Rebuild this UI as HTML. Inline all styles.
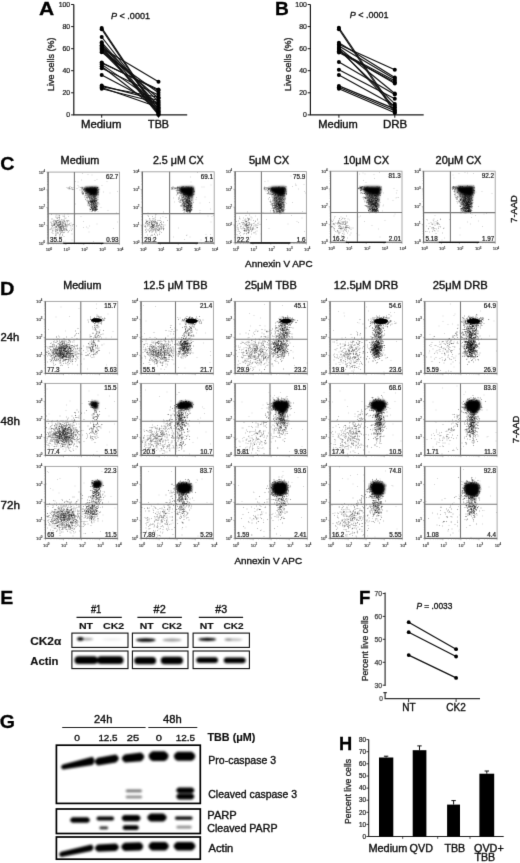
<!DOCTYPE html>
<html><head><meta charset="utf-8"><style>
html,body{margin:0;padding:0;background:#fff;}
body{width:520px;height:863px;overflow:hidden;}
svg{display:block;font-family:"Liberation Sans", sans-serif;will-change:transform;}
</style></head><body>
<svg width="520" height="863" viewBox="0 0 520 863">
<defs><filter id="gb" x="0" y="0" width="100%" height="100%" color-interpolation-filters="sRGB"><feConvolveMatrix order="3" kernelMatrix="0 1 0 1 8 1 0 1 0" edgeMode="duplicate"/></filter></defs>
<g filter="url(#gb)">
<rect width="520" height="863" fill="#fff"/>
<defs><filter id="b1" x="-30%" y="-60%" width="160%" height="220%"><feGaussianBlur stdDeviation="0.9"/></filter><filter id="b2" x="-30%" y="-60%" width="160%" height="220%"><feGaussianBlur stdDeviation="1.3"/></filter><filter id="b3" x="-30%" y="-30%" width="160%" height="160%"><feGaussianBlur stdDeviation="0.35"/></filter><filter id="bp" x="-5%" y="-5%" width="110%" height="110%"><feGaussianBlur stdDeviation="1.2"/></filter></defs>
<path d="M73.8 4.5V114.9H187.2" stroke="#1a1a1a" stroke-width="1.2" fill="none"/>
<path d="M71.1 114.9H73.8" stroke="#1a1a1a" stroke-width="1"/>
<text x="70.2" y="117.4" font-size="6.9" text-anchor="end" fill="#222" stroke="#222" stroke-width="0.24">0</text>
<path d="M71.1 92.8H73.8" stroke="#1a1a1a" stroke-width="1"/>
<text x="70.2" y="95.3" font-size="6.9" text-anchor="end" fill="#222" stroke="#222" stroke-width="0.24">20</text>
<path d="M71.1 70.7H73.8" stroke="#1a1a1a" stroke-width="1"/>
<text x="70.2" y="73.2" font-size="6.9" text-anchor="end" fill="#222" stroke="#222" stroke-width="0.24">40</text>
<path d="M71.1 48.7H73.8" stroke="#1a1a1a" stroke-width="1"/>
<text x="70.2" y="51.1" font-size="6.9" text-anchor="end" fill="#222" stroke="#222" stroke-width="0.24">60</text>
<path d="M71.1 26.6H73.8" stroke="#1a1a1a" stroke-width="1"/>
<text x="70.2" y="29" font-size="6.9" text-anchor="end" fill="#222" stroke="#222" stroke-width="0.24">80</text>
<path d="M71.1 4.5H73.8" stroke="#1a1a1a" stroke-width="1"/>
<text x="70.2" y="7" font-size="6.9" text-anchor="end" fill="#222" stroke="#222" stroke-width="0.24">100</text>
<path d="M101.7 114.9V117.7" stroke="#1a1a1a" stroke-width="1"/>
<path d="M158.5 114.9V117.7" stroke="#1a1a1a" stroke-width="1"/>
<text x="81" y="127.5" font-size="10.2" fill="#111" stroke="#111" stroke-width="0.36" textLength="40.4" lengthAdjust="spacingAndGlyphs">Medium</text>
<text x="148.1" y="127.5" font-size="10.2" fill="#111" stroke="#111" stroke-width="0.36" textLength="20.9" lengthAdjust="spacingAndGlyphs">TBB</text>
<text x="54.4" y="64.2" font-size="9" text-anchor="middle" fill="#222" stroke="#222" stroke-width="0.32" transform="rotate(-90 54.4 64.2)" textLength="53.5" lengthAdjust="spacingAndGlyphs">Live cells (%)</text>
<text x="38.9" y="14.6" font-size="18.4" font-weight="bold" stroke="#000" stroke-width="0.28" textLength="15.2" lengthAdjust="spacingAndGlyphs">A</text>
<text x="111" y="18.8" font-size="8.8" fill="#111" stroke="#111" stroke-width="0.31" textLength="39" lengthAdjust="spacingAndGlyphs"><tspan font-style="italic">P</tspan> &lt; .0001</text>
<line x1="101.7" y1="27.9" x2="158.5" y2="112.7" stroke="#111" stroke-width="1.15"/>
<line x1="101.7" y1="29.2" x2="158.5" y2="114.3" stroke="#111" stroke-width="1.15"/>
<line x1="101.7" y1="37" x2="158.5" y2="109.4" stroke="#111" stroke-width="1.15"/>
<line x1="101.7" y1="42.3" x2="158.5" y2="106.1" stroke="#111" stroke-width="1.15"/>
<line x1="101.7" y1="43.8" x2="158.5" y2="111.6" stroke="#111" stroke-width="1.15"/>
<line x1="101.7" y1="45.2" x2="158.5" y2="101.7" stroke="#111" stroke-width="1.15"/>
<line x1="101.7" y1="47.1" x2="158.5" y2="113.8" stroke="#111" stroke-width="1.15"/>
<line x1="101.7" y1="48.1" x2="158.5" y2="81.8" stroke="#111" stroke-width="1.15"/>
<line x1="101.7" y1="49.7" x2="158.5" y2="98.3" stroke="#111" stroke-width="1.15"/>
<line x1="101.7" y1="51" x2="158.5" y2="108.3" stroke="#111" stroke-width="1.15"/>
<line x1="101.7" y1="52.3" x2="158.5" y2="92.8" stroke="#111" stroke-width="1.15"/>
<line x1="101.7" y1="62.5" x2="158.5" y2="90.6" stroke="#111" stroke-width="1.15"/>
<line x1="101.7" y1="64.4" x2="158.5" y2="103.9" stroke="#111" stroke-width="1.15"/>
<line x1="101.7" y1="66.3" x2="158.5" y2="110.5" stroke="#111" stroke-width="1.15"/>
<line x1="101.7" y1="68.3" x2="158.5" y2="95" stroke="#111" stroke-width="1.15"/>
<line x1="101.7" y1="75" x2="158.5" y2="105" stroke="#111" stroke-width="1.15"/>
<line x1="101.7" y1="85.6" x2="158.5" y2="100.5" stroke="#111" stroke-width="1.15"/>
<line x1="101.7" y1="87.5" x2="158.5" y2="107.2" stroke="#111" stroke-width="1.15"/>
<line x1="101.7" y1="88.8" x2="158.5" y2="102.8" stroke="#111" stroke-width="1.15"/>
<line x1="101.7" y1="86.7" x2="158.5" y2="97.2" stroke="#111" stroke-width="1.15"/>
<line x1="101.7" y1="45.9" x2="158.5" y2="114.9" stroke="#111" stroke-width="1.15"/>
<line x1="101.7" y1="48.7" x2="158.5" y2="112.1" stroke="#111" stroke-width="1.15"/>
<line x1="101.7" y1="63" x2="158.5" y2="89.5" stroke="#111" stroke-width="1.15"/>
<circle cx="101.7" cy="27.9" r="2"/>
<circle cx="158.5" cy="112.7" r="2"/>
<circle cx="101.7" cy="29.2" r="2"/>
<circle cx="158.5" cy="114.3" r="2"/>
<circle cx="101.7" cy="37" r="2"/>
<circle cx="158.5" cy="109.4" r="2"/>
<circle cx="101.7" cy="42.3" r="2"/>
<circle cx="158.5" cy="106.1" r="2"/>
<circle cx="101.7" cy="43.8" r="2"/>
<circle cx="158.5" cy="111.6" r="2"/>
<circle cx="101.7" cy="45.2" r="2"/>
<circle cx="158.5" cy="101.7" r="2"/>
<circle cx="101.7" cy="47.1" r="2"/>
<circle cx="158.5" cy="113.8" r="2"/>
<circle cx="101.7" cy="48.1" r="2"/>
<circle cx="158.5" cy="81.8" r="2"/>
<circle cx="101.7" cy="49.7" r="2"/>
<circle cx="158.5" cy="98.3" r="2"/>
<circle cx="101.7" cy="51" r="2"/>
<circle cx="158.5" cy="108.3" r="2"/>
<circle cx="101.7" cy="52.3" r="2"/>
<circle cx="158.5" cy="92.8" r="2"/>
<circle cx="101.7" cy="62.5" r="2"/>
<circle cx="158.5" cy="90.6" r="2"/>
<circle cx="101.7" cy="64.4" r="2"/>
<circle cx="158.5" cy="103.9" r="2"/>
<circle cx="101.7" cy="66.3" r="2"/>
<circle cx="158.5" cy="110.5" r="2"/>
<circle cx="101.7" cy="68.3" r="2"/>
<circle cx="158.5" cy="95" r="2"/>
<circle cx="101.7" cy="75" r="2"/>
<circle cx="158.5" cy="105" r="2"/>
<circle cx="101.7" cy="85.6" r="2"/>
<circle cx="158.5" cy="100.5" r="2"/>
<circle cx="101.7" cy="87.5" r="2"/>
<circle cx="158.5" cy="107.2" r="2"/>
<circle cx="101.7" cy="88.8" r="2"/>
<circle cx="158.5" cy="102.8" r="2"/>
<circle cx="101.7" cy="86.7" r="2"/>
<circle cx="158.5" cy="97.2" r="2"/>
<circle cx="101.7" cy="45.9" r="2"/>
<circle cx="158.5" cy="114.9" r="2"/>
<circle cx="101.7" cy="48.7" r="2"/>
<circle cx="158.5" cy="112.1" r="2"/>
<circle cx="101.7" cy="63" r="2"/>
<circle cx="158.5" cy="89.5" r="2"/>
<path d="M310.4 4.5V114.9H423.7" stroke="#1a1a1a" stroke-width="1.2" fill="none"/>
<path d="M307.7 114.9H310.4" stroke="#1a1a1a" stroke-width="1"/>
<text x="306.8" y="117.4" font-size="6.9" text-anchor="end" fill="#222" stroke="#222" stroke-width="0.24">0</text>
<path d="M307.7 92.8H310.4" stroke="#1a1a1a" stroke-width="1"/>
<text x="306.8" y="95.3" font-size="6.9" text-anchor="end" fill="#222" stroke="#222" stroke-width="0.24">20</text>
<path d="M307.7 70.7H310.4" stroke="#1a1a1a" stroke-width="1"/>
<text x="306.8" y="73.2" font-size="6.9" text-anchor="end" fill="#222" stroke="#222" stroke-width="0.24">40</text>
<path d="M307.7 48.7H310.4" stroke="#1a1a1a" stroke-width="1"/>
<text x="306.8" y="51.1" font-size="6.9" text-anchor="end" fill="#222" stroke="#222" stroke-width="0.24">60</text>
<path d="M307.7 26.6H310.4" stroke="#1a1a1a" stroke-width="1"/>
<text x="306.8" y="29" font-size="6.9" text-anchor="end" fill="#222" stroke="#222" stroke-width="0.24">80</text>
<path d="M307.7 4.5H310.4" stroke="#1a1a1a" stroke-width="1"/>
<text x="306.8" y="7" font-size="6.9" text-anchor="end" fill="#222" stroke="#222" stroke-width="0.24">100</text>
<path d="M338.9 114.9V117.7" stroke="#1a1a1a" stroke-width="1"/>
<path d="M394.8 114.9V117.7" stroke="#1a1a1a" stroke-width="1"/>
<text x="318.3" y="127.5" font-size="10.2" fill="#111" stroke="#111" stroke-width="0.36" textLength="39.5" lengthAdjust="spacingAndGlyphs">Medium</text>
<text x="382.9" y="127.5" font-size="10.2" fill="#111" stroke="#111" stroke-width="0.36" textLength="24.3" lengthAdjust="spacingAndGlyphs">DRB</text>
<text x="291" y="64.2" font-size="9" text-anchor="middle" fill="#222" stroke="#222" stroke-width="0.32" transform="rotate(-90 291 64.2)" textLength="53.5" lengthAdjust="spacingAndGlyphs">Live cells (%)</text>
<text x="274.9" y="14.6" font-size="18.4" font-weight="bold" stroke="#000" stroke-width="0.28" textLength="13.8" lengthAdjust="spacingAndGlyphs">B</text>
<text x="349.7" y="17.9" font-size="8.8" fill="#111" stroke="#111" stroke-width="0.31" textLength="38.8" lengthAdjust="spacingAndGlyphs"><tspan font-style="italic">P</tspan> &lt; .0001</text>
<line x1="338.9" y1="27.7" x2="394.8" y2="110.8" stroke="#111" stroke-width="1.15"/>
<line x1="338.9" y1="29.3" x2="394.8" y2="112.7" stroke="#111" stroke-width="1.15"/>
<line x1="338.9" y1="42.7" x2="394.8" y2="77.4" stroke="#111" stroke-width="1.15"/>
<line x1="338.9" y1="44.4" x2="394.8" y2="69.7" stroke="#111" stroke-width="1.15"/>
<line x1="338.9" y1="46.1" x2="394.8" y2="78.9" stroke="#111" stroke-width="1.15"/>
<line x1="338.9" y1="47.8" x2="394.8" y2="93.5" stroke="#111" stroke-width="1.15"/>
<line x1="338.9" y1="49.7" x2="394.8" y2="103.9" stroke="#111" stroke-width="1.15"/>
<line x1="338.9" y1="51.2" x2="394.8" y2="80.8" stroke="#111" stroke-width="1.15"/>
<line x1="338.9" y1="52.6" x2="394.8" y2="82.3" stroke="#111" stroke-width="1.15"/>
<line x1="338.9" y1="48.7" x2="394.8" y2="107.3" stroke="#111" stroke-width="1.15"/>
<line x1="338.9" y1="50.9" x2="394.8" y2="83.5" stroke="#111" stroke-width="1.15"/>
<line x1="338.9" y1="61.9" x2="394.8" y2="94.6" stroke="#111" stroke-width="1.15"/>
<line x1="338.9" y1="69.7" x2="394.8" y2="98.8" stroke="#111" stroke-width="1.15"/>
<line x1="338.9" y1="75" x2="394.8" y2="105.7" stroke="#111" stroke-width="1.15"/>
<line x1="338.9" y1="85.9" x2="394.8" y2="108.9" stroke="#111" stroke-width="1.15"/>
<line x1="338.9" y1="87.2" x2="394.8" y2="110.8" stroke="#111" stroke-width="1.15"/>
<line x1="338.9" y1="88.8" x2="394.8" y2="112.7" stroke="#111" stroke-width="1.15"/>
<circle cx="338.9" cy="27.7" r="2"/>
<circle cx="394.8" cy="110.8" r="2"/>
<circle cx="338.9" cy="29.3" r="2"/>
<circle cx="394.8" cy="112.7" r="2"/>
<circle cx="338.9" cy="42.7" r="2"/>
<circle cx="394.8" cy="77.4" r="2"/>
<circle cx="338.9" cy="44.4" r="2"/>
<circle cx="394.8" cy="69.7" r="2"/>
<circle cx="338.9" cy="46.1" r="2"/>
<circle cx="394.8" cy="78.9" r="2"/>
<circle cx="338.9" cy="47.8" r="2"/>
<circle cx="394.8" cy="93.5" r="2"/>
<circle cx="338.9" cy="49.7" r="2"/>
<circle cx="394.8" cy="103.9" r="2"/>
<circle cx="338.9" cy="51.2" r="2"/>
<circle cx="394.8" cy="80.8" r="2"/>
<circle cx="338.9" cy="52.6" r="2"/>
<circle cx="394.8" cy="82.3" r="2"/>
<circle cx="338.9" cy="48.7" r="2"/>
<circle cx="394.8" cy="107.3" r="2"/>
<circle cx="338.9" cy="50.9" r="2"/>
<circle cx="394.8" cy="83.5" r="2"/>
<circle cx="338.9" cy="61.9" r="2"/>
<circle cx="394.8" cy="94.6" r="2"/>
<circle cx="338.9" cy="69.7" r="2"/>
<circle cx="394.8" cy="98.8" r="2"/>
<circle cx="338.9" cy="75" r="2"/>
<circle cx="394.8" cy="105.7" r="2"/>
<circle cx="338.9" cy="85.9" r="2"/>
<circle cx="394.8" cy="108.9" r="2"/>
<circle cx="338.9" cy="87.2" r="2"/>
<circle cx="394.8" cy="110.8" r="2"/>
<circle cx="338.9" cy="88.8" r="2"/>
<circle cx="394.8" cy="112.7" r="2"/>
<text x=".3" y="170.2" font-size="19" font-weight="bold" stroke="#000" stroke-width="0.28" textLength="14.2" lengthAdjust="spacingAndGlyphs">C</text>
<text x="60.6" y="164" font-size="10.0" fill="#111" stroke="#111" stroke-width="0.35" textLength="38.7" lengthAdjust="spacingAndGlyphs">Medium</text>
<rect x="48.1" y="172.1" width="71.3" height="71.1" fill="none" stroke="#a0a0a0" stroke-width="0.9"/>
<path d="M48.1 172.1V243.2H119.4" stroke="#666" stroke-width="1.1" fill="none"/>
<path d="M48.1 237.8h-1M53.5 243.2v1M48.1 234.7h-1M56.6 243.2v1M48.1 232.5h-1M58.8 243.2v1M48.1 230.8h-1M60.6 243.2v1M48.1 229.4h-1M62 243.2v1M48.1 228.2h-1M63.2 243.2v1M48.1 227.1h-1M64.2 243.2v1M48.1 226.2h-1M65.1 243.2v1M48.1 220.1h-1M71.3 243.2v1M48.1 216.9h-1M74.4 243.2v1M48.1 214.7h-1M76.7 243.2v1M48.1 213h-1M78.4 243.2v1M48.1 211.6h-1M79.8 243.2v1M48.1 210.4h-1M81 243.2v1M48.1 209.4h-1M82 243.2v1M48.1 208.5h-1M82.9 243.2v1M48.1 202.3h-1M89.1 243.2v1M48.1 199.2h-1M92.3 243.2v1M48.1 196.9h-1M94.5 243.2v1M48.1 195.2h-1M96.2 243.2v1M48.1 193.8h-1M97.6 243.2v1M48.1 192.6h-1M98.8 243.2v1M48.1 191.6h-1M99.8 243.2v1M48.1 190.7h-1M100.8 243.2v1M48.1 184.5h-1M106.9 243.2v1M48.1 181.4h-1M110.1 243.2v1M48.1 179.2h-1M112.3 243.2v1M48.1 177.5h-1M114 243.2v1M48.1 176h-1M115.4 243.2v1M48.1 174.9h-1M116.6 243.2v1M48.1 173.8h-1M117.7 243.2v1M48.1 172.9h-1M118.6 243.2v1M48.1 243.2h-1.8M48.1 243.2v1.8M48.1 225.4h-1.8M65.9 243.2v1.8M48.1 207.6h-1.8M83.8 243.2v1.8M48.1 189.9h-1.8M101.6 243.2v1.8M48.1 172.1h-1.8M119.4 243.2v1.8" stroke="#777" stroke-width="0.5" fill="none"/>
<path transform="scale(.5)" d="M108 455h0M130 447h0M107 451h0M125 462h0M108 440h0M127 456h0M135 461h0M119 449h0M146 449h0M112 442h0M121 453h0M117 451h0M123 458h0M131 454h0M102 458h0M106 450h0M105 452h0M112 454h0M153 452h0M128 440h0M117 458h0M119 455h0M121 443h0M126 445h0M139 447h0M127 452h0M130 446h0M130 451h0M133 458h0M121 445h0M128 456h0M136 449h0M126 457h0M123 454h0M122 446h0M110 448h0M126 466h0M130 462h0M128 458h0M122 459h0M138 449h0M113 470h0M122 461h0M129 442h0M144 468h0M122 459h0M121 444h0M119 455h0M131 459h0M121 464h0M112 459h0M131 449h0M102 444h0M122 457h0M135 443h0M120 458h0M118 430h0M128 473h0M130 444h0M116 454h0M145 458h0M121 466h0M119 469h0M113 448h0M127 465h0M127 455h0M102 445h0M114 447h0M126 449h0M128 453h0M117 453h0M124 460h0M115 450h0M106 467h0M135 450h0M115 441h0M122 454h0M142 454h0M112 430h0M134 454h0M104 454h0M104 484h0M131 457h0M118 432h0M119 438h0M126 432h0M111 463h0M136 441h0M105 460h0M129 443h0M113 446h0M108 446h0M133 458h0M141 451h0M119 443h0M119 440h0M102 458h0M134 460h0M133 454h0M113 453h0M116 442h0M103 438h0M120 453h0M115 465h0M122 457h0M132 444h0M100 459h0M113 464h0M123 461h0M128 433h0M127 446h0M112 448h0M128 460h0M130 437h0M114 430h0M119 458h0M112 454h0M122 461h0M112 444h0M112 468h0M131 451h0M122 453h0M122 450h0M117 440h0M114 467h0M125 453h0M118 453h0M124 446h0M122 454h0M113 445h0M110 442h0M129 430h0M117 446h0M114 453h0M131 453h0M119 446h0M119 460h0M116 441h0M107 442h0M106 462h0M124 450h0M135 446h0M128 459h0M105 438h0M111 460h0M133 441h0M130 448h0M116 447h0M117 435h0M110 441h0M125 471h0M147 449h0M103 448h0M111 470h0M126 445h0M129 457h0M104 447h0M118 452h0M121 449h0M122 447h0M111 466h0M124 456h0M104 450h0M128 440h0M131 448h0M124 451h0M122 463h0M116 466h0M112 443h0M127 442h0M116 460h0M132 436h0M125 469h0M132 450h0M114 449h0M108 450h0M118 451h0M132 450h0M105 462h0M109 448h0M119 449h0M110 450h0M142 446h0M119 462h0M127 459h0M129 434h0M111 453h0M125 464h0M125 450h0M120 450h0M122 458h0M117 445h0M111 462h0M133 461h0M129 460h0M120 458h0M109 450h0M113 459h0M114 451h0M124 464h0M112 443h0M128 442h0M125 447h0M119 435h0M127 447h0M111 471h0M127 484h0M124 449h0M121 467h0M120 456h0M125 444h0M121 447h0M108 460h0M127 453h0M111 434h0M125 451h0M103 451h0M105 452h0M121 455h0M122 454h0M109 448h0M115 450h0M123 458h0M136 428h0M124 450h0M143 461h0M103 456h0M115 461h0M109 451h0M119 451h0M114 435h0M125 461h0M119 443h0M122 457h0M118 452h0M134 442h0M114 434h0M113 445h0M110 446h0M138 450h0M119 472h0M119 436h0M124 443h0M136 441h0M114 437h0M121 443h0M119 449h0M114 461h0M129 453h0M111 442h0M123 474h0M115 445h0M113 442h0M110 450h0M134 452h0M115 437h0M122 452h0M108 442h0M120 461h0M126 454h0M117 455h0M120 472h0M109 449h0M133 450h0M134 452h0M121 449h0M106 443h0M142 458h0M126 461h0M126 461h0M117 450h0M130 449h0M107 450h0M115 458h0M113 442h0M117 466h0M120 453h0M120 455h0M129 465h0M104 465h0M120 449h0M144 450h0M139 461h0M110 456h0M127 451h0M118 442h0M138 450h0M116 449h0M112 445h0M121 455h0M115 451h0M106 457h0M113 454h0M111 447h0M122 441h0M145 452h0M119 445h0M136 465h0M123 439h0M115 458h0M115 441h0M108 445h0M120 446h0M120 478h0M138 442h0M123 453h0M119 462h0M117 449h0M116 451h0M133 459h0M107 448h0M112 460h0M122 460h0M119 434h0M125 454h0M125 440h0M121 446h0M113 455h0M124 444h0M103 429h0M114 462h0M119 431h0M111 456h0M137 463h0M124 454h0M109 448h0M117 445h0M121 448h0M123 465h0M127 456h0" stroke="#000" stroke-opacity="0.3" stroke-width="2.0" stroke-linecap="round" fill="none" filter="url(#bp)"/>
<path transform="scale(.5)" d="M199 408h0M196 423h0M156 364h0M156 371h0M216 421h0M194 359h0M178 392h0M175 411h0M235 383h0M202 415h0M190 361h0M233 426h0M151 408h0M184 350h0M163 360h0M214 363h0M151 363h0M220 386h0M207 384h0M165 347h0M176 349h0M172 396h0M182 384h0M204 371h0M180 418h0M179 452h0M173 454h0M144 480h0M130 482h0M217 478h0M120 457h0M235 444h0M121 469h0M130 461h0M119 482h0M137 433h0M194 448h0M176 456h0M227 457h0M151 428h0M167 443h0M178 464h0M162 433h0M167 455h0M187 483h0" stroke="#000" stroke-opacity="0.2" stroke-width="2.0" stroke-linecap="round" fill="none" filter="url(#bp)"/>
<path transform="scale(.5)" d="M190 414h0M189 403h0M177 402h0M194 418h0M188 420h0M184 400h0M193 420h0M183 404h0M184 404h0M189 418h0M189 418h0M186 420h0M184 387h0M191 421h0M181 414h0M172 391h0M193 416h0M189 395h0M184 412h0M190 410h0M183 405h0M187 407h0M190 415h0M190 416h0M192 419h0M191 419h0M190 408h0M179 403h0M195 414h0M183 397h0M194 401h0M187 394h0M184 417h0M193 410h0M172 390h0M189 399h0M183 411h0M189 397h0M186 401h0M192 398h0M187 417h0M182 406h0M193 391h0M187 407h0M196 399h0M182 387h0M190 403h0M176 394h0M181 402h0M196 410h0M186 400h0M189 389h0M192 418h0M181 414h0M186 408h0M186 418h0M187 416h0M185 417h0M187 410h0M182 403h0M179 390h0M189 403h0M182 390h0M190 418h0M180 388h0M186 408h0M196 388h0M184 410h0M187 403h0M188 405h0M179 399h0M190 419h0M186 414h0M173 394h0M190 413h0M190 418h0M177 393h0M176 405h0M188 418h0M192 415h0M183 403h0M189 404h0M192 421h0M179 387h0M188 403h0M191 408h0M190 418h0M189 421h0M186 404h0M190 423h0M192 415h0M182 414h0M178 390h0M193 401h0M185 405h0M192 397h0M188 408h0M195 419h0M190 418h0M192 402h0M186 399h0M178 408h0M175 392h0M185 412h0M190 411h0M179 418h0M184 398h0M181 410h0M183 407h0M178 411h0M182 414h0M185 406h0M190 411h0M196 405h0M192 416h0M193 410h0M187 406h0M174 402h0M193 414h0M185 413h0M179 411h0M185 408h0M187 390h0M184 401h0M174 401h0M192 411h0M191 405h0M193 411h0M189 394h0M180 422h0M181 398h0M192 419h0M184 404h0M192 389h0M185 404h0M181 405h0M193 401h0M187 417h0M180 409h0M187 394h0M192 397h0M185 414h0M193 419h0M194 413h0M177 406h0M183 415h0M179 395h0M188 401h0M190 419h0M191 421h0M188 403h0M187 407h0M177 407h0M190 398h0M179 392h0M186 399h0M192 397h0M190 406h0M193 403h0M189 409h0M188 403h0M191 406h0M188 414h0M183 415h0M183 409h0M191 417h0M185 398h0M176 409h0M190 408h0M176 395h0M183 387h0M190 400h0M192 390h0M185 415h0M180 396h0M188 411h0M187 401h0M179 397h0M188 396h0M182 389h0M180 403h0M190 407h0M185 420h0M177 390h0M184 418h0M177 405h0M197 390h0M180 396h0M183 406h0M183 403h0M190 423h0M179 412h0M189 403h0M188 418h0M191 402h0M182 399h0M185 397h0M184 398h0M185 403h0M185 418h0M176 403h0M171 399h0M179 394h0M185 416h0M178 404h0M191 415h0M181 419h0M191 393h0M190 401h0M181 404h0M174 390h0M184 401h0M180 408h0M190 413h0M177 394h0M184 406h0M185 418h0M172 398h0M186 387h0M187 420h0M193 413h0M194 414h0M185 418h0M184 404h0M181 390h0M178 401h0M186 405h0M175 400h0M184 403h0M188 415h0M178 412h0M182 392h0M183 389h0M181 401h0M180 390h0M188 398h0M184 394h0M187 401h0M192 419h0M185 403h0M191 400h0M181 419h0M184 394h0M185 422h0M179 396h0M184 387h0M181 402h0M189 409h0M191 410h0M192 402h0M189 400h0M192 419h0M187 394h0M182 403h0M189 415h0M179 402h0M179 408h0M188 393h0M183 393h0M191 394h0M182 418h0M187 418h0M184 414h0M190 401h0M192 416h0M189 413h0M192 418h0M184 413h0M169 394h0M185 420h0M187 412h0M195 419h0M188 391h0M189 400h0M185 422h0M187 409h0M182 404h0M183 398h0M191 412h0M188 413h0M183 417h0M186 421h0M179 407h0M181 409h0M184 411h0M181 404h0M170 391h0M176 391h0M196 407h0M185 409h0M187 418h0M189 413h0M193 402h0M191 402h0M183 415h0M172 394h0M190 402h0M175 389h0M181 419h0M191 416h0M190 405h0M184 420h0M188 420h0M181 419h0M183 409h0M191 413h0M188 402h0M187 420h0M180 392h0M189 414h0M183 413h0M185 403h0M183 387h0M194 409h0M192 396h0M196 395h0M194 405h0M183 415h0M188 401h0M182 396h0M185 421h0M183 411h0M192 412h0M188 406h0M190 393h0M187 411h0M181 402h0M176 407h0M187 410h0M185 419h0M196 406h0M195 413h0M192 407h0M182 410h0M190 420h0M189 415h0M183 423h0M190 397h0M187 406h0M188 399h0M185 392h0M190 397h0M191 415h0M183 415h0M177 404h0M192 418h0M176 392h0M193 412h0M196 392h0M191 420h0M188 396h0M182 402h0M184 410h0M175 395h0M187 414h0M190 421h0M180 404h0M186 414h0M184 402h0M191 406h0M185 401h0M189 402h0M186 398h0M191 402h0M187 414h0M189 414h0M177 405h0M194 406h0M188 400h0M178 404h0M186 418h0M192 417h0M188 412h0M181 394h0M189 403h0M194 418h0M186 388h0M183 406h0M189 416h0M188 421h0M190 416h0M183 387h0M188 405h0M182 401h0M182 395h0M187 395h0M190 411h0M191 416h0M183 396h0M193 421h0M180 388h0M189 393h0M186 402h0M173 395h0M183 408h0M176 403h0M184 396h0M183 417h0M184 419h0M188 404h0M194 418h0M190 395h0M190 415h0M172 390h0M194 399h0M182 388h0M178 394h0M185 403h0M193 413h0M193 407h0M182 404h0M185 402h0M184 405h0M190 391h0M184 390h0M175 397h0M183 402h0M188 415h0M181 388h0M194 410h0M176 383h0M176 378h0M184 383h0M174 381h0M181 385h0M165 375h0M172 378h0M191 380h0M193 380h0M173 384h0M166 389h0M192 379h0M174 386h0M191 384h0M165 386h0M165 383h0M182 388h0M185 374h0M196 385h0M183 374h0M189 380h0M187 389h0M195 375h0M190 381h0M189 380h0M179 381h0M167 379h0M189 375h0M167 387h0M186 382h0M167 376h0M174 388h0M183 388h0M170 380h0M182 387h0M167 387h0M180 374h0M178 380h0M187 388h0M180 384h0M177 386h0M167 385h0M169 383h0M170 379h0M169 379h0M184 382h0M177 383h0M192 379h0M183 381h0M197 379h0M187 377h0M172 385h0M183 378h0M165 387h0M176 385h0M178 383h0M183 389h0M195 381h0M180 377h0M189 375h0M174 387h0M164 385h0M183 382h0M175 376h0M196 386h0M191 375h0M190 377h0M170 382h0M184 376h0M190 383h0M194 388h0M187 379h0M196 385h0M173 387h0M188 378h0M172 374h0M182 378h0M173 378h0M168 381h0M173 378h0M173 382h0M194 376h0M193 387h0M184 382h0M189 382h0M186 388h0M190 378h0M165 388h0M176 386h0M171 381h0M176 385h0M196 382h0M183 379h0M171 388h0M167 388h0M186 375h0M195 375h0M183 376h0M198 379h0M194 375h0M186 375h0M164 383h0M197 384h0M193 386h0M181 375h0M181 377h0M181 379h0M180 377h0M188 380h0M180 375h0M180 382h0M197 382h0M168 378h0M175 385h0M196 389h0M196 388h0M193 388h0M164 381h0M184 384h0M184 383h0M196 375h0M181 389h0M164 376h0M193 389h0M164 374h0M192 384h0M181 383h0M190 386h0M163 375h0M191 389h0M192 380h0M175 379h0M164 386h0M172 383h0M181 379h0M187 381h0M171 387h0M169 376h0M172 381h0M190 379h0M171 384h0M172 382h0M172 387h0M169 377h0M174 379h0M188 384h0M191 382h0M166 386h0M172 377h0M178 389h0M146 375h0M167 380h0M147 379h0M160 380h0M145 378h0M143 375h0M154 377h0M161 375h0M134 375h0M136 377h0M164 378h0M163 378h0M166 379h0M165 377h0M139 376h0M140 373h0M138 376h0M158 374h0M165 376h0M138 378h0M143 378h0M140 377h0M145 379h0M140 378h0M138 375h0" stroke="#000" stroke-opacity="0.33" stroke-width="2.0" stroke-linecap="round" fill="none" filter="url(#bp)"/>
<path d="M83.5 188.4 86.5 187 97 186.8 98.3 188.1 98 193.6 95 196.6 89.5 194.6 85.5 192.1Z" fill="#000" fill-opacity="1.0" filter="url(#b1)"/>
<path d="M87.5 193.6 97.5 193.6 97 206 92 206Z" fill="#000" fill-opacity="0.3" filter="url(#b2)"/>
<path d="M74.4 172.1V243.2M48.1 213.8H119.4" stroke="#7a7a7a" stroke-width="1.1" fill="none"/>
<text x="118.2" y="179.1" font-size="6.3" text-anchor="end" fill="#222" stroke="#222" stroke-width="0.22">62.7</text>
<text x="49.9" y="242.2" font-size="6.3" fill="#222" stroke="#222" stroke-width="0.22">35.5</text>
<text x="118.4" y="242.2" font-size="6.3" text-anchor="end" fill="#222" stroke="#222" stroke-width="0.22">0.93</text>
<path d="M63.3 243.4H103.4" stroke="#111" stroke-width="1.3"/>
<text x="41.9" y="244.6" font-size="4.3" text-anchor="middle" fill="#333" stroke="#333" stroke-width="0.15">10<tspan font-size="2.9" dy="-1.7">0</tspan></text>
<text x="41.9" y="226.8" font-size="4.3" text-anchor="middle" fill="#333" stroke="#333" stroke-width="0.15">10<tspan font-size="2.9" dy="-1.7">1</tspan></text>
<text x="41.9" y="209" font-size="4.3" text-anchor="middle" fill="#333" stroke="#333" stroke-width="0.15">10<tspan font-size="2.9" dy="-1.7">2</tspan></text>
<text x="41.9" y="191.3" font-size="4.3" text-anchor="middle" fill="#333" stroke="#333" stroke-width="0.15">10<tspan font-size="2.9" dy="-1.7">3</tspan></text>
<text x="41.9" y="173.5" font-size="4.3" text-anchor="middle" fill="#333" stroke="#333" stroke-width="0.15">10<tspan font-size="2.9" dy="-1.7">4</tspan></text>
<text x="48.9" y="251.4" font-size="4.3" text-anchor="middle" fill="#333" stroke="#333" stroke-width="0.15">10<tspan font-size="2.9" dy="-1.7">0</tspan></text>
<text x="66.7" y="251.4" font-size="4.3" text-anchor="middle" fill="#333" stroke="#333" stroke-width="0.15">10<tspan font-size="2.9" dy="-1.7">1</tspan></text>
<text x="84.5" y="251.4" font-size="4.3" text-anchor="middle" fill="#333" stroke="#333" stroke-width="0.15">10<tspan font-size="2.9" dy="-1.7">2</tspan></text>
<text x="102.4" y="251.4" font-size="4.3" text-anchor="middle" fill="#333" stroke="#333" stroke-width="0.15">10<tspan font-size="2.9" dy="-1.7">3</tspan></text>
<text x="120.2" y="251.4" font-size="4.3" text-anchor="middle" fill="#333" stroke="#333" stroke-width="0.15">10<tspan font-size="2.9" dy="-1.7">4</tspan></text>
<text x="152.9" y="164" font-size="10.0" fill="#111" stroke="#111" stroke-width="0.35" textLength="50.8" lengthAdjust="spacingAndGlyphs">2.5 μM CX</text>
<rect x="142.4" y="171.8" width="71.8" height="71.2" fill="none" stroke="#a0a0a0" stroke-width="0.9"/>
<path d="M142.4 171.8V243H214.2" stroke="#666" stroke-width="1.1" fill="none"/>
<path d="M142.4 237.6h-1M147.8 243v1M142.4 234.5h-1M151 243v1M142.4 232.3h-1M153.2 243v1M142.4 230.6h-1M154.9 243v1M142.4 229.1h-1M156.4 243v1M142.4 228h-1M157.6 243v1M142.4 226.9h-1M158.6 243v1M142.4 226h-1M159.5 243v1M142.4 219.8h-1M165.8 243v1M142.4 216.7h-1M168.9 243v1M142.4 214.5h-1M171.2 243v1M142.4 212.8h-1M172.9 243v1M142.4 211.3h-1M174.3 243v1M142.4 210.2h-1M175.5 243v1M142.4 209.1h-1M176.6 243v1M142.4 208.2h-1M177.5 243v1M142.4 202h-1M183.7 243v1M142.4 198.9h-1M186.9 243v1M142.4 196.7h-1M189.1 243v1M142.4 195h-1M190.8 243v1M142.4 193.5h-1M192.3 243v1M142.4 192.4h-1M193.5 243v1M142.4 191.3h-1M194.5 243v1M142.4 190.4h-1M195.4 243v1M142.4 184.2h-1M201.7 243v1M142.4 181.1h-1M204.8 243v1M142.4 178.9h-1M207.1 243v1M142.4 177.2h-1M208.8 243v1M142.4 175.7h-1M210.2 243v1M142.4 174.6h-1M211.4 243v1M142.4 173.5h-1M212.5 243v1M142.4 172.6h-1M213.4 243v1M142.4 243h-1.8M142.4 243v1.8M142.4 225.2h-1.8M160.3 243v1.8M142.4 207.4h-1.8M178.3 243v1.8M142.4 189.6h-1.8M196.2 243v1.8M142.4 171.8h-1.8M214.2 243v1.8" stroke="#777" stroke-width="0.5" fill="none"/>
<path transform="scale(.5)" d="M306 450h0M319 466h0M317 454h0M327 454h0M301 461h0M301 442h0M314 462h0M304 444h0M309 458h0M298 449h0M314 456h0M327 460h0M300 456h0M293 458h0M291 460h0M324 450h0M315 454h0M307 444h0M307 455h0M295 470h0M296 450h0M305 450h0M304 471h0M306 450h0M314 447h0M292 465h0M307 462h0M319 469h0M315 454h0M291 460h0M299 464h0M303 443h0M308 451h0M310 461h0M323 454h0M322 454h0M293 444h0M307 451h0M314 444h0M296 460h0M305 470h0M298 446h0M332 435h0M291 453h0M299 450h0M320 450h0M308 459h0M299 437h0M311 452h0M315 446h0M304 450h0M311 460h0M311 430h0M304 446h0M300 446h0M312 429h0M312 459h0M315 446h0M292 440h0M303 470h0M300 452h0M320 463h0M308 458h0M324 457h0M310 445h0M305 449h0M292 445h0M323 443h0M295 443h0M311 460h0M315 470h0M302 455h0M309 450h0M323 448h0M310 441h0M314 452h0M298 444h0M296 450h0M306 451h0M303 462h0M312 456h0M308 444h0M315 470h0M323 458h0M299 445h0M303 457h0M307 450h0M315 459h0M299 444h0M313 457h0M303 456h0M293 444h0M311 443h0M312 447h0M321 445h0M313 453h0M297 433h0M311 443h0M311 472h0M292 454h0M298 445h0M294 448h0M323 465h0M303 447h0M299 448h0M302 453h0M296 460h0M307 452h0M306 438h0M317 451h0M322 454h0M318 458h0M308 455h0M306 437h0M299 457h0M299 440h0M300 453h0M291 446h0M304 449h0M296 426h0M300 462h0M321 445h0M322 459h0M306 442h0M303 446h0M308 438h0M293 448h0M301 455h0M298 460h0M319 441h0M311 464h0M307 460h0M305 452h0M304 448h0M323 446h0M291 447h0M313 445h0M318 461h0M309 449h0M303 445h0M327 458h0M305 454h0M313 466h0M317 452h0M300 438h0M309 469h0M311 456h0M303 448h0M293 442h0M326 454h0M319 448h0M318 457h0M296 431h0M289 453h0M315 448h0M304 460h0M306 443h0M312 462h0M288 450h0M303 443h0M320 456h0M328 457h0M303 448h0M313 451h0M305 451h0M305 458h0M297 448h0M306 460h0M311 464h0M307 454h0M305 454h0M309 450h0M302 450h0M323 449h0M300 445h0M310 444h0M304 448h0M314 450h0M316 460h0M309 446h0M304 465h0M321 441h0M310 445h0M327 452h0M294 444h0M295 443h0M308 444h0M316 441h0M310 436h0M304 457h0M304 460h0M309 468h0M312 447h0M302 459h0M327 459h0M295 447h0M293 443h0M311 434h0M301 472h0M307 454h0M305 452h0M335 441h0M305 445h0M327 424h0M305 478h0M322 457h0M308 442h0M317 461h0M316 461h0M304 453h0M295 447h0M305 433h0M313 449h0M302 441h0M312 446h0M319 451h0M307 455h0M322 453h0M312 453h0M299 463h0M305 463h0M316 451h0M326 449h0M291 454h0M309 453h0M303 453h0M310 457h0M318 460h0M306 451h0M327 457h0M321 436h0M293 463h0M311 439h0M321 452h0M324 456h0M319 459h0M307 448h0M330 450h0M305 455h0M315 448h0M327 444h0M296 441h0M319 449h0M308 443h0M308 449h0M307 478h0M313 446h0M314 459h0M319 457h0M305 441h0M308 453h0M295 452h0M314 451h0M304 454h0M306 456h0M318 459h0M296 452h0M291 451h0M305 454h0M303 453h0" stroke="#000" stroke-opacity="0.3" stroke-width="2.0" stroke-linecap="round" fill="none" filter="url(#bp)"/>
<path transform="scale(.5)" d="M382 364h0M421 418h0M383 411h0M370 407h0M408 374h0M404 374h0M354 379h0M349 404h0M361 386h0M410 394h0M419 405h0M400 406h0M400 421h0M392 399h0M388 389h0M422 370h0M356 386h0M367 404h0M395 345h0M358 396h0M374 401h0M381 354h0M400 425h0M347 396h0M393 395h0M357 456h0M426 477h0M347 474h0M380 474h0M427 431h0M316 441h0M402 480h0M318 455h0M412 469h0M369 479h0M416 432h0M422 444h0M373 471h0M327 445h0M414 473h0M424 433h0M374 470h0M421 469h0M326 433h0M310 442h0" stroke="#000" stroke-opacity="0.2" stroke-width="2.0" stroke-linecap="round" fill="none" filter="url(#bp)"/>
<path transform="scale(.5)" d="M382 391h0M365 407h0M382 413h0M362 391h0M367 395h0M370 414h0M367 406h0M376 410h0M376 392h0M371 400h0M374 412h0M383 411h0M374 416h0M381 416h0M379 402h0M378 418h0M381 405h0M369 419h0M375 420h0M383 413h0M384 420h0M378 420h0M376 405h0M379 397h0M371 402h0M370 410h0M374 424h0M378 405h0M376 400h0M358 403h0M370 403h0M378 425h0M374 400h0M380 417h0M373 402h0M379 401h0M379 397h0M373 422h0M372 390h0M378 396h0M369 422h0M359 392h0M376 415h0M375 421h0M367 391h0M364 392h0M376 396h0M374 420h0M381 417h0M377 412h0M374 422h0M378 417h0M371 408h0M376 411h0M376 395h0M384 415h0M375 406h0M375 419h0M375 405h0M387 405h0M377 393h0M365 395h0M375 418h0M372 402h0M382 389h0M368 410h0M368 418h0M371 413h0M384 392h0M367 403h0M377 390h0M382 408h0M376 391h0M372 408h0M367 413h0M382 421h0M381 415h0M367 417h0M383 410h0M373 419h0M379 397h0M374 415h0M375 417h0M363 396h0M377 410h0M373 406h0M368 415h0M377 413h0M381 411h0M376 422h0M373 405h0M373 412h0M378 420h0M375 419h0M365 402h0M382 417h0M365 396h0M381 414h0M372 417h0M374 419h0M373 402h0M379 403h0M374 418h0M365 400h0M364 413h0M377 407h0M372 406h0M375 425h0M368 410h0M369 418h0M372 393h0M386 394h0M379 421h0M375 414h0M375 395h0M375 405h0M380 409h0M369 419h0M384 397h0M374 401h0M379 401h0M381 403h0M367 410h0M369 420h0M378 414h0M375 406h0M378 402h0M364 395h0M362 413h0M380 423h0M383 419h0M379 398h0M365 396h0M368 399h0M367 406h0M370 403h0M375 416h0M375 406h0M379 415h0M376 403h0M372 405h0M361 388h0M367 420h0M372 402h0M380 412h0M368 405h0M372 417h0M380 416h0M379 403h0M373 415h0M380 408h0M380 402h0M382 422h0M386 398h0M370 397h0M380 406h0M380 420h0M365 409h0M383 407h0M380 412h0M374 416h0M362 400h0M374 410h0M372 412h0M375 403h0M370 406h0M365 402h0M373 393h0M374 404h0M363 411h0M375 412h0M379 401h0M381 419h0M378 414h0M376 411h0M380 420h0M377 413h0M369 420h0M372 422h0M369 411h0M373 415h0M366 421h0M379 422h0M364 400h0M384 390h0M364 408h0M382 394h0M371 421h0M368 414h0M373 402h0M382 412h0M381 422h0M374 399h0M377 411h0M360 405h0M367 393h0M367 389h0M380 400h0M385 394h0M379 421h0M376 417h0M375 400h0M369 412h0M373 423h0M381 425h0M380 420h0M378 391h0M380 419h0M376 416h0M383 419h0M378 414h0M377 407h0M380 417h0M369 406h0M367 411h0M371 389h0M373 400h0M382 415h0M378 420h0M377 415h0M377 394h0M377 393h0M380 411h0M380 424h0M376 390h0M381 412h0M381 388h0M384 411h0M384 416h0M382 407h0M372 403h0M375 423h0M370 396h0M367 404h0M374 417h0M373 422h0M369 389h0M374 419h0M375 401h0M370 392h0M378 419h0M381 412h0M379 395h0M384 419h0M377 410h0M369 413h0M385 400h0M364 404h0M370 398h0M373 411h0M381 421h0M373 422h0M366 411h0M384 395h0M361 411h0M368 419h0M374 407h0M378 392h0M378 422h0M378 394h0M377 416h0M376 406h0M374 421h0M374 417h0M379 423h0M378 424h0M376 392h0M383 412h0M366 400h0M374 389h0M374 423h0M377 419h0M381 412h0M378 392h0M379 421h0M366 402h0M377 421h0M371 392h0M362 401h0M374 421h0M373 399h0M378 414h0M373 393h0M373 418h0M380 404h0M375 387h0M379 422h0M368 398h0M367 410h0M375 415h0M380 422h0M375 421h0M382 416h0M357 399h0M377 418h0M367 407h0M376 395h0M380 413h0M366 401h0M363 410h0M376 417h0M380 422h0M371 397h0M379 388h0M373 402h0M383 420h0M373 419h0M366 411h0M368 406h0M366 410h0M380 406h0M380 415h0M380 392h0M374 412h0M363 393h0M372 394h0M381 414h0M369 410h0M378 414h0M366 413h0M382 420h0M371 413h0M383 406h0M368 399h0M381 418h0M358 395h0M382 412h0M373 415h0M372 416h0M378 421h0M377 422h0M377 400h0M376 392h0M364 400h0M373 416h0M383 405h0M378 421h0M378 421h0M376 404h0M377 401h0M360 398h0M374 405h0M377 408h0M378 409h0M365 399h0M381 408h0M376 411h0M369 407h0M370 399h0M367 400h0M377 398h0M377 410h0M374 402h0M371 414h0M378 421h0M379 410h0M379 408h0M371 419h0M385 408h0M374 413h0M379 412h0M379 410h0M377 413h0M378 410h0M378 414h0M384 406h0M373 409h0M382 398h0M375 399h0M370 424h0M381 423h0M377 406h0M374 404h0M370 419h0M380 410h0M373 413h0M376 400h0M368 419h0M367 400h0M373 398h0M377 402h0M380 408h0M377 422h0M370 403h0M372 413h0M373 420h0M376 404h0M376 407h0M368 415h0M368 425h0M361 402h0M374 397h0M358 397h0M369 389h0M381 413h0M382 411h0M375 404h0M383 394h0M380 408h0M376 402h0M375 398h0M371 414h0M384 415h0M386 402h0M363 398h0M368 414h0M370 410h0M379 400h0M384 414h0M375 411h0M379 419h0M379 400h0M369 409h0M372 412h0M382 418h0M379 406h0M377 395h0M378 421h0M373 405h0M365 416h0M378 396h0M373 400h0M378 408h0M379 406h0M371 408h0M383 400h0M377 397h0M367 395h0M382 421h0M360 404h0M379 390h0M367 393h0M375 397h0M377 417h0M366 392h0M377 408h0M378 411h0M380 403h0M380 423h0M378 416h0M377 394h0M377 398h0M370 406h0M378 403h0M374 402h0M377 406h0M379 416h0M376 421h0M380 403h0M376 405h0M368 389h0M383 410h0M379 425h0M360 401h0M383 401h0M380 414h0M366 408h0M375 405h0M369 413h0M362 399h0M375 414h0M379 420h0M370 396h0M377 412h0M384 391h0M369 408h0M377 418h0M374 399h0M369 411h0M365 402h0M375 416h0M378 420h0M374 420h0M373 421h0M378 397h0M372 396h0M367 405h0M365 406h0M375 414h0M381 422h0M382 419h0M377 407h0M377 403h0M379 390h0M380 409h0M369 412h0M374 412h0M376 422h0M375 423h0M375 398h0M370 391h0M376 415h0M360 392h0M370 398h0M358 396h0M379 410h0M368 416h0M374 395h0M376 411h0M362 405h0M383 375h0M369 382h0M359 374h0M387 389h0M389 383h0M380 384h0M370 376h0M376 381h0M378 374h0M364 375h0M381 381h0M363 387h0M372 378h0M367 373h0M355 374h0M388 388h0M373 389h0M373 385h0M357 381h0M375 380h0M377 379h0M377 377h0M371 381h0M372 374h0M362 386h0M359 381h0M389 384h0M380 386h0M388 380h0M367 386h0M354 381h0M363 383h0M380 388h0M371 385h0M356 385h0M387 384h0M371 382h0M368 376h0M360 387h0M372 374h0M375 387h0M377 376h0M387 376h0M371 381h0M359 378h0M360 376h0M354 384h0M377 378h0M387 380h0M370 389h0M376 381h0M380 386h0M364 374h0M380 386h0M375 375h0M380 376h0M382 384h0M376 374h0M366 386h0M357 374h0M368 388h0M376 377h0M356 388h0M384 385h0M360 386h0M353 376h0M365 390h0M354 376h0M380 386h0M363 375h0M384 390h0M386 383h0M356 386h0M377 388h0M380 382h0M388 381h0M369 384h0M382 383h0M387 378h0M385 388h0M366 374h0M375 384h0M388 383h0M379 386h0M359 385h0M369 377h0M363 379h0M380 383h0M365 374h0M382 386h0M383 387h0M355 378h0M370 378h0M383 377h0M354 381h0M355 374h0M375 384h0M373 374h0M373 382h0M364 377h0M359 382h0M366 383h0M377 378h0M375 378h0M380 377h0M375 386h0M382 382h0M386 390h0M382 379h0M363 384h0M358 376h0M356 384h0M367 389h0M382 382h0M365 379h0M355 375h0M385 378h0M353 390h0M367 387h0M369 390h0M356 381h0M376 374h0M386 379h0M378 375h0M356 375h0M382 389h0M386 382h0M356 387h0M371 387h0M376 383h0M359 376h0M356 381h0M363 390h0M355 386h0M357 375h0M386 377h0M375 383h0M367 379h0M358 385h0M366 384h0M383 375h0M368 379h0M387 384h0M360 381h0M354 382h0M356 376h0M371 382h0M361 383h0M364 385h0M355 388h0M349 375h0M345 376h0M344 379h0M356 377h0M344 378h0M349 378h0M345 376h0M351 376h0M346 376h0M351 377h0M353 377h0M355 378h0M346 373h0M347 375h0M352 375h0M351 377h0M344 378h0M344 376h0M355 376h0M356 379h0M352 380h0M343 375h0M347 378h0M344 377h0M349 377h0" stroke="#000" stroke-opacity="0.33" stroke-width="2.0" stroke-linecap="round" fill="none" filter="url(#bp)"/>
<path d="M178.5 188.1 181.5 186.7 192.6 186.5 193.9 187.8 193.6 194.2 190.6 197.2 184.5 195.2 180.5 192.7Z" fill="#000" fill-opacity="1.0" filter="url(#b1)"/>
<path d="M182.5 194.2 193.1 194.2 191 206.8 185 206.8Z" fill="#000" fill-opacity="0.35" filter="url(#b2)"/>
<path d="M169.6 171.8V243M142.4 213.6H214.2" stroke="#7a7a7a" stroke-width="1.1" fill="none"/>
<text x="213" y="178.8" font-size="6.3" text-anchor="end" fill="#222" stroke="#222" stroke-width="0.22">69.1</text>
<text x="144.2" y="242" font-size="6.3" fill="#222" stroke="#222" stroke-width="0.22">29.2</text>
<text x="213.2" y="242" font-size="6.3" text-anchor="end" fill="#222" stroke="#222" stroke-width="0.22">1.5</text>
<path d="M157.7 243.2H198" stroke="#111" stroke-width="1.3"/>
<text x="136.2" y="244.4" font-size="4.3" text-anchor="middle" fill="#333" stroke="#333" stroke-width="0.15">10<tspan font-size="2.9" dy="-1.7">0</tspan></text>
<text x="136.2" y="226.6" font-size="4.3" text-anchor="middle" fill="#333" stroke="#333" stroke-width="0.15">10<tspan font-size="2.9" dy="-1.7">1</tspan></text>
<text x="136.2" y="208.8" font-size="4.3" text-anchor="middle" fill="#333" stroke="#333" stroke-width="0.15">10<tspan font-size="2.9" dy="-1.7">2</tspan></text>
<text x="136.2" y="191" font-size="4.3" text-anchor="middle" fill="#333" stroke="#333" stroke-width="0.15">10<tspan font-size="2.9" dy="-1.7">3</tspan></text>
<text x="136.2" y="173.2" font-size="4.3" text-anchor="middle" fill="#333" stroke="#333" stroke-width="0.15">10<tspan font-size="2.9" dy="-1.7">4</tspan></text>
<text x="143.2" y="251.2" font-size="4.3" text-anchor="middle" fill="#333" stroke="#333" stroke-width="0.15">10<tspan font-size="2.9" dy="-1.7">0</tspan></text>
<text x="161.2" y="251.2" font-size="4.3" text-anchor="middle" fill="#333" stroke="#333" stroke-width="0.15">10<tspan font-size="2.9" dy="-1.7">1</tspan></text>
<text x="179.1" y="251.2" font-size="4.3" text-anchor="middle" fill="#333" stroke="#333" stroke-width="0.15">10<tspan font-size="2.9" dy="-1.7">2</tspan></text>
<text x="197.1" y="251.2" font-size="4.3" text-anchor="middle" fill="#333" stroke="#333" stroke-width="0.15">10<tspan font-size="2.9" dy="-1.7">3</tspan></text>
<text x="215" y="251.2" font-size="4.3" text-anchor="middle" fill="#333" stroke="#333" stroke-width="0.15">10<tspan font-size="2.9" dy="-1.7">4</tspan></text>
<text x="248.9" y="164" font-size="10.0" fill="#111" stroke="#111" stroke-width="0.35" textLength="40.2" lengthAdjust="spacingAndGlyphs">5μM CX</text>
<rect x="235.2" y="171.6" width="71.2" height="71.2" fill="none" stroke="#a0a0a0" stroke-width="0.9"/>
<path d="M235.2 171.6V242.8H306.4" stroke="#666" stroke-width="1.1" fill="none"/>
<path d="M235.2 237.4h-1M240.6 242.8v1M235.2 234.3h-1M243.7 242.8v1M235.2 232.1h-1M245.9 242.8v1M235.2 230.4h-1M247.6 242.8v1M235.2 228.9h-1M249.1 242.8v1M235.2 227.8h-1M250.2 242.8v1M235.2 226.7h-1M251.3 242.8v1M235.2 225.8h-1M252.2 242.8v1M235.2 219.6h-1M258.4 242.8v1M235.2 216.5h-1M261.5 242.8v1M235.2 214.3h-1M263.7 242.8v1M235.2 212.6h-1M265.4 242.8v1M235.2 211.1h-1M266.9 242.8v1M235.2 210h-1M268 242.8v1M235.2 208.9h-1M269.1 242.8v1M235.2 208h-1M270 242.8v1M235.2 201.8h-1M276.2 242.8v1M235.2 198.7h-1M279.3 242.8v1M235.2 196.5h-1M281.5 242.8v1M235.2 194.8h-1M283.2 242.8v1M235.2 193.3h-1M284.7 242.8v1M235.2 192.2h-1M285.8 242.8v1M235.2 191.1h-1M286.9 242.8v1M235.2 190.2h-1M287.8 242.8v1M235.2 184h-1M294 242.8v1M235.2 180.9h-1M297.1 242.8v1M235.2 178.7h-1M299.3 242.8v1M235.2 177h-1M301 242.8v1M235.2 175.5h-1M302.5 242.8v1M235.2 174.4h-1M303.6 242.8v1M235.2 173.3h-1M304.7 242.8v1M235.2 172.4h-1M305.6 242.8v1M235.2 242.8h-1.8M235.2 242.8v1.8M235.2 225h-1.8M253 242.8v1.8M235.2 207.2h-1.8M270.8 242.8v1.8M235.2 189.4h-1.8M288.6 242.8v1.8M235.2 171.6h-1.8M306.4 242.8v1.8" stroke="#777" stroke-width="0.5" fill="none"/>
<path transform="scale(.5)" d="M486 449h0M497 455h0M487 436h0M503 460h0M503 451h0M476 448h0M514 455h0M496 437h0M488 461h0M497 451h0M506 458h0M499 450h0M498 461h0M497 441h0M492 449h0M498 464h0M493 448h0M501 456h0M486 456h0M496 455h0M479 434h0M479 437h0M504 461h0M481 465h0M483 445h0M515 440h0M501 459h0M505 458h0M497 466h0M493 453h0M498 449h0M493 463h0M510 458h0M493 448h0M490 449h0M490 451h0M492 462h0M480 448h0M502 448h0M490 457h0M493 443h0M496 458h0M477 460h0M477 458h0M481 454h0M494 461h0M493 448h0M487 454h0M492 460h0M498 463h0M501 454h0M493 458h0M502 440h0M498 449h0M497 459h0M475 451h0M504 436h0M496 452h0M489 460h0M503 452h0M508 465h0M496 460h0M503 468h0M502 458h0M495 459h0M510 452h0M493 443h0M520 449h0M489 447h0M506 455h0M474 454h0M512 452h0M495 479h0M492 450h0M501 474h0M499 438h0M493 450h0M502 449h0M496 441h0M482 453h0M511 443h0M479 463h0M498 460h0M493 455h0M493 452h0M512 449h0M490 452h0M493 468h0M493 456h0M482 457h0M501 458h0M479 447h0M493 467h0M514 462h0M488 450h0M502 434h0M508 466h0M503 450h0M498 438h0M485 448h0M487 468h0M499 430h0M506 457h0M492 446h0M515 455h0M497 438h0M489 461h0M496 448h0M491 438h0M480 438h0M498 461h0M491 462h0M495 424h0M511 442h0M510 450h0M494 448h0M484 458h0M511 464h0M489 457h0M505 458h0M481 471h0M487 445h0M496 454h0M489 440h0M482 452h0M476 463h0M501 454h0M496 444h0M489 461h0M489 467h0M505 459h0M492 444h0M493 443h0M491 449h0M489 463h0M485 445h0M506 455h0M499 447h0M498 464h0M495 456h0M507 458h0M507 441h0M477 442h0M499 446h0M474 469h0M507 447h0M488 446h0M502 456h0M496 465h0M486 441h0M494 452h0M495 456h0M479 467h0M476 455h0M498 460h0M497 445h0M492 440h0M493 450h0M476 472h0M488 457h0M507 452h0M490 442h0M487 446h0M493 460h0M496 466h0M498 454h0M497 439h0M494 446h0M492 452h0M491 452h0M498 455h0M488 461h0M495 456h0M512 468h0M516 450h0M498 457h0M495 451h0M503 463h0M516 447h0M499 445h0M492 431h0M515 438h0M495 436h0M491 443h0M473 443h0M492 451h0M475 458h0M491 442h0M509 446h0M497 466h0M495 451h0M504 448h0M495 451h0M490 459h0M497 465h0M498 439h0M498 450h0M492 461h0M498 437h0M514 451h0" stroke="#000" stroke-opacity="0.3" stroke-width="2.0" stroke-linecap="round" fill="none" filter="url(#bp)"/>
<path transform="scale(.5)" d="M526 425h0M609 383h0M561 390h0M597 378h0M605 423h0M547 392h0M608 369h0M611 386h0M582 352h0M558 398h0M541 424h0M558 391h0M592 370h0M585 405h0M592 371h0M553 392h0M562 383h0M573 407h0M536 362h0M534 387h0M541 421h0M541 381h0M591 368h0M530 363h0M585 373h0M604 436h0M514 455h0M518 444h0M486 456h0M576 448h0M609 463h0M522 448h0M511 432h0M538 457h0M583 431h0M476 479h0M522 468h0M594 443h0M496 472h0M514 456h0M472 460h0M533 439h0M499 480h0M597 445h0M516 446h0" stroke="#000" stroke-opacity="0.2" stroke-width="2.0" stroke-linecap="round" fill="none" filter="url(#bp)"/>
<path transform="scale(.5)" d="M562 411h0M565 414h0M552 422h0M553 420h0M563 421h0M561 415h0M566 396h0M552 426h0M560 417h0M552 405h0M556 421h0M547 422h0M567 416h0M546 407h0M559 420h0M550 396h0M547 421h0M564 405h0M554 421h0M561 417h0M556 391h0M562 412h0M558 406h0M547 396h0M568 399h0M562 426h0M562 401h0M561 409h0M561 416h0M561 408h0M553 418h0M559 425h0M568 408h0M549 407h0M546 403h0M569 409h0M551 411h0M557 411h0M557 408h0M557 389h0M559 398h0M563 425h0M559 415h0M555 399h0M554 413h0M548 423h0M555 406h0M567 411h0M556 407h0M567 399h0M545 396h0M564 420h0M559 413h0M564 408h0M569 411h0M557 411h0M564 423h0M556 417h0M558 417h0M566 412h0M559 420h0M549 416h0M554 409h0M552 401h0M559 402h0M563 413h0M557 405h0M566 417h0M549 422h0M560 394h0M550 402h0M559 409h0M563 413h0M559 418h0M550 415h0M553 416h0M556 423h0M553 424h0M560 399h0M567 396h0M560 407h0M561 396h0M558 390h0M564 409h0M550 391h0M551 390h0M559 403h0M558 409h0M558 396h0M558 416h0M567 399h0M556 407h0M565 398h0M550 414h0M549 405h0M566 420h0M556 393h0M559 422h0M549 420h0M559 421h0M563 419h0M549 411h0M564 423h0M547 418h0M554 408h0M557 411h0M561 418h0M554 400h0M558 407h0M553 397h0M542 409h0M560 412h0M570 405h0M550 394h0M563 415h0M550 398h0M559 412h0M561 421h0M560 416h0M547 425h0M554 403h0M550 416h0M565 416h0M565 413h0M559 409h0M561 423h0M558 419h0M554 408h0M569 401h0M557 409h0M554 414h0M555 419h0M560 421h0M560 423h0M556 409h0M553 407h0M554 394h0M566 393h0M553 401h0M555 416h0M549 425h0M554 416h0M556 413h0M561 410h0M555 419h0M559 421h0M566 420h0M561 425h0M563 409h0M554 414h0M541 404h0M568 415h0M550 416h0M565 396h0M552 419h0M546 416h0M551 411h0M554 387h0M566 390h0M568 386h0M561 400h0M551 392h0M551 415h0M550 408h0M556 414h0M564 419h0M558 396h0M557 423h0M547 416h0M551 414h0M558 414h0M564 396h0M563 413h0M554 410h0M558 414h0M546 404h0M549 391h0M565 405h0M570 392h0M552 405h0M556 413h0M562 415h0M555 425h0M554 408h0M566 406h0M559 424h0M560 418h0M557 416h0M551 426h0M558 415h0M547 416h0M562 404h0M559 416h0M558 393h0M552 415h0M565 389h0M555 403h0M549 400h0M566 408h0M562 416h0M553 424h0M557 391h0M566 405h0M556 391h0M558 410h0M564 404h0M550 403h0M558 424h0M555 405h0M565 422h0M550 416h0M556 417h0M560 390h0M561 399h0M545 407h0M563 419h0M553 424h0M551 404h0M544 417h0M553 402h0M567 408h0M555 424h0M560 397h0M562 407h0M568 403h0M566 408h0M567 405h0M558 403h0M559 412h0M562 395h0M557 412h0M563 427h0M548 411h0M554 394h0M556 405h0M560 424h0M557 398h0M562 398h0M561 425h0M559 410h0M556 417h0M562 420h0M564 391h0M553 397h0M560 398h0M546 407h0M543 390h0M549 402h0M557 419h0M558 397h0M557 392h0M560 401h0M558 408h0M568 420h0M564 423h0M550 395h0M558 422h0M552 395h0M554 423h0M557 418h0M562 411h0M552 414h0M563 400h0M559 395h0M554 398h0M545 409h0M547 400h0M547 396h0M561 417h0M559 402h0M550 412h0M561 402h0M546 399h0M544 411h0M560 404h0M557 390h0M552 413h0M562 395h0M561 390h0M542 388h0M564 420h0M551 422h0M546 421h0M558 399h0M569 391h0M566 405h0M558 411h0M550 406h0M561 415h0M562 409h0M554 395h0M568 424h0M562 414h0M559 423h0M561 411h0M558 397h0M565 414h0M550 407h0M557 400h0M557 396h0M551 409h0M567 423h0M549 412h0M545 401h0M561 415h0M560 426h0M554 417h0M549 409h0M543 407h0M549 396h0M568 404h0M546 411h0M547 411h0M559 426h0M554 401h0M561 403h0M552 406h0M552 402h0M567 420h0M563 420h0M551 389h0M570 396h0M549 397h0M545 413h0M549 387h0M561 391h0M546 416h0M563 404h0M561 412h0M564 396h0M561 416h0M562 417h0M541 404h0M559 390h0M559 425h0M554 396h0M553 407h0M554 421h0M552 414h0M563 403h0M563 399h0M546 390h0M567 419h0M565 419h0M549 397h0M562 405h0M560 396h0M567 413h0M563 398h0M549 416h0M565 421h0M568 416h0M556 410h0M557 422h0M564 406h0M569 414h0M559 404h0M556 404h0M560 396h0M562 392h0M565 396h0M549 392h0M569 398h0M558 388h0M559 409h0M569 393h0M558 408h0M552 398h0M553 410h0M567 392h0M557 409h0M563 391h0M551 389h0M560 416h0M548 416h0M557 409h0M546 394h0M568 414h0M552 411h0M564 400h0M553 401h0M559 423h0M559 417h0M554 410h0M544 409h0M559 409h0M565 423h0M565 401h0M554 396h0M566 418h0M564 397h0M564 406h0M567 409h0M557 410h0M564 421h0M561 403h0M561 413h0M556 388h0M562 416h0M567 422h0M564 413h0M558 399h0M557 424h0M540 389h0M560 426h0M541 400h0M566 420h0M568 389h0M568 412h0M558 396h0M560 420h0M551 395h0M557 403h0M562 399h0M555 423h0M544 392h0M553 411h0M559 411h0M563 417h0M562 392h0M545 389h0M551 396h0M563 418h0M560 417h0M556 392h0M554 426h0M559 402h0M558 404h0M549 424h0M558 422h0M545 414h0M558 405h0M560 424h0M570 398h0M543 404h0M556 399h0M568 391h0M560 411h0M564 402h0M562 419h0M561 398h0M551 390h0M560 389h0M559 413h0M560 417h0M561 407h0M558 392h0M562 417h0M567 421h0M557 407h0M555 413h0M558 405h0M564 417h0M537 398h0M544 394h0M563 408h0M565 406h0M548 401h0M550 412h0M568 417h0M551 400h0M570 419h0M554 417h0M569 387h0M553 413h0M557 418h0M566 392h0M551 416h0M558 415h0M548 418h0M561 423h0M553 395h0M564 398h0M568 414h0M557 409h0M549 398h0M547 421h0M555 401h0M561 390h0M561 394h0M559 400h0M566 404h0M553 398h0M558 408h0M549 401h0M551 388h0M553 404h0M560 412h0M566 414h0M548 410h0M560 422h0M567 410h0M558 408h0M558 416h0M562 408h0M560 415h0M552 411h0M548 426h0M550 399h0M547 400h0M563 414h0M545 411h0M565 419h0M568 426h0M564 421h0M553 422h0M564 425h0M548 392h0M553 418h0M557 422h0M562 408h0M552 403h0M560 397h0M561 416h0M559 411h0M561 410h0M568 421h0M558 420h0M566 424h0M561 391h0M561 408h0M549 394h0M554 418h0M566 426h0M562 422h0M559 412h0M547 420h0M550 417h0M563 411h0M555 418h0M559 412h0M556 407h0M561 421h0M551 419h0M558 410h0M539 395h0M568 420h0M556 406h0M562 415h0M557 408h0M560 428h0M563 388h0M557 393h0M562 411h0M559 403h0M567 400h0M559 414h0M557 415h0M555 413h0M554 393h0M556 421h0M556 395h0M563 415h0M570 396h0M556 390h0M571 398h0M557 426h0M559 390h0M552 398h0M540 403h0M553 403h0M547 406h0M555 423h0M553 420h0M554 394h0M560 406h0M566 392h0M552 419h0M554 408h0M553 410h0M545 389h0M561 408h0M550 398h0M558 418h0M554 414h0M557 419h0M562 410h0M563 400h0M558 403h0M548 423h0M542 382h0M560 384h0M561 385h0M558 376h0M556 378h0M535 381h0M572 381h0M564 383h0M536 382h0M573 384h0M546 388h0M561 388h0M567 383h0M553 382h0M547 387h0M540 389h0M548 380h0M558 378h0M558 374h0M568 375h0M568 387h0M565 385h0M542 382h0M537 385h0M565 377h0M552 375h0M560 384h0M537 383h0M569 376h0M570 378h0M536 375h0M564 376h0M568 380h0M538 386h0M548 375h0M535 378h0M553 381h0M557 374h0M535 387h0M551 385h0M569 383h0M563 377h0M543 381h0M573 389h0M544 383h0M546 379h0M546 389h0M550 381h0M538 387h0M538 386h0M544 377h0M537 379h0M572 379h0M548 385h0M544 385h0M572 387h0M537 386h0M565 386h0M557 375h0M561 382h0M554 385h0M542 379h0M559 388h0M573 387h0M545 380h0M555 381h0M538 379h0M571 379h0M569 387h0M555 388h0M572 373h0M558 388h0M547 379h0M541 387h0M557 383h0M558 388h0M555 382h0M552 379h0M572 384h0M554 375h0M559 374h0M553 377h0M550 377h0M544 380h0M540 377h0M562 375h0M567 380h0M543 386h0M549 379h0M535 376h0M571 381h0M552 383h0M538 376h0M568 383h0M547 387h0M546 380h0M565 387h0M546 389h0M543 377h0M555 382h0M556 381h0M565 377h0M552 384h0M569 377h0M549 381h0M545 381h0M571 377h0M567 387h0M554 379h0M540 382h0M567 379h0M545 386h0M541 382h0M564 381h0M546 383h0M548 384h0M565 386h0M565 375h0M545 384h0M559 387h0M552 374h0M538 374h0M556 378h0M536 388h0M537 379h0M565 384h0M543 389h0M552 386h0M551 384h0M572 374h0M557 383h0M572 383h0M545 375h0M556 376h0M548 389h0M542 376h0M561 381h0M570 378h0M564 380h0M573 388h0M542 379h0M553 381h0M558 384h0M541 384h0M566 380h0M545 377h0M558 375h0M543 378h0M561 385h0M556 376h0M532 382h0M533 379h0M537 377h0M530 378h0M532 376h0M532 375h0M529 376h0M530 380h0M539 377h0M528 376h0M537 379h0M534 377h0M533 376h0M536 376h0M537 378h0M537 377h0M530 379h0M539 379h0M539 377h0M528 378h0M529 374h0M536 381h0M530 375h0M530 378h0M529 377h0" stroke="#000" stroke-opacity="0.33" stroke-width="2.0" stroke-linecap="round" fill="none" filter="url(#bp)"/>
<path d="M269.5 188.1 272.5 186.7 284.6 186.5 285.9 187.8 285.6 193.6 282.6 196.6 275.5 194.6 271.5 192.1Z" fill="#000" fill-opacity="1.0" filter="url(#b1)"/>
<path d="M273.5 193.6 285.1 193.6 283.8 207.6 274.5 207.6Z" fill="#000" fill-opacity="0.4" filter="url(#b2)"/>
<path d="M261.4 171.6V242.8M235.2 213.3H306.4" stroke="#7a7a7a" stroke-width="1.1" fill="none"/>
<text x="305.2" y="178.6" font-size="6.3" text-anchor="end" fill="#222" stroke="#222" stroke-width="0.22">75.9</text>
<text x="237" y="241.8" font-size="6.3" fill="#222" stroke="#222" stroke-width="0.22">22.2</text>
<text x="305.4" y="241.8" font-size="6.3" text-anchor="end" fill="#222" stroke="#222" stroke-width="0.22">1.6</text>
<path d="M250.3 243H290.4" stroke="#111" stroke-width="1.3"/>
<text x="229" y="244.2" font-size="4.3" text-anchor="middle" fill="#333" stroke="#333" stroke-width="0.15">10<tspan font-size="2.9" dy="-1.7">0</tspan></text>
<text x="229" y="226.4" font-size="4.3" text-anchor="middle" fill="#333" stroke="#333" stroke-width="0.15">10<tspan font-size="2.9" dy="-1.7">1</tspan></text>
<text x="229" y="208.6" font-size="4.3" text-anchor="middle" fill="#333" stroke="#333" stroke-width="0.15">10<tspan font-size="2.9" dy="-1.7">2</tspan></text>
<text x="229" y="190.8" font-size="4.3" text-anchor="middle" fill="#333" stroke="#333" stroke-width="0.15">10<tspan font-size="2.9" dy="-1.7">3</tspan></text>
<text x="229" y="173" font-size="4.3" text-anchor="middle" fill="#333" stroke="#333" stroke-width="0.15">10<tspan font-size="2.9" dy="-1.7">4</tspan></text>
<text x="236" y="251" font-size="4.3" text-anchor="middle" fill="#333" stroke="#333" stroke-width="0.15">10<tspan font-size="2.9" dy="-1.7">0</tspan></text>
<text x="253.8" y="251" font-size="4.3" text-anchor="middle" fill="#333" stroke="#333" stroke-width="0.15">10<tspan font-size="2.9" dy="-1.7">1</tspan></text>
<text x="271.6" y="251" font-size="4.3" text-anchor="middle" fill="#333" stroke="#333" stroke-width="0.15">10<tspan font-size="2.9" dy="-1.7">2</tspan></text>
<text x="289.4" y="251" font-size="4.3" text-anchor="middle" fill="#333" stroke="#333" stroke-width="0.15">10<tspan font-size="2.9" dy="-1.7">3</tspan></text>
<text x="307.2" y="251" font-size="4.3" text-anchor="middle" fill="#333" stroke="#333" stroke-width="0.15">10<tspan font-size="2.9" dy="-1.7">4</tspan></text>
<text x="343.2" y="164" font-size="10.0" fill="#111" stroke="#111" stroke-width="0.35" textLength="45.9" lengthAdjust="spacingAndGlyphs">10μM CX</text>
<rect x="330.6" y="171.2" width="71.4" height="71" fill="none" stroke="#a0a0a0" stroke-width="0.9"/>
<path d="M330.6 171.2V242.2H402" stroke="#666" stroke-width="1.1" fill="none"/>
<path d="M330.6 236.9h-1M336 242.2v1M330.6 233.7h-1M339.1 242.2v1M330.6 231.5h-1M341.3 242.2v1M330.6 229.8h-1M343.1 242.2v1M330.6 228.4h-1M344.5 242.2v1M330.6 227.2h-1M345.7 242.2v1M330.6 226.2h-1M346.7 242.2v1M330.6 225.3h-1M347.6 242.2v1M330.6 219.1h-1M353.8 242.2v1M330.6 216h-1M357 242.2v1M330.6 213.8h-1M359.2 242.2v1M330.6 212h-1M360.9 242.2v1M330.6 210.6h-1M362.3 242.2v1M330.6 209.4h-1M363.5 242.2v1M330.6 208.4h-1M364.6 242.2v1M330.6 207.5h-1M365.5 242.2v1M330.6 201.4h-1M371.7 242.2v1M330.6 198.2h-1M374.8 242.2v1M330.6 196h-1M377 242.2v1M330.6 194.3h-1M378.8 242.2v1M330.6 192.9h-1M380.2 242.2v1M330.6 191.7h-1M381.4 242.2v1M330.6 190.7h-1M382.4 242.2v1M330.6 189.8h-1M383.3 242.2v1M330.6 183.6h-1M389.5 242.2v1M330.6 180.5h-1M392.7 242.2v1M330.6 178.3h-1M394.9 242.2v1M330.6 176.5h-1M396.6 242.2v1M330.6 175.1h-1M398 242.2v1M330.6 173.9h-1M399.2 242.2v1M330.6 172.9h-1M400.3 242.2v1M330.6 172h-1M401.2 242.2v1M330.6 242.2h-1.8M330.6 242.2v1.8M330.6 224.4h-1.8M348.5 242.2v1.8M330.6 206.7h-1.8M366.3 242.2v1.8M330.6 188.9h-1.8M384.1 242.2v1.8M330.6 171.2h-1.8M402 242.2v1.8" stroke="#777" stroke-width="0.5" fill="none"/>
<path transform="scale(.5)" d="M692 447h0M692 454h0M684 444h0M694 446h0M678 450h0M674 464h0M702 456h0M699 457h0M681 453h0M667 440h0M702 459h0M693 463h0M682 459h0M677 446h0M675 448h0M668 449h0M667 455h0M698 456h0M668 457h0M695 476h0M686 448h0M678 446h0M679 437h0M678 468h0M674 447h0M683 471h0M688 469h0M681 457h0M697 455h0M692 457h0M685 449h0M669 457h0M691 452h0M677 457h0M694 455h0M691 456h0M690 460h0M690 449h0M689 456h0M693 459h0M688 466h0M689 459h0M692 461h0M695 466h0M681 457h0M687 462h0M702 466h0M692 454h0M665 443h0M689 444h0M696 438h0M686 436h0M691 446h0M679 446h0M687 454h0M682 444h0M690 449h0M681 450h0M679 451h0M693 482h0M700 470h0M692 444h0M663 442h0M677 441h0M688 449h0M689 438h0M675 472h0M681 447h0M680 447h0M682 462h0M671 446h0M690 460h0M677 464h0M691 448h0M686 456h0M679 456h0M695 452h0M693 432h0M691 444h0M678 462h0M664 454h0M683 457h0M668 448h0M668 449h0M678 467h0M677 453h0M696 455h0M691 448h0M680 465h0M685 437h0M669 460h0M685 467h0M699 454h0M679 438h0M687 444h0M676 446h0M682 457h0M686 447h0M684 458h0M678 465h0M685 444h0M670 433h0M691 442h0M663 454h0M676 446h0M687 446h0M677 443h0M686 457h0M696 451h0M675 461h0M694 444h0M675 462h0M663 453h0M671 463h0M679 446h0M683 448h0M693 451h0M692 454h0M688 443h0M680 457h0M669 470h0M675 462h0M693 455h0M682 453h0M686 462h0M706 456h0M680 456h0M684 457h0M677 444h0M680 441h0M691 455h0M683 439h0M692 455h0M670 452h0M686 454h0M697 462h0M676 445h0M678 452h0M686 445h0M683 455h0M682 434h0M695 444h0M680 454h0M693 452h0M669 436h0M667 447h0M690 437h0M668 447h0M665 453h0M682 448h0" stroke="#000" stroke-opacity="0.3" stroke-width="2.0" stroke-linecap="round" fill="none" filter="url(#bp)"/>
<path transform="scale(.5)" d="M732 365h0M786 401h0M740 385h0M776 398h0M788 377h0M797 395h0M765 422h0M767 386h0M719 348h0M793 386h0M749 357h0M729 375h0M757 397h0M727 361h0M748 349h0M766 412h0M794 395h0M735 418h0M767 410h0M730 348h0M726 346h0M762 385h0M792 396h0M759 345h0M794 381h0M668 460h0M790 428h0M757 458h0M662 440h0M679 452h0M729 443h0M760 474h0M665 448h0M695 455h0M714 467h0M718 434h0M770 441h0M718 470h0M715 433h0M721 432h0M739 426h0M687 472h0M744 451h0M788 432h0M699 440h0" stroke="#000" stroke-opacity="0.2" stroke-width="2.0" stroke-linecap="round" fill="none" filter="url(#bp)"/>
<path transform="scale(.5)" d="M752 413h0M742 417h0M751 419h0M748 409h0M757 394h0M748 416h0M731 397h0M753 413h0M742 406h0M743 416h0M751 420h0M734 394h0M740 413h0M753 401h0M750 419h0M751 402h0M749 411h0M756 421h0M745 392h0M750 404h0M751 396h0M752 410h0M735 394h0M741 403h0M736 408h0M740 421h0M735 401h0M736 411h0M749 398h0M737 417h0M755 416h0M736 399h0M738 415h0M752 414h0M747 420h0M749 418h0M736 392h0M744 410h0M760 405h0M740 403h0M734 389h0M744 408h0M756 389h0M750 415h0M744 393h0M747 413h0M744 422h0M752 405h0M753 405h0M737 407h0M728 387h0M753 421h0M756 401h0M743 388h0M758 415h0M750 424h0M746 396h0M755 399h0M750 412h0M740 416h0M744 405h0M744 402h0M736 408h0M735 414h0M755 417h0M747 414h0M741 391h0M739 406h0M748 394h0M737 404h0M744 410h0M749 416h0M745 416h0M753 418h0M746 404h0M739 391h0M750 419h0M747 415h0M745 386h0M748 421h0M736 398h0M742 406h0M752 423h0M740 404h0M743 412h0M752 411h0M748 411h0M753 419h0M749 417h0M742 394h0M750 418h0M743 391h0M742 416h0M736 416h0M749 399h0M752 420h0M738 404h0M748 417h0M740 396h0M750 391h0M747 423h0M739 402h0M745 409h0M753 405h0M756 409h0M755 410h0M753 397h0M740 393h0M746 414h0M757 398h0M747 392h0M757 390h0M745 390h0M738 409h0M755 417h0M747 419h0M746 406h0M736 399h0M757 422h0M738 399h0M745 418h0M739 402h0M737 421h0M747 420h0M756 398h0M748 409h0M740 417h0M739 399h0M743 420h0M744 403h0M752 409h0M753 403h0M755 421h0M747 398h0M745 419h0M746 420h0M729 402h0M749 411h0M747 407h0M751 396h0M745 422h0M750 391h0M748 406h0M754 415h0M738 407h0M745 417h0M743 399h0M738 398h0M746 395h0M734 413h0M731 396h0M754 392h0M750 411h0M746 404h0M739 392h0M745 406h0M744 422h0M737 421h0M744 399h0M741 419h0M751 407h0M752 424h0M751 410h0M753 423h0M754 413h0M741 418h0M746 424h0M744 417h0M750 421h0M740 411h0M754 392h0M746 409h0M754 416h0M746 403h0M747 387h0M753 402h0M742 408h0M750 410h0M749 391h0M740 405h0M726 395h0M756 412h0M751 412h0M742 390h0M751 424h0M752 413h0M745 406h0M729 387h0M751 407h0M747 414h0M743 394h0M750 410h0M743 398h0M750 419h0M758 402h0M754 413h0M742 417h0M752 420h0M734 411h0M735 401h0M745 390h0M736 395h0M749 409h0M744 396h0M740 403h0M736 397h0M746 422h0M745 414h0M744 423h0M745 417h0M752 393h0M730 395h0M751 412h0M755 390h0M739 384h0M754 396h0M751 398h0M745 393h0M746 396h0M751 396h0M742 388h0M754 388h0M749 408h0M747 401h0M736 398h0M733 405h0M749 420h0M752 426h0M738 401h0M751 412h0M753 414h0M753 386h0M744 418h0M753 419h0M747 395h0M743 400h0M736 394h0M749 420h0M732 396h0M753 421h0M757 423h0M753 422h0M753 414h0M749 419h0M754 420h0M742 419h0M738 387h0M756 418h0M746 392h0M745 420h0M745 404h0M741 414h0M738 391h0M752 418h0M742 408h0M753 411h0M753 419h0M745 414h0M751 423h0M735 390h0M748 389h0M751 421h0M732 394h0M744 422h0M752 401h0M746 398h0M744 395h0M759 387h0M752 396h0M748 408h0M753 407h0M730 395h0M731 388h0M745 407h0M739 391h0M741 408h0M756 406h0M741 404h0M745 419h0M756 390h0M752 405h0M752 404h0M750 419h0M749 391h0M748 423h0M736 413h0M739 420h0M751 395h0M740 422h0M740 420h0M751 391h0M752 400h0M755 417h0M739 417h0M742 406h0M754 408h0M745 387h0M751 405h0M745 419h0M748 385h0M747 417h0M754 416h0M753 413h0M750 416h0M751 412h0M733 406h0M741 396h0M737 404h0M751 422h0M743 392h0M751 414h0M727 398h0M737 414h0M750 396h0M743 403h0M743 405h0M750 407h0M740 419h0M754 416h0M744 392h0M743 388h0M748 402h0M746 409h0M739 403h0M744 414h0M744 420h0M753 416h0M748 419h0M737 408h0M747 419h0M740 408h0M740 423h0M746 397h0M748 388h0M749 400h0M750 402h0M752 413h0M731 397h0M752 411h0M752 401h0M745 397h0M754 418h0M751 407h0M750 386h0M740 419h0M756 408h0M752 401h0M739 413h0M752 406h0M749 423h0M740 423h0M741 405h0M735 388h0M746 409h0M755 412h0M745 388h0M751 400h0M759 399h0M739 413h0M741 394h0M743 409h0M758 409h0M744 389h0M755 422h0M739 402h0M752 407h0M748 397h0M752 416h0M739 389h0M750 392h0M731 390h0M750 417h0M746 410h0M745 418h0M745 403h0M758 390h0M743 395h0M738 401h0M737 413h0M753 425h0M736 415h0M756 421h0M745 423h0M752 417h0M753 401h0M749 392h0M755 407h0M753 423h0M746 409h0M757 415h0M748 409h0M745 419h0M747 412h0M741 412h0M751 409h0M743 406h0M754 396h0M732 402h0M747 420h0M742 388h0M742 412h0M733 413h0M757 403h0M730 394h0M748 409h0M749 406h0M747 402h0M733 392h0M745 415h0M759 402h0M733 389h0M745 415h0M748 413h0M733 392h0M756 410h0M737 395h0M745 386h0M750 404h0M735 405h0M754 393h0M750 414h0M747 407h0M755 408h0M740 401h0M740 406h0M748 392h0M751 408h0M755 399h0M751 394h0M756 399h0M752 408h0M743 399h0M738 399h0M739 397h0M751 405h0M750 421h0M748 420h0M747 419h0M743 416h0M745 403h0M732 386h0M752 421h0M730 404h0M742 398h0M742 414h0M732 412h0M759 387h0M745 419h0M730 395h0M740 402h0M730 396h0M753 393h0M742 420h0M730 398h0M747 409h0M754 420h0M742 413h0M748 420h0M745 422h0M760 391h0M741 403h0M756 399h0M742 411h0M755 421h0M740 415h0M748 419h0M743 409h0M746 388h0M753 405h0M736 389h0M752 391h0M750 407h0M746 424h0M742 396h0M752 415h0M750 421h0M735 389h0M734 397h0M747 417h0M750 408h0M747 401h0M739 409h0M744 416h0M751 421h0M742 394h0M746 401h0M737 424h0M744 401h0M746 400h0M754 412h0M754 420h0M753 394h0M745 420h0M752 413h0M750 419h0M756 403h0M746 421h0M754 418h0M746 399h0M752 403h0M739 418h0M749 416h0M755 396h0M745 412h0M739 389h0M727 394h0M733 397h0M735 401h0M750 404h0M749 397h0M733 400h0M745 425h0M731 389h0M738 396h0M752 401h0M755 402h0M743 403h0M759 412h0M749 419h0M761 391h0M737 409h0M743 408h0M749 423h0M750 411h0M758 412h0M754 419h0M740 394h0M754 389h0M752 419h0M737 421h0M758 411h0M736 402h0M749 416h0M751 398h0M752 391h0M751 421h0M732 385h0M747 407h0M758 399h0M745 407h0M752 415h0M740 398h0M755 399h0M738 392h0M740 394h0M747 386h0M746 415h0M754 408h0M737 401h0M744 421h0M752 402h0M736 387h0M754 408h0M750 423h0M746 394h0M756 411h0M751 391h0M742 400h0M732 411h0M750 420h0M743 411h0M756 401h0M745 401h0M750 422h0M737 404h0M757 410h0M742 424h0M751 420h0M754 412h0M752 400h0M744 414h0M745 397h0M760 389h0M754 420h0M741 387h0M738 406h0M734 403h0M754 402h0M754 387h0M736 413h0M750 423h0M747 421h0M743 392h0M738 401h0M749 413h0M740 398h0M736 402h0M740 419h0M757 413h0M754 397h0M748 407h0M752 412h0M748 421h0M746 407h0M743 400h0M745 421h0M753 412h0M739 393h0M752 404h0M742 418h0M737 405h0M753 397h0M740 419h0M750 401h0M739 406h0M740 398h0M744 409h0M754 413h0M735 405h0M743 422h0M746 392h0M733 404h0M753 414h0M748 403h0M744 424h0M732 411h0M744 405h0M742 410h0M756 419h0M741 404h0M752 420h0M756 392h0M751 412h0M742 395h0M742 414h0M750 393h0M756 424h0M754 423h0M753 417h0M733 395h0M741 389h0M742 402h0M737 420h0M756 407h0M740 410h0M754 398h0M723 385h0M743 404h0M758 408h0M744 391h0M741 422h0M758 401h0M747 410h0M739 416h0M739 387h0M749 405h0M758 390h0M752 396h0M746 413h0M738 419h0M738 406h0M745 395h0M743 402h0M750 397h0M737 394h0M730 411h0M736 404h0M743 402h0M730 395h0M734 391h0M735 395h0M748 410h0M740 410h0M749 420h0M740 390h0M747 420h0M754 405h0M748 424h0M753 392h0M748 397h0M759 396h0M747 420h0M753 401h0M745 420h0M755 396h0M743 417h0M739 416h0M754 422h0M749 408h0M737 422h0M743 384h0M729 374h0M720 373h0M729 387h0M738 377h0M728 379h0M731 376h0M740 379h0M762 379h0M722 374h0M751 381h0M746 387h0M733 376h0M738 387h0M759 381h0M752 377h0M740 376h0M746 384h0M744 386h0M730 385h0M751 386h0M744 377h0M737 383h0M733 387h0M750 388h0M738 380h0M753 387h0M724 386h0M760 378h0M736 375h0M749 379h0M736 376h0M756 374h0M760 375h0M739 377h0M723 374h0M725 373h0M731 378h0M744 386h0M742 386h0M738 385h0M730 379h0M730 379h0M741 387h0M753 379h0M732 384h0M747 387h0M760 374h0M759 374h0M734 377h0M730 379h0M729 380h0M732 381h0M762 374h0M724 375h0M729 387h0M755 380h0M763 374h0M722 376h0M755 385h0M735 386h0M737 382h0M754 384h0M744 378h0M727 379h0M761 387h0M758 384h0M721 380h0M763 380h0M748 382h0M744 383h0M741 379h0M761 379h0M747 387h0M733 375h0M720 375h0M730 380h0M721 386h0M745 382h0M762 377h0M738 387h0M759 385h0M732 386h0M721 375h0M744 374h0M725 387h0M735 375h0M757 376h0M757 379h0M731 385h0M730 387h0M723 374h0M726 387h0M732 377h0M736 373h0M746 379h0M756 385h0M742 382h0M761 378h0M761 381h0M723 376h0M753 387h0M721 375h0M754 385h0M726 379h0M746 381h0M738 381h0M761 386h0M733 387h0M732 378h0M739 385h0M722 386h0M754 380h0M739 384h0M754 382h0M722 380h0M733 380h0M759 376h0M761 379h0M751 383h0M753 384h0M730 383h0M736 387h0M725 374h0M726 373h0M725 379h0M746 380h0M723 375h0M721 382h0M732 381h0M735 386h0M740 376h0M754 380h0M746 386h0M723 378h0M735 377h0M722 378h0M752 387h0M757 386h0M728 374h0M746 387h0M722 380h0M736 384h0M754 384h0M754 373h0M751 385h0M734 374h0M756 386h0M721 381h0M733 383h0M720 376h0M723 377h0M721 375h0M718 378h0M720 378h0M723 379h0M720 375h0M718 376h0M721 377h0M723 381h0M717 377h0M724 376h0M723 378h0M720 372h0M724 377h0M717 376h0M721 376h0M720 377h0M722 374h0M723 375h0M717 377h0M720 376h0M719 376h0M724 373h0M722 380h0" stroke="#000" stroke-opacity="0.33" stroke-width="2.0" stroke-linecap="round" fill="none" filter="url(#bp)"/>
<path d="M362 188 365 186.6 379.6 186.4 380.9 187.7 380.6 192.8 377.6 195.8 368 193.8 364 191.3Z" fill="#000" fill-opacity="1.0" filter="url(#b1)"/>
<path d="M366 192.8 380.1 192.8 378 206.8 369.5 206.8Z" fill="#000" fill-opacity="0.45" filter="url(#b2)"/>
<path d="M357.4 171.2V242.2M330.6 212.5H402" stroke="#7a7a7a" stroke-width="1.1" fill="none"/>
<text x="400.8" y="178.2" font-size="6.3" text-anchor="end" fill="#222" stroke="#222" stroke-width="0.22">81.3</text>
<text x="332.4" y="241.2" font-size="6.3" fill="#222" stroke="#222" stroke-width="0.22">16.2</text>
<text x="401" y="241.2" font-size="6.3" text-anchor="end" fill="#222" stroke="#222" stroke-width="0.22">2.01</text>
<path d="M345.8 242.4H385.9" stroke="#111" stroke-width="1.3"/>
<text x="324.4" y="243.6" font-size="4.3" text-anchor="middle" fill="#333" stroke="#333" stroke-width="0.15">10<tspan font-size="2.9" dy="-1.7">0</tspan></text>
<text x="324.4" y="225.8" font-size="4.3" text-anchor="middle" fill="#333" stroke="#333" stroke-width="0.15">10<tspan font-size="2.9" dy="-1.7">1</tspan></text>
<text x="324.4" y="208.1" font-size="4.3" text-anchor="middle" fill="#333" stroke="#333" stroke-width="0.15">10<tspan font-size="2.9" dy="-1.7">2</tspan></text>
<text x="324.4" y="190.3" font-size="4.3" text-anchor="middle" fill="#333" stroke="#333" stroke-width="0.15">10<tspan font-size="2.9" dy="-1.7">3</tspan></text>
<text x="324.4" y="172.6" font-size="4.3" text-anchor="middle" fill="#333" stroke="#333" stroke-width="0.15">10<tspan font-size="2.9" dy="-1.7">4</tspan></text>
<text x="331.4" y="250.4" font-size="4.3" text-anchor="middle" fill="#333" stroke="#333" stroke-width="0.15">10<tspan font-size="2.9" dy="-1.7">0</tspan></text>
<text x="349.3" y="250.4" font-size="4.3" text-anchor="middle" fill="#333" stroke="#333" stroke-width="0.15">10<tspan font-size="2.9" dy="-1.7">1</tspan></text>
<text x="367.1" y="250.4" font-size="4.3" text-anchor="middle" fill="#333" stroke="#333" stroke-width="0.15">10<tspan font-size="2.9" dy="-1.7">2</tspan></text>
<text x="384.9" y="250.4" font-size="4.3" text-anchor="middle" fill="#333" stroke="#333" stroke-width="0.15">10<tspan font-size="2.9" dy="-1.7">3</tspan></text>
<text x="402.8" y="250.4" font-size="4.3" text-anchor="middle" fill="#333" stroke="#333" stroke-width="0.15">10<tspan font-size="2.9" dy="-1.7">4</tspan></text>
<text x="435.6" y="164" font-size="10.0" fill="#111" stroke="#111" stroke-width="0.35" textLength="45.8" lengthAdjust="spacingAndGlyphs">20μM CX</text>
<rect x="423.6" y="171.2" width="71.6" height="71" fill="none" stroke="#a0a0a0" stroke-width="0.9"/>
<path d="M423.6 171.2V242.2H495.2" stroke="#666" stroke-width="1.1" fill="none"/>
<path d="M423.6 236.9h-1M429 242.2v1M423.6 233.7h-1M432.1 242.2v1M423.6 231.5h-1M434.4 242.2v1M423.6 229.8h-1M436.1 242.2v1M423.6 228.4h-1M437.5 242.2v1M423.6 227.2h-1M438.7 242.2v1M423.6 226.2h-1M439.8 242.2v1M423.6 225.3h-1M440.7 242.2v1M423.6 219.1h-1M446.9 242.2v1M423.6 216h-1M450 242.2v1M423.6 213.8h-1M452.3 242.2v1M423.6 212h-1M454 242.2v1M423.6 210.6h-1M455.4 242.2v1M423.6 209.4h-1M456.6 242.2v1M423.6 208.4h-1M457.7 242.2v1M423.6 207.5h-1M458.6 242.2v1M423.6 201.4h-1M464.8 242.2v1M423.6 198.2h-1M467.9 242.2v1M423.6 196h-1M470.2 242.2v1M423.6 194.3h-1M471.9 242.2v1M423.6 192.9h-1M473.3 242.2v1M423.6 191.7h-1M474.5 242.2v1M423.6 190.7h-1M475.6 242.2v1M423.6 189.8h-1M476.5 242.2v1M423.6 183.6h-1M482.7 242.2v1M423.6 180.5h-1M485.8 242.2v1M423.6 178.3h-1M488.1 242.2v1M423.6 176.5h-1M489.8 242.2v1M423.6 175.1h-1M491.2 242.2v1M423.6 173.9h-1M492.4 242.2v1M423.6 172.9h-1M493.5 242.2v1M423.6 172h-1M494.4 242.2v1M423.6 242.2h-1.8M423.6 242.2v1.8M423.6 224.4h-1.8M441.5 242.2v1.8M423.6 206.7h-1.8M459.4 242.2v1.8M423.6 188.9h-1.8M477.3 242.2v1.8M423.6 171.2h-1.8M495.2 242.2v1.8" stroke="#777" stroke-width="0.5" fill="none"/>
<path transform="scale(.5)" d="M872 443h0M881 454h0M877 454h0M854 463h0M865 463h0M860 453h0M875 447h0M877 457h0M867 458h0M873 458h0M864 447h0M868 448h0M868 457h0M876 446h0M870 457h0M865 449h0M868 444h0M862 445h0M879 449h0M876 447h0M858 447h0M880 453h0M867 455h0M872 448h0M866 455h0M868 438h0M875 441h0M855 440h0M851 463h0M869 461h0M875 449h0M857 457h0M870 451h0M859 464h0M864 455h0M872 467h0M888 456h0M870 462h0M881 438h0M873 446h0M885 466h0M864 449h0M864 457h0M881 439h0M857 458h0M875 445h0M876 462h0M887 457h0M866 460h0M877 448h0" stroke="#000" stroke-opacity="0.3" stroke-width="2.0" stroke-linecap="round" fill="none" filter="url(#bp)"/>
<path transform="scale(.5)" d="M943 422h0M935 410h0M977 346h0M984 387h0M924 384h0M947 371h0M966 351h0M932 398h0M935 371h0M964 383h0M952 384h0M908 356h0M935 346h0M927 396h0M946 376h0M918 347h0M930 345h0M930 394h0M947 347h0M957 413h0M906 350h0M912 384h0M913 396h0M927 406h0M938 419h0M889 476h0M935 444h0M973 427h0M944 428h0M951 431h0M870 431h0M965 453h0M920 456h0M957 442h0M884 480h0M899 439h0M920 470h0M867 441h0M943 435h0M853 439h0M866 440h0M922 427h0M941 448h0M968 428h0M853 452h0" stroke="#000" stroke-opacity="0.2" stroke-width="2.0" stroke-linecap="round" fill="none" filter="url(#bp)"/>
<path transform="scale(.5)" d="M941 397h0M922 412h0M931 417h0M928 394h0M935 423h0M937 425h0M927 421h0M925 419h0M940 422h0M935 414h0M931 399h0M940 400h0M933 408h0M925 408h0M922 405h0M935 425h0M922 417h0M943 415h0M940 406h0M933 411h0M941 420h0M929 400h0M933 425h0M935 401h0M924 421h0M933 397h0M922 399h0M940 424h0M941 424h0M915 399h0M910 392h0M933 417h0M930 391h0M930 387h0M928 415h0M931 422h0M924 392h0M928 393h0M933 406h0M934 405h0M922 423h0M939 396h0M923 386h0M923 418h0M924 410h0M920 393h0M946 405h0M930 399h0M937 395h0M927 407h0M922 394h0M930 390h0M936 400h0M934 391h0M932 410h0M930 398h0M925 417h0M939 400h0M933 418h0M935 412h0M940 422h0M943 396h0M926 393h0M937 423h0M934 421h0M940 420h0M936 409h0M938 406h0M930 426h0M938 394h0M918 401h0M930 422h0M920 398h0M937 399h0M929 423h0M932 407h0M934 405h0M932 393h0M934 410h0M935 404h0M934 425h0M926 395h0M936 409h0M933 426h0M935 421h0M937 409h0M936 405h0M936 404h0M927 418h0M936 423h0M939 423h0M927 400h0M946 394h0M943 393h0M936 410h0M930 392h0M943 405h0M936 406h0M941 390h0M934 406h0M939 411h0M943 397h0M938 395h0M923 399h0M935 413h0M943 395h0M930 420h0M935 394h0M938 425h0M927 418h0M921 392h0M931 394h0M937 419h0M924 420h0M934 411h0M938 418h0M942 391h0M930 398h0M945 408h0M931 401h0M939 397h0M918 404h0M928 403h0M940 404h0M927 389h0M938 414h0M937 403h0M927 420h0M934 410h0M935 413h0M940 422h0M939 399h0M929 404h0M940 397h0M938 413h0M932 388h0M931 417h0M925 406h0M939 415h0M940 409h0M938 410h0M942 406h0M938 399h0M936 418h0M944 390h0M918 402h0M942 413h0M941 402h0M942 420h0M934 410h0M940 409h0M938 410h0M930 424h0M933 389h0M930 394h0M933 415h0M937 422h0M941 387h0M934 409h0M934 404h0M931 413h0M921 399h0M937 388h0M937 412h0M921 419h0M921 406h0M932 422h0M936 412h0M918 388h0M932 396h0M932 389h0M933 409h0M920 391h0M929 411h0M925 403h0M932 420h0M945 395h0M937 417h0M937 425h0M940 389h0M927 415h0M934 404h0M933 392h0M934 422h0M931 426h0M942 407h0M938 421h0M935 421h0M932 411h0M936 417h0M933 419h0M926 389h0M926 404h0M912 391h0M935 408h0M933 403h0M942 393h0M939 417h0M933 412h0M927 421h0M933 411h0M937 409h0M946 400h0M929 414h0M942 398h0M944 398h0M933 412h0M943 411h0M928 401h0M936 415h0M940 409h0M924 394h0M932 424h0M928 397h0M938 389h0M936 405h0M937 422h0M940 412h0M932 421h0M937 423h0M937 424h0M935 417h0M931 421h0M932 406h0M930 417h0M937 420h0M943 399h0M940 404h0M916 392h0M926 415h0M941 414h0M929 399h0M939 404h0M924 421h0M935 420h0M943 421h0M939 393h0M922 401h0M925 394h0M932 406h0M935 415h0M944 407h0M921 398h0M927 409h0M937 421h0M938 418h0M932 423h0M929 416h0M931 415h0M937 414h0M915 397h0M932 422h0M930 422h0M928 416h0M936 412h0M932 423h0M916 395h0M933 418h0M934 415h0M924 395h0M928 410h0M937 414h0M934 391h0M940 406h0M923 410h0M941 413h0M941 427h0M941 422h0M937 387h0M933 397h0M933 411h0M940 408h0M924 417h0M941 420h0M930 406h0M938 423h0M933 425h0M931 412h0M935 416h0M937 396h0M920 390h0M936 408h0M938 394h0M929 401h0M928 426h0M938 400h0M923 404h0M930 404h0M920 413h0M934 424h0M929 403h0M942 420h0M932 400h0M932 407h0M939 417h0M938 424h0M929 418h0M928 411h0M930 416h0M938 413h0M937 423h0M939 400h0M944 402h0M931 421h0M940 423h0M939 417h0M943 406h0M929 419h0M941 396h0M934 417h0M934 417h0M938 392h0M922 409h0M926 409h0M924 409h0M930 388h0M938 419h0M933 423h0M936 412h0M926 407h0M944 401h0M931 417h0M943 397h0M935 423h0M935 415h0M931 418h0M943 418h0M920 391h0M939 413h0M930 420h0M943 407h0M926 402h0M932 422h0M936 417h0M927 409h0M932 423h0M932 415h0M939 394h0M913 399h0M934 394h0M931 397h0M928 395h0M934 404h0M926 416h0M935 422h0M934 410h0M930 408h0M938 408h0M933 416h0M938 402h0M934 422h0M940 414h0M937 414h0M939 417h0M940 423h0M937 403h0M943 414h0M934 410h0M936 391h0M925 418h0M940 424h0M938 414h0M920 393h0M937 422h0M935 409h0M941 395h0M936 387h0M928 422h0M935 409h0M931 408h0M925 406h0M927 418h0M927 419h0M927 416h0M934 394h0M927 401h0M935 413h0M938 410h0M931 402h0M933 414h0M934 410h0M939 405h0M922 417h0M939 388h0M940 401h0M936 413h0M929 417h0M938 420h0M940 404h0M921 389h0M934 392h0M936 425h0M932 392h0M943 424h0M941 419h0M920 389h0M939 413h0M920 406h0M935 400h0M937 403h0M931 388h0M936 394h0M932 403h0M928 401h0M939 424h0M936 416h0M938 421h0M927 401h0M938 414h0M935 406h0M938 418h0M934 422h0M921 413h0M925 415h0M931 417h0M936 426h0M915 388h0M942 404h0M942 425h0M938 422h0M940 402h0M924 417h0M941 390h0M936 417h0M931 400h0M931 397h0M940 406h0M929 405h0M944 401h0M924 392h0M944 399h0M928 423h0M936 417h0M923 405h0M936 390h0M936 407h0M929 416h0M930 425h0M938 420h0M922 407h0M921 402h0M929 390h0M936 422h0M943 412h0M938 397h0M934 408h0M935 417h0M930 395h0M932 413h0M940 390h0M927 407h0M931 392h0M928 403h0M937 402h0M938 424h0M928 396h0M923 417h0M944 406h0M924 389h0M921 399h0M938 421h0M938 425h0M929 421h0M942 422h0M937 415h0M945 416h0M930 424h0M924 417h0M923 407h0M929 394h0M936 395h0M921 393h0M942 407h0M937 410h0M932 410h0M921 413h0M941 424h0M933 400h0M932 408h0M927 398h0M931 398h0M943 407h0M929 414h0M931 422h0M932 401h0M930 422h0M937 412h0M938 405h0M929 416h0M934 406h0M945 401h0M925 410h0M931 407h0M923 397h0M931 401h0M933 403h0M931 413h0M927 412h0M932 397h0M936 409h0M923 397h0M937 404h0M930 396h0M934 415h0M924 417h0M936 406h0M935 399h0M926 391h0M941 407h0M937 403h0M939 425h0M940 399h0M927 414h0M940 416h0M940 418h0M927 412h0M939 400h0M939 404h0M919 403h0M936 416h0M919 388h0M936 422h0M938 398h0M937 389h0M938 422h0M931 396h0M933 423h0M931 394h0M929 405h0M930 398h0M932 418h0M931 414h0M914 403h0M937 418h0M937 402h0M928 416h0M935 407h0M937 398h0M931 392h0M930 410h0M935 394h0M940 424h0M930 399h0M926 400h0M947 391h0M934 418h0M937 411h0M933 418h0M930 389h0M925 414h0M936 417h0M940 392h0M937 412h0M924 422h0M935 395h0M939 414h0M935 406h0M926 423h0M921 400h0M932 411h0M912 394h0M929 395h0M933 406h0M944 412h0M935 393h0M937 423h0M931 424h0M934 397h0M924 403h0M920 398h0M927 403h0M937 423h0M927 401h0M933 411h0M938 419h0M931 420h0M941 421h0M943 388h0M928 414h0M942 409h0M936 417h0M935 417h0M930 416h0M938 405h0M939 414h0M928 422h0M939 421h0M936 425h0M927 418h0M938 414h0M930 416h0M938 400h0M930 420h0M931 406h0M936 415h0M937 423h0M940 410h0M925 404h0M941 423h0M938 390h0M932 419h0M942 409h0M934 421h0M930 395h0M936 420h0M935 416h0M925 400h0M939 420h0M925 418h0M939 414h0M933 416h0M935 388h0M934 409h0M937 394h0M935 425h0M940 409h0M930 402h0M920 395h0M928 411h0M930 406h0M925 423h0M935 395h0M942 406h0M935 424h0M935 406h0M939 405h0M933 423h0M922 408h0M937 402h0M931 395h0M924 414h0M937 406h0M930 385h0M940 409h0M940 421h0M921 401h0M931 391h0M929 416h0M915 394h0M938 417h0M927 400h0M938 422h0M937 418h0M911 388h0M928 399h0M944 396h0M932 389h0M930 413h0M920 411h0M925 405h0M929 393h0M932 400h0M936 402h0M912 395h0M933 405h0M934 418h0M941 413h0M933 393h0M936 420h0M937 422h0M928 421h0M937 400h0M943 409h0M941 403h0M920 400h0M924 401h0M927 403h0M935 407h0M937 403h0M934 407h0M945 413h0M938 397h0M934 418h0M927 406h0M934 423h0M924 409h0M932 418h0M933 415h0M920 390h0M940 387h0M937 409h0M930 405h0M930 402h0M929 403h0M928 420h0M934 387h0M926 400h0M938 396h0M940 419h0M929 409h0M933 402h0M945 406h0M918 403h0M937 421h0M928 398h0M932 412h0M938 418h0M930 397h0M926 404h0M934 408h0M941 423h0M931 417h0M935 399h0M930 419h0M929 389h0M918 392h0M942 416h0M929 402h0M932 416h0M929 390h0M938 398h0M941 400h0M916 394h0M939 394h0M939 422h0M941 403h0M940 401h0M943 402h0M931 411h0M937 422h0M912 396h0M938 393h0M923 419h0M941 416h0M924 400h0M931 403h0M936 405h0M944 413h0M921 400h0M922 421h0M936 397h0M944 421h0M940 398h0M921 400h0M919 404h0M936 402h0M931 391h0M928 402h0M940 412h0M915 406h0M936 397h0M942 400h0M940 413h0M932 388h0M936 398h0M939 419h0M928 415h0M932 398h0M936 404h0M937 411h0M926 394h0M942 414h0M932 406h0M935 416h0M913 396h0M934 425h0M915 393h0M932 415h0M937 415h0M938 421h0M925 381h0M947 381h0M948 374h0M925 373h0M910 376h0M939 374h0M913 386h0M928 378h0M948 378h0M918 386h0M941 381h0M935 378h0M924 373h0M944 374h0M932 384h0M949 376h0M936 373h0M949 385h0M944 375h0M943 381h0M914 376h0M933 374h0M917 388h0M949 383h0M945 386h0M917 382h0M921 375h0M947 379h0M941 388h0M920 373h0M935 381h0M925 373h0M917 372h0M929 389h0M912 376h0M914 382h0M949 387h0M909 389h0M939 381h0M918 381h0M910 386h0M923 380h0M935 385h0M947 385h0M946 385h0M941 380h0M915 385h0M940 373h0M935 386h0M947 383h0M924 382h0M922 373h0M926 381h0M928 385h0M919 375h0M928 379h0M910 389h0M933 388h0M947 381h0M920 373h0M919 376h0M925 381h0M945 386h0M933 380h0M945 388h0M937 382h0M916 376h0M945 384h0M922 385h0M913 373h0M930 387h0M929 388h0M915 375h0M919 379h0M948 381h0M915 385h0M945 388h0M915 384h0M944 383h0M908 373h0M948 372h0M929 381h0M916 377h0M909 381h0M942 376h0M920 372h0M924 385h0M921 387h0M908 383h0M910 374h0M940 387h0M938 381h0M949 375h0M925 380h0M949 381h0M926 385h0M911 382h0M947 388h0M926 380h0M927 380h0M918 377h0M908 375h0M934 379h0M910 376h0M935 372h0M922 380h0M922 379h0M909 384h0M921 374h0M935 386h0M909 383h0M919 382h0M941 383h0M938 374h0M945 381h0M919 377h0M931 376h0M910 380h0M947 375h0M928 381h0M944 386h0M919 375h0M910 373h0M915 384h0M933 377h0M944 381h0M920 388h0M944 385h0M917 377h0M912 384h0M932 379h0M909 379h0M924 378h0M941 379h0M926 375h0M910 377h0M937 387h0M935 384h0M938 379h0M941 383h0M917 382h0M938 379h0M917 386h0M937 382h0M949 381h0M932 384h0M943 385h0M922 383h0M937 383h0M919 380h0M907 376h0M905 375h0M912 376h0M911 378h0M906 378h0M908 374h0M911 374h0M906 373h0M909 375h0M910 379h0M907 373h0M907 377h0M907 373h0M911 378h0M905 374h0M906 375h0M906 378h0M912 375h0M905 378h0M912 376h0M904 376h0M905 378h0M907 376h0M907 376h0M908 376h0" stroke="#000" stroke-opacity="0.33" stroke-width="2.0" stroke-linecap="round" fill="none" filter="url(#bp)"/>
<path d="M456 187.6 459 186.2 472.6 186 473.9 187.3 473.6 193.4 470.6 196.4 462 194.4 458 191.9Z" fill="#000" fill-opacity="1.0" filter="url(#b1)"/>
<path d="M460 193.4 473.1 193.4 471 207.6 463.3 207.6Z" fill="#000" fill-opacity="0.5" filter="url(#b2)"/>
<path d="M450.4 171.2V242.2M423.6 212.6H495.2" stroke="#7a7a7a" stroke-width="1.1" fill="none"/>
<text x="494" y="178.2" font-size="6.3" text-anchor="end" fill="#222" stroke="#222" stroke-width="0.22">92.2</text>
<text x="425.4" y="241.2" font-size="6.3" fill="#222" stroke="#222" stroke-width="0.22">5.18</text>
<text x="494.2" y="241.2" font-size="6.3" text-anchor="end" fill="#222" stroke="#222" stroke-width="0.22">1.97</text>
<path d="M438.8 242.4H479.1" stroke="#111" stroke-width="1.3"/>
<text x="417.4" y="243.6" font-size="4.3" text-anchor="middle" fill="#333" stroke="#333" stroke-width="0.15">10<tspan font-size="2.9" dy="-1.7">0</tspan></text>
<text x="417.4" y="225.8" font-size="4.3" text-anchor="middle" fill="#333" stroke="#333" stroke-width="0.15">10<tspan font-size="2.9" dy="-1.7">1</tspan></text>
<text x="417.4" y="208.1" font-size="4.3" text-anchor="middle" fill="#333" stroke="#333" stroke-width="0.15">10<tspan font-size="2.9" dy="-1.7">2</tspan></text>
<text x="417.4" y="190.3" font-size="4.3" text-anchor="middle" fill="#333" stroke="#333" stroke-width="0.15">10<tspan font-size="2.9" dy="-1.7">3</tspan></text>
<text x="417.4" y="172.6" font-size="4.3" text-anchor="middle" fill="#333" stroke="#333" stroke-width="0.15">10<tspan font-size="2.9" dy="-1.7">4</tspan></text>
<text x="424.4" y="250.4" font-size="4.3" text-anchor="middle" fill="#333" stroke="#333" stroke-width="0.15">10<tspan font-size="2.9" dy="-1.7">0</tspan></text>
<text x="442.3" y="250.4" font-size="4.3" text-anchor="middle" fill="#333" stroke="#333" stroke-width="0.15">10<tspan font-size="2.9" dy="-1.7">1</tspan></text>
<text x="460.2" y="250.4" font-size="4.3" text-anchor="middle" fill="#333" stroke="#333" stroke-width="0.15">10<tspan font-size="2.9" dy="-1.7">2</tspan></text>
<text x="478.1" y="250.4" font-size="4.3" text-anchor="middle" fill="#333" stroke="#333" stroke-width="0.15">10<tspan font-size="2.9" dy="-1.7">3</tspan></text>
<text x="496" y="250.4" font-size="4.3" text-anchor="middle" fill="#333" stroke="#333" stroke-width="0.15">10<tspan font-size="2.9" dy="-1.7">4</tspan></text>
<text x="245.1" y="267" font-size="9.6" fill="#111" stroke="#111" stroke-width="0.34" textLength="67.5" lengthAdjust="spacingAndGlyphs">Annexin V APC</text>
<text x="517.4" y="209" font-size="9.6" text-anchor="middle" fill="#111" stroke="#111" stroke-width="0.34" transform="rotate(-90 517.4 209)" textLength="27.3" lengthAdjust="spacingAndGlyphs">7-AAD</text>
<text x=".1" y="294.7" font-size="19" font-weight="bold" stroke="#000" stroke-width="0.28" textLength="14.4" lengthAdjust="spacingAndGlyphs">D</text>
<text x="63.2" y="289.4" font-size="10.2" fill="#111" stroke="#111" stroke-width="0.36" textLength="38.2" lengthAdjust="spacingAndGlyphs">Medium</text>
<text x="143.2" y="289.4" font-size="10.2" fill="#111" stroke="#111" stroke-width="0.36" textLength="64.3" lengthAdjust="spacingAndGlyphs">12.5 μM TBB</text>
<text x="244.8" y="289.4" font-size="10.2" fill="#111" stroke="#111" stroke-width="0.36" textLength="52" lengthAdjust="spacingAndGlyphs">25μM TBB</text>
<text x="333.8" y="289.4" font-size="10.2" fill="#111" stroke="#111" stroke-width="0.36" textLength="64.4" lengthAdjust="spacingAndGlyphs">12.5μM DRB</text>
<text x="432.8" y="289.4" font-size="10.2" fill="#111" stroke="#111" stroke-width="0.36" textLength="54.9" lengthAdjust="spacingAndGlyphs">25μM DRB</text>
<text x=".6" y="341.4" font-size="11" fill="#111" stroke="#111" stroke-width="0.39" textLength="18.8" lengthAdjust="spacingAndGlyphs">24h</text>
<text x=".6" y="425.2" font-size="11" fill="#111" stroke="#111" stroke-width="0.39" textLength="19.4" lengthAdjust="spacingAndGlyphs">48h</text>
<text x=".6" y="509.2" font-size="11" fill="#111" stroke="#111" stroke-width="0.39" textLength="19.4" lengthAdjust="spacingAndGlyphs">72h</text>
<rect x="45.4" y="301.4" width="72.3" height="72" fill="none" stroke="#a0a0a0" stroke-width="0.9"/>
<path d="M45.4 301.4V373.4H117.7" stroke="#666" stroke-width="1.1" fill="none"/>
<path d="M45.4 368h-1M50.8 373.4v1M45.4 364.8h-1M54 373.4v1M45.4 362.6h-1M56.3 373.4v1M45.4 360.8h-1M58 373.4v1M45.4 359.4h-1M59.5 373.4v1M45.4 358.2h-1M60.7 373.4v1M45.4 357.1h-1M61.7 373.4v1M45.4 356.2h-1M62.6 373.4v1M45.4 350h-1M68.9 373.4v1M45.4 346.8h-1M72.1 373.4v1M45.4 344.6h-1M74.4 373.4v1M45.4 342.8h-1M76.1 373.4v1M45.4 341.4h-1M77.5 373.4v1M45.4 340.2h-1M78.8 373.4v1M45.4 339.1h-1M79.8 373.4v1M45.4 338.2h-1M80.7 373.4v1M45.4 332h-1M87 373.4v1M45.4 328.8h-1M90.2 373.4v1M45.4 326.6h-1M92.4 373.4v1M45.4 324.8h-1M94.2 373.4v1M45.4 323.4h-1M95.6 373.4v1M45.4 322.2h-1M96.8 373.4v1M45.4 321.1h-1M97.9 373.4v1M45.4 320.2h-1M98.8 373.4v1M45.4 314h-1M105.1 373.4v1M45.4 310.8h-1M108.2 373.4v1M45.4 308.6h-1M110.5 373.4v1M45.4 306.8h-1M112.3 373.4v1M45.4 305.4h-1M113.7 373.4v1M45.4 304.2h-1M114.9 373.4v1M45.4 303.1h-1M115.9 373.4v1M45.4 302.2h-1M116.9 373.4v1M45.4 373.4h-1.8M45.4 373.4v1.8M45.4 355.4h-1.8M63.5 373.4v1.8M45.4 337.4h-1.8M81.5 373.4v1.8M45.4 319.4h-1.8M99.6 373.4v1.8M45.4 301.4h-1.8M117.7 373.4v1.8" stroke="#777" stroke-width="0.5" fill="none"/>
<path transform="scale(.5)" d="M144 721h0M116 712h0M126 707h0M126 702h0M105 706h0M132 709h0M107 688h0M103 704h0M132 710h0M122 711h0M151 698h0M132 690h0M120 715h0M157 708h0M131 703h0M123 696h0M129 700h0M122 705h0M159 702h0M110 702h0M118 688h0M133 715h0M137 709h0M137 679h0M95 724h0M121 724h0M134 704h0M150 711h0M147 713h0M152 702h0M126 695h0M110 709h0M107 705h0M116 711h0M120 708h0M156 707h0M128 711h0M113 691h0M122 696h0M125 687h0M114 705h0M136 714h0M138 706h0M135 725h0M124 695h0M155 691h0M130 706h0M139 707h0M127 723h0M138 694h0M118 736h0M120 705h0M142 703h0M139 697h0M120 704h0M145 710h0M115 699h0M145 691h0M130 691h0M119 708h0M121 702h0M133 707h0M123 696h0M110 698h0M129 694h0M121 698h0M121 717h0M140 716h0M119 682h0M107 700h0M155 704h0M124 706h0M108 708h0M155 694h0M116 677h0M122 707h0M138 695h0M128 710h0M127 719h0M121 694h0M119 680h0M115 709h0M148 704h0M137 693h0M138 702h0M123 700h0M145 718h0M132 719h0M125 716h0M136 699h0M149 694h0M127 713h0M127 711h0M130 713h0M119 712h0M126 706h0M140 715h0M136 707h0M129 712h0M119 699h0M106 693h0M132 702h0M117 708h0M146 711h0M119 708h0M138 689h0M114 699h0M131 702h0M133 712h0M138 697h0M107 698h0M105 715h0M127 695h0M144 701h0M126 699h0M123 702h0M118 695h0M114 719h0M103 716h0M119 712h0M110 698h0M147 714h0M155 730h0M136 707h0M141 715h0M138 682h0M133 713h0M160 698h0M136 707h0M128 717h0M128 714h0M100 719h0M126 701h0M152 692h0M139 714h0M138 703h0M125 688h0M120 721h0M131 703h0M116 708h0M146 712h0M125 704h0M123 698h0M117 719h0M113 702h0M140 704h0M116 697h0M139 694h0M128 693h0M122 712h0M112 698h0M137 711h0M113 719h0M127 698h0M147 714h0M128 708h0M129 700h0M126 715h0M129 690h0M125 688h0M109 715h0M121 711h0M130 697h0M133 719h0M126 695h0M137 702h0M130 698h0M119 706h0M135 701h0M111 704h0M123 693h0M127 695h0M118 722h0M156 713h0M122 704h0M141 698h0M140 695h0M133 707h0M127 701h0M128 713h0M106 702h0M153 714h0M145 710h0M126 715h0M149 690h0M112 707h0M96 694h0M142 694h0M123 689h0M134 694h0M103 712h0M114 713h0M131 699h0M141 710h0M135 705h0M118 688h0M109 698h0M137 721h0M133 703h0M103 721h0M146 719h0M143 691h0M130 682h0M133 694h0M143 692h0M126 721h0M123 705h0M122 707h0M129 707h0M124 702h0M128 705h0M123 702h0M148 702h0M122 686h0M105 710h0M113 717h0M124 718h0M121 692h0M117 714h0M117 699h0M112 701h0M140 707h0M127 703h0M118 700h0M111 685h0M141 709h0M127 705h0M139 706h0M155 715h0M156 707h0M131 695h0M130 712h0M119 710h0M135 689h0M125 686h0M137 703h0M116 708h0M156 717h0M118 704h0M119 696h0M134 695h0M119 702h0M138 706h0M121 711h0M107 704h0M107 709h0M146 696h0M135 706h0M133 702h0M100 711h0M125 709h0M126 681h0M99 693h0M142 713h0M141 710h0M136 705h0M119 701h0M127 711h0M98 697h0M126 700h0M140 692h0M109 706h0M129 699h0M118 694h0M145 701h0M120 697h0M115 708h0M136 706h0M128 698h0M128 694h0M126 714h0M139 727h0M139 694h0M141 717h0M141 704h0M121 692h0M112 695h0M123 715h0M114 682h0M135 719h0M125 694h0M109 719h0M113 693h0M121 696h0M117 696h0M133 710h0M113 694h0M125 709h0M111 713h0M104 719h0M137 713h0M136 706h0M131 720h0M107 704h0M143 700h0M138 708h0M118 704h0M116 694h0M123 715h0M121 690h0M122 726h0M129 684h0M124 702h0M113 705h0M97 707h0M95 705h0M131 710h0M98 707h0M123 711h0M116 707h0M118 693h0M137 699h0M138 718h0M113 707h0M125 688h0M163 728h0M123 708h0M141 714h0M127 691h0M144 712h0M122 700h0M132 697h0M108 685h0M117 672h0M135 701h0M123 701h0M131 700h0M129 713h0M144 707h0M113 713h0M118 701h0M144 707h0M121 708h0M127 702h0M136 716h0M121 686h0M127 712h0M126 688h0M128 677h0M127 700h0M107 712h0M135 708h0M129 680h0M136 730h0M119 726h0M139 712h0M126 693h0M133 704h0M136 715h0M148 684h0M131 719h0M123 695h0M124 708h0M128 712h0M127 708h0M129 704h0M104 711h0M115 736h0M103 702h0M126 715h0M125 695h0M121 706h0M108 710h0M134 702h0M114 707h0M123 709h0M119 689h0M133 694h0M152 718h0M104 708h0M142 713h0M131 697h0M109 693h0M120 702h0M125 723h0M131 697h0M129 693h0M136 696h0M105 718h0M131 696h0M135 715h0M114 703h0M111 701h0M113 697h0M125 705h0M128 702h0M142 724h0M142 697h0M121 706h0M118 692h0M106 711h0M107 679h0M108 708h0M128 701h0M138 690h0M119 708h0M124 683h0M134 698h0M128 699h0M131 713h0M127 711h0M137 715h0M113 673h0M92 693h0M120 703h0M113 705h0M143 695h0M125 708h0M114 702h0M122 695h0M131 707h0M139 697h0M117 719h0M119 706h0M136 707h0M117 711h0M121 714h0M137 690h0M112 712h0M141 701h0M119 695h0M153 708h0M126 711h0M121 690h0M110 703h0M101 699h0M101 699h0M114 715h0M112 704h0M129 720h0M93 704h0M104 724h0M103 686h0M106 692h0M124 717h0M107 714h0M124 714h0M93 705h0M118 707h0M152 698h0M126 709h0M123 714h0M130 696h0M155 697h0M144 707h0M125 713h0M147 713h0M120 718h0M119 700h0M121 705h0M112 707h0M133 706h0M143 710h0M133 707h0M103 711h0M110 699h0M121 709h0M102 693h0M118 707h0M129 689h0M152 691h0M153 712h0M123 683h0M133 695h0M112 704h0M134 691h0M121 702h0M117 697h0M129 697h0M109 703h0M135 705h0M127 721h0M121 685h0M136 724h0M154 709h0M146 692h0M120 708h0M144 722h0M125 686h0M105 704h0M132 706h0M139 688h0M110 699h0M106 695h0M114 709h0M144 707h0M135 698h0M125 690h0M130 704h0M158 701h0M127 709h0M133 688h0M113 709h0M137 718h0M107 702h0M107 722h0M125 708h0M142 712h0M125 715h0M108 701h0M121 720h0M127 708h0M111 711h0M156 697h0M122 707h0M108 699h0M114 701h0M140 696h0M110 699h0M133 696h0M141 709h0M133 711h0M118 700h0M130 698h0M126 717h0M132 689h0M129 698h0M133 719h0M107 721h0M147 699h0M99 696h0M125 716h0M111 705h0M139 709h0M139 716h0M126 683h0M126 696h0M133 694h0M129 701h0M146 711h0M127 712h0M131 697h0M128 719h0M128 709h0M126 697h0M132 691h0M122 707h0M120 699h0M129 697h0M121 694h0M113 700h0M164 709h0M97 703h0M116 694h0M138 705h0M109 717h0M121 726h0M129 686h0M99 706h0M112 698h0M128 684h0M134 695h0M134 711h0M125 709h0M130 696h0M110 715h0M114 706h0M126 713h0M147 693h0M147 712h0M133 708h0M136 708h0M137 680h0M103 712h0M101 713h0M128 686h0M122 708h0M125 696h0M115 699h0M114 711h0M132 711h0M125 731h0M116 698h0M128 713h0M120 705h0M134 690h0M146 708h0M122 701h0M116 705h0M117 709h0M122 705h0M133 691h0M155 698h0M109 682h0M145 684h0M140 712h0M142 691h0M142 707h0M131 703h0M123 702h0M150 709h0M105 706h0M167 701h0M151 704h0M122 700h0M144 715h0M122 695h0M162 709h0M126 715h0M110 692h0M125 700h0M137 704h0M129 712h0M131 713h0M139 710h0M139 702h0M135 686h0M132 703h0M140 701h0M141 706h0M136 697h0M136 705h0M113 707h0M119 696h0M118 713h0M141 699h0M141 703h0M115 683h0M110 707h0M124 697h0M109 715h0M107 728h0M140 682h0M120 710h0M122 708h0M130 710h0M117 704h0M134 709h0M146 707h0M146 703h0M118 703h0M140 690h0M132 688h0M120 692h0M128 691h0M129 721h0M135 692h0M160 698h0M123 730h0M125 704h0M127 727h0M127 692h0M133 706h0M125 707h0M131 704h0M118 712h0M123 703h0M163 697h0M130 697h0M114 700h0M119 697h0M128 707h0M135 708h0M118 712h0M133 691h0M140 702h0M109 690h0M123 697h0M130 714h0M129 702h0M123 686h0M163 697h0M132 701h0M126 711h0M142 698h0M116 698h0M132 715h0M134 704h0M118 701h0M101 709h0M124 708h0M127 687h0M122 696h0M130 701h0M123 711h0M150 697h0M140 711h0M114 679h0M131 692h0M124 692h0M136 728h0M161 710h0M130 713h0M110 721h0M126 709h0M115 706h0M111 713h0M128 683h0M137 735h0M105 689h0M129 708h0M120 714h0M133 696h0M120 713h0M139 681h0M121 731h0M115 709h0M129 701h0M129 694h0M132 727h0M110 713h0M122 707h0M142 702h0M124 712h0M131 697h0M134 693h0M111 704h0M134 690h0M120 707h0M117 697h0M146 712h0M132 694h0M115 711h0M115 700h0M131 722h0M108 731h0M140 694h0M123 699h0M132 692h0M120 700h0M114 721h0M138 689h0M128 705h0M114 721h0M118 711h0M114 699h0M133 713h0M101 687h0M113 675h0M131 726h0M144 704h0M121 701h0M107 706h0M119 711h0M139 695h0M119 715h0M122 697h0M136 694h0M150 705h0M122 711h0M137 698h0M131 692h0M127 711h0M114 707h0M128 720h0M102 694h0M109 701h0M145 728h0M133 684h0M105 690h0M95 712h0M117 712h0M148 707h0M132 682h0M124 708h0M101 723h0M111 712h0M137 700h0M145 695h0M133 703h0M125 684h0M123 708h0M132 699h0M107 683h0M141 706h0M119 697h0M115 701h0M119 684h0M106 705h0M120 703h0M131 698h0M101 701h0M125 716h0M148 693h0M121 708h0M138 680h0M105 701h0M130 704h0M121 697h0M160 708h0M123 697h0M117 687h0M135 709h0M138 719h0M134 703h0M132 719h0M130 692h0M138 700h0M129 692h0M122 703h0M138 720h0M141 707h0M112 695h0M126 694h0M144 707h0M122 713h0M127 701h0M107 697h0M151 718h0M118 707h0M97 708h0M122 710h0M129 706h0M131 693h0M124 709h0M132 703h0M167 692h0M111 729h0M107 707h0M155 690h0M112 711h0M145 691h0M111 706h0M132 679h0M135 693h0M163 706h0M145 701h0M117 705h0M140 721h0M118 712h0M153 720h0M141 702h0M121 696h0M171 711h0M125 705h0M114 682h0M128 708h0M138 711h0M125 697h0M150 717h0M109 709h0M128 710h0M113 692h0M131 712h0M123 682h0M119 692h0M93 709h0M134 712h0M127 696h0M122 717h0M124 717h0M112 707h0M145 723h0M123 690h0M161 722h0M116 695h0M131 712h0M114 703h0M127 708h0M133 702h0M116 702h0M130 688h0M102 720h0M100 707h0M120 702h0M136 712h0M127 693h0M122 712h0M109 714h0M125 693h0M103 721h0M128 694h0M136 698h0M141 719h0M125 713h0M129 697h0M120 692h0M127 700h0M126 698h0M148 681h0M128 709h0M122 715h0M125 682h0M134 709h0M117 707h0M121 709h0M109 719h0M138 711h0M121 709h0M120 689h0M115 688h0M133 716h0M112 710h0M121 705h0M112 722h0M139 714h0M127 714h0M138 713h0M116 709h0M113 699h0M120 713h0M140 707h0M151 710h0M138 695h0M119 717h0M140 697h0M160 707h0M120 709h0M129 698h0M141 697h0M113 685h0M133 708h0M123 694h0M131 720h0M102 693h0M123 689h0M116 713h0M119 705h0M159 696h0M112 720h0M128 708h0M128 685h0M141 723h0M108 696h0M115 700h0M134 693h0M122 684h0M139 707h0M111 721h0M96 702h0M133 690h0M141 697h0M104 699h0M124 702h0M137 719h0M146 706h0M147 712h0M125 714h0M111 700h0M142 697h0M137 723h0M128 714h0M119 722h0M115 701h0M136 703h0M143 703h0M107 716h0M143 710h0M125 713h0M138 705h0M146 715h0M153 704h0M131 716h0M124 691h0M107 726h0M119 690h0M137 715h0M137 703h0M105 717h0M129 687h0M119 701h0M128 678h0M141 697h0M132 690h0M98 710h0M136 698h0M151 708h0M139 697h0M141 700h0M151 723h0M101 694h0M130 695h0M131 710h0M127 697h0M128 710h0M144 675h0M119 696h0M135 702h0M123 699h0M119 695h0M108 689h0M145 723h0M139 693h0M172 705h0M119 674h0M132 714h0M126 706h0M132 702h0M136 701h0M122 704h0M110 717h0M118 697h0M134 719h0M111 697h0M124 704h0M127 701h0M105 693h0M144 719h0M130 703h0M121 714h0M121 720h0M110 707h0M116 717h0M134 713h0M124 693h0M130 714h0M149 694h0M120 702h0M119 686h0M129 703h0M140 717h0M125 713h0M106 706h0M116 718h0M147 698h0M143 707h0M168 718h0M130 719h0M127 701h0M153 692h0M133 707h0M120 703h0" stroke="#000" stroke-opacity="0.32" stroke-width="2.0" stroke-linecap="round" fill="none" filter="url(#bp)"/>
<path transform="scale(.5)" d="M196 639h0M189 635h0M196 641h0M192 645h0M187 644h0M202 634h0M191 640h0M208 640h0M189 639h0M192 640h0M193 640h0M198 635h0M193 639h0M191 641h0M194 644h0M187 638h0M190 647h0M181 639h0M200 638h0M191 643h0M199 641h0M196 646h0M186 643h0M205 637h0M181 634h0M188 642h0M196 639h0M191 641h0M207 640h0M187 640h0M193 634h0M200 641h0M191 639h0M191 645h0M208 641h0M191 637h0M187 644h0M193 639h0M196 638h0M195 637h0M189 647h0M202 639h0M188 640h0M196 640h0M185 643h0M188 637h0M193 643h0M198 643h0M190 641h0M189 637h0M198 641h0M191 639h0M197 642h0M177 644h0M201 640h0M198 643h0M202 643h0M194 650h0M199 639h0M204 638h0M203 645h0M204 641h0M200 639h0M181 638h0M185 641h0M199 641h0M197 641h0M201 642h0M183 641h0M199 644h0M202 634h0M185 639h0M184 639h0M196 645h0M193 638h0M201 640h0M198 640h0M197 637h0M187 644h0M189 637h0M196 633h0M194 639h0M187 637h0M199 636h0M209 636h0M204 640h0M189 642h0M203 639h0M186 640h0M202 642h0M199 641h0M191 637h0M197 644h0M198 639h0M183 643h0M191 641h0M189 640h0M192 644h0M176 640h0M195 642h0M202 647h0M185 642h0M189 640h0M186 645h0M198 633h0M208 638h0M197 639h0M196 632h0M200 646h0M186 642h0M199 640h0M195 642h0M210 637h0M194 643h0M204 642h0M192 637h0M202 641h0M191 639h0M190 646h0M199 641h0M198 667h0M199 664h0M206 668h0M200 672h0M203 648h0M189 674h0M186 666h0M193 666h0M194 663h0M186 667h0M196 656h0M187 680h0M191 670h0M190 660h0M196 650h0M192 673h0M203 676h0M199 665h0M196 682h0M194 655h0M196 670h0M194 666h0M196 664h0M197 671h0M196 671h0M198 664h0M192 668h0M191 657h0M198 675h0M190 654h0M194 651h0M191 675h0M197 646h0M190 671h0M189 651h0M198 654h0M193 676h0M194 675h0M194 651h0M207 661h0M190 650h0M197 640h0M186 658h0M196 653h0M194 630h0M189 655h0M192 654h0M185 654h0M192 659h0M200 660h0M190 658h0M195 673h0M193 668h0M202 669h0M191 660h0M193 662h0M198 680h0M200 673h0M195 644h0M204 690h0M184 700h0M185 699h0M191 690h0M197 680h0M182 673h0M191 691h0M187 681h0M186 694h0M191 708h0M178 694h0M188 702h0M195 692h0M185 694h0M187 684h0M180 695h0M178 688h0M181 712h0M190 700h0M183 686h0M176 711h0M188 689h0M187 676h0M180 670h0M187 700h0M195 706h0M197 701h0M183 693h0M181 696h0M185 693h0M184 683h0M183 702h0M191 690h0M196 698h0M192 708h0M178 696h0M194 703h0M198 696h0M187 683h0M186 685h0M187 710h0M186 689h0M181 699h0M181 697h0M187 709h0M187 699h0M185 695h0M176 702h0M188 714h0M183 680h0M187 704h0M182 678h0M184 679h0M198 683h0M183 688h0M182 700h0M185 697h0M182 673h0M185 690h0M178 694h0M191 696h0M191 692h0M184 700h0M199 701h0M183 688h0M174 698h0M179 707h0M188 684h0M187 693h0M180 674h0M191 691h0M174 695h0M191 674h0M190 687h0M186 700h0M182 698h0M188 688h0M190 692h0M195 692h0M182 704h0M173 711h0M188 685h0M184 715h0M176 710h0M192 705h0M186 696h0M187 691h0M183 701h0M190 680h0M189 708h0M188 708h0M177 687h0M184 709h0M180 684h0M186 703h0M194 695h0M183 703h0M186 686h0M195 703h0M194 697h0M180 690h0M182 702h0M174 693h0M182 694h0M176 709h0M180 696h0M184 688h0M189 685h0M185 696h0M193 705h0M181 701h0M127 691h0M151 662h0M161 664h0M137 685h0M157 667h0M140 684h0M123 693h0M125 690h0M121 698h0M151 670h0M133 714h0M154 677h0M141 684h0M149 672h0M156 657h0M143 700h0M135 693h0M128 697h0M153 667h0M133 674h0" stroke="#000" stroke-opacity="0.42" stroke-width="2.0" stroke-linecap="round" fill="none" filter="url(#bp)"/>
<path transform="scale(.5)" d="M208 688h0M92 704h0M226 663h0M158 617h0M121 722h0M177 687h0M213 730h0M219 706h0M136 724h0M193 704h0M193 608h0M104 694h0M106 703h0M122 614h0M227 608h0M131 662h0M193 617h0M112 634h0M175 738h0M224 604h0M108 691h0M97 659h0M139 633h0M223 674h0M204 642h0M233 730h0M95 696h0M194 690h0M216 628h0M212 676h0" stroke="#000" stroke-opacity="0.2" stroke-width="2.0" stroke-linecap="round" fill="none" filter="url(#bp)"/>
<ellipse cx="96.5" cy="320.2" rx="5.5" ry="2" fill="#000" fill-opacity="1.0" filter="url(#b3)"/>
<path d="M80.8 301.4V373.4M45.4 339.2H117.7" stroke="#7a7a7a" stroke-width="1.1" fill="none"/>
<text x="116.5" y="308.4" font-size="6.3" text-anchor="end" fill="#222" stroke="#222" stroke-width="0.22">15.7</text>
<text x="47.2" y="372.4" font-size="6.3" fill="#222" stroke="#222" stroke-width="0.22">77.3</text>
<text x="116.7" y="372.4" font-size="6.3" text-anchor="end" fill="#222" stroke="#222" stroke-width="0.22">5.63</text>
<text x="39.2" y="374.8" font-size="4.3" text-anchor="middle" fill="#333" stroke="#333" stroke-width="0.15">10<tspan font-size="2.9" dy="-1.7">0</tspan></text>
<text x="39.2" y="356.8" font-size="4.3" text-anchor="middle" fill="#333" stroke="#333" stroke-width="0.15">10<tspan font-size="2.9" dy="-1.7">1</tspan></text>
<text x="39.2" y="338.8" font-size="4.3" text-anchor="middle" fill="#333" stroke="#333" stroke-width="0.15">10<tspan font-size="2.9" dy="-1.7">2</tspan></text>
<text x="39.2" y="320.8" font-size="4.3" text-anchor="middle" fill="#333" stroke="#333" stroke-width="0.15">10<tspan font-size="2.9" dy="-1.7">3</tspan></text>
<text x="39.2" y="302.8" font-size="4.3" text-anchor="middle" fill="#333" stroke="#333" stroke-width="0.15">10<tspan font-size="2.9" dy="-1.7">4</tspan></text>
<rect x="141.1" y="301.4" width="72.3" height="72" fill="none" stroke="#a0a0a0" stroke-width="0.9"/>
<path d="M141.1 301.4V373.4H213.4" stroke="#666" stroke-width="1.1" fill="none"/>
<path d="M141.1 368h-1M146.5 373.4v1M141.1 364.8h-1M149.7 373.4v1M141.1 362.6h-1M152 373.4v1M141.1 360.8h-1M153.7 373.4v1M141.1 359.4h-1M155.2 373.4v1M141.1 358.2h-1M156.4 373.4v1M141.1 357.1h-1M157.4 373.4v1M141.1 356.2h-1M158.3 373.4v1M141.1 350h-1M164.6 373.4v1M141.1 346.8h-1M167.8 373.4v1M141.1 344.6h-1M170.1 373.4v1M141.1 342.8h-1M171.8 373.4v1M141.1 341.4h-1M173.2 373.4v1M141.1 340.2h-1M174.5 373.4v1M141.1 339.1h-1M175.5 373.4v1M141.1 338.2h-1M176.4 373.4v1M141.1 332h-1M182.7 373.4v1M141.1 328.8h-1M185.9 373.4v1M141.1 326.6h-1M188.1 373.4v1M141.1 324.8h-1M189.9 373.4v1M141.1 323.4h-1M191.3 373.4v1M141.1 322.2h-1M192.5 373.4v1M141.1 321.1h-1M193.6 373.4v1M141.1 320.2h-1M194.5 373.4v1M141.1 314h-1M200.8 373.4v1M141.1 310.8h-1M203.9 373.4v1M141.1 308.6h-1M206.2 373.4v1M141.1 306.8h-1M208 373.4v1M141.1 305.4h-1M209.4 373.4v1M141.1 304.2h-1M210.6 373.4v1M141.1 303.1h-1M211.6 373.4v1M141.1 302.2h-1M212.6 373.4v1M141.1 373.4h-1.8M141.1 373.4v1.8M141.1 355.4h-1.8M159.2 373.4v1.8M141.1 337.4h-1.8M177.2 373.4v1.8M141.1 319.4h-1.8M195.3 373.4v1.8M141.1 301.4h-1.8M213.4 373.4v1.8" stroke="#777" stroke-width="0.5" fill="none"/>
<path transform="scale(.5)" d="M332 715h0M316 706h0M339 710h0M313 685h0M316 712h0M311 695h0M338 704h0M323 714h0M328 714h0M293 700h0M324 705h0M313 725h0M318 704h0M328 719h0M342 701h0M339 705h0M309 700h0M330 683h0M331 716h0M343 712h0M335 700h0M329 711h0M341 711h0M316 708h0M337 719h0M330 706h0M315 685h0M340 703h0M323 692h0M330 702h0M302 720h0M326 693h0M308 699h0M322 699h0M323 718h0M301 701h0M342 697h0M339 692h0M338 697h0M310 715h0M311 717h0M319 720h0M326 724h0M340 701h0M337 708h0M337 707h0M325 710h0M343 702h0M310 693h0M314 706h0M328 700h0M317 700h0M349 676h0M315 700h0M341 708h0M303 689h0M321 711h0M303 706h0M336 691h0M317 693h0M344 701h0M316 722h0M334 728h0M317 682h0M356 708h0M347 711h0M325 716h0M311 706h0M329 707h0M307 709h0M334 690h0M303 703h0M307 715h0M334 687h0M327 711h0M345 683h0M333 690h0M348 728h0M310 682h0M313 721h0M327 697h0M324 689h0M329 715h0M289 712h0M306 696h0M323 702h0M308 703h0M314 712h0M331 697h0M306 707h0M316 706h0M316 693h0M328 694h0M329 709h0M301 699h0M331 710h0M311 712h0M332 720h0M327 694h0M325 694h0M307 707h0M321 724h0M288 699h0M326 694h0M320 682h0M314 708h0M317 710h0M315 707h0M318 687h0M344 694h0M306 701h0M289 689h0M342 703h0M307 710h0M309 692h0M331 684h0M304 719h0M304 694h0M297 697h0M301 702h0M336 672h0M328 699h0M330 720h0M288 689h0M301 716h0M333 722h0M329 710h0M303 700h0M304 705h0M334 708h0M293 705h0M332 707h0M335 706h0M320 687h0M338 662h0M346 712h0M324 731h0M313 713h0M326 692h0M307 684h0M303 707h0M300 699h0M323 687h0M301 704h0M326 704h0M313 710h0M306 705h0M332 719h0M304 708h0M305 701h0M330 701h0M338 711h0M352 710h0M344 698h0M327 697h0M312 720h0M313 709h0M295 706h0M302 710h0M336 698h0M332 698h0M294 706h0M285 683h0M323 713h0M308 704h0M312 691h0M317 683h0M351 721h0M294 705h0M332 709h0M332 679h0M292 687h0M331 701h0M311 705h0M343 713h0M336 705h0M321 716h0M318 702h0M295 702h0M284 716h0M315 732h0M340 684h0M290 702h0M297 706h0M338 702h0M358 705h0M313 720h0M332 734h0M333 717h0M328 715h0M312 719h0M309 720h0M343 699h0M299 701h0M316 710h0M329 708h0M351 717h0M299 705h0M332 721h0M325 730h0M304 682h0M331 704h0M319 692h0M351 687h0M318 701h0M308 711h0M332 683h0M329 693h0M311 709h0M323 704h0M339 710h0M324 695h0M322 682h0M308 703h0M322 701h0M326 698h0M317 702h0M318 708h0M299 699h0M300 721h0M317 708h0M330 697h0M322 692h0M295 704h0M327 691h0M327 680h0M318 705h0M323 715h0M339 708h0M306 701h0M338 715h0M333 720h0M304 720h0M320 705h0M327 697h0M318 695h0M310 675h0M304 710h0M325 705h0M332 711h0M312 697h0M304 696h0M341 689h0M298 725h0M286 705h0M348 698h0M328 714h0M330 704h0M346 702h0M329 712h0M341 691h0M306 696h0M344 681h0M319 684h0M309 696h0M312 712h0M326 715h0M300 705h0M308 695h0M307 703h0M329 704h0M330 691h0M324 691h0M327 689h0M321 702h0M306 709h0M310 712h0M312 711h0M322 688h0M319 697h0M354 687h0M307 694h0M304 693h0M307 721h0M340 712h0M297 710h0M330 720h0M319 692h0M319 715h0M317 705h0M299 694h0M311 701h0M304 718h0M322 726h0M312 720h0M346 708h0M323 694h0M304 685h0M307 699h0M326 709h0M334 711h0M329 707h0M336 723h0M316 717h0M344 719h0M301 690h0M323 696h0M304 705h0M315 724h0M311 700h0M301 716h0M311 689h0M316 683h0M296 709h0M317 688h0M346 720h0M316 710h0M357 707h0M322 694h0M308 702h0M321 703h0M307 693h0M327 704h0M323 697h0M313 701h0M320 707h0M313 698h0M311 703h0M323 711h0M314 696h0M334 699h0M309 699h0M317 700h0M347 706h0M337 696h0M325 726h0M347 698h0M343 682h0M313 719h0M308 712h0M328 696h0M324 718h0M300 675h0M303 698h0M313 704h0M313 708h0M305 696h0M344 705h0M302 708h0M353 689h0M335 730h0M312 712h0M316 706h0M304 702h0M300 697h0M335 697h0M314 705h0M320 695h0M334 688h0M316 713h0M313 703h0M337 711h0M354 708h0M332 701h0M328 705h0M337 684h0M334 702h0M328 694h0M328 696h0M321 693h0M307 704h0M310 701h0M316 714h0M321 704h0M311 685h0M335 702h0M323 699h0M291 699h0M318 696h0M287 694h0M306 722h0M305 691h0M336 697h0M295 709h0M334 695h0M328 692h0M306 711h0M327 706h0M311 719h0M332 715h0M330 705h0M316 701h0M312 706h0M346 676h0M298 707h0M328 713h0M345 715h0M335 702h0M313 727h0M310 719h0M315 714h0M327 698h0M338 684h0M304 694h0M304 702h0M322 707h0M343 712h0M325 726h0M336 723h0M310 697h0M291 713h0M317 704h0M322 719h0M330 717h0M323 700h0M307 704h0M309 709h0M329 701h0M342 699h0M341 710h0M325 703h0M347 702h0M326 718h0M329 715h0M338 712h0M329 710h0M299 720h0M325 709h0M305 697h0M311 688h0M322 709h0M330 710h0M307 702h0M333 709h0M309 728h0M328 702h0M308 665h0M305 709h0M330 704h0M290 703h0M310 710h0M324 683h0M329 689h0M306 686h0M311 706h0M291 696h0M306 699h0M316 709h0M344 702h0M313 677h0M317 686h0M315 685h0M339 698h0M312 697h0M305 713h0M316 698h0M334 719h0M327 703h0M315 721h0M317 705h0M322 707h0M341 695h0M324 712h0M291 700h0M291 716h0M305 701h0M310 709h0M336 707h0M308 708h0M336 701h0M325 688h0M314 728h0M332 715h0M312 707h0M323 698h0M319 711h0M331 688h0M317 706h0M303 709h0M338 715h0M307 693h0M336 706h0M315 686h0M312 722h0M350 702h0M338 698h0M313 704h0M323 679h0M306 710h0M308 704h0M307 692h0M313 712h0M315 725h0M300 708h0M298 701h0M315 712h0M316 683h0M308 724h0M304 703h0M316 687h0M328 705h0M330 681h0M325 731h0M346 694h0M299 698h0M300 693h0M323 707h0M307 711h0M313 695h0M295 688h0M302 693h0M319 710h0M314 723h0M312 711h0M339 710h0M320 704h0M310 718h0M326 717h0M318 704h0M311 704h0M320 709h0M321 724h0M343 705h0M322 718h0M320 708h0M300 702h0M308 699h0M305 722h0M358 676h0M322 726h0M301 708h0M325 711h0M333 704h0M338 710h0M302 702h0M321 707h0M300 704h0M322 699h0M321 707h0M318 722h0M326 716h0M314 710h0M329 702h0M307 706h0M353 704h0M336 708h0M328 715h0M333 705h0M316 709h0M300 729h0M308 705h0M327 691h0M331 723h0M308 686h0M299 720h0M337 694h0M329 714h0M315 713h0M319 715h0M332 691h0M324 698h0M345 707h0M316 702h0M317 712h0M336 694h0M331 676h0M320 714h0M308 714h0M323 710h0M322 710h0M295 693h0M342 702h0M321 709h0M299 712h0M312 727h0M326 689h0M328 707h0M328 693h0M317 712h0M292 682h0M320 684h0M334 700h0M363 716h0M315 706h0M312 723h0M310 704h0M303 693h0M357 708h0M345 686h0M299 697h0M321 695h0M320 725h0M314 701h0M334 706h0M323 688h0M320 711h0M327 694h0M339 719h0M339 711h0M304 695h0M323 706h0M331 716h0M300 710h0M294 698h0M307 716h0M336 704h0M311 687h0M309 725h0M320 699h0M322 738h0M346 694h0M287 727h0M308 716h0M330 721h0M305 702h0M309 723h0M326 719h0M321 689h0M313 686h0M293 678h0M317 705h0M299 698h0M321 705h0M314 727h0M323 712h0M325 717h0M300 690h0M329 680h0M320 702h0M316 693h0M301 712h0M330 705h0M332 702h0M330 698h0M295 705h0M329 708h0M328 723h0M288 690h0M305 709h0M298 710h0M316 714h0M329 708h0M300 694h0M317 687h0M331 676h0M310 694h0M326 726h0M316 716h0M312 707h0M303 713h0M329 717h0M331 715h0M302 690h0M327 695h0M310 704h0M313 700h0M336 718h0M314 685h0" stroke="#000" stroke-opacity="0.32" stroke-width="2.0" stroke-linecap="round" fill="none" filter="url(#bp)"/>
<path transform="scale(.5)" d="M381 643h0M392 641h0M386 645h0M374 638h0M386 639h0M373 641h0M373 638h0M381 634h0M389 649h0M378 636h0M375 640h0M368 642h0M378 646h0M383 638h0M375 638h0M375 639h0M383 644h0M379 646h0M397 640h0M372 637h0M400 643h0M369 640h0M380 643h0M395 641h0M378 637h0M381 640h0M379 635h0M387 639h0M385 636h0M399 633h0M377 637h0M374 646h0M391 648h0M377 646h0M391 644h0M386 641h0M371 636h0M389 643h0M376 642h0M370 646h0M383 640h0M365 640h0M366 639h0M388 648h0M373 637h0M385 643h0M372 642h0M369 638h0M403 644h0M379 638h0M369 639h0M401 641h0M392 640h0M380 644h0M382 638h0M385 640h0M385 635h0M389 645h0M376 641h0M374 633h0M383 643h0M391 643h0M398 642h0M382 647h0M374 641h0M385 652h0M388 641h0M383 644h0M386 644h0M386 641h0M380 645h0M377 644h0M381 640h0M372 638h0M377 641h0M383 641h0M377 638h0M389 642h0M395 642h0M406 640h0M399 646h0M386 648h0M388 641h0M367 641h0M383 635h0M377 648h0M380 640h0M385 640h0M388 642h0M386 638h0M387 644h0M398 644h0M357 639h0M372 647h0M389 644h0M365 640h0M380 649h0M384 643h0M382 642h0M400 639h0M392 640h0M392 642h0M382 643h0M393 641h0M372 645h0M387 644h0M395 642h0M389 644h0M381 644h0M381 646h0M386 652h0M387 643h0M393 634h0M389 645h0M379 645h0M368 642h0M374 643h0M379 638h0M384 637h0M393 644h0M380 644h0M380 644h0M389 650h0M376 643h0M381 643h0M387 645h0M381 644h0M392 646h0M387 647h0M375 641h0M394 637h0M374 641h0M402 647h0M383 642h0M387 639h0M387 647h0M388 642h0M364 642h0M377 643h0M379 635h0M390 644h0M387 642h0M391 637h0M380 643h0M380 640h0M403 646h0M386 639h0M387 638h0M386 642h0M384 649h0M377 671h0M371 649h0M378 665h0M372 667h0M373 654h0M381 661h0M381 655h0M382 658h0M375 690h0M370 671h0M374 656h0M384 647h0M384 646h0M371 658h0M378 644h0M378 669h0M368 668h0M385 647h0M374 668h0M379 653h0M378 676h0M373 664h0M372 652h0M371 659h0M383 654h0M388 653h0M372 661h0M383 661h0M374 672h0M383 685h0M371 664h0M382 672h0M379 634h0M384 673h0M387 672h0M368 671h0M377 660h0M360 648h0M394 660h0M372 654h0M382 650h0M383 657h0M379 659h0M380 654h0M384 678h0M378 668h0M377 660h0M377 668h0M382 663h0M378 657h0M383 656h0M370 653h0M382 657h0M380 658h0M383 685h0M369 665h0M372 664h0M377 668h0M381 655h0M388 672h0M378 667h0M374 666h0M372 649h0M380 671h0M384 670h0M371 660h0M383 665h0M379 658h0M368 669h0M381 666h0M369 654h0M371 657h0M381 643h0M385 664h0M384 660h0M386 649h0M365 655h0M373 674h0M381 676h0M370 665h0M377 671h0M387 670h0M371 663h0M388 655h0M391 658h0M372 663h0M375 662h0M378 665h0M380 672h0M375 660h0M370 697h0M373 676h0M368 667h0M378 700h0M369 700h0M377 687h0M367 696h0M361 701h0M370 704h0M378 680h0M363 695h0M372 703h0M372 686h0M361 683h0M368 709h0M375 681h0M362 691h0M378 704h0M368 693h0M361 695h0M369 679h0M375 692h0M365 693h0M366 696h0M360 688h0M372 692h0M381 707h0M374 680h0M362 680h0M373 701h0M374 693h0M370 705h0M368 690h0M370 688h0M368 677h0M378 692h0M360 688h0M359 705h0M369 690h0M362 714h0M373 687h0M373 697h0M374 692h0M376 688h0M372 689h0M357 712h0M376 687h0M371 679h0M365 695h0M374 688h0M366 687h0M380 708h0M374 699h0M369 686h0M363 683h0M367 709h0M368 688h0M382 681h0M363 689h0M380 691h0M371 676h0M372 694h0M365 680h0M368 698h0M370 696h0M387 692h0M362 699h0M374 699h0M360 702h0M369 683h0M367 684h0M365 687h0M351 690h0M367 702h0M370 704h0M368 689h0M354 680h0M367 689h0M368 684h0M374 694h0M368 686h0M376 681h0M371 687h0M372 683h0M364 702h0M372 683h0M357 703h0M363 693h0M361 683h0M361 696h0M356 712h0M373 700h0M376 698h0M375 701h0M386 706h0M376 703h0M367 686h0M369 695h0M359 696h0M366 698h0M366 675h0M367 677h0M359 708h0M366 697h0M374 698h0M377 705h0M369 694h0M377 692h0M376 693h0M364 712h0M372 707h0M365 701h0M378 693h0M368 695h0M364 687h0M372 687h0M382 705h0M366 689h0M369 697h0M371 682h0M363 690h0M372 687h0M362 685h0M374 685h0M369 688h0M378 695h0M375 711h0M367 689h0M360 694h0M376 678h0M363 689h0M367 700h0M365 702h0M374 682h0M355 690h0M375 687h0M361 689h0M383 671h0M360 699h0M372 706h0M382 701h0M368 707h0M367 706h0M363 698h0M369 682h0M368 713h0M363 681h0M373 682h0M380 691h0M375 699h0M368 699h0M375 688h0M357 690h0M374 680h0M383 697h0M363 699h0M367 677h0M368 673h0M378 698h0M371 701h0M376 695h0M370 707h0M375 711h0M364 686h0M366 701h0M360 691h0M375 701h0M375 693h0M364 690h0M375 662h0M373 692h0M366 700h0M374 691h0M372 694h0M375 684h0M363 683h0M364 691h0M366 693h0M369 696h0M369 683h0M386 683h0M379 691h0M372 711h0M368 683h0M365 698h0M363 698h0M368 691h0M367 701h0M366 696h0M367 682h0M369 682h0M365 687h0M358 690h0M364 696h0M376 707h0M372 705h0M369 697h0M378 687h0M370 687h0M365 679h0M380 684h0M372 697h0M363 679h0M368 702h0M370 687h0M367 697h0M363 675h0M373 687h0M362 698h0M368 685h0M363 678h0M370 702h0M369 696h0M371 683h0M361 685h0M366 716h0M358 696h0M381 699h0M373 712h0M364 690h0M368 699h0M375 706h0M371 686h0M361 697h0M366 701h0M376 697h0M372 689h0M375 702h0M367 685h0M358 700h0M378 706h0M381 698h0M367 697h0M381 693h0M370 694h0M372 678h0M374 700h0M377 700h0M366 696h0M373 697h0M364 681h0M365 671h0M373 695h0M381 691h0M375 688h0M377 698h0M372 682h0M372 695h0M382 690h0M377 693h0M372 691h0M365 687h0M366 693h0M379 677h0M374 687h0M358 684h0M371 686h0M364 692h0M370 694h0M376 685h0M378 689h0M368 693h0M370 688h0M380 687h0M360 687h0M370 707h0M362 687h0M376 700h0M373 696h0M370 702h0M374 685h0M365 696h0M368 707h0M361 679h0M381 694h0M371 700h0M377 678h0M377 670h0M366 686h0M371 685h0M371 678h0M375 706h0M359 703h0M362 698h0M371 693h0M382 687h0M377 699h0M367 693h0M361 690h0M375 699h0M365 691h0M369 687h0M376 700h0M378 697h0M373 709h0M369 673h0M379 694h0M368 694h0M369 694h0M368 704h0M369 692h0M357 703h0M369 684h0M370 694h0M367 696h0M372 690h0M358 686h0M372 689h0M369 692h0M372 701h0M367 697h0M368 684h0M374 697h0M369 710h0M368 699h0M367 677h0M363 691h0M360 686h0M371 688h0M362 706h0M378 701h0M372 686h0M349 689h0M366 699h0M365 690h0M355 688h0M365 694h0M370 685h0M369 702h0M359 703h0M373 698h0M370 683h0M368 692h0M375 689h0M375 662h0M370 704h0M359 708h0M373 705h0M356 697h0M366 711h0M370 704h0M374 694h0M380 687h0M371 693h0M373 687h0M371 714h0M371 677h0M370 689h0M372 698h0M364 691h0M365 688h0M371 683h0M380 700h0M369 690h0M365 688h0M372 688h0M364 686h0M367 692h0M364 689h0M374 689h0M364 695h0M367 707h0M366 700h0M364 708h0M361 706h0M361 683h0M376 692h0M361 703h0M375 703h0M369 695h0M375 687h0M377 684h0M372 693h0M359 697h0M371 704h0M365 707h0M378 697h0M361 684h0M370 684h0M364 709h0M329 688h0M347 668h0M331 678h0M321 699h0M354 660h0M342 663h0M317 706h0M337 682h0M344 659h0M332 661h0M331 678h0M342 651h0M337 689h0M321 717h0M324 701h0M348 663h0M322 701h0M341 655h0M343 678h0M350 656h0M333 693h0M341 696h0M311 703h0M337 688h0M343 679h0" stroke="#000" stroke-opacity="0.42" stroke-width="2.0" stroke-linecap="round" fill="none" filter="url(#bp)"/>
<path transform="scale(.5)" d="M284 673h0M421 711h0M361 636h0M421 703h0M351 687h0M331 692h0M311 613h0M394 715h0M357 683h0M341 668h0M407 616h0M287 611h0M351 709h0M411 666h0M358 636h0M292 642h0M355 635h0M382 703h0M362 715h0M301 717h0M329 739h0M379 689h0M370 736h0M289 667h0M393 666h0M407 686h0M357 735h0M317 688h0M331 728h0M420 725h0" stroke="#000" stroke-opacity="0.2" stroke-width="2.0" stroke-linecap="round" fill="none" filter="url(#bp)"/>
<ellipse cx="191.5" cy="321" rx="6" ry="2.4" fill="#000" fill-opacity="1.0" filter="url(#b3)"/>
<path d="M175.5 301.4V373.4M141.1 339.2H213.4" stroke="#7a7a7a" stroke-width="1.1" fill="none"/>
<text x="212.2" y="308.4" font-size="6.3" text-anchor="end" fill="#222" stroke="#222" stroke-width="0.22">21.4</text>
<text x="142.9" y="372.4" font-size="6.3" fill="#222" stroke="#222" stroke-width="0.22">55.5</text>
<text x="212.4" y="372.4" font-size="6.3" text-anchor="end" fill="#222" stroke="#222" stroke-width="0.22">21.7</text>
<text x="134.9" y="374.8" font-size="4.3" text-anchor="middle" fill="#333" stroke="#333" stroke-width="0.15">10<tspan font-size="2.9" dy="-1.7">0</tspan></text>
<text x="134.9" y="356.8" font-size="4.3" text-anchor="middle" fill="#333" stroke="#333" stroke-width="0.15">10<tspan font-size="2.9" dy="-1.7">1</tspan></text>
<text x="134.9" y="338.8" font-size="4.3" text-anchor="middle" fill="#333" stroke="#333" stroke-width="0.15">10<tspan font-size="2.9" dy="-1.7">2</tspan></text>
<text x="134.9" y="320.8" font-size="4.3" text-anchor="middle" fill="#333" stroke="#333" stroke-width="0.15">10<tspan font-size="2.9" dy="-1.7">3</tspan></text>
<text x="134.9" y="302.8" font-size="4.3" text-anchor="middle" fill="#333" stroke="#333" stroke-width="0.15">10<tspan font-size="2.9" dy="-1.7">4</tspan></text>
<rect x="235.1" y="301.4" width="72.3" height="72" fill="none" stroke="#a0a0a0" stroke-width="0.9"/>
<path d="M235.1 301.4V373.4H307.4" stroke="#666" stroke-width="1.1" fill="none"/>
<path d="M235.1 368h-1M240.5 373.4v1M235.1 364.8h-1M243.7 373.4v1M235.1 362.6h-1M246 373.4v1M235.1 360.8h-1M247.7 373.4v1M235.1 359.4h-1M249.2 373.4v1M235.1 358.2h-1M250.4 373.4v1M235.1 357.1h-1M251.4 373.4v1M235.1 356.2h-1M252.3 373.4v1M235.1 350h-1M258.6 373.4v1M235.1 346.8h-1M261.8 373.4v1M235.1 344.6h-1M264.1 373.4v1M235.1 342.8h-1M265.8 373.4v1M235.1 341.4h-1M267.2 373.4v1M235.1 340.2h-1M268.5 373.4v1M235.1 339.1h-1M269.5 373.4v1M235.1 338.2h-1M270.4 373.4v1M235.1 332h-1M276.7 373.4v1M235.1 328.8h-1M279.9 373.4v1M235.1 326.6h-1M282.1 373.4v1M235.1 324.8h-1M283.9 373.4v1M235.1 323.4h-1M285.3 373.4v1M235.1 322.2h-1M286.5 373.4v1M235.1 321.1h-1M287.6 373.4v1M235.1 320.2h-1M288.5 373.4v1M235.1 314h-1M294.8 373.4v1M235.1 310.8h-1M297.9 373.4v1M235.1 308.6h-1M300.2 373.4v1M235.1 306.8h-1M302 373.4v1M235.1 305.4h-1M303.4 373.4v1M235.1 304.2h-1M304.6 373.4v1M235.1 303.1h-1M305.6 373.4v1M235.1 302.2h-1M306.6 373.4v1M235.1 373.4h-1.8M235.1 373.4v1.8M235.1 355.4h-1.8M253.2 373.4v1.8M235.1 337.4h-1.8M271.2 373.4v1.8M235.1 319.4h-1.8M289.3 373.4v1.8M235.1 301.4h-1.8M307.4 373.4v1.8" stroke="#777" stroke-width="0.5" fill="none"/>
<path transform="scale(.5)" d="M531 715h0M493 707h0M499 661h0M515 714h0M522 730h0M528 677h0M521 708h0M512 710h0M497 697h0M490 718h0M490 711h0M524 700h0M525 703h0M528 712h0M531 706h0M515 693h0M523 726h0M518 721h0M502 688h0M493 689h0M511 689h0M504 709h0M508 690h0M517 710h0M490 741h0M535 715h0M492 695h0M529 739h0M503 681h0M535 699h0M529 693h0M508 699h0M491 721h0M487 704h0M522 698h0M506 706h0M529 694h0M516 726h0M511 685h0M516 662h0M510 711h0M525 712h0M495 720h0M528 709h0M513 701h0M494 707h0M501 721h0M532 704h0M546 713h0M554 723h0M541 679h0M510 734h0M504 681h0M493 702h0M499 695h0M479 699h0M497 714h0M543 708h0M528 705h0M514 690h0M510 719h0M500 717h0M485 716h0M512 714h0M501 704h0M519 740h0M501 716h0M555 711h0M516 730h0M489 687h0M498 741h0M494 705h0M498 713h0M515 695h0M508 719h0M510 697h0M493 744h0M512 699h0M523 673h0M508 687h0M513 701h0M518 678h0M512 704h0M506 697h0M502 733h0M528 706h0M519 721h0M504 686h0M522 700h0M524 711h0M485 724h0M505 725h0M513 726h0M508 689h0M500 713h0M555 705h0M483 714h0M521 709h0M520 696h0M511 697h0M493 702h0M498 685h0M528 673h0M492 724h0M523 705h0M532 726h0M483 700h0M511 693h0M487 706h0M478 695h0M504 704h0M525 703h0M526 721h0M527 687h0M493 701h0M538 725h0M524 689h0M511 700h0M523 724h0M482 687h0M510 663h0M503 703h0M508 715h0M496 731h0M523 697h0M517 710h0M514 693h0M535 710h0M502 708h0M526 704h0M485 685h0M520 708h0M521 698h0M495 731h0M517 702h0M537 690h0M536 672h0M525 700h0M504 727h0M515 721h0M522 722h0M551 704h0M531 715h0M505 701h0M513 705h0M551 699h0M526 714h0M500 690h0M514 700h0M524 704h0M531 683h0M525 703h0M526 702h0M526 708h0M510 714h0M500 710h0M511 699h0M492 666h0M505 741h0M500 709h0M527 720h0M501 699h0M492 685h0M498 714h0M494 717h0M515 725h0M503 697h0M534 689h0M513 717h0M520 699h0M497 704h0M497 718h0M491 727h0M547 678h0M541 669h0M549 721h0M498 717h0M486 699h0M496 732h0M500 696h0M485 705h0M520 720h0M508 712h0M549 702h0M506 701h0M516 713h0M509 702h0M538 697h0M506 694h0M523 704h0M510 684h0M515 699h0M488 696h0M500 692h0M539 697h0M536 675h0M488 723h0M527 714h0M536 716h0M533 701h0M522 701h0M496 686h0M499 729h0M536 690h0M506 712h0M513 689h0M527 699h0M496 683h0M523 706h0M475 713h0M499 692h0M497 668h0M521 724h0M503 707h0M510 713h0M546 732h0M499 739h0M501 712h0M513 727h0M526 696h0M498 701h0M501 714h0M476 729h0M536 730h0M500 715h0M499 726h0M504 713h0M563 703h0M523 718h0M509 697h0M520 699h0M505 690h0M516 716h0M518 684h0M485 708h0M508 713h0M529 716h0M499 692h0M518 712h0M527 714h0M524 666h0M515 663h0M494 684h0M486 710h0M485 736h0M505 706h0M512 715h0M501 737h0M496 728h0M497 690h0M523 744h0M486 715h0M480 668h0M519 710h0M503 711h0M511 702h0M514 697h0M511 719h0M472 708h0M544 727h0M534 731h0M526 691h0M509 712h0M526 690h0M512 660h0M531 713h0M511 704h0M529 694h0M515 696h0M523 724h0M487 685h0M506 696h0M517 708h0M501 725h0M524 696h0M509 715h0M537 715h0M497 700h0M532 713h0M530 696h0M499 707h0M517 715h0M502 728h0M511 686h0M509 700h0M547 694h0M492 711h0M519 702h0M504 700h0M526 711h0M509 669h0M498 675h0M508 690h0M498 697h0M522 725h0M504 689h0M522 710h0M484 684h0M533 710h0M489 721h0M511 725h0M526 683h0M473 701h0M487 712h0M532 713h0M527 708h0M542 745h0M493 700h0M542 694h0M488 711h0M540 712h0M537 681h0M517 688h0M540 705h0M538 702h0M531 715h0M499 712h0M502 709h0M519 710h0M533 720h0M512 691h0M537 682h0M521 705h0M491 688h0M500 723h0M518 726h0M505 699h0M512 719h0M533 701h0M534 722h0M546 710h0M503 709h0M528 716h0M508 683h0M484 715h0M505 726h0M495 706h0M540 714h0M508 724h0M555 715h0M507 712h0M487 725h0M523 713h0M511 682h0M499 704h0M526 704h0M480 727h0M532 717h0M483 705h0M511 698h0M493 707h0M517 713h0M528 716h0M498 685h0M491 702h0M511 702h0M534 707h0M500 711h0M477 692h0M501 705h0M494 723h0M518 703h0M529 739h0M514 704h0M511 678h0M498 708h0M519 719h0M517 712h0M502 702h0M511 724h0M498 694h0M514 696h0M507 703h0M523 692h0M495 710h0M497 712h0M489 735h0M520 651h0M492 701h0M529 727h0M507 666h0M497 712h0M514 699h0M520 680h0M538 714h0M506 735h0M477 722h0M528 729h0M511 717h0M504 712h0M510 712h0M518 717h0M533 695h0M488 705h0M492 720h0M509 697h0M534 718h0M539 707h0M509 700h0M536 718h0M515 717h0M531 734h0M505 716h0M512 701h0M497 723h0M494 704h0M521 706h0M503 717h0M507 739h0M528 710h0M520 728h0M472 692h0M518 709h0M528 718h0M514 722h0M498 712h0M520 718h0M509 707h0M544 729h0M515 696h0M522 703h0M542 718h0M498 730h0M520 722h0M527 719h0M510 691h0M476 732h0M502 715h0M531 716h0M527 717h0M530 710h0M496 676h0M492 722h0M497 700h0M498 682h0M528 717h0M501 695h0M530 708h0M512 705h0M525 699h0M494 696h0M514 697h0M495 691h0M508 716h0M523 714h0" stroke="#000" stroke-opacity="0.32" stroke-width="2.0" stroke-linecap="round" fill="none" filter="url(#bp)"/>
<path transform="scale(.5)" d="M584 638h0M570 636h0M573 642h0M554 644h0M562 642h0M569 644h0M588 641h0M588 639h0M564 647h0M565 647h0M560 644h0M578 635h0M575 641h0M571 642h0M579 646h0M575 642h0M576 634h0M578 639h0M574 643h0M578 638h0M580 649h0M580 636h0M574 635h0M578 643h0M563 641h0M575 638h0M572 641h0M561 642h0M573 643h0M581 646h0M572 636h0M567 644h0M590 640h0M580 641h0M561 648h0M577 640h0M566 642h0M595 641h0M575 637h0M564 643h0M578 644h0M577 642h0M572 640h0M578 645h0M570 646h0M576 642h0M562 639h0M566 645h0M566 644h0M573 642h0M571 646h0M575 647h0M565 634h0M567 641h0M561 639h0M569 640h0M577 639h0M563 640h0M560 641h0M575 639h0M581 640h0M571 639h0M578 644h0M571 639h0M586 643h0M581 636h0M567 646h0M567 634h0M573 644h0M579 639h0M567 640h0M570 644h0M571 642h0M569 643h0M568 639h0M569 639h0M570 647h0M567 642h0M572 639h0M565 646h0M568 641h0M573 641h0M565 649h0M568 643h0M568 640h0M570 641h0M564 642h0M570 646h0M587 639h0M568 645h0M573 640h0M581 641h0M568 642h0M571 645h0M567 641h0M560 639h0M583 647h0M561 643h0M565 642h0M563 642h0M569 640h0M568 636h0M569 643h0M579 642h0M564 640h0M567 640h0M561 639h0M572 638h0M583 643h0M565 640h0M578 640h0M551 646h0M582 644h0M586 640h0M564 644h0M568 640h0M571 639h0M577 639h0M562 643h0M574 641h0M577 641h0M584 641h0M560 642h0M562 640h0M571 643h0M564 643h0M575 644h0M577 651h0M564 645h0M570 643h0M576 643h0M583 639h0M572 644h0M563 647h0M560 639h0M570 646h0M569 640h0M577 637h0M573 640h0M565 648h0M579 641h0M572 640h0M559 639h0M572 636h0M585 638h0M571 645h0M570 644h0M584 639h0M570 647h0M569 646h0M577 644h0M575 635h0M574 643h0M574 642h0M568 636h0M578 643h0M582 645h0M575 643h0M579 640h0M576 643h0M561 646h0M579 643h0M576 645h0M562 649h0M586 642h0M575 640h0M571 639h0M574 644h0M567 635h0M573 641h0M559 639h0M576 639h0M561 642h0M584 643h0M573 641h0M574 645h0M578 640h0M568 645h0M573 647h0M582 641h0M568 640h0M574 641h0M585 645h0M558 642h0M562 643h0M559 645h0M570 645h0M562 637h0M570 644h0M572 643h0M566 642h0M569 643h0M571 636h0M570 649h0M561 645h0M565 642h0M566 638h0M562 640h0M581 649h0M564 634h0M572 643h0M557 646h0M555 643h0M566 645h0M570 644h0M579 642h0M582 641h0M577 641h0M584 637h0M560 639h0M579 645h0M584 643h0M558 637h0M571 643h0M576 642h0M569 643h0M567 640h0M578 641h0M571 635h0M582 640h0M577 642h0M579 640h0M573 643h0M572 638h0M571 640h0M560 639h0M575 655h0M570 638h0M563 648h0M572 649h0M573 644h0M591 645h0M578 638h0M586 639h0M558 645h0M576 649h0M571 641h0M583 646h0M574 647h0M576 638h0M567 645h0M566 641h0M585 642h0M593 645h0M573 639h0M567 637h0M576 646h0M579 646h0M577 647h0M581 639h0M571 650h0M557 654h0M563 667h0M554 662h0M562 651h0M560 681h0M569 651h0M539 660h0M578 682h0M558 672h0M568 675h0M573 647h0M568 667h0M578 659h0M569 650h0M572 653h0M556 667h0M569 654h0M567 665h0M553 656h0M585 676h0M570 656h0M553 655h0M567 647h0M568 660h0M563 660h0M572 656h0M575 687h0M568 649h0M558 656h0M561 656h0M577 678h0M566 672h0M580 667h0M564 657h0M566 655h0M572 675h0M572 654h0M562 661h0M560 645h0M573 648h0M575 658h0M564 657h0M575 653h0M564 651h0M568 642h0M568 673h0M575 632h0M576 660h0M575 672h0M565 657h0M574 679h0M557 660h0M571 667h0M575 648h0M579 642h0M578 666h0M578 655h0M566 648h0M572 665h0M560 659h0M570 653h0M558 682h0M573 659h0M580 651h0M568 646h0M578 672h0M576 665h0M567 661h0M568 650h0M561 664h0M559 653h0M575 649h0M569 675h0M570 660h0M561 666h0M572 672h0M569 669h0M577 668h0M560 650h0M569 661h0M579 674h0M559 658h0M563 653h0M556 662h0M573 665h0M558 668h0M572 661h0M569 672h0M566 658h0M564 652h0M579 655h0M559 644h0M563 682h0M569 672h0M557 676h0M573 668h0M566 659h0M565 667h0M570 686h0M565 669h0M568 655h0M570 663h0M571 651h0M574 657h0M567 648h0M563 646h0M576 668h0M566 657h0M568 662h0M561 657h0M565 663h0M574 671h0M558 677h0M572 672h0M579 666h0M572 658h0M565 661h0M574 648h0M566 662h0M573 670h0M552 656h0M551 656h0M573 666h0M572 662h0M557 681h0M574 681h0M566 661h0M567 665h0M570 671h0M573 668h0M569 674h0M574 648h0M577 660h0M580 663h0M572 656h0M564 661h0M558 681h0M576 671h0M566 658h0M563 651h0M582 655h0M571 667h0M550 662h0M574 675h0M579 649h0M584 668h0M557 651h0M575 669h0M569 673h0M566 674h0M572 659h0M578 673h0M556 683h0M578 662h0M566 657h0M565 658h0M567 670h0M555 656h0M571 667h0M559 669h0M561 670h0M570 655h0M573 672h0M571 664h0M565 669h0M562 651h0M572 666h0M566 670h0M567 668h0M571 671h0M576 664h0M567 670h0M562 660h0M570 655h0M562 659h0M572 661h0M567 663h0M566 674h0M554 678h0M569 657h0M575 659h0M568 669h0M566 667h0M568 659h0M568 678h0M564 672h0M577 643h0M571 664h0M554 661h0M574 659h0M575 667h0M573 664h0M574 668h0M545 658h0M568 670h0M561 659h0M575 659h0M569 656h0M569 651h0M570 666h0M568 671h0M558 644h0M570 649h0M571 677h0M564 652h0M575 664h0M553 672h0M571 665h0M565 677h0M567 682h0M567 652h0M568 672h0M566 661h0M572 647h0M559 675h0M563 655h0M559 670h0M559 652h0M565 657h0M569 660h0M582 676h0M562 673h0M575 666h0M569 677h0M563 678h0M575 674h0M564 654h0M566 652h0M564 671h0M563 673h0M561 651h0M563 676h0M568 666h0M568 661h0M564 661h0M557 674h0M575 646h0M565 659h0M565 666h0M565 652h0M557 663h0M551 652h0M586 656h0M573 660h0M562 665h0M573 674h0M559 671h0M565 657h0M572 667h0M574 668h0M569 669h0M567 641h0M569 665h0M556 661h0M571 654h0M584 673h0M560 664h0M566 659h0M572 681h0M555 698h0M560 705h0M556 700h0M572 688h0M568 675h0M554 698h0M563 693h0M551 680h0M548 689h0M551 664h0M570 701h0M564 694h0M563 688h0M564 721h0M573 691h0M561 704h0M553 687h0M548 687h0M570 689h0M587 716h0M555 705h0M558 697h0M555 705h0M550 686h0M567 716h0M560 676h0M544 683h0M560 698h0M560 714h0M553 692h0M555 693h0M555 698h0M554 673h0M556 698h0M561 691h0M562 689h0M551 666h0M561 673h0M548 700h0M571 699h0M570 679h0M556 687h0M560 702h0M549 694h0M557 703h0M577 690h0M556 715h0M546 688h0M551 692h0M562 667h0M580 686h0M554 680h0M562 711h0M579 679h0M574 683h0M562 679h0M559 713h0M564 709h0M556 698h0M560 695h0M558 671h0M563 685h0M561 678h0M557 690h0M576 699h0M561 682h0M555 697h0M554 688h0M552 692h0M570 704h0M549 708h0M573 682h0M547 689h0M569 713h0M559 684h0M553 679h0M564 697h0M554 705h0M558 682h0M556 698h0M550 692h0M562 670h0M551 701h0M557 680h0M543 699h0M557 691h0M543 703h0M560 691h0M560 699h0M548 681h0M551 686h0M563 708h0M560 702h0M562 699h0M552 702h0M567 672h0M563 699h0M562 683h0M559 700h0M569 710h0M546 714h0M566 711h0M572 693h0M566 678h0M555 700h0M559 700h0M551 682h0M566 697h0M555 708h0M568 694h0M575 698h0M552 718h0M549 692h0M562 687h0M569 696h0M568 694h0M554 691h0M566 704h0M563 716h0M562 691h0M575 703h0M571 690h0M564 711h0M560 694h0M569 688h0M560 691h0M557 681h0M570 676h0M564 688h0M555 672h0M553 695h0M544 697h0M546 700h0M564 712h0M568 683h0M566 689h0M548 707h0M558 697h0M563 685h0M567 702h0M552 685h0M552 697h0M551 722h0M566 693h0M564 695h0M563 676h0M559 692h0M557 689h0M564 677h0M574 682h0M572 692h0M546 679h0M566 708h0M545 685h0M566 689h0M552 709h0M560 675h0M548 700h0M552 714h0M552 698h0M564 701h0M558 683h0M560 652h0M571 705h0M568 706h0M553 690h0M572 702h0M556 711h0M541 697h0M569 698h0M557 713h0M551 697h0M566 679h0M550 704h0M556 695h0M550 668h0M573 706h0M559 677h0M564 713h0M565 691h0M556 690h0M557 697h0M562 686h0M567 682h0M542 689h0M548 694h0M559 699h0M569 706h0M565 706h0M561 683h0M541 710h0M565 693h0M552 676h0M558 697h0M558 700h0M556 680h0M566 686h0M550 693h0M566 695h0M576 678h0M573 701h0M568 699h0M562 702h0M565 706h0M558 696h0M562 686h0M558 691h0M544 688h0M557 684h0M565 697h0M552 697h0M572 678h0M551 700h0M553 692h0M556 692h0M560 695h0M567 696h0M553 705h0M557 697h0M555 690h0M566 710h0M552 684h0M563 676h0M549 699h0M557 687h0M562 669h0M571 687h0M561 698h0M562 704h0M557 726h0M552 688h0M547 689h0M555 703h0M560 701h0M564 709h0M554 693h0M566 692h0M562 689h0M552 689h0M562 697h0M565 705h0M554 688h0M552 674h0M559 695h0M557 701h0M553 674h0M565 699h0M546 698h0M570 707h0M564 687h0M551 687h0M556 688h0M557 710h0M568 688h0M563 696h0M546 701h0M551 689h0M561 679h0M553 691h0M567 700h0M557 694h0M562 713h0M563 695h0M567 701h0M557 686h0M567 681h0M551 697h0M555 696h0M560 691h0M567 706h0M574 680h0M565 689h0M555 684h0M556 682h0M548 687h0M562 697h0M573 694h0M556 670h0M571 696h0M571 692h0M546 709h0M568 713h0M567 677h0M553 691h0M572 685h0M567 738h0M568 701h0M569 691h0M563 693h0M556 678h0M569 688h0M570 710h0M563 683h0M554 691h0M544 687h0M554 714h0M552 707h0M549 693h0M554 705h0M557 698h0M559 696h0M560 699h0M565 701h0M565 697h0M561 683h0M564 687h0M557 698h0M555 679h0M559 695h0M550 699h0M548 673h0M559 709h0M552 695h0M561 719h0M552 671h0M569 703h0M558 690h0M550 699h0M560 694h0M549 690h0M561 699h0M562 687h0M549 694h0M567 694h0M550 689h0M568 689h0M548 707h0M575 682h0M572 690h0M551 698h0M575 691h0M554 689h0M556 706h0M548 686h0M546 705h0M555 679h0M565 684h0M567 691h0M539 711h0M545 698h0M555 704h0M556 695h0M553 682h0M561 691h0M552 697h0M557 701h0M568 680h0M561 693h0M567 713h0M556 673h0M575 703h0M557 688h0M564 707h0M557 715h0M560 708h0M556 704h0M543 706h0M568 704h0M549 684h0M577 691h0M567 700h0M560 693h0M561 700h0M563 723h0M538 687h0M556 694h0M548 685h0M545 672h0M568 683h0M557 683h0M576 704h0M573 694h0M558 698h0M555 703h0M568 700h0M551 708h0M547 687h0M572 696h0M549 684h0M551 705h0M564 695h0M556 693h0M568 701h0M573 689h0M564 697h0M547 712h0M566 700h0M560 675h0M555 697h0M577 707h0M547 694h0M566 688h0M548 685h0M543 698h0M555 710h0M559 694h0M555 691h0M574 703h0M550 703h0M556 689h0M561 709h0M554 695h0M553 684h0M537 712h0M558 667h0M561 689h0M563 691h0M569 710h0M560 673h0M537 695h0M563 691h0M564 694h0M560 692h0M564 676h0M563 684h0M550 701h0M566 688h0M545 707h0M566 716h0M552 686h0M577 710h0M551 694h0M542 695h0M566 685h0M564 702h0M565 704h0M539 690h0M550 702h0M572 702h0M582 701h0M542 692h0M559 699h0M565 680h0M558 701h0M555 688h0M551 658h0M557 683h0M565 676h0M568 688h0M566 708h0M561 688h0M573 696h0M547 705h0M549 685h0M556 697h0M559 679h0M549 701h0M568 687h0M575 693h0M555 685h0M571 698h0M553 682h0M548 695h0M554 702h0M571 678h0M569 705h0M550 687h0M555 703h0M548 711h0M570 703h0M509 704h0M530 673h0M516 697h0M534 664h0M521 703h0M530 660h0M508 692h0M529 682h0M532 674h0M516 707h0M519 701h0M534 663h0M514 702h0M512 696h0M524 685h0M530 684h0M523 687h0M509 701h0M542 661h0M543 666h0M528 668h0M533 663h0M509 705h0M508 693h0M513 694h0M527 690h0M508 696h0M517 686h0M513 692h0M526 686h0M534 662h0M504 704h0M520 686h0M530 699h0M540 679h0M522 692h0M519 679h0M535 685h0M520 694h0M539 681h0M522 674h0M510 707h0M538 663h0M526 682h0M524 659h0M531 674h0M513 694h0M516 691h0M534 678h0M526 691h0" stroke="#000" stroke-opacity="0.42" stroke-width="2.0" stroke-linecap="round" fill="none" filter="url(#bp)"/>
<path transform="scale(.5)" d="M482 687h0M586 704h0M578 663h0M508 631h0M581 651h0M489 724h0M501 652h0M547 695h0M488 735h0M589 731h0M587 693h0M505 672h0M499 627h0M578 706h0M552 651h0M526 680h0M585 635h0M493 736h0M481 694h0M478 705h0M530 652h0M529 609h0M545 728h0M614 726h0M560 634h0M506 737h0M501 696h0M521 636h0M519 726h0M565 611h0" stroke="#000" stroke-opacity="0.2" stroke-width="2.0" stroke-linecap="round" fill="none" filter="url(#bp)"/>
<ellipse cx="286" cy="321" rx="5.5" ry="2.2" fill="#000" fill-opacity="1.0" filter="url(#b3)"/>
<path d="M270 301.4V373.4M235.1 339.2H307.4" stroke="#7a7a7a" stroke-width="1.1" fill="none"/>
<text x="306.2" y="308.4" font-size="6.3" text-anchor="end" fill="#222" stroke="#222" stroke-width="0.22">45.1</text>
<text x="236.9" y="372.4" font-size="6.3" fill="#222" stroke="#222" stroke-width="0.22">29.9</text>
<text x="306.4" y="372.4" font-size="6.3" text-anchor="end" fill="#222" stroke="#222" stroke-width="0.22">23.2</text>
<text x="228.9" y="374.8" font-size="4.3" text-anchor="middle" fill="#333" stroke="#333" stroke-width="0.15">10<tspan font-size="2.9" dy="-1.7">0</tspan></text>
<text x="228.9" y="356.8" font-size="4.3" text-anchor="middle" fill="#333" stroke="#333" stroke-width="0.15">10<tspan font-size="2.9" dy="-1.7">1</tspan></text>
<text x="228.9" y="338.8" font-size="4.3" text-anchor="middle" fill="#333" stroke="#333" stroke-width="0.15">10<tspan font-size="2.9" dy="-1.7">2</tspan></text>
<text x="228.9" y="320.8" font-size="4.3" text-anchor="middle" fill="#333" stroke="#333" stroke-width="0.15">10<tspan font-size="2.9" dy="-1.7">3</tspan></text>
<text x="228.9" y="302.8" font-size="4.3" text-anchor="middle" fill="#333" stroke="#333" stroke-width="0.15">10<tspan font-size="2.9" dy="-1.7">4</tspan></text>
<rect x="330.1" y="301.4" width="72.3" height="72" fill="none" stroke="#a0a0a0" stroke-width="0.9"/>
<path d="M330.1 301.4V373.4H402.4" stroke="#666" stroke-width="1.1" fill="none"/>
<path d="M330.1 368h-1M335.5 373.4v1M330.1 364.8h-1M338.7 373.4v1M330.1 362.6h-1M341 373.4v1M330.1 360.8h-1M342.7 373.4v1M330.1 359.4h-1M344.2 373.4v1M330.1 358.2h-1M345.4 373.4v1M330.1 357.1h-1M346.4 373.4v1M330.1 356.2h-1M347.3 373.4v1M330.1 350h-1M353.6 373.4v1M330.1 346.8h-1M356.8 373.4v1M330.1 344.6h-1M359.1 373.4v1M330.1 342.8h-1M360.8 373.4v1M330.1 341.4h-1M362.2 373.4v1M330.1 340.2h-1M363.5 373.4v1M330.1 339.1h-1M364.5 373.4v1M330.1 338.2h-1M365.4 373.4v1M330.1 332h-1M371.7 373.4v1M330.1 328.8h-1M374.9 373.4v1M330.1 326.6h-1M377.1 373.4v1M330.1 324.8h-1M378.9 373.4v1M330.1 323.4h-1M380.3 373.4v1M330.1 322.2h-1M381.5 373.4v1M330.1 321.1h-1M382.6 373.4v1M330.1 320.2h-1M383.5 373.4v1M330.1 314h-1M389.8 373.4v1M330.1 310.8h-1M392.9 373.4v1M330.1 308.6h-1M395.2 373.4v1M330.1 306.8h-1M397 373.4v1M330.1 305.4h-1M398.4 373.4v1M330.1 304.2h-1M399.6 373.4v1M330.1 303.1h-1M400.6 373.4v1M330.1 302.2h-1M401.6 373.4v1M330.1 373.4h-1.8M330.1 373.4v1.8M330.1 355.4h-1.8M348.2 373.4v1.8M330.1 337.4h-1.8M366.2 373.4v1.8M330.1 319.4h-1.8M384.3 373.4v1.8M330.1 301.4h-1.8M402.4 373.4v1.8" stroke="#777" stroke-width="0.5" fill="none"/>
<path transform="scale(.5)" d="M716 713h0M735 694h0M711 696h0M705 694h0M721 739h0M693 679h0M676 691h0M711 708h0M692 704h0M708 726h0M709 714h0M706 696h0M685 704h0M697 713h0M689 711h0M702 721h0M710 717h0M704 685h0M690 711h0M702 693h0M725 729h0M694 732h0M672 728h0M703 703h0M685 716h0M687 710h0M692 729h0M668 720h0M700 724h0M715 665h0M700 695h0M697 709h0M711 725h0M685 743h0M704 717h0M692 704h0M727 693h0M714 727h0M714 715h0M701 684h0M684 713h0M708 725h0M714 719h0M700 736h0M706 719h0M730 706h0M688 722h0M700 727h0M685 701h0M711 715h0M691 724h0M698 711h0M710 734h0M716 693h0M682 710h0M674 709h0M700 719h0M695 698h0M695 707h0M691 723h0M705 715h0M704 695h0M702 707h0M699 700h0M714 708h0M681 721h0M704 701h0M692 709h0M723 726h0M681 697h0M674 716h0M697 701h0M707 707h0M737 724h0M704 742h0M698 689h0M702 728h0M703 703h0M698 710h0M666 684h0M689 713h0M711 722h0M727 704h0M670 715h0M701 734h0M705 716h0M692 703h0M726 704h0M667 710h0M700 693h0M678 704h0M669 708h0M697 699h0M687 698h0M700 714h0M690 691h0M725 696h0M697 686h0M715 711h0M703 733h0M705 735h0M707 744h0M710 690h0M722 714h0M687 712h0M707 709h0M714 703h0M686 688h0M695 708h0M696 717h0M707 701h0M696 717h0M691 698h0M715 701h0M681 719h0M708 731h0M688 709h0M690 707h0M717 718h0M713 735h0M707 707h0M702 669h0M709 717h0M674 686h0M689 742h0M723 727h0M686 679h0M693 732h0M720 696h0M700 703h0M690 713h0M696 709h0M712 709h0M669 713h0M710 690h0M710 731h0M704 702h0M714 722h0M682 724h0M689 697h0M730 730h0M689 706h0M707 709h0M716 711h0M697 691h0M682 694h0M673 681h0M705 732h0M678 735h0M704 685h0M693 702h0M684 679h0M703 724h0M718 733h0M693 734h0M691 739h0M710 715h0M734 681h0M707 713h0M709 735h0M720 705h0M711 699h0M675 712h0M677 717h0M689 690h0M695 727h0M727 703h0M696 691h0M691 706h0M735 690h0M728 715h0M713 712h0M699 701h0M691 689h0M730 690h0M709 735h0M719 698h0M701 697h0M694 710h0M717 722h0M695 716h0M728 718h0M711 715h0M705 686h0M709 699h0M683 719h0M721 715h0M700 706h0M692 708h0M711 713h0M732 681h0M691 675h0M719 719h0M689 692h0M708 731h0M713 707h0M704 703h0M718 711h0M713 707h0M733 719h0M695 715h0M675 680h0M710 716h0M718 700h0M713 696h0M703 691h0M714 735h0M692 715h0M708 684h0M691 691h0M699 706h0M691 719h0M686 726h0M714 694h0M672 700h0M715 710h0M692 709h0M669 684h0M682 715h0M698 708h0M687 721h0M687 705h0M700 707h0M674 697h0M708 714h0M695 713h0M679 714h0M700 696h0M721 723h0M707 715h0M712 705h0M698 725h0M711 696h0M699 702h0M680 688h0M681 688h0M692 728h0M681 695h0M698 718h0M706 683h0M726 707h0M717 699h0M692 728h0M700 717h0M715 689h0M739 717h0M697 704h0M707 722h0M709 714h0M683 703h0M714 719h0M678 725h0M709 690h0M704 675h0M670 699h0M695 706h0M702 708h0M712 709h0M701 716h0M709 724h0M733 717h0M698 703h0M716 712h0M684 676h0M694 712h0M697 714h0M698 696h0M686 693h0M705 732h0M690 688h0M699 731h0M701 707h0M694 710h0M682 708h0M708 699h0M695 731h0M719 691h0M674 715h0M713 723h0M700 716h0M715 719h0M720 683h0M717 717h0M691 684h0M711 708h0M705 699h0M710 725h0M695 720h0M699 718h0M708 740h0M687 741h0M682 702h0M690 716h0M719 728h0M686 711h0M714 722h0M701 727h0M697 701h0M680 729h0M698 702h0M683 722h0M716 719h0M719 705h0M698 700h0M707 691h0M717 716h0M704 733h0M694 734h0M700 709h0M713 699h0" stroke="#000" stroke-opacity="0.32" stroke-width="2.0" stroke-linecap="round" fill="none" filter="url(#bp)"/>
<path transform="scale(.5)" d="M762 650h0M776 638h0M762 648h0M760 637h0M771 638h0M765 647h0M720 639h0M775 646h0M772 644h0M760 647h0M760 643h0M763 640h0M749 643h0M773 640h0M781 642h0M745 638h0M741 651h0M767 645h0M754 646h0M762 642h0M751 642h0M756 648h0M750 641h0M771 644h0M761 650h0M769 639h0M742 638h0M763 644h0M747 645h0M762 638h0M754 644h0M772 652h0M754 641h0M756 646h0M751 641h0M765 643h0M757 647h0M770 646h0M755 640h0M773 643h0M746 635h0M752 646h0M752 641h0M751 642h0M761 636h0M741 646h0M761 640h0M739 653h0M763 642h0M772 639h0M766 642h0M757 645h0M758 651h0M750 635h0M752 642h0M767 642h0M757 642h0M759 632h0M767 641h0M775 641h0M773 632h0M777 645h0M753 643h0M766 637h0M757 645h0M770 644h0M760 638h0M773 643h0M761 647h0M783 642h0M768 643h0M770 643h0M760 637h0M777 647h0M748 637h0M762 643h0M760 641h0M750 639h0M749 642h0M754 638h0M766 646h0M764 641h0M753 641h0M766 640h0M752 642h0M765 637h0M759 638h0M743 642h0M750 640h0M751 646h0M764 644h0M749 647h0M753 646h0M756 634h0M780 644h0M777 646h0M755 634h0M749 648h0M771 648h0M754 641h0M759 641h0M766 642h0M760 643h0M770 644h0M767 648h0M755 640h0M766 654h0M762 650h0M775 649h0M767 646h0M745 646h0M773 648h0M750 645h0M770 643h0M753 645h0M761 638h0M769 634h0M763 640h0M761 639h0M772 641h0M751 645h0M753 648h0M777 636h0M759 635h0M792 646h0M767 634h0M751 640h0M775 654h0M754 638h0M762 638h0M759 637h0M760 647h0M768 643h0M767 635h0M774 635h0M777 643h0M761 647h0M757 641h0M759 645h0M775 641h0M763 643h0M768 643h0M761 646h0M765 646h0M778 629h0M771 647h0M763 642h0M762 642h0M769 642h0M770 640h0M771 643h0M766 639h0M755 639h0M765 648h0M779 636h0M790 647h0M752 641h0M763 637h0M755 642h0M758 650h0M753 647h0M753 632h0M768 639h0M763 651h0M766 644h0M743 645h0M764 643h0M748 646h0M781 650h0M772 639h0M766 638h0M747 641h0M767 640h0M756 646h0M768 643h0M767 651h0M761 648h0M758 640h0M766 643h0M779 642h0M757 643h0M774 643h0M751 641h0M766 643h0M779 645h0M741 643h0M759 643h0M774 641h0M764 643h0M765 644h0M752 643h0M775 653h0M749 647h0M747 639h0M757 642h0M769 647h0M773 644h0M774 643h0M776 648h0M764 642h0M767 636h0M750 643h0M749 645h0M737 640h0M774 637h0M773 635h0M754 638h0M766 634h0M756 635h0M770 648h0M757 639h0M762 650h0M755 649h0M769 647h0M762 645h0M758 650h0M752 646h0M759 642h0M762 639h0M756 646h0M756 648h0M763 639h0M781 642h0M744 648h0M762 635h0M769 640h0M766 648h0M747 643h0M765 638h0M753 636h0M726 648h0M769 642h0M760 638h0M741 647h0M769 645h0M749 646h0M756 636h0M764 638h0M757 645h0M764 648h0M774 640h0M763 646h0M771 635h0M765 644h0M759 641h0M773 645h0M754 644h0M770 644h0M764 640h0M766 647h0M767 644h0M782 632h0M762 640h0M775 648h0M762 645h0M763 635h0M745 643h0M756 650h0M745 645h0M770 644h0M750 640h0M748 645h0M764 647h0M763 647h0M765 645h0M755 646h0M757 646h0M759 646h0M767 640h0M770 640h0M771 640h0M761 646h0M769 646h0M769 641h0M781 642h0M756 643h0M784 648h0M762 643h0M757 645h0M756 640h0M759 657h0M748 657h0M753 653h0M761 678h0M756 666h0M763 679h0M756 652h0M759 669h0M757 652h0M749 650h0M760 680h0M761 661h0M758 667h0M761 667h0M762 667h0M755 667h0M760 675h0M760 670h0M764 675h0M745 665h0M758 656h0M759 677h0M758 668h0M761 673h0M766 655h0M757 652h0M750 670h0M756 667h0M749 663h0M750 653h0M757 659h0M760 662h0M750 662h0M756 657h0M757 647h0M755 658h0M759 649h0M752 660h0M759 651h0M762 668h0M762 658h0M759 678h0M760 654h0M755 651h0M755 658h0M745 655h0M749 669h0M757 681h0M759 674h0M757 654h0M752 661h0M754 671h0M757 668h0M750 658h0M760 677h0M751 655h0M764 671h0M760 666h0M759 668h0M764 669h0M753 664h0M758 659h0M760 649h0M762 678h0M756 669h0M755 660h0M759 646h0M759 647h0M748 660h0M758 660h0M761 660h0M754 675h0M757 666h0M754 664h0M751 650h0M758 647h0M756 663h0M755 665h0M760 657h0M756 655h0M760 658h0M754 672h0M758 651h0M763 659h0M766 672h0M761 646h0M759 655h0M768 671h0M759 686h0M765 647h0M758 654h0M746 688h0M760 642h0M758 658h0M758 657h0M752 675h0M764 661h0M758 685h0M760 673h0M753 659h0M750 690h0M761 652h0M751 666h0M765 682h0M753 670h0M755 642h0M752 652h0M755 665h0M758 664h0M768 636h0M761 676h0M768 642h0M762 673h0M756 654h0M754 663h0M759 665h0M764 665h0M749 672h0M757 670h0M754 652h0M757 658h0M754 677h0M754 656h0M757 665h0M758 665h0M763 647h0M758 675h0M755 655h0M761 674h0M760 661h0M762 663h0M751 668h0M763 671h0M747 669h0M758 662h0M760 659h0M760 658h0M757 651h0M753 669h0M765 663h0M759 657h0M756 665h0M755 653h0M761 667h0M754 660h0M756 663h0M763 664h0M761 685h0M757 673h0M751 674h0M749 659h0M750 671h0M758 655h0M753 658h0M759 661h0M748 667h0M749 670h0M751 654h0M762 670h0M754 669h0M763 654h0M757 654h0M747 661h0M756 662h0M746 661h0M758 652h0M756 675h0M757 654h0M753 654h0M753 666h0M745 668h0M752 640h0M753 672h0M766 657h0M762 673h0M760 667h0M752 651h0M752 655h0M754 669h0M756 656h0M762 657h0M767 657h0M745 657h0M759 644h0M754 652h0M757 671h0M760 657h0M760 667h0M752 666h0M756 672h0M752 661h0M758 667h0M762 660h0M753 688h0M762 665h0M751 663h0M759 656h0M765 687h0M753 651h0M757 666h0M761 663h0M752 654h0M751 664h0M769 661h0M758 684h0M756 684h0M757 667h0M751 665h0M755 679h0M756 673h0M751 654h0M763 676h0M759 662h0M751 656h0M758 656h0M759 670h0M757 682h0M763 665h0M759 666h0M757 658h0M754 712h0M747 704h0M759 694h0M746 707h0M766 706h0M749 697h0M750 687h0M743 701h0M758 705h0M752 698h0M745 686h0M744 698h0M749 686h0M760 698h0M761 695h0M751 707h0M750 696h0M756 673h0M749 694h0M758 698h0M756 695h0M749 710h0M753 695h0M748 700h0M748 698h0M748 697h0M754 707h0M757 676h0M755 706h0M755 708h0M759 703h0M762 690h0M763 684h0M744 697h0M760 679h0M752 680h0M754 692h0M760 692h0M758 692h0M746 704h0M750 696h0M761 674h0M758 706h0M746 705h0M759 673h0M757 705h0M746 675h0M762 694h0M746 701h0M744 699h0M756 685h0M746 692h0M756 688h0M742 673h0M751 683h0M755 698h0M752 702h0M760 702h0M749 705h0M756 695h0M750 694h0M751 697h0M754 678h0M753 673h0M756 686h0M751 721h0M755 704h0M750 691h0M746 683h0M758 685h0M758 693h0M757 704h0M759 694h0M756 715h0M755 695h0M759 693h0M756 690h0M748 708h0M756 689h0M757 700h0M763 702h0M742 695h0M754 701h0M747 691h0M751 684h0M754 709h0M750 688h0M753 681h0M757 708h0M751 695h0M758 702h0M753 690h0M750 703h0M757 702h0M751 688h0M761 700h0M757 689h0M756 684h0M763 676h0M756 686h0M765 691h0M749 687h0M746 710h0M745 696h0M754 701h0M754 684h0M755 695h0M752 703h0M754 684h0M754 699h0M755 699h0M760 697h0M748 675h0M760 701h0M750 686h0M764 711h0M755 703h0M759 717h0M761 709h0M757 708h0M751 708h0M754 690h0M758 708h0M754 685h0M752 700h0M755 703h0M762 687h0M756 714h0M746 698h0M749 710h0M757 701h0M760 688h0M753 683h0M754 681h0M756 694h0M749 702h0M751 700h0M751 683h0M758 686h0M751 698h0M752 703h0M753 708h0M758 697h0M748 685h0M738 697h0M757 696h0M754 707h0M752 694h0M746 704h0M769 695h0M753 701h0M754 691h0M752 705h0M755 695h0M748 697h0M741 703h0M750 708h0M743 709h0M746 692h0M757 694h0M760 690h0M759 706h0M764 710h0M761 691h0M746 708h0M761 705h0M768 691h0M752 690h0M764 693h0M751 698h0M761 680h0M746 700h0M769 668h0M752 710h0M754 690h0M756 701h0M750 674h0M752 686h0M752 689h0M757 694h0M752 671h0M735 713h0M764 695h0M747 697h0M754 697h0M751 695h0M754 700h0M749 714h0M762 700h0M758 702h0M754 701h0M747 698h0M755 713h0M750 698h0M756 700h0M767 684h0M761 683h0M753 692h0M756 708h0M753 709h0M756 689h0M744 702h0M756 683h0M762 684h0M756 711h0M762 693h0M749 701h0M751 704h0M761 701h0M754 699h0M752 697h0M758 706h0M755 700h0M761 697h0M755 688h0M752 695h0M745 701h0M756 688h0M761 698h0M762 687h0M752 707h0M758 713h0M749 718h0M754 700h0M742 704h0M757 692h0M751 703h0M749 706h0M754 706h0M753 694h0M760 695h0M746 700h0M752 711h0M753 693h0M748 698h0M766 687h0M757 696h0M750 705h0M760 707h0M757 675h0M752 702h0M753 708h0M750 705h0M759 692h0M760 696h0M753 714h0M749 696h0M759 696h0M749 688h0M758 687h0M754 691h0M764 681h0M760 712h0M753 701h0M751 709h0M751 696h0M768 700h0M744 701h0M754 682h0M763 690h0M753 712h0M753 706h0M754 693h0M756 701h0M744 679h0M753 695h0M754 698h0M751 709h0M765 710h0M748 708h0M761 675h0M750 660h0M757 702h0M746 704h0M756 693h0M755 695h0M751 691h0M740 700h0M749 696h0M751 695h0M756 692h0M764 692h0M744 700h0M755 705h0M753 715h0M747 690h0M762 701h0M760 693h0M751 689h0M742 704h0M752 683h0M768 691h0M751 713h0M750 692h0M755 697h0M763 699h0M763 695h0M753 707h0M754 693h0M751 695h0M758 686h0M756 695h0M762 693h0M755 707h0M748 695h0M762 681h0M735 705h0M751 701h0M749 710h0M757 686h0M752 702h0M762 682h0M756 681h0M754 693h0M775 715h0M757 684h0M745 722h0M753 691h0M753 688h0M747 716h0M763 687h0M759 712h0M746 686h0M759 688h0M755 694h0M753 702h0M757 688h0M743 676h0M753 726h0M744 695h0M748 671h0M744 680h0M753 690h0M758 705h0M751 696h0M749 711h0M759 679h0M756 702h0M762 697h0M760 698h0M753 703h0M756 710h0M741 690h0M757 699h0M754 702h0M755 703h0M751 673h0M761 692h0M752 695h0M747 699h0M751 715h0M752 708h0M756 689h0M754 706h0M746 710h0M755 687h0M754 691h0M753 706h0M747 706h0M739 685h0M743 684h0M751 690h0M752 702h0M750 673h0M749 708h0M749 693h0M753 690h0M749 693h0M753 702h0M755 699h0M744 686h0M752 705h0M753 690h0M749 692h0M759 717h0M756 684h0M753 681h0M751 698h0M759 699h0M748 702h0M755 712h0M751 691h0M751 716h0M750 708h0M747 695h0M752 703h0M752 698h0M747 689h0M765 696h0M761 692h0M747 684h0M754 709h0M752 713h0M755 708h0M753 705h0M749 692h0M756 704h0M750 705h0M756 684h0M758 712h0M749 690h0M748 702h0M743 689h0M759 680h0M750 683h0M750 692h0M749 708h0M758 684h0M753 715h0M762 713h0M748 693h0M745 713h0M748 693h0M753 700h0M753 694h0M758 699h0M756 694h0M752 700h0M750 702h0M754 708h0M753 695h0M747 682h0M753 690h0M757 684h0M754 694h0M764 686h0M754 678h0M756 692h0M751 702h0M743 690h0M752 697h0M764 683h0M756 700h0M755 693h0M753 697h0M756 706h0M757 715h0M750 698h0M746 701h0M758 674h0M752 714h0M759 686h0M752 696h0M751 693h0M754 693h0M759 675h0M757 704h0M751 701h0M750 695h0M747 702h0M759 712h0M755 684h0M750 691h0M755 690h0M753 699h0M745 677h0M752 708h0M743 699h0M749 703h0M762 694h0M746 699h0M757 705h0M744 695h0M745 675h0M752 712h0M756 685h0M745 691h0M753 693h0M750 699h0M757 689h0M757 685h0M759 687h0M760 701h0M747 705h0M748 693h0M750 692h0M760 696h0M747 707h0M743 699h0M755 710h0M754 693h0M759 698h0M756 695h0M745 707h0M759 696h0M748 711h0M761 694h0M748 684h0M753 693h0M742 686h0M749 694h0M759 706h0M746 698h0M746 699h0M747 700h0M745 700h0M765 694h0M760 695h0M753 681h0M745 684h0M762 701h0M752 693h0M750 695h0M758 690h0M754 677h0M749 690h0M758 712h0M750 697h0M770 710h0M756 706h0M751 704h0M745 698h0M746 690h0M740 698h0M763 708h0M757 711h0M750 698h0M754 670h0M757 709h0M752 687h0M759 696h0M747 710h0M755 684h0M755 705h0M764 721h0M747 700h0M757 713h0M754 706h0M757 697h0M756 684h0M748 695h0M750 692h0M750 677h0M749 711h0M758 696h0M764 693h0M756 691h0M747 689h0M751 665h0M752 684h0M757 710h0M748 697h0M762 707h0M763 698h0M744 693h0M748 689h0M755 700h0M753 692h0M758 692h0M750 697h0M756 702h0M772 716h0M763 700h0M748 714h0M749 705h0M769 691h0M762 701h0M763 691h0M764 702h0M753 703h0M748 716h0M757 693h0M755 694h0M745 686h0M753 686h0M762 688h0M743 694h0M764 696h0M757 704h0M751 688h0M741 705h0M752 698h0M754 701h0M749 702h0M764 673h0M754 690h0M751 697h0M754 691h0M750 699h0M759 688h0M751 700h0M749 699h0M759 706h0M752 708h0M741 695h0M758 700h0M759 690h0M760 709h0M757 675h0M748 696h0M755 700h0M756 719h0M757 701h0M752 702h0M755 725h0M766 683h0M750 678h0M753 702h0M754 707h0M747 722h0M720 670h0M719 709h0M698 708h0M724 678h0M715 668h0M718 684h0M718 687h0M703 694h0M716 696h0M719 683h0M716 689h0M713 697h0M706 682h0M709 701h0M714 687h0M712 703h0M704 689h0M682 709h0M724 685h0M707 702h0M705 700h0M728 676h0M703 694h0M708 702h0M704 696h0M723 676h0M719 686h0M706 706h0M721 667h0M709 677h0M709 675h0M706 683h0M701 714h0M732 656h0M701 690h0M716 681h0M713 685h0M717 689h0M715 670h0M705 700h0" stroke="#000" stroke-opacity="0.42" stroke-width="2.0" stroke-linecap="round" fill="none" filter="url(#bp)"/>
<path transform="scale(.5)" d="M717 737h0M690 708h0M689 632h0M688 626h0M789 625h0M707 704h0M793 683h0M718 646h0M677 623h0M720 697h0M729 641h0M713 663h0M770 653h0M781 625h0M765 646h0M733 614h0M744 691h0M712 679h0M749 639h0M751 656h0M789 734h0M789 643h0M753 646h0M795 609h0M667 661h0M768 744h0M715 645h0M693 707h0M782 721h0M737 622h0" stroke="#000" stroke-opacity="0.2" stroke-width="2.0" stroke-linecap="round" fill="none" filter="url(#bp)"/>
<ellipse cx="381" cy="321.3" rx="7" ry="2.8" fill="#000" fill-opacity="1.0" filter="url(#b3)"/>
<path d="M364.6 301.4V373.4M330.1 339.2H402.4" stroke="#7a7a7a" stroke-width="1.1" fill="none"/>
<text x="401.2" y="308.4" font-size="6.3" text-anchor="end" fill="#222" stroke="#222" stroke-width="0.22">54.6</text>
<text x="331.9" y="372.4" font-size="6.3" fill="#222" stroke="#222" stroke-width="0.22">19.8</text>
<text x="401.4" y="372.4" font-size="6.3" text-anchor="end" fill="#222" stroke="#222" stroke-width="0.22">23.6</text>
<text x="323.9" y="374.8" font-size="4.3" text-anchor="middle" fill="#333" stroke="#333" stroke-width="0.15">10<tspan font-size="2.9" dy="-1.7">0</tspan></text>
<text x="323.9" y="356.8" font-size="4.3" text-anchor="middle" fill="#333" stroke="#333" stroke-width="0.15">10<tspan font-size="2.9" dy="-1.7">1</tspan></text>
<text x="323.9" y="338.8" font-size="4.3" text-anchor="middle" fill="#333" stroke="#333" stroke-width="0.15">10<tspan font-size="2.9" dy="-1.7">2</tspan></text>
<text x="323.9" y="320.8" font-size="4.3" text-anchor="middle" fill="#333" stroke="#333" stroke-width="0.15">10<tspan font-size="2.9" dy="-1.7">3</tspan></text>
<text x="323.9" y="302.8" font-size="4.3" text-anchor="middle" fill="#333" stroke="#333" stroke-width="0.15">10<tspan font-size="2.9" dy="-1.7">4</tspan></text>
<rect x="424.8" y="301.4" width="72.3" height="72" fill="none" stroke="#a0a0a0" stroke-width="0.9"/>
<path d="M424.8 301.4V373.4H497.1" stroke="#666" stroke-width="1.1" fill="none"/>
<path d="M424.8 368h-1M430.2 373.4v1M424.8 364.8h-1M433.4 373.4v1M424.8 362.6h-1M435.7 373.4v1M424.8 360.8h-1M437.4 373.4v1M424.8 359.4h-1M438.9 373.4v1M424.8 358.2h-1M440.1 373.4v1M424.8 357.1h-1M441.1 373.4v1M424.8 356.2h-1M442 373.4v1M424.8 350h-1M448.3 373.4v1M424.8 346.8h-1M451.5 373.4v1M424.8 344.6h-1M453.8 373.4v1M424.8 342.8h-1M455.5 373.4v1M424.8 341.4h-1M456.9 373.4v1M424.8 340.2h-1M458.2 373.4v1M424.8 339.1h-1M459.2 373.4v1M424.8 338.2h-1M460.1 373.4v1M424.8 332h-1M466.4 373.4v1M424.8 328.8h-1M469.6 373.4v1M424.8 326.6h-1M471.8 373.4v1M424.8 324.8h-1M473.6 373.4v1M424.8 323.4h-1M475 373.4v1M424.8 322.2h-1M476.2 373.4v1M424.8 321.1h-1M477.3 373.4v1M424.8 320.2h-1M478.2 373.4v1M424.8 314h-1M484.5 373.4v1M424.8 310.8h-1M487.6 373.4v1M424.8 308.6h-1M489.9 373.4v1M424.8 306.8h-1M491.7 373.4v1M424.8 305.4h-1M493.1 373.4v1M424.8 304.2h-1M494.3 373.4v1M424.8 303.1h-1M495.3 373.4v1M424.8 302.2h-1M496.3 373.4v1M424.8 373.4h-1.8M424.8 373.4v1.8M424.8 355.4h-1.8M442.9 373.4v1.8M424.8 337.4h-1.8M460.9 373.4v1.8M424.8 319.4h-1.8M479 373.4v1.8M424.8 301.4h-1.8M497.1 373.4v1.8" stroke="#777" stroke-width="0.5" fill="none"/>
<path transform="scale(.5)" d="M900 695h0M856 739h0M906 671h0M878 700h0M899 699h0M903 719h0M892 744h0M910 716h0M904 687h0M895 687h0M897 704h0M893 684h0M872 691h0M884 684h0M864 685h0M920 707h0M864 723h0M943 711h0M900 719h0M892 682h0M891 719h0M886 697h0M899 689h0M897 742h0M884 707h0M906 724h0M891 698h0M890 721h0M902 743h0M904 713h0M868 673h0M890 688h0M902 728h0M888 687h0M872 704h0M889 706h0M890 708h0M896 715h0M888 726h0M926 705h0M879 725h0M901 701h0M875 706h0M908 684h0M891 718h0M899 684h0M899 717h0M869 673h0M925 713h0M896 712h0M882 688h0M853 714h0M870 691h0M933 719h0M894 701h0M898 686h0M866 698h0M911 721h0M894 705h0M869 718h0M899 689h0M922 742h0M859 691h0M905 701h0M887 683h0M910 694h0M906 693h0M903 705h0M907 716h0M879 684h0M869 707h0M905 709h0M880 699h0M914 686h0M885 720h0M862 714h0M903 704h0M862 693h0M909 677h0M880 689h0M866 677h0M876 693h0M897 710h0M891 689h0M897 700h0M919 698h0M874 701h0M906 674h0M916 687h0M888 696h0M895 683h0M889 721h0M880 703h0M912 672h0M884 715h0M886 702h0M880 717h0M888 698h0M872 715h0M909 694h0M862 689h0M920 726h0M930 701h0M859 702h0M897 697h0M880 695h0M881 741h0M901 703h0" stroke="#000" stroke-opacity="0.32" stroke-width="2.0" stroke-linecap="round" fill="none" filter="url(#bp)"/>
<path transform="scale(.5)" d="M942 649h0M954 645h0M943 644h0M946 637h0M946 641h0M953 646h0M938 641h0M956 651h0M935 647h0M940 643h0M960 641h0M940 637h0M952 639h0M955 639h0M940 642h0M940 638h0M939 645h0M962 647h0M955 641h0M942 644h0M950 638h0M949 640h0M947 640h0M934 639h0M931 641h0M942 638h0M950 637h0M940 634h0M949 646h0M946 643h0M949 643h0M952 649h0M957 647h0M951 645h0M960 640h0M954 636h0M958 640h0M946 643h0M953 651h0M963 643h0M940 635h0M936 642h0M952 634h0M951 636h0M956 651h0M954 640h0M945 644h0M957 644h0M936 654h0M950 643h0M964 644h0M956 647h0M954 643h0M952 652h0M956 642h0M940 643h0M947 641h0M930 640h0M964 645h0M948 638h0M945 636h0M942 647h0M935 638h0M937 633h0M926 638h0M931 643h0M938 643h0M946 643h0M943 643h0M951 646h0M945 638h0M954 643h0M965 638h0M924 645h0M956 639h0M951 650h0M936 644h0M955 647h0M949 640h0M977 639h0M961 644h0M956 642h0M953 644h0M953 640h0M944 643h0M945 638h0M952 640h0M941 639h0M952 643h0M956 643h0M931 643h0M957 641h0M942 640h0M958 639h0M942 638h0M945 650h0M941 638h0M934 647h0M965 639h0M958 645h0M935 642h0M937 644h0M960 641h0M954 630h0M940 645h0M960 637h0M952 638h0M947 645h0M954 642h0M939 643h0M951 641h0M944 635h0M946 652h0M954 643h0M939 652h0M943 639h0M946 643h0M946 638h0M936 641h0M946 644h0M930 645h0M957 642h0M923 643h0M948 645h0M952 642h0M958 638h0M941 642h0M953 629h0M961 643h0M941 646h0M946 645h0M958 654h0M958 647h0M935 638h0M959 642h0M944 645h0M949 643h0M953 638h0M945 647h0M953 648h0M942 644h0M934 652h0M943 635h0M939 645h0M956 651h0M955 640h0M964 637h0M961 635h0M958 638h0M941 648h0M949 643h0M955 640h0M942 636h0M957 644h0M939 637h0M942 648h0M934 643h0M935 642h0M944 641h0M933 648h0M941 638h0M943 641h0M948 635h0M944 642h0M946 648h0M931 645h0M950 646h0M936 647h0M963 642h0M962 637h0M945 644h0M939 635h0M938 646h0M936 642h0M931 647h0M942 645h0M949 642h0M938 645h0M953 643h0M940 637h0M959 647h0M925 635h0M947 642h0M952 644h0M935 646h0M968 647h0M932 646h0M943 644h0M943 642h0M949 639h0M950 644h0M954 641h0M949 639h0M942 643h0M955 639h0M926 644h0M966 635h0M950 637h0M941 642h0M935 645h0M957 650h0M956 648h0M936 640h0M959 644h0M946 643h0M944 645h0M939 644h0M948 648h0M938 646h0M959 638h0M942 641h0M953 643h0M949 645h0M930 643h0M936 643h0M955 645h0M932 644h0M959 646h0M951 641h0M958 644h0M939 645h0M939 649h0M937 647h0M932 649h0M954 642h0M949 643h0M946 645h0M942 641h0M964 639h0M967 640h0M945 641h0M944 643h0M929 632h0M964 635h0M946 635h0M950 641h0M947 648h0M948 643h0M960 642h0M962 647h0M956 647h0M963 641h0M944 651h0M933 647h0M935 640h0M957 645h0M945 648h0M957 641h0M947 642h0M947 637h0M952 641h0M950 647h0M952 643h0M942 649h0M949 641h0M936 653h0M942 642h0M955 636h0M954 648h0M916 650h0M947 637h0M956 647h0M948 642h0M936 635h0M946 641h0M938 639h0M946 642h0M955 649h0M933 641h0M935 643h0M961 648h0M949 646h0M942 648h0M967 637h0M951 640h0M951 651h0M964 639h0M930 646h0M947 642h0M942 643h0M952 643h0M946 633h0M955 644h0M962 642h0M943 639h0M940 636h0M945 651h0M928 637h0M942 644h0M953 644h0M927 648h0M964 651h0M952 654h0M950 644h0M946 644h0M941 648h0M960 646h0M947 651h0M940 639h0M945 642h0M942 648h0M949 644h0M949 648h0M952 643h0M956 646h0M955 640h0M952 632h0M963 642h0M941 647h0M953 648h0M950 640h0M930 640h0M952 642h0M938 632h0M928 646h0M928 642h0M938 640h0M926 642h0M940 640h0M945 639h0M946 639h0M948 645h0M927 636h0M946 637h0M936 650h0M952 641h0M948 647h0M961 641h0M941 637h0M929 650h0M951 675h0M953 666h0M944 657h0M945 653h0M941 674h0M950 669h0M946 685h0M946 664h0M944 670h0M935 693h0M936 657h0M940 670h0M941 675h0M947 653h0M948 658h0M945 663h0M949 669h0M929 670h0M930 653h0M950 661h0M947 670h0M939 673h0M948 657h0M944 654h0M937 665h0M946 653h0M940 662h0M947 650h0M939 671h0M952 648h0M933 689h0M946 651h0M940 673h0M935 683h0M931 667h0M957 676h0M938 672h0M951 673h0M942 653h0M951 654h0M928 677h0M943 658h0M952 674h0M939 666h0M939 663h0M936 644h0M927 669h0M935 654h0M953 659h0M938 663h0M956 662h0M942 634h0M929 650h0M940 666h0M945 667h0M942 643h0M944 670h0M937 661h0M953 651h0M938 680h0M945 660h0M951 669h0M948 662h0M943 655h0M941 664h0M956 664h0M939 669h0M945 657h0M942 656h0M940 655h0M941 672h0M949 662h0M942 649h0M946 661h0M948 662h0M948 668h0M935 658h0M949 650h0M948 663h0M936 640h0M942 670h0M920 666h0M943 668h0M928 659h0M930 659h0M937 657h0M929 678h0M939 667h0M952 659h0M949 662h0M939 668h0M954 653h0M939 663h0M939 669h0M943 667h0M941 663h0M943 657h0M931 663h0M949 655h0M943 675h0M932 659h0M925 675h0M936 649h0M940 660h0M933 678h0M936 667h0M946 660h0M927 666h0M951 660h0M963 678h0M933 658h0M952 661h0M953 656h0M938 664h0M960 672h0M952 665h0M945 666h0M947 684h0M947 665h0M956 668h0M937 671h0M940 676h0M946 642h0M942 656h0M945 661h0M952 679h0M931 665h0M948 654h0M936 654h0M939 652h0M946 666h0M951 675h0M941 664h0M941 657h0M947 661h0M941 653h0M936 661h0M934 669h0M952 671h0M938 668h0M941 654h0M951 669h0M940 675h0M947 676h0M953 657h0M945 654h0M923 679h0M942 671h0M938 659h0M952 685h0M945 670h0M934 666h0M938 658h0M934 660h0M944 661h0M954 646h0M945 654h0M951 665h0M941 675h0M935 663h0M939 679h0M943 670h0M936 666h0M948 675h0M954 667h0M943 668h0M940 680h0M937 660h0M953 663h0M943 678h0M948 684h0M940 648h0M944 669h0M940 675h0M934 663h0M925 664h0M927 670h0M940 670h0M937 657h0M944 647h0M936 657h0M941 669h0M944 673h0M951 676h0M933 637h0M940 674h0M944 658h0M942 656h0M938 663h0M931 663h0M933 655h0M943 673h0M954 674h0M941 669h0M940 660h0M938 669h0M946 652h0M928 670h0M950 667h0M949 677h0M937 674h0M945 653h0M927 651h0M948 676h0M939 657h0M951 660h0M925 666h0M935 665h0M953 653h0M941 664h0M952 679h0M942 670h0M948 653h0M940 653h0M937 657h0M920 662h0M951 667h0M945 652h0M943 666h0M950 662h0M950 663h0M946 664h0M950 677h0M956 667h0M942 649h0M924 665h0M941 649h0M929 663h0M952 671h0M935 661h0M951 661h0M955 647h0M946 680h0M941 678h0M945 644h0M932 671h0M939 669h0M932 674h0M961 656h0M945 678h0M942 665h0M938 655h0M934 659h0M950 669h0M949 650h0M944 678h0M933 663h0M933 657h0M941 658h0M930 682h0M941 664h0M952 645h0M941 665h0M925 670h0M948 657h0M939 677h0M939 662h0M943 652h0M942 671h0M953 658h0M961 652h0M943 664h0M939 671h0M947 653h0M936 672h0M942 666h0M949 669h0M946 664h0M940 665h0M954 661h0M954 655h0M948 657h0M941 668h0M939 652h0M945 648h0M943 674h0M952 669h0M950 667h0M948 671h0M947 683h0M940 658h0M946 659h0M949 657h0M942 676h0M929 655h0M950 658h0M952 661h0M945 653h0M947 667h0M947 683h0M950 682h0M932 668h0M941 666h0M953 658h0M944 657h0M963 650h0M937 665h0M955 679h0M926 659h0M929 659h0M943 703h0M955 706h0M932 696h0M949 701h0M940 694h0M948 675h0M942 698h0M938 679h0M942 702h0M949 697h0M953 703h0M942 674h0M951 684h0M942 680h0M946 713h0M940 672h0M943 683h0M938 690h0M936 706h0M946 675h0M937 685h0M936 712h0M941 713h0M936 712h0M939 681h0M946 691h0M946 667h0M932 692h0M939 698h0M936 687h0M943 694h0M938 711h0M941 701h0M939 694h0M944 703h0M938 705h0M935 688h0M949 689h0M936 696h0M937 681h0M935 684h0M941 699h0M936 673h0M938 685h0M942 699h0M948 714h0M943 686h0M923 673h0M930 691h0M941 688h0M951 689h0M938 694h0M952 708h0M946 714h0M934 679h0M943 684h0M931 683h0M938 700h0M949 695h0M946 693h0M936 685h0M942 680h0M948 678h0M939 706h0M949 676h0M942 698h0M953 704h0M943 704h0M943 695h0M938 689h0M937 703h0M943 695h0M946 702h0M948 683h0M942 700h0M950 697h0M940 708h0M942 682h0M939 699h0M941 696h0M944 700h0M948 701h0M935 692h0M950 674h0M941 683h0M933 683h0M929 689h0M945 706h0M933 697h0M940 675h0M941 690h0M945 692h0M942 692h0M942 708h0M951 689h0M931 704h0M938 690h0M947 695h0M939 692h0M936 691h0M944 700h0M930 684h0M952 712h0M944 682h0M943 695h0M943 721h0M950 715h0M944 677h0M933 682h0M933 697h0M950 705h0M952 714h0M958 696h0M947 695h0M943 707h0M930 704h0M943 699h0M931 701h0M954 709h0M949 679h0M933 704h0M946 701h0M944 677h0M931 686h0M938 694h0M948 698h0M942 666h0M940 705h0M943 690h0M951 692h0M950 709h0M944 694h0M938 702h0M944 689h0M945 696h0M937 682h0M929 698h0M947 680h0M942 692h0M940 702h0M951 713h0M951 711h0M942 695h0M952 692h0M935 687h0M949 682h0M941 712h0M933 692h0M946 688h0M928 682h0M941 676h0M935 696h0M949 713h0M938 675h0M936 695h0M950 693h0M937 677h0M942 702h0M946 678h0M936 683h0M945 677h0M938 680h0M941 696h0M940 691h0M937 697h0M930 698h0M938 678h0M937 685h0M944 711h0M944 703h0M951 720h0M947 684h0M932 677h0M951 695h0M951 710h0M937 684h0M934 674h0M945 678h0M947 682h0M943 677h0M945 700h0M952 702h0M949 686h0M941 705h0M933 697h0M940 704h0M946 703h0M933 689h0M941 711h0M938 693h0M946 689h0M929 693h0M930 696h0M937 698h0M946 697h0M944 697h0M948 706h0M950 703h0M935 708h0M941 686h0M943 712h0M939 703h0M951 693h0M937 696h0M942 689h0M946 693h0M950 692h0M929 713h0M935 702h0M950 682h0M939 687h0M954 691h0M933 683h0M943 698h0M937 691h0M932 706h0M955 702h0M944 699h0M940 690h0M940 689h0M947 695h0M924 692h0M940 681h0M937 690h0M947 683h0M937 693h0M942 706h0M940 706h0M960 706h0M943 690h0M931 703h0M940 694h0M942 692h0M949 696h0M936 688h0M941 701h0M941 694h0M935 674h0M940 696h0M929 692h0M938 701h0M943 713h0M934 693h0M944 721h0M943 671h0M938 699h0M925 685h0M950 683h0M943 701h0M941 710h0M936 683h0M953 694h0M935 689h0M946 714h0M940 699h0M939 687h0M949 667h0M940 699h0M939 704h0M942 709h0M947 705h0M948 708h0M933 685h0M943 690h0M943 709h0M937 688h0M936 685h0M941 683h0M948 692h0M938 696h0M944 685h0M945 688h0M944 690h0M940 683h0M949 687h0M950 691h0M935 691h0M940 684h0M933 707h0M948 697h0M928 703h0M941 688h0M938 689h0M942 700h0M940 688h0M953 695h0M947 697h0M950 703h0M935 711h0M943 698h0M953 702h0M941 689h0M948 675h0M937 700h0M943 681h0M941 690h0M941 697h0M944 712h0M942 691h0M945 689h0M942 711h0M937 695h0M939 705h0M955 713h0M939 695h0M944 699h0M944 689h0M946 669h0M948 691h0M939 703h0M940 704h0M943 706h0M943 685h0M949 682h0M948 680h0M948 674h0M942 685h0M944 694h0M945 682h0M935 707h0M948 717h0M945 712h0M939 708h0M940 688h0M936 695h0M942 698h0M943 677h0M949 695h0M934 686h0M943 678h0M945 703h0M943 674h0M945 694h0M934 665h0M940 705h0M947 724h0M932 685h0M945 690h0M944 685h0M947 713h0M950 701h0M939 709h0M956 678h0M938 723h0M929 684h0M949 693h0M946 702h0M952 678h0M952 689h0M955 692h0M939 705h0M938 725h0M934 672h0M948 696h0M941 687h0M944 692h0M934 688h0M941 692h0M950 707h0M935 706h0M933 677h0M944 686h0M936 690h0M937 714h0M943 707h0M929 710h0M941 701h0M940 686h0M952 690h0M947 707h0M948 703h0M947 680h0M947 699h0M943 697h0M944 678h0M937 692h0M941 699h0M935 713h0M939 678h0M943 683h0M945 707h0M937 695h0M959 688h0M942 703h0M939 691h0M940 690h0M943 700h0M942 682h0M950 685h0M928 706h0M940 699h0M950 694h0M931 683h0M942 705h0M942 692h0M953 672h0M935 688h0M937 689h0M947 687h0M943 707h0M947 697h0M939 686h0M926 676h0M933 710h0M945 687h0M947 682h0M935 688h0M940 694h0M933 695h0M946 700h0M945 685h0M945 687h0M951 701h0M943 689h0M932 710h0M933 704h0M942 684h0M944 690h0M939 683h0M933 694h0M949 684h0M942 686h0M934 697h0M931 699h0M945 696h0M932 712h0M932 702h0M941 688h0M950 688h0M936 713h0M941 693h0M929 706h0M937 687h0M952 700h0M945 719h0M936 679h0M947 702h0M954 678h0M950 703h0M945 711h0M938 699h0M935 695h0M939 693h0M937 698h0M934 703h0M953 688h0M951 682h0M959 686h0M942 685h0M948 695h0M939 662h0M930 676h0M930 684h0M945 708h0M926 712h0M955 713h0M936 684h0M940 705h0M936 713h0M935 689h0M957 688h0M933 697h0M936 696h0M944 698h0M947 680h0M935 685h0M943 691h0M922 678h0M937 684h0M929 697h0M934 691h0M934 710h0M955 673h0M954 701h0M948 701h0M940 694h0M946 705h0M936 692h0M944 648h0M937 713h0M947 688h0M955 690h0M957 680h0M931 684h0M955 713h0M958 710h0M957 720h0M944 688h0M947 676h0M932 704h0M934 678h0M938 684h0M937 680h0M943 690h0M937 702h0M944 710h0M938 685h0M928 690h0M928 694h0M943 690h0M947 696h0M936 685h0M932 709h0M946 687h0M939 697h0M933 696h0M943 672h0M936 714h0M933 677h0M949 697h0M956 674h0M952 691h0M945 687h0M947 699h0M942 694h0M943 691h0M944 671h0M946 700h0M942 714h0M946 695h0M941 716h0M941 678h0M934 694h0M944 690h0M926 707h0M948 688h0M946 683h0M949 705h0M941 682h0M940 699h0M943 690h0M945 697h0M956 719h0M943 672h0M953 690h0M939 713h0M942 692h0M941 704h0M943 691h0M938 713h0M939 690h0M944 691h0M947 701h0M935 729h0M942 693h0M947 698h0M954 705h0M938 684h0M942 704h0M940 712h0M950 700h0M947 680h0M945 688h0M945 689h0M948 694h0M938 713h0M926 694h0M942 701h0M947 703h0M941 693h0M948 690h0M939 679h0M946 698h0M943 699h0M950 691h0M940 709h0M929 703h0M944 713h0M939 709h0M946 671h0M946 679h0M945 689h0M945 704h0M939 702h0M951 702h0M945 699h0M941 691h0M945 670h0M938 705h0M950 702h0M937 701h0M958 688h0M945 703h0M943 714h0M933 696h0M940 690h0M937 701h0M943 669h0M946 701h0M949 685h0M946 714h0M930 705h0M942 700h0M943 694h0M934 693h0M942 696h0M939 685h0M939 697h0M947 689h0M950 698h0M939 687h0M940 675h0M932 683h0M940 698h0M941 688h0M943 688h0M940 691h0M952 692h0M948 696h0M935 695h0M953 690h0M935 700h0M955 693h0M940 713h0M942 687h0M931 689h0M947 685h0M949 696h0M933 670h0M936 700h0M928 697h0M938 710h0M935 703h0M948 699h0M946 693h0M947 676h0M941 705h0M918 708h0M942 694h0M944 681h0M949 708h0M944 679h0M939 674h0M939 706h0M938 696h0M931 707h0M941 690h0M931 684h0M941 706h0M947 688h0M945 704h0M940 667h0M956 693h0M945 708h0M954 695h0M940 695h0M945 667h0M934 718h0M944 690h0M933 693h0M915 684h0M894 694h0M902 681h0M911 667h0M883 695h0M923 667h0M906 675h0M913 668h0M914 664h0M883 693h0M889 707h0M913 670h0M906 673h0M885 683h0M897 678h0M915 675h0M903 687h0M898 694h0M915 670h0M907 687h0M909 671h0M902 682h0M914 664h0M891 699h0M896 681h0M894 686h0M903 701h0M894 703h0M899 678h0M890 710h0M912 666h0M904 687h0M922 687h0M902 687h0M901 684h0M923 675h0M915 657h0M897 692h0M895 691h0M899 677h0" stroke="#000" stroke-opacity="0.42" stroke-width="2.0" stroke-linecap="round" fill="none" filter="url(#bp)"/>
<path transform="scale(.5)" d="M941 679h0M990 737h0M927 694h0M941 670h0M912 712h0M886 643h0M908 734h0M908 699h0M981 742h0M905 648h0M858 706h0M961 622h0M984 733h0M949 708h0M898 688h0M933 642h0M889 667h0M896 649h0M988 642h0M993 702h0M886 632h0M878 652h0M860 669h0M928 698h0M978 639h0M979 672h0M901 608h0M916 656h0M908 631h0M910 628h0" stroke="#000" stroke-opacity="0.2" stroke-width="2.0" stroke-linecap="round" fill="none" filter="url(#bp)"/>
<ellipse cx="473.5" cy="321.3" rx="6.5" ry="2.7" fill="#000" fill-opacity="1.0" filter="url(#b3)"/>
<path d="M460.5 301.4V373.4M424.8 339.2H497.1" stroke="#7a7a7a" stroke-width="1.1" fill="none"/>
<text x="495.9" y="308.4" font-size="6.3" text-anchor="end" fill="#222" stroke="#222" stroke-width="0.22">64.9</text>
<text x="426.6" y="372.4" font-size="6.3" fill="#222" stroke="#222" stroke-width="0.22">5.59</text>
<text x="496.1" y="372.4" font-size="6.3" text-anchor="end" fill="#222" stroke="#222" stroke-width="0.22">26.9</text>
<text x="418.6" y="374.8" font-size="4.3" text-anchor="middle" fill="#333" stroke="#333" stroke-width="0.15">10<tspan font-size="2.9" dy="-1.7">0</tspan></text>
<text x="418.6" y="356.8" font-size="4.3" text-anchor="middle" fill="#333" stroke="#333" stroke-width="0.15">10<tspan font-size="2.9" dy="-1.7">1</tspan></text>
<text x="418.6" y="338.8" font-size="4.3" text-anchor="middle" fill="#333" stroke="#333" stroke-width="0.15">10<tspan font-size="2.9" dy="-1.7">2</tspan></text>
<text x="418.6" y="320.8" font-size="4.3" text-anchor="middle" fill="#333" stroke="#333" stroke-width="0.15">10<tspan font-size="2.9" dy="-1.7">3</tspan></text>
<text x="418.6" y="302.8" font-size="4.3" text-anchor="middle" fill="#333" stroke="#333" stroke-width="0.15">10<tspan font-size="2.9" dy="-1.7">4</tspan></text>
<rect x="45.4" y="383.4" width="72.3" height="72" fill="none" stroke="#a0a0a0" stroke-width="0.9"/>
<path d="M45.4 383.4V455.4H117.7" stroke="#666" stroke-width="1.1" fill="none"/>
<path d="M45.4 450h-1M50.8 455.4v1M45.4 446.8h-1M54 455.4v1M45.4 444.6h-1M56.3 455.4v1M45.4 442.8h-1M58 455.4v1M45.4 441.4h-1M59.5 455.4v1M45.4 440.2h-1M60.7 455.4v1M45.4 439.1h-1M61.7 455.4v1M45.4 438.2h-1M62.6 455.4v1M45.4 432h-1M68.9 455.4v1M45.4 428.8h-1M72.1 455.4v1M45.4 426.6h-1M74.4 455.4v1M45.4 424.8h-1M76.1 455.4v1M45.4 423.4h-1M77.5 455.4v1M45.4 422.2h-1M78.8 455.4v1M45.4 421.1h-1M79.8 455.4v1M45.4 420.2h-1M80.7 455.4v1M45.4 414h-1M87 455.4v1M45.4 410.8h-1M90.2 455.4v1M45.4 408.6h-1M92.4 455.4v1M45.4 406.8h-1M94.2 455.4v1M45.4 405.4h-1M95.6 455.4v1M45.4 404.2h-1M96.8 455.4v1M45.4 403.1h-1M97.9 455.4v1M45.4 402.2h-1M98.8 455.4v1M45.4 396h-1M105.1 455.4v1M45.4 392.8h-1M108.2 455.4v1M45.4 390.6h-1M110.5 455.4v1M45.4 388.8h-1M112.3 455.4v1M45.4 387.4h-1M113.7 455.4v1M45.4 386.2h-1M114.9 455.4v1M45.4 385.1h-1M115.9 455.4v1M45.4 384.2h-1M116.9 455.4v1M45.4 455.4h-1.8M45.4 455.4v1.8M45.4 437.4h-1.8M63.5 455.4v1.8M45.4 419.4h-1.8M81.5 455.4v1.8M45.4 401.4h-1.8M99.6 455.4v1.8M45.4 383.4h-1.8M117.7 455.4v1.8" stroke="#777" stroke-width="0.5" fill="none"/>
<path transform="scale(.5)" d="M126 861h0M102 868h0M114 867h0M105 842h0M125 877h0M98 867h0M129 869h0M154 860h0M133 846h0M135 866h0M124 870h0M146 898h0M128 884h0M119 872h0M121 881h0M136 873h0M149 870h0M132 871h0M125 876h0M130 862h0M127 868h0M125 858h0M104 871h0M141 857h0M109 852h0M126 862h0M118 898h0M139 875h0M126 876h0M140 864h0M140 874h0M116 886h0M132 889h0M118 845h0M133 858h0M138 852h0M118 868h0M127 880h0M155 874h0M144 873h0M133 873h0M136 891h0M109 888h0M105 857h0M131 859h0M115 850h0M153 848h0M110 859h0M147 873h0M123 874h0M146 876h0M145 854h0M118 865h0M119 873h0M137 870h0M146 869h0M126 870h0M112 857h0M139 901h0M103 874h0M135 868h0M152 860h0M144 867h0M131 856h0M126 864h0M118 866h0M124 881h0M129 885h0M119 877h0M101 872h0M97 873h0M146 867h0M143 888h0M130 881h0M121 869h0M110 861h0M137 886h0M109 869h0M129 868h0M115 860h0M114 848h0M119 877h0M130 876h0M153 877h0M143 869h0M115 880h0M122 878h0M125 883h0M109 861h0M125 866h0M131 878h0M114 874h0M132 858h0M140 867h0M123 873h0M120 881h0M110 886h0M141 878h0M149 888h0M114 888h0M131 883h0M131 868h0M135 884h0M158 870h0M126 878h0M128 864h0M141 861h0M128 861h0M103 882h0M155 874h0M106 883h0M114 866h0M114 864h0M130 851h0M121 868h0M120 877h0M102 865h0M111 856h0M142 871h0M150 882h0M126 898h0M118 870h0M129 872h0M127 868h0M122 880h0M109 883h0M99 873h0M151 858h0M113 855h0M143 871h0M129 861h0M92 874h0M133 875h0M137 864h0M126 871h0M139 855h0M153 863h0M141 871h0M117 864h0M137 877h0M141 889h0M135 873h0M135 868h0M120 876h0M143 889h0M115 874h0M111 868h0M111 869h0M119 874h0M116 881h0M100 872h0M155 893h0M145 884h0M140 843h0M113 871h0M121 863h0M155 880h0M130 875h0M147 862h0M151 870h0M157 868h0M129 857h0M146 886h0M123 877h0M108 872h0M129 861h0M140 855h0M125 883h0M120 878h0M114 885h0M102 859h0M118 864h0M112 869h0M132 883h0M135 840h0M118 874h0M109 885h0M143 859h0M129 857h0M118 858h0M137 885h0M137 884h0M143 866h0M129 858h0M155 866h0M125 870h0M112 883h0M129 884h0M130 846h0M141 882h0M140 881h0M125 866h0M147 901h0M144 860h0M100 863h0M111 879h0M168 883h0M124 882h0M109 867h0M99 886h0M134 875h0M135 870h0M152 856h0M124 853h0M129 877h0M126 883h0M98 887h0M128 866h0M160 862h0M141 861h0M128 857h0M111 872h0M120 865h0M123 871h0M126 886h0M140 855h0M136 889h0M143 882h0M132 864h0M152 859h0M145 876h0M134 881h0M100 874h0M145 882h0M142 871h0M97 868h0M129 877h0M130 863h0M137 875h0M119 869h0M127 874h0M110 879h0M127 859h0M130 903h0M133 874h0M152 871h0M147 871h0M125 875h0M92 856h0M135 876h0M140 868h0M130 881h0M123 875h0M111 864h0M125 865h0M116 892h0M134 881h0M106 867h0M122 873h0M140 851h0M144 848h0M122 868h0M103 857h0M138 880h0M128 876h0M154 882h0M113 865h0M120 867h0M110 865h0M104 857h0M123 853h0M139 889h0M113 857h0M144 868h0M124 872h0M133 877h0M143 877h0M131 867h0M144 854h0M112 882h0M132 869h0M139 885h0M163 861h0M117 872h0M141 866h0M113 866h0M131 866h0M103 851h0M131 851h0M144 885h0M116 862h0M130 873h0M110 854h0M114 875h0M131 867h0M124 875h0M130 872h0M117 885h0M119 867h0M112 881h0M155 879h0M120 869h0M126 867h0M121 873h0M139 876h0M129 880h0M138 867h0M137 874h0M128 889h0M139 888h0M94 877h0M119 870h0M147 890h0M122 848h0M150 879h0M150 862h0M134 861h0M124 872h0M109 893h0M104 890h0M134 870h0M134 861h0M123 862h0M117 864h0M135 860h0M130 891h0M105 880h0M128 870h0M117 872h0M135 881h0M127 881h0M106 868h0M127 862h0M122 858h0M130 870h0M122 872h0M151 869h0M152 865h0M160 872h0M112 870h0M124 887h0M131 873h0M141 859h0M139 871h0M138 864h0M155 876h0M119 876h0M140 857h0M126 863h0M101 887h0M130 875h0M130 889h0M118 872h0M125 849h0M140 866h0M107 870h0M133 869h0M120 847h0M146 846h0M119 872h0M155 864h0M135 878h0M103 862h0M130 874h0M110 851h0M121 866h0M115 841h0M146 850h0M150 869h0M133 874h0M144 852h0M135 874h0M145 886h0M95 876h0M132 853h0M134 868h0M126 853h0M132 861h0M147 867h0M130 876h0M150 866h0M146 875h0M127 858h0M123 877h0M115 902h0M141 872h0M140 891h0M130 872h0M119 863h0M127 885h0M152 855h0M132 875h0M117 872h0M116 883h0M101 882h0M130 870h0M137 881h0M131 872h0M124 883h0M138 862h0M130 876h0M138 883h0M97 870h0M111 872h0M122 887h0M143 862h0M108 865h0M98 896h0M131 857h0M120 856h0M127 865h0M127 867h0M134 869h0M129 869h0M133 867h0M113 892h0M137 873h0M126 861h0M115 846h0M122 841h0M142 871h0M104 863h0M126 860h0M119 880h0M126 879h0M147 869h0M114 859h0M119 876h0M126 882h0M124 850h0M134 883h0M173 867h0M117 855h0M161 841h0M118 861h0M116 859h0M140 880h0M133 834h0M113 876h0M110 881h0M118 884h0M124 876h0M126 890h0M131 865h0M134 873h0M130 853h0M142 864h0M152 872h0M121 868h0M147 864h0M113 855h0M126 865h0M133 871h0M113 879h0M135 892h0M131 873h0M101 870h0M134 859h0M118 858h0M110 868h0M134 873h0M149 879h0M108 874h0M126 884h0M149 875h0M173 877h0M123 851h0M102 854h0M138 883h0M133 853h0M113 874h0M119 848h0M131 867h0M137 860h0M139 889h0M125 878h0M152 879h0M127 870h0M127 856h0M118 853h0M158 884h0M128 876h0M116 864h0M123 889h0M117 884h0M136 867h0M139 876h0M118 863h0M130 858h0M131 876h0M128 878h0M130 883h0M109 868h0M128 863h0M121 870h0M110 872h0M120 848h0M129 869h0M117 884h0M119 857h0M123 854h0M137 857h0M102 879h0M117 884h0M144 872h0M136 858h0M126 841h0M138 867h0M112 863h0M140 864h0M117 876h0M133 866h0M148 857h0M132 841h0M111 869h0M111 888h0M146 876h0M107 858h0M119 861h0M100 873h0M138 854h0M133 882h0M137 880h0M107 858h0M107 875h0M119 858h0M114 842h0M129 873h0M141 853h0M142 869h0M158 884h0M93 832h0M141 878h0M155 894h0M160 885h0M152 860h0M128 859h0M147 865h0M126 849h0M122 879h0M133 848h0M137 871h0M124 864h0M126 871h0M150 864h0M134 880h0M143 875h0M127 860h0M123 858h0M106 868h0M115 875h0M127 868h0M116 861h0M132 884h0M125 857h0M136 877h0M126 865h0M146 843h0M113 872h0M139 873h0M154 860h0M122 849h0M105 850h0M93 855h0M138 889h0M112 885h0M123 871h0M128 878h0M117 875h0M148 855h0M148 878h0M138 860h0M125 868h0M128 852h0M117 877h0M123 887h0M136 864h0M111 866h0M127 864h0M110 858h0M132 874h0M116 873h0M153 862h0M132 858h0M112 882h0M127 856h0M124 877h0M119 887h0M126 860h0M120 863h0M126 868h0M108 866h0M129 852h0M137 867h0M141 868h0M116 852h0M127 861h0M123 882h0M157 879h0M123 854h0M139 871h0M139 868h0M127 854h0M133 884h0M119 851h0M130 889h0M117 884h0M122 873h0M145 852h0M120 876h0M131 859h0M139 875h0M137 879h0M120 875h0M120 861h0M123 864h0M137 860h0M139 874h0M148 851h0M159 886h0M113 884h0M125 866h0M116 863h0M125 858h0M120 853h0M114 876h0M120 832h0M132 900h0M146 879h0M144 858h0M137 878h0M118 880h0M111 876h0M141 895h0M94 889h0M115 884h0M121 891h0M146 857h0M112 867h0M145 861h0M135 865h0M119 858h0M97 874h0M115 871h0M126 858h0M117 882h0M123 873h0M115 885h0M115 871h0M140 859h0M142 851h0M135 894h0M143 862h0M108 869h0M108 859h0M112 893h0M117 867h0M126 855h0M126 860h0M136 883h0M129 862h0M130 894h0M111 875h0M125 860h0M131 869h0M134 865h0M128 850h0M132 896h0M139 880h0M133 881h0M131 876h0M147 866h0M115 864h0M143 860h0M110 875h0M142 875h0M118 867h0M158 883h0M125 879h0M107 878h0M101 866h0M130 886h0M130 860h0M140 874h0M140 875h0M129 870h0M148 879h0M109 876h0M126 867h0M107 866h0M121 877h0M117 886h0M129 885h0M128 881h0M119 877h0M133 883h0M126 879h0M135 866h0M130 871h0M147 877h0M127 879h0M125 893h0M134 873h0M131 855h0M130 866h0M110 870h0M106 875h0M122 869h0M134 878h0M123 873h0M104 870h0M131 882h0M121 868h0M126 876h0M106 870h0M132 864h0M109 851h0M142 858h0M126 869h0M121 863h0M126 888h0M129 871h0M124 868h0M131 880h0M125 853h0M113 850h0M116 854h0M115 881h0M115 888h0M135 860h0M93 882h0M118 898h0M118 860h0M121 867h0M122 855h0M143 870h0M128 879h0M137 865h0M132 852h0M125 860h0M130 863h0M135 860h0M93 869h0M136 874h0M140 888h0M135 838h0M121 849h0M134 854h0M122 894h0M138 866h0M125 863h0M128 862h0M127 866h0M140 875h0M114 867h0M142 883h0M132 856h0M99 865h0M114 881h0M117 880h0M147 856h0M112 889h0M102 875h0M128 873h0M121 864h0M136 878h0M133 866h0M120 871h0M137 849h0M119 869h0M145 883h0M128 862h0M139 876h0M134 858h0M154 886h0M97 890h0M130 859h0M120 880h0M143 868h0M133 851h0M120 874h0M132 845h0M109 867h0M145 874h0M151 872h0M142 881h0M157 863h0M119 865h0M105 882h0M115 858h0M120 863h0M142 864h0M158 848h0M136 879h0M134 857h0M121 847h0M119 867h0M142 878h0M113 880h0M131 868h0M132 881h0M124 856h0M142 888h0M137 875h0M116 878h0M122 853h0M133 879h0M129 859h0M137 894h0M117 865h0M114 884h0M119 871h0M134 894h0M137 896h0M134 886h0M122 894h0M130 856h0M139 889h0M123 858h0M140 849h0M132 875h0M147 872h0M120 862h0M137 859h0M131 858h0M117 857h0M143 860h0M130 886h0M133 874h0M103 876h0M129 868h0M139 859h0M124 875h0M144 885h0M129 847h0M105 873h0M119 858h0M133 876h0M134 887h0M159 854h0M135 875h0M131 874h0M144 880h0M97 866h0M112 871h0M118 883h0M139 852h0M125 880h0M115 872h0M137 836h0M153 882h0M147 892h0M126 872h0M120 853h0M113 850h0M138 898h0M119 862h0M120 872h0M128 875h0M131 880h0M129 862h0M115 867h0M108 893h0M122 861h0M143 863h0M126 893h0M113 882h0M134 858h0M131 864h0M130 862h0M117 873h0M147 864h0M119 869h0M115 874h0M135 844h0M135 857h0M115 878h0M125 892h0M159 869h0M134 865h0M95 880h0M121 884h0M131 879h0M127 867h0M123 851h0M133 879h0M160 863h0M145 868h0M137 887h0M128 870h0M104 846h0M134 872h0M152 870h0M128 893h0M125 867h0M103 843h0M142 883h0M143 867h0M103 857h0M124 867h0M122 855h0M125 863h0M96 891h0M142 861h0M138 867h0M143 883h0M131 867h0M132 876h0M147 859h0M138 873h0M155 862h0M157 863h0M112 865h0M138 896h0M136 863h0M142 903h0M125 855h0M141 848h0M133 863h0M113 871h0M134 869h0M146 873h0M121 871h0M158 879h0M116 883h0M115 886h0M133 885h0M143 862h0M132 869h0M148 850h0M123 871h0M125 890h0M141 863h0M114 872h0M104 869h0M127 881h0M112 864h0M136 858h0M152 893h0M124 855h0M136 845h0M109 880h0M109 897h0M123 881h0M134 862h0M104 876h0M117 865h0M111 849h0M135 879h0M132 878h0M120 869h0M126 845h0M131 879h0M119 866h0M154 861h0M143 872h0M130 879h0M142 878h0M107 879h0M138 890h0M118 878h0M130 888h0M126 863h0M121 875h0M165 870h0M96 873h0M159 877h0M135 851h0M132 876h0M98 858h0M96 839h0M141 858h0M126 886h0M115 874h0M140 858h0M106 871h0M122 865h0M106 878h0M166 861h0M112 867h0M95 865h0M130 866h0M137 848h0M119 853h0M112 871h0M116 871h0M141 879h0M112 854h0M119 887h0M136 874h0M129 858h0M118 876h0M133 849h0M147 873h0M137 855h0M133 870h0M111 847h0M132 861h0M134 876h0M126 869h0M133 877h0M100 856h0M145 877h0M133 866h0M138 860h0M104 882h0M114 858h0M129 874h0M126 892h0M113 878h0M112 867h0M155 865h0M115 863h0M112 875h0M138 855h0M112 897h0M149 864h0M147 865h0M112 864h0M127 864h0M136 865h0M123 877h0M109 870h0M119 876h0M129 877h0M155 866h0M131 856h0M124 883h0M99 871h0M116 878h0M99 892h0M125 893h0M123 865h0M135 860h0M94 885h0M132 850h0M115 868h0M108 863h0M136 857h0M144 867h0M129 852h0M109 878h0M120 873h0M124 864h0M113 854h0M143 881h0M119 857h0M139 876h0M143 877h0M135 872h0M126 872h0M105 875h0M137 855h0M126 889h0M136 876h0M129 878h0M97 847h0M122 874h0M153 892h0M144 876h0M100 882h0M122 869h0M102 879h0M144 865h0M153 869h0M119 862h0M117 848h0M125 870h0M138 875h0M129 869h0M149 888h0M135 866h0M138 882h0M115 879h0M127 884h0M107 868h0M110 857h0M101 853h0M126 889h0M141 874h0M138 878h0M145 871h0M119 853h0M123 870h0M121 868h0M135 865h0M130 876h0M102 882h0M118 876h0M125 856h0" stroke="#000" stroke-opacity="0.32" stroke-width="2.0" stroke-linecap="round" fill="none" filter="url(#bp)"/>
<path transform="scale(.5)" d="M184 808h0M190 810h0M194 812h0M194 806h0M191 811h0M186 811h0M192 805h0M183 810h0M184 813h0M191 816h0M183 812h0M193 808h0M190 810h0M185 814h0M188 816h0M180 810h0M186 804h0M177 808h0M180 803h0M184 811h0M186 807h0M185 809h0M195 812h0M184 808h0M190 812h0M179 809h0M193 808h0M184 808h0M191 805h0M191 806h0M187 816h0M186 806h0M183 810h0M184 812h0M180 809h0M181 814h0M186 810h0M187 810h0M190 807h0M190 811h0M187 808h0M177 803h0M185 804h0M184 810h0M182 814h0M183 805h0M188 810h0M187 805h0M187 810h0M182 804h0M188 815h0M185 811h0M186 809h0M184 811h0M181 808h0M186 811h0M186 809h0M191 812h0M185 815h0M192 810h0M186 808h0M191 806h0M182 807h0M185 811h0M189 813h0M194 807h0M188 806h0M183 809h0M186 807h0M186 807h0M190 806h0M188 813h0M190 813h0M182 805h0M187 807h0M189 809h0M189 807h0M196 811h0M185 804h0M186 804h0M188 810h0M186 811h0M183 803h0M184 800h0M182 807h0M184 810h0M180 811h0M187 807h0M182 810h0M189 811h0M194 812h0M186 811h0M183 811h0M194 809h0M190 806h0M189 812h0M185 815h0M186 806h0M191 810h0M191 808h0M190 802h0M183 815h0M185 814h0M187 813h0M182 808h0M182 808h0M183 805h0M186 806h0M187 812h0M185 809h0M197 807h0M193 813h0M179 807h0M189 806h0M184 811h0M193 812h0M187 806h0M190 812h0M191 807h0M189 806h0M186 835h0M188 829h0M188 828h0M195 858h0M200 854h0M192 825h0M190 839h0M188 827h0M199 823h0M189 824h0M190 849h0M198 806h0M193 833h0M194 815h0M188 852h0M195 836h0M186 844h0M191 833h0M193 823h0M197 832h0M195 835h0M190 821h0M190 822h0M196 853h0M193 856h0M195 830h0M189 853h0M187 836h0M189 820h0M190 824h0M186 832h0M189 840h0M188 816h0M186 828h0M189 835h0M195 847h0M199 829h0M198 853h0M185 842h0M192 834h0M199 843h0M187 852h0M193 839h0M194 833h0M193 849h0M192 821h0M197 861h0M188 833h0M193 825h0M187 848h0M188 843h0M203 849h0M195 842h0M187 850h0M184 830h0M192 822h0M195 832h0M193 839h0M195 829h0M192 863h0M194 828h0M187 837h0M190 854h0M195 837h0M195 845h0M197 832h0M190 820h0M186 837h0M196 830h0M196 849h0M181 874h0M184 880h0M192 877h0M187 849h0M194 860h0M184 865h0M175 874h0M193 863h0M189 868h0M176 852h0M186 859h0M181 865h0M196 860h0M184 857h0M184 876h0M184 866h0M190 885h0M195 847h0M186 873h0M184 861h0M184 859h0M191 864h0M182 856h0M186 863h0M187 853h0M202 856h0M184 857h0M192 869h0M192 850h0M194 867h0M184 863h0M191 864h0M181 872h0M181 876h0M184 873h0M179 859h0M180 857h0M187 855h0M192 841h0M198 853h0M185 862h0M194 855h0M192 864h0M182 876h0M183 856h0M196 875h0M187 879h0M187 857h0M181 846h0M191 861h0M185 877h0M194 872h0M187 865h0M189 853h0M179 867h0M175 870h0M189 874h0M194 864h0M191 874h0M188 867h0M130 863h0M134 850h0M123 865h0M137 855h0M131 858h0M161 836h0M149 825h0M152 835h0M161 822h0M127 851h0M163 827h0M152 835h0M161 829h0M151 831h0M127 872h0M128 862h0M151 831h0M128 865h0M140 864h0M144 832h0M139 855h0M148 841h0M154 820h0M120 869h0M131 856h0M144 840h0M150 842h0M162 825h0M147 845h0M151 826h0M158 836h0M127 861h0M173 821h0M158 832h0M119 874h0M147 836h0M157 824h0M138 849h0M149 860h0M149 839h0M149 841h0M150 844h0M130 864h0M156 835h0M168 839h0" stroke="#000" stroke-opacity="0.42" stroke-width="2.0" stroke-linecap="round" fill="none" filter="url(#bp)"/>
<path transform="scale(.5)" d="M178 782h0M196 790h0M211 817h0M98 907h0M205 849h0M229 848h0M151 825h0M94 778h0M138 846h0M194 903h0M133 810h0M219 864h0M104 842h0M187 860h0M132 821h0M169 826h0M98 828h0M98 869h0M124 855h0M152 898h0M202 852h0M164 807h0M141 902h0M140 802h0M187 909h0M187 827h0M229 803h0M218 832h0M219 792h0M214 890h0" stroke="#000" stroke-opacity="0.2" stroke-width="2.0" stroke-linecap="round" fill="none" filter="url(#bp)"/>
<path d="M91 402.5 93.5 401.3 97.5 401.6 98.6 403.5 97.5 405.6 98.2 408 96.5 409.3 93.5 408.6 92.6 406 90.8 404.5Z" fill="#000" fill-opacity="1.0" filter="url(#b1)"/>
<path d="M80.8 383.4V455.4M45.4 421.2H117.7" stroke="#7a7a7a" stroke-width="1.1" fill="none"/>
<text x="116.5" y="390.4" font-size="6.3" text-anchor="end" fill="#222" stroke="#222" stroke-width="0.22">15.5</text>
<text x="47.2" y="454.4" font-size="6.3" fill="#222" stroke="#222" stroke-width="0.22">77.4</text>
<text x="116.7" y="454.4" font-size="6.3" text-anchor="end" fill="#222" stroke="#222" stroke-width="0.22">5.15</text>
<text x="39.2" y="456.8" font-size="4.3" text-anchor="middle" fill="#333" stroke="#333" stroke-width="0.15">10<tspan font-size="2.9" dy="-1.7">0</tspan></text>
<text x="39.2" y="438.8" font-size="4.3" text-anchor="middle" fill="#333" stroke="#333" stroke-width="0.15">10<tspan font-size="2.9" dy="-1.7">1</tspan></text>
<text x="39.2" y="420.8" font-size="4.3" text-anchor="middle" fill="#333" stroke="#333" stroke-width="0.15">10<tspan font-size="2.9" dy="-1.7">2</tspan></text>
<text x="39.2" y="402.8" font-size="4.3" text-anchor="middle" fill="#333" stroke="#333" stroke-width="0.15">10<tspan font-size="2.9" dy="-1.7">3</tspan></text>
<text x="39.2" y="384.8" font-size="4.3" text-anchor="middle" fill="#333" stroke="#333" stroke-width="0.15">10<tspan font-size="2.9" dy="-1.7">4</tspan></text>
<rect x="141.1" y="383.4" width="72.3" height="72" fill="none" stroke="#a0a0a0" stroke-width="0.9"/>
<path d="M141.1 383.4V455.4H213.4" stroke="#666" stroke-width="1.1" fill="none"/>
<path d="M141.1 450h-1M146.5 455.4v1M141.1 446.8h-1M149.7 455.4v1M141.1 444.6h-1M152 455.4v1M141.1 442.8h-1M153.7 455.4v1M141.1 441.4h-1M155.2 455.4v1M141.1 440.2h-1M156.4 455.4v1M141.1 439.1h-1M157.4 455.4v1M141.1 438.2h-1M158.3 455.4v1M141.1 432h-1M164.6 455.4v1M141.1 428.8h-1M167.8 455.4v1M141.1 426.6h-1M170.1 455.4v1M141.1 424.8h-1M171.8 455.4v1M141.1 423.4h-1M173.2 455.4v1M141.1 422.2h-1M174.5 455.4v1M141.1 421.1h-1M175.5 455.4v1M141.1 420.2h-1M176.4 455.4v1M141.1 414h-1M182.7 455.4v1M141.1 410.8h-1M185.9 455.4v1M141.1 408.6h-1M188.1 455.4v1M141.1 406.8h-1M189.9 455.4v1M141.1 405.4h-1M191.3 455.4v1M141.1 404.2h-1M192.5 455.4v1M141.1 403.1h-1M193.6 455.4v1M141.1 402.2h-1M194.5 455.4v1M141.1 396h-1M200.8 455.4v1M141.1 392.8h-1M203.9 455.4v1M141.1 390.6h-1M206.2 455.4v1M141.1 388.8h-1M208 455.4v1M141.1 387.4h-1M209.4 455.4v1M141.1 386.2h-1M210.6 455.4v1M141.1 385.1h-1M211.6 455.4v1M141.1 384.2h-1M212.6 455.4v1M141.1 455.4h-1.8M141.1 455.4v1.8M141.1 437.4h-1.8M159.2 455.4v1.8M141.1 419.4h-1.8M177.2 455.4v1.8M141.1 401.4h-1.8M195.3 455.4v1.8M141.1 383.4h-1.8M213.4 455.4v1.8" stroke="#777" stroke-width="0.5" fill="none"/>
<path transform="scale(.5)" d="M348 868h0M292 891h0M329 893h0M335 894h0M316 868h0M323 877h0M363 868h0M345 884h0M357 875h0M297 876h0M297 890h0M310 873h0M337 864h0M333 897h0M315 881h0M351 865h0M345 873h0M305 863h0M322 857h0M330 874h0M338 892h0M321 866h0M324 874h0M332 863h0M353 885h0M296 879h0M338 850h0M331 880h0M324 872h0M324 865h0M343 857h0M324 898h0M327 867h0M316 859h0M303 890h0M345 862h0M313 901h0M329 889h0M301 880h0M317 880h0M312 896h0M321 879h0M327 895h0M337 885h0M325 866h0M325 893h0M323 867h0M321 873h0M310 877h0M321 886h0M315 878h0M297 897h0M310 874h0M299 876h0M335 880h0M325 907h0M315 887h0M312 871h0M346 891h0M297 887h0M317 887h0M320 882h0M295 881h0M300 855h0M320 872h0M300 877h0M314 872h0M344 866h0M359 850h0M320 891h0M315 876h0M339 901h0M325 870h0M317 878h0M300 895h0M310 876h0M315 871h0M323 879h0M318 883h0M301 878h0M308 900h0M293 880h0M350 853h0M305 881h0M327 882h0M319 858h0M305 869h0M301 873h0M304 855h0M308 903h0M303 864h0M328 846h0M307 872h0M332 862h0M339 851h0M308 898h0M320 861h0M303 883h0M324 862h0M317 873h0M309 883h0M313 891h0M326 891h0M324 890h0M307 878h0M303 876h0M303 866h0M301 864h0M308 854h0M323 863h0M337 849h0M326 884h0M299 896h0M338 890h0M328 865h0M335 892h0M325 867h0M311 876h0M334 841h0M306 891h0M339 890h0M316 874h0M331 884h0M297 879h0M290 890h0M330 904h0M300 860h0M346 875h0M353 856h0M284 883h0M334 892h0M325 884h0M306 882h0M312 875h0M326 865h0M300 865h0M334 904h0M309 864h0M344 896h0M324 870h0M301 861h0M353 887h0M302 884h0M294 861h0M302 882h0M289 893h0M318 862h0M306 883h0M306 903h0M292 883h0M314 891h0M310 884h0M339 858h0M289 863h0M322 862h0M309 876h0M320 873h0M314 886h0M323 897h0M328 907h0M301 870h0M334 876h0M328 901h0M296 878h0M314 894h0M323 900h0M295 876h0M292 906h0M306 873h0M340 890h0M338 889h0M319 857h0M314 889h0M316 898h0M321 869h0M330 857h0M315 867h0M312 882h0M342 857h0M304 866h0M287 875h0M295 879h0M335 859h0M327 896h0M331 888h0M292 888h0M313 866h0M290 880h0M307 870h0M296 871h0M304 889h0M313 864h0M346 870h0M310 878h0M323 879h0M290 888h0M313 860h0M322 878h0M290 884h0M307 893h0M312 857h0M301 876h0M304 898h0M304 855h0M311 874h0M299 876h0M337 880h0M326 863h0M304 889h0M354 877h0M301 895h0M298 901h0M324 866h0M296 863h0M323 869h0M328 880h0M311 867h0M328 868h0M294 872h0M324 878h0M312 871h0M319 878h0M315 884h0M322 880h0M319 856h0M309 897h0M293 861h0M299 861h0M317 889h0M304 870h0M320 881h0M314 857h0M342 886h0M332 872h0M296 908h0M352 886h0M332 853h0M301 893h0M301 881h0M345 871h0M309 873h0M314 894h0M319 881h0M329 868h0M327 870h0M298 877h0M301 899h0M307 892h0M320 883h0M313 870h0M312 890h0M286 881h0M369 891h0M312 856h0M321 888h0M285 884h0M326 870h0M316 863h0M289 871h0M339 850h0M303 881h0M302 882h0M288 860h0M304 879h0M288 876h0M291 885h0M314 869h0M338 870h0M335 844h0M303 870h0M284 901h0M314 870h0M292 895h0M302 890h0M316 889h0M326 890h0M310 854h0M370 871h0M285 885h0M313 878h0M324 877h0M299 888h0M344 871h0M300 883h0M344 881h0M315 851h0M301 870h0M312 893h0M314 876h0M298 896h0M285 909h0M312 886h0M285 901h0M359 888h0M324 868h0M301 887h0M306 879h0M352 892h0M288 874h0M305 868h0M334 875h0M287 877h0M346 877h0M291 897h0M325 882h0M335 872h0M316 886h0M329 872h0M304 856h0M305 850h0M295 900h0M302 884h0M315 856h0M296 895h0M313 877h0M336 892h0M308 869h0M348 857h0M314 883h0M303 860h0M344 860h0M311 856h0M302 871h0M358 859h0M334 894h0M301 874h0M352 903h0M326 862h0M343 884h0M344 876h0M330 869h0M298 864h0M300 890h0M338 897h0M327 893h0M307 908h0M322 897h0M313 886h0M299 872h0M320 902h0M307 868h0M311 883h0M307 878h0M354 873h0M317 872h0M321 883h0M340 902h0M339 894h0M336 853h0M308 872h0M303 862h0" stroke="#000" stroke-opacity="0.32" stroke-width="2.0" stroke-linecap="round" fill="none" filter="url(#bp)"/>
<path transform="scale(.5)" d="M371 800h0M363 815h0M373 803h0M363 811h0M364 810h0M364 815h0M369 810h0M365 813h0M361 811h0M357 815h0M371 813h0M366 811h0M363 810h0M365 808h0M371 811h0M372 812h0M367 815h0M373 810h0M369 815h0M361 811h0M369 812h0M367 816h0M380 812h0M367 810h0M377 819h0M373 815h0M369 818h0M374 811h0M377 813h0M372 812h0M370 813h0M370 816h0M361 806h0M360 817h0M373 805h0M377 811h0M363 811h0M357 813h0M369 814h0M378 810h0M367 806h0M366 815h0M374 810h0M366 807h0M374 810h0M369 812h0M364 809h0M366 812h0M371 812h0M368 809h0M362 812h0M368 809h0M377 812h0M363 810h0M367 808h0M383 810h0M373 803h0M384 811h0M354 809h0M366 810h0M364 811h0M369 811h0M364 813h0M358 807h0M364 813h0M375 814h0M366 815h0M356 807h0M365 809h0M377 808h0M363 813h0M375 808h0M365 812h0M369 811h0M360 809h0M362 804h0M368 822h0M365 810h0M366 816h0M363 811h0M369 814h0M367 808h0M356 811h0M361 815h0M370 810h0M366 814h0M359 806h0M361 811h0M362 806h0M360 808h0M359 811h0M379 803h0M351 816h0M369 811h0M366 808h0M377 806h0M369 808h0M374 813h0M377 816h0M367 815h0M371 812h0M377 810h0M384 816h0M366 818h0M361 815h0M376 808h0M363 821h0M364 808h0M370 811h0M372 803h0M372 817h0M370 814h0M373 807h0M366 808h0M365 812h0M368 813h0M361 814h0M367 810h0M371 811h0M368 816h0M363 817h0M369 812h0M376 811h0M362 810h0M355 811h0M372 814h0M380 808h0M361 821h0M374 809h0M359 817h0M368 806h0M374 807h0M375 808h0M377 805h0M359 814h0M366 805h0M374 806h0M363 806h0M376 814h0M374 807h0M370 803h0M373 809h0M362 807h0M354 814h0M358 813h0M362 809h0M371 811h0M372 815h0M368 810h0M362 816h0M374 812h0M352 809h0M371 811h0M366 809h0M366 814h0M370 810h0M361 816h0M365 807h0M362 809h0M372 818h0M366 813h0M360 807h0M367 813h0M373 813h0M372 810h0M372 818h0M357 816h0M360 802h0M370 815h0M370 812h0M367 805h0M367 810h0M377 809h0M361 811h0M384 812h0M376 812h0M366 804h0M355 810h0M358 816h0M364 809h0M379 814h0M385 806h0M366 815h0M371 803h0M364 808h0M364 814h0M358 817h0M369 810h0M364 812h0M376 811h0M355 813h0M356 812h0M360 815h0M373 810h0M373 810h0M363 802h0M369 811h0M363 807h0M362 806h0M371 810h0M363 807h0M376 807h0M353 809h0M360 817h0M372 819h0M370 811h0M372 814h0M372 812h0M381 805h0M375 805h0M383 806h0M363 811h0M370 810h0M357 815h0M368 817h0M372 811h0M372 814h0M371 809h0M368 809h0M363 815h0M361 809h0M369 806h0M368 811h0M373 813h0M372 813h0M357 813h0M367 803h0M364 807h0M377 803h0M372 812h0M369 805h0M368 809h0M368 813h0M366 808h0M363 810h0M362 809h0M372 810h0M374 814h0M387 809h0M363 816h0M362 815h0M372 810h0M357 811h0M378 805h0M360 813h0M363 811h0M370 806h0M384 813h0M382 814h0M372 810h0M365 815h0M350 815h0M374 820h0M371 812h0M363 814h0M371 808h0M383 812h0M361 813h0M373 818h0M373 807h0M362 815h0M371 809h0M368 809h0M360 812h0M371 818h0M364 810h0M367 813h0M374 804h0M374 814h0M368 804h0M352 814h0M353 813h0M370 813h0M370 814h0M373 814h0M363 815h0M368 808h0M376 814h0M361 814h0M374 814h0M366 814h0M374 814h0M372 818h0M369 813h0M362 808h0M365 807h0M369 808h0M383 813h0M374 809h0M359 811h0M363 810h0M371 811h0M376 808h0M367 813h0M361 814h0M341 814h0M382 812h0M374 805h0M356 811h0M385 813h0M376 810h0M366 811h0M375 816h0M377 812h0M381 810h0M364 814h0M363 809h0M373 814h0M370 816h0M368 809h0M378 811h0M366 810h0M366 811h0M358 808h0M362 811h0M369 808h0M356 810h0M368 812h0M362 815h0M366 814h0M371 810h0M360 812h0M361 810h0M366 814h0M367 817h0M379 817h0M367 810h0M375 819h0M373 802h0M365 814h0M370 810h0M369 809h0M362 806h0M373 804h0M372 811h0M370 810h0M365 816h0M363 813h0M370 810h0M369 805h0M376 810h0M371 819h0M368 811h0M361 807h0M381 816h0M374 816h0M369 809h0M378 814h0M375 812h0M370 811h0M360 812h0M361 810h0M360 814h0M349 814h0M381 806h0M358 813h0M369 816h0M363 809h0M374 805h0M377 803h0M376 807h0M369 809h0M371 803h0M353 813h0M375 818h0M367 811h0M362 816h0M357 809h0M362 807h0M376 812h0M366 816h0M358 812h0M374 815h0M361 816h0M380 813h0M357 817h0M373 810h0M370 812h0M368 808h0M354 809h0M366 809h0M382 812h0M379 810h0M365 811h0M364 809h0M366 813h0M374 810h0M380 820h0M374 813h0M378 812h0M367 809h0M365 814h0M371 809h0M371 804h0M372 808h0M369 816h0M355 814h0M372 813h0M371 814h0M363 811h0M373 814h0M365 811h0M381 809h0M371 809h0M369 810h0M367 810h0M366 811h0M384 815h0M360 818h0M373 813h0M366 806h0M362 804h0M385 815h0M372 810h0M369 813h0M358 814h0M365 811h0M380 812h0M364 809h0M372 816h0M358 819h0M375 817h0M374 807h0M352 809h0M373 808h0M372 808h0M361 815h0M361 807h0M365 804h0M373 808h0M349 818h0M357 809h0M366 814h0M366 808h0M367 807h0M370 814h0M361 812h0M367 808h0M368 812h0M379 806h0M360 810h0M359 813h0M381 809h0M362 816h0M360 813h0M356 815h0M362 809h0M351 811h0M365 811h0M373 815h0M365 816h0M369 820h0M365 812h0M367 805h0M361 814h0M360 812h0M370 808h0M367 811h0M366 810h0M375 812h0M375 814h0M363 809h0M363 815h0M365 812h0M375 810h0M361 816h0M345 817h0M359 815h0M368 810h0M372 813h0M372 817h0M350 811h0M371 804h0M356 817h0M358 813h0M361 817h0M364 808h0M362 801h0M368 818h0M372 805h0M380 806h0M360 817h0M371 803h0M367 813h0M374 811h0M366 809h0M378 812h0M365 811h0M364 812h0M370 804h0M364 801h0M360 813h0M369 815h0M361 809h0M366 812h0M357 810h0M378 815h0M361 805h0M372 812h0M371 808h0M357 857h0M361 829h0M361 819h0M349 811h0M355 850h0M363 818h0M359 838h0M369 834h0M360 833h0M363 842h0M361 807h0M369 836h0M365 832h0M356 848h0M361 836h0M368 846h0M365 850h0M378 852h0M357 827h0M352 835h0M356 844h0M342 830h0M354 848h0M373 846h0M365 829h0M374 836h0M360 843h0M363 852h0M362 831h0M369 842h0M359 832h0M353 814h0M357 846h0M370 851h0M358 785h0M374 831h0M363 836h0M358 868h0M357 821h0M361 852h0M362 824h0M357 850h0M375 859h0M372 817h0M377 829h0M357 823h0M374 830h0M361 840h0M368 849h0M351 850h0M361 853h0M367 827h0M366 851h0M375 831h0M360 873h0M352 841h0M363 837h0M360 825h0M357 827h0M355 848h0M356 860h0M361 836h0M358 850h0M375 863h0M365 845h0M377 820h0M360 871h0M357 844h0M352 828h0M357 822h0M359 835h0M363 844h0M366 845h0M365 841h0M353 839h0M351 848h0M362 840h0M380 827h0M367 859h0M373 822h0M362 822h0M363 858h0M359 840h0M363 848h0M355 831h0M358 832h0M356 867h0M367 845h0M368 824h0M363 833h0M373 846h0M357 843h0M356 857h0M365 849h0M359 876h0M369 815h0M369 850h0M361 831h0M359 860h0M362 854h0M365 829h0M357 846h0M356 835h0M362 841h0M357 842h0M359 871h0M349 851h0M351 842h0M363 826h0M354 844h0M370 820h0M356 852h0M358 830h0M357 832h0M365 855h0M363 828h0M368 821h0M352 836h0M354 824h0M359 841h0M356 859h0M363 840h0M371 840h0M364 846h0M367 811h0M364 840h0M360 856h0M368 864h0M360 840h0M354 830h0M352 844h0M353 826h0M357 858h0M377 848h0M355 843h0M355 844h0M367 815h0M366 840h0M359 838h0M375 857h0M378 823h0M366 826h0M357 848h0M352 832h0M363 831h0M357 839h0M363 840h0M367 830h0M364 825h0M363 826h0M363 861h0M356 837h0M357 842h0M358 864h0M358 813h0M369 835h0M362 828h0M360 822h0M357 837h0M360 821h0M360 863h0M357 843h0M360 824h0M374 833h0M360 843h0M363 848h0M358 853h0M358 839h0M361 854h0M364 817h0M363 805h0M375 835h0M360 843h0M356 834h0M362 843h0M364 858h0M360 836h0M358 831h0M356 816h0M364 860h0M371 830h0M361 857h0M359 844h0M366 848h0M356 833h0M360 869h0M365 817h0M367 807h0M358 840h0M367 807h0M359 828h0M364 832h0M363 864h0M354 845h0M355 850h0M368 850h0M360 836h0M375 827h0M354 848h0M359 831h0M372 824h0M350 832h0M370 842h0M362 855h0M355 829h0M358 843h0M354 863h0M372 847h0M365 857h0M359 832h0M365 844h0M356 847h0M352 855h0M361 815h0M359 871h0M369 834h0M369 852h0M364 835h0M350 829h0M379 841h0M365 855h0M363 830h0M366 831h0M360 829h0M358 825h0M361 853h0M364 847h0M364 822h0M359 830h0M359 851h0M372 842h0M359 821h0M363 834h0M375 848h0M358 827h0M365 821h0M379 879h0M350 817h0M365 854h0M366 841h0M360 832h0M366 845h0M360 839h0M356 809h0M348 822h0M361 837h0M352 836h0M369 849h0M359 860h0M359 828h0M366 842h0M368 835h0M359 833h0M363 877h0M358 845h0M363 844h0M362 846h0M353 816h0M361 838h0M371 852h0M363 830h0M368 845h0M366 841h0M365 849h0M357 831h0M357 825h0M366 844h0M362 837h0M363 820h0M378 820h0M352 858h0M365 829h0M359 830h0M359 836h0M362 828h0M356 847h0M371 840h0M359 831h0M354 818h0M365 858h0M363 826h0M357 833h0M370 843h0M366 839h0M365 844h0M359 842h0M360 841h0M354 847h0M362 837h0M360 847h0M375 859h0M365 835h0M363 866h0M358 848h0M363 856h0M360 834h0M358 834h0M367 834h0M366 828h0M370 835h0M362 870h0M353 854h0M356 840h0M364 843h0M361 840h0M355 831h0M364 825h0M355 853h0M359 844h0M360 849h0M352 839h0M366 848h0M371 841h0M363 805h0M352 844h0M364 850h0M361 871h0M366 836h0M359 816h0M363 854h0M355 866h0M361 840h0M371 844h0M372 851h0M356 829h0M354 849h0M352 856h0M363 819h0M359 859h0M365 819h0M347 866h0M370 835h0M370 834h0M363 844h0M380 826h0M364 824h0M363 840h0M361 813h0M356 847h0M360 823h0M355 848h0M367 821h0M364 816h0M360 826h0M370 853h0M363 857h0M364 829h0M364 835h0M355 865h0M371 827h0M361 834h0M357 842h0M363 837h0M371 825h0M351 867h0M361 861h0M366 839h0M364 837h0M360 849h0M358 837h0M363 898h0M352 875h0M366 875h0M363 891h0M339 870h0M364 887h0M364 876h0M348 896h0M363 885h0M363 894h0M365 889h0M358 878h0M348 876h0M367 885h0M358 876h0M362 889h0M363 858h0M367 859h0M360 891h0M358 901h0M371 889h0M355 874h0M354 892h0M352 858h0M356 876h0M357 878h0M376 864h0M364 896h0M374 872h0M364 893h0M360 889h0M364 866h0M364 870h0M353 890h0M376 870h0M350 881h0M352 900h0M364 879h0M368 902h0M366 861h0M364 878h0M369 865h0M366 874h0M351 841h0M379 873h0M353 890h0M356 871h0M356 869h0M363 891h0M373 873h0M370 879h0M356 882h0M343 875h0M346 873h0M363 875h0M364 869h0M347 894h0M359 895h0M356 882h0M364 883h0M378 862h0M358 890h0M366 886h0M361 885h0M367 883h0M359 873h0M360 891h0M361 885h0M367 887h0M362 876h0M362 875h0M348 876h0M373 877h0M361 888h0M364 873h0M340 898h0M352 896h0M365 876h0M362 881h0M356 896h0M343 839h0M341 851h0M310 887h0M342 831h0M345 839h0M323 869h0M334 869h0M349 822h0M338 841h0M312 882h0M330 852h0M323 852h0M335 848h0M349 831h0M320 873h0M344 845h0M312 878h0M328 841h0M346 828h0M333 842h0M340 820h0M339 839h0M341 838h0M330 843h0M314 877h0M330 854h0M342 844h0M336 829h0M327 857h0M342 834h0M335 842h0M332 848h0M324 873h0M342 854h0M343 854h0M339 847h0M326 843h0M353 813h0M337 857h0M342 848h0M330 859h0M331 856h0M337 829h0M319 872h0M324 861h0M335 851h0M333 856h0M332 862h0M341 846h0M326 870h0M332 881h0M333 867h0M328 869h0M334 847h0M321 865h0M320 880h0M319 859h0M341 855h0M320 887h0M313 864h0M350 829h0M340 848h0M328 852h0M351 817h0M341 848h0M339 841h0M355 824h0M314 874h0M314 869h0M318 873h0" stroke="#000" stroke-opacity="0.42" stroke-width="2.0" stroke-linecap="round" fill="none" filter="url(#bp)"/>
<path transform="scale(.5)" d="M409 827h0M396 839h0M419 772h0M329 902h0M324 853h0M326 901h0M353 896h0M337 893h0M354 789h0M408 817h0M395 876h0M327 839h0M359 834h0M291 780h0M386 885h0M373 810h0M413 782h0M319 793h0M334 784h0M412 864h0M421 888h0M304 841h0M324 856h0M321 865h0M405 814h0M326 860h0M379 908h0M399 846h0M401 836h0M342 802h0" stroke="#000" stroke-opacity="0.2" stroke-width="2.0" stroke-linecap="round" fill="none" filter="url(#bp)"/>
<path d="M177.5 404.5 180 401.8 188 401.2 192.4 402.8 192.2 406.5 188.5 408.6 181 408.8 178 407.4Z" fill="#000" fill-opacity="1.0" filter="url(#b1)"/>
<path d="M175.5 383.4V455.4M141.1 421.2H213.4" stroke="#7a7a7a" stroke-width="1.1" fill="none"/>
<text x="212.2" y="390.4" font-size="6.3" text-anchor="end" fill="#222" stroke="#222" stroke-width="0.22">65</text>
<text x="142.9" y="454.4" font-size="6.3" fill="#222" stroke="#222" stroke-width="0.22">20.5</text>
<text x="212.4" y="454.4" font-size="6.3" text-anchor="end" fill="#222" stroke="#222" stroke-width="0.22">10.7</text>
<text x="134.9" y="456.8" font-size="4.3" text-anchor="middle" fill="#333" stroke="#333" stroke-width="0.15">10<tspan font-size="2.9" dy="-1.7">0</tspan></text>
<text x="134.9" y="438.8" font-size="4.3" text-anchor="middle" fill="#333" stroke="#333" stroke-width="0.15">10<tspan font-size="2.9" dy="-1.7">1</tspan></text>
<text x="134.9" y="420.8" font-size="4.3" text-anchor="middle" fill="#333" stroke="#333" stroke-width="0.15">10<tspan font-size="2.9" dy="-1.7">2</tspan></text>
<text x="134.9" y="402.8" font-size="4.3" text-anchor="middle" fill="#333" stroke="#333" stroke-width="0.15">10<tspan font-size="2.9" dy="-1.7">3</tspan></text>
<text x="134.9" y="384.8" font-size="4.3" text-anchor="middle" fill="#333" stroke="#333" stroke-width="0.15">10<tspan font-size="2.9" dy="-1.7">4</tspan></text>
<rect x="235.1" y="383.4" width="72.3" height="72" fill="none" stroke="#a0a0a0" stroke-width="0.9"/>
<path d="M235.1 383.4V455.4H307.4" stroke="#666" stroke-width="1.1" fill="none"/>
<path d="M235.1 450h-1M240.5 455.4v1M235.1 446.8h-1M243.7 455.4v1M235.1 444.6h-1M246 455.4v1M235.1 442.8h-1M247.7 455.4v1M235.1 441.4h-1M249.2 455.4v1M235.1 440.2h-1M250.4 455.4v1M235.1 439.1h-1M251.4 455.4v1M235.1 438.2h-1M252.3 455.4v1M235.1 432h-1M258.6 455.4v1M235.1 428.8h-1M261.8 455.4v1M235.1 426.6h-1M264.1 455.4v1M235.1 424.8h-1M265.8 455.4v1M235.1 423.4h-1M267.2 455.4v1M235.1 422.2h-1M268.5 455.4v1M235.1 421.1h-1M269.5 455.4v1M235.1 420.2h-1M270.4 455.4v1M235.1 414h-1M276.7 455.4v1M235.1 410.8h-1M279.9 455.4v1M235.1 408.6h-1M282.1 455.4v1M235.1 406.8h-1M283.9 455.4v1M235.1 405.4h-1M285.3 455.4v1M235.1 404.2h-1M286.5 455.4v1M235.1 403.1h-1M287.6 455.4v1M235.1 402.2h-1M288.5 455.4v1M235.1 396h-1M294.8 455.4v1M235.1 392.8h-1M297.9 455.4v1M235.1 390.6h-1M300.2 455.4v1M235.1 388.8h-1M302 455.4v1M235.1 387.4h-1M303.4 455.4v1M235.1 386.2h-1M304.6 455.4v1M235.1 385.1h-1M305.6 455.4v1M235.1 384.2h-1M306.6 455.4v1M235.1 455.4h-1.8M235.1 455.4v1.8M235.1 437.4h-1.8M253.2 455.4v1.8M235.1 419.4h-1.8M271.2 455.4v1.8M235.1 401.4h-1.8M289.3 455.4v1.8M235.1 383.4h-1.8M307.4 455.4v1.8" stroke="#777" stroke-width="0.5" fill="none"/>
<path transform="scale(.5)" d="M508 869h0M494 894h0M501 892h0M529 885h0M488 875h0M528 908h0M540 897h0M505 878h0M507 879h0M520 873h0M505 894h0M517 877h0M491 907h0M517 897h0M509 889h0M502 886h0M512 906h0M529 872h0M521 873h0M503 853h0M524 872h0M515 896h0M518 868h0M512 854h0M484 903h0M537 866h0M517 850h0M505 845h0M500 876h0M498 872h0M530 862h0M546 876h0M526 895h0M500 864h0M500 894h0M520 896h0M494 878h0M503 906h0M502 863h0M542 871h0M530 888h0M492 907h0M530 886h0M520 886h0M505 882h0M492 886h0M521 861h0M514 877h0M553 846h0M512 872h0M528 907h0M509 889h0M531 887h0M498 853h0M527 862h0M528 875h0M524 897h0M506 897h0M510 867h0M499 896h0M488 845h0M516 893h0M505 900h0M497 873h0M473 895h0M489 900h0M501 881h0M472 879h0M501 882h0M531 881h0M512 846h0M512 881h0M478 882h0M492 880h0M491 896h0M518 902h0M496 887h0M486 856h0M530 881h0M533 886h0M524 890h0M506 863h0M523 883h0M520 886h0M513 888h0M505 855h0M521 882h0M507 886h0M505 898h0M546 873h0M499 864h0M511 866h0M516 847h0M501 888h0M516 879h0M535 872h0M504 871h0M506 891h0M515 901h0M519 863h0M519 889h0M524 870h0M491 866h0M498 883h0M531 882h0M533 876h0M480 884h0M495 863h0M515 909h0M493 880h0M493 860h0M480 893h0M515 879h0M533 855h0M486 882h0M504 888h0M512 878h0M499 900h0M510 863h0M534 872h0M485 904h0" stroke="#000" stroke-opacity="0.32" stroke-width="2.0" stroke-linecap="round" fill="none" filter="url(#bp)"/>
<path transform="scale(.5)" d="M569 799h0M557 816h0M569 810h0M558 808h0M557 807h0M568 806h0M560 814h0M540 829h0M569 810h0M565 826h0M537 814h0M587 806h0M563 806h0M553 810h0M569 811h0M560 811h0M555 807h0M560 803h0M558 827h0M557 798h0M547 812h0M561 810h0M556 820h0M563 814h0M548 810h0M569 814h0M550 829h0M557 808h0M552 817h0M565 810h0M555 804h0M560 809h0M557 815h0M550 811h0M566 817h0M547 816h0M570 809h0M559 815h0M564 804h0M572 818h0M543 808h0M561 810h0M562 809h0M560 813h0M571 811h0M568 808h0M563 802h0M567 810h0M561 814h0M559 808h0M553 819h0M566 820h0M560 821h0M548 807h0M546 814h0M550 820h0M551 822h0M567 816h0M563 824h0M562 808h0M564 827h0M560 814h0M559 813h0M559 807h0M541 800h0M558 811h0M567 815h0M552 804h0M572 810h0M553 809h0M554 813h0M564 805h0M553 822h0M551 810h0M561 812h0M547 813h0M553 809h0M564 813h0M556 808h0M553 813h0M560 813h0M566 813h0M566 811h0M552 809h0M559 824h0M562 813h0M550 816h0M561 809h0M565 812h0M561 806h0M568 813h0M570 809h0M551 816h0M556 806h0M569 805h0M556 819h0M564 814h0M559 817h0M569 805h0M555 814h0M575 815h0M535 809h0M559 820h0M564 812h0M555 806h0M547 818h0M568 810h0M568 812h0M548 819h0M570 808h0M570 809h0M562 804h0M566 816h0M557 801h0M573 805h0M572 815h0M561 814h0M560 810h0M557 812h0M574 816h0M556 815h0M561 812h0M561 811h0M559 814h0M553 811h0M550 814h0M564 811h0M540 808h0M556 816h0M556 810h0M551 828h0M556 797h0M559 810h0M553 803h0M549 811h0M566 803h0M560 815h0M547 807h0M560 814h0M565 810h0M554 822h0M567 807h0M547 808h0M557 810h0M556 806h0M572 796h0M554 816h0M564 809h0M548 802h0M574 808h0M556 803h0M564 816h0M548 799h0M561 825h0M546 811h0M573 806h0M561 816h0M568 808h0M563 818h0M564 802h0M551 807h0M537 809h0M556 810h0M557 796h0M569 815h0M544 820h0M565 808h0M562 806h0M553 811h0M551 819h0M558 818h0M555 815h0M563 810h0M555 816h0M562 808h0M566 806h0M549 816h0M566 812h0M562 813h0M555 798h0M576 814h0M567 822h0M565 816h0M555 809h0M558 804h0M560 807h0M558 806h0M558 804h0M562 821h0M563 811h0M563 814h0M572 818h0M562 815h0M567 825h0M553 813h0M556 806h0M569 816h0M563 816h0M582 806h0M562 815h0M578 811h0M557 819h0M583 817h0M564 819h0M540 810h0M564 803h0M565 812h0M564 812h0M554 817h0M555 810h0M564 803h0M581 813h0M566 810h0M564 811h0M569 814h0M555 821h0M547 815h0M556 804h0M559 804h0M541 814h0M562 812h0M551 810h0M565 809h0M553 808h0M564 818h0M569 817h0M561 821h0M555 818h0M572 816h0M553 813h0M558 820h0M555 816h0M567 816h0M571 811h0M554 816h0M563 798h0M562 814h0M567 818h0M541 792h0M556 818h0M578 810h0M545 820h0M557 816h0M562 809h0M570 822h0M559 805h0M569 812h0M562 807h0M559 815h0M558 811h0M553 817h0M572 811h0M558 809h0M569 814h0M575 812h0M555 816h0M552 814h0M567 814h0M561 809h0M563 802h0M572 824h0M568 820h0M565 823h0M550 810h0M564 807h0M562 812h0M560 808h0M553 817h0M575 809h0M578 803h0M556 806h0M551 805h0M558 803h0M571 812h0M578 813h0M546 814h0M563 817h0M561 811h0M565 808h0M570 814h0M558 811h0M576 807h0M560 810h0M569 816h0M555 816h0M562 804h0M552 809h0M559 812h0M558 799h0M570 817h0M554 795h0M569 815h0M563 803h0M566 811h0M553 811h0M560 805h0M549 806h0M569 814h0M569 820h0M560 812h0M560 818h0M552 816h0M553 814h0M567 809h0M555 811h0M553 820h0M561 801h0M555 818h0M548 805h0M556 816h0M566 808h0M557 806h0M551 813h0M552 812h0M559 817h0M566 804h0M550 815h0M551 818h0M552 809h0M551 806h0M552 816h0M574 813h0M562 808h0M564 817h0M568 816h0M554 817h0M558 812h0M567 819h0M567 814h0M567 815h0M571 809h0M556 819h0M561 821h0M552 804h0M557 806h0M557 823h0M563 808h0M558 820h0M566 816h0M579 811h0M563 813h0M554 807h0M559 813h0M561 820h0M561 822h0M548 812h0M569 816h0M554 809h0M563 816h0M570 805h0M577 802h0M562 813h0M549 812h0M546 809h0M562 819h0M553 818h0M576 815h0M553 814h0M555 802h0M575 813h0M562 810h0M573 803h0M561 809h0M561 816h0M548 814h0M555 810h0M557 810h0M557 820h0M559 814h0M566 806h0M566 809h0M551 818h0M573 825h0M575 798h0M572 805h0M555 812h0M562 806h0M566 814h0M550 810h0M559 813h0M544 817h0M557 808h0M565 813h0M562 812h0M551 807h0M557 818h0M560 811h0M566 813h0M567 819h0M558 810h0M547 814h0M561 819h0M550 820h0M576 810h0M558 810h0M556 818h0M570 807h0M564 806h0M570 818h0M564 809h0M551 814h0M551 821h0M563 823h0M559 810h0M552 808h0M556 811h0M563 811h0M565 821h0M564 809h0M559 806h0M565 817h0M575 814h0M560 822h0M548 799h0M560 812h0M569 805h0M559 813h0M564 812h0M556 812h0M566 813h0M540 808h0M563 809h0M561 819h0M557 804h0M554 807h0M566 814h0M564 807h0M550 805h0M550 814h0M555 815h0M565 823h0M558 812h0M563 822h0M572 813h0M548 818h0M572 811h0M557 812h0M552 824h0M551 818h0M575 818h0M569 806h0M542 812h0M563 808h0M560 814h0M548 815h0M557 818h0M556 811h0M562 822h0M566 821h0M554 800h0M553 816h0M563 815h0M575 820h0M557 812h0M555 821h0M571 812h0M568 811h0M582 812h0M563 807h0M546 811h0M564 816h0M547 806h0M555 820h0M546 814h0M563 809h0M560 812h0M558 812h0M556 816h0M555 805h0M540 806h0M564 817h0M563 811h0M556 811h0M566 797h0M559 805h0M554 810h0M571 810h0M569 818h0M568 813h0M548 817h0M551 813h0M556 808h0M570 824h0M574 793h0M554 807h0M560 811h0M565 822h0M558 805h0M572 819h0M561 812h0M564 814h0M549 813h0M562 807h0M554 813h0M553 812h0M557 812h0M553 803h0M552 811h0M553 812h0M554 807h0M549 806h0M552 812h0M568 812h0M559 804h0M564 819h0M547 819h0M563 808h0M566 807h0M549 809h0M556 813h0M560 815h0M556 820h0M555 820h0M560 810h0M545 806h0M563 806h0M550 810h0M568 815h0M560 815h0M552 813h0M549 811h0M554 807h0M564 814h0M553 808h0M556 815h0M549 809h0M550 818h0M548 805h0M559 827h0M565 802h0M575 809h0M572 813h0M565 812h0M558 811h0M540 815h0M560 832h0M573 804h0M568 825h0M541 826h0M566 806h0M543 807h0M559 806h0M556 815h0M561 807h0M561 807h0M552 815h0M558 811h0M568 798h0M558 819h0M562 812h0M561 806h0M552 820h0M555 802h0M559 804h0M560 809h0M566 808h0M576 815h0M550 801h0M559 816h0M554 813h0M559 820h0M552 807h0M546 812h0M553 805h0M556 810h0M559 812h0M553 812h0M559 811h0M566 816h0M573 821h0M554 807h0M549 801h0M563 805h0M548 808h0M564 812h0M573 819h0M561 818h0M559 810h0M569 805h0M555 809h0M564 805h0M557 814h0M561 806h0M546 812h0M552 812h0M565 811h0M551 813h0M557 804h0M534 806h0M555 806h0M573 814h0M556 809h0M558 815h0M557 812h0M540 814h0M550 814h0M553 809h0M568 812h0M557 804h0M559 817h0M556 811h0M557 809h0M563 815h0M557 814h0M571 821h0M570 812h0M554 815h0M558 808h0M557 800h0M561 808h0M563 796h0M543 812h0M557 813h0M567 813h0M562 812h0M561 818h0M573 812h0M555 807h0M559 813h0M553 802h0M576 811h0M564 809h0M566 812h0M574 826h0M559 813h0M557 807h0M560 817h0M558 812h0M567 809h0M557 805h0M567 814h0M567 814h0M567 807h0M552 812h0M553 808h0M558 822h0M562 816h0M548 817h0M553 809h0M546 816h0M573 810h0M561 818h0M544 812h0M561 816h0M556 809h0M549 805h0M553 818h0M562 822h0M563 807h0M564 809h0M559 820h0M567 814h0M568 816h0M574 804h0M555 814h0M546 815h0M550 811h0M552 804h0M559 814h0M568 813h0M565 813h0M546 796h0M551 805h0M562 817h0M569 815h0M560 822h0M557 814h0M573 802h0M562 818h0M570 806h0M550 818h0M562 815h0M552 820h0M557 816h0M562 818h0M561 822h0M566 808h0M564 817h0M568 809h0M544 812h0M557 800h0M560 818h0M561 813h0M564 815h0M550 808h0M558 823h0M553 810h0M559 810h0M566 806h0M568 827h0M570 821h0M574 811h0M571 813h0M543 818h0M551 807h0M546 812h0M581 818h0M557 813h0M551 813h0M542 826h0M560 828h0M552 825h0M564 831h0M576 836h0M560 825h0M562 842h0M555 849h0M553 839h0M559 828h0M560 825h0M565 840h0M564 843h0M568 849h0M564 844h0M557 840h0M569 841h0M567 815h0M565 832h0M569 842h0M566 826h0M557 826h0M566 824h0M571 828h0M580 830h0M575 847h0M566 845h0M570 847h0M570 839h0M563 837h0M566 839h0M572 853h0M562 838h0M563 838h0M560 836h0M558 827h0M561 815h0M570 849h0M570 835h0M552 855h0M565 831h0M566 837h0M563 830h0M558 850h0M561 842h0M555 850h0M557 842h0M572 867h0M560 842h0M574 851h0M575 822h0M561 840h0M557 845h0M559 819h0M564 837h0M560 854h0M558 832h0M561 845h0M577 842h0M566 818h0M568 812h0M563 819h0M550 846h0M562 840h0M565 844h0M561 843h0M570 830h0M564 818h0M561 837h0M565 832h0M564 840h0M570 850h0M560 829h0M562 833h0M568 832h0M562 828h0M568 843h0M547 839h0M573 841h0M567 833h0M569 841h0M563 822h0M562 837h0M570 829h0M556 851h0M563 838h0M567 830h0M569 851h0M547 837h0M554 818h0M566 846h0M565 831h0M558 867h0M559 844h0M560 847h0M552 833h0M558 839h0M568 841h0M563 816h0M575 841h0M562 853h0M553 847h0M565 830h0M557 843h0M554 831h0M558 833h0M570 855h0M565 840h0M567 846h0M571 855h0M563 837h0M563 834h0M554 837h0M557 836h0M565 844h0M554 828h0M561 817h0M559 825h0M559 839h0M567 864h0M559 825h0M568 823h0M559 826h0M570 832h0M561 829h0M554 845h0M578 841h0M569 843h0M569 844h0M563 842h0M566 826h0M566 827h0M562 829h0M555 836h0M546 850h0M570 846h0M559 816h0M563 842h0M566 828h0M570 832h0M561 841h0M562 842h0M564 822h0M563 844h0M563 813h0M562 831h0M569 844h0M573 823h0M564 841h0M566 837h0M571 841h0M576 845h0M566 828h0M561 838h0M558 825h0M564 847h0M556 836h0M566 838h0M556 856h0M567 838h0M568 841h0M551 829h0M552 839h0M563 852h0M568 847h0M567 849h0M569 859h0M547 832h0M562 815h0M555 849h0M575 822h0M567 839h0M555 848h0M557 859h0M559 843h0M551 819h0M561 855h0M561 848h0M564 841h0M561 836h0M558 836h0M563 851h0M575 830h0M569 847h0M562 831h0M556 811h0M558 828h0M565 847h0M563 835h0M566 820h0M557 837h0M561 859h0M561 833h0M563 833h0M561 824h0M567 818h0M564 841h0M556 847h0M559 832h0M563 856h0M559 837h0M575 814h0M565 828h0M572 844h0M568 840h0M564 841h0M575 852h0M559 840h0M567 830h0M561 818h0M559 862h0M567 852h0M559 824h0M571 845h0M554 826h0M564 829h0M557 846h0M552 843h0M562 857h0M561 829h0M567 835h0M565 841h0M555 835h0M566 850h0M565 828h0M562 840h0M557 827h0M571 820h0M565 834h0M560 830h0M554 815h0M561 821h0M574 834h0M570 842h0M565 842h0M563 855h0M570 834h0M556 820h0M568 837h0M575 832h0M564 835h0M568 842h0M567 834h0M573 847h0M568 839h0M572 842h0M550 835h0M553 836h0M566 839h0M560 817h0M562 867h0M563 845h0M570 831h0M561 848h0M564 840h0M552 818h0M569 846h0M568 835h0M562 832h0M564 848h0M562 856h0M562 837h0M554 848h0M571 858h0M564 844h0M560 854h0M562 836h0M561 838h0M568 816h0M567 837h0M566 839h0M560 839h0M567 842h0M558 834h0M561 840h0M573 858h0M570 833h0M564 838h0M568 862h0M554 850h0M567 813h0M560 844h0M564 834h0M561 829h0M550 837h0M557 830h0M559 838h0M562 844h0M561 841h0M565 843h0M559 843h0M568 833h0M557 824h0M568 840h0M569 838h0M559 856h0M565 828h0M566 828h0M574 839h0M568 852h0M559 836h0M568 859h0M566 834h0M557 825h0M569 846h0M568 846h0M562 830h0M554 840h0M558 828h0M566 828h0M569 812h0M567 845h0M566 823h0M559 836h0M558 860h0M561 831h0M560 861h0M558 847h0M567 844h0M576 833h0M564 830h0M554 839h0M550 842h0M566 880h0M556 866h0M550 861h0M558 864h0M560 874h0M556 875h0M572 851h0M569 883h0M563 868h0M559 865h0M558 853h0M575 867h0M575 850h0M570 860h0M548 862h0M549 859h0M569 860h0M566 859h0M570 852h0M546 858h0M567 866h0M560 856h0M554 857h0M564 863h0M559 871h0M566 861h0M555 852h0M551 882h0M574 863h0M562 848h0M566 866h0M572 855h0M549 852h0M565 869h0M542 868h0M557 861h0M571 862h0M572 855h0M562 861h0M561 853h0M565 861h0M553 873h0M570 870h0M553 860h0M562 855h0M548 866h0M560 852h0M560 875h0M572 857h0M542 884h0M555 896h0M570 877h0M556 864h0M550 857h0M578 848h0M560 868h0M558 857h0M550 873h0M516 854h0M520 863h0M527 867h0M523 848h0M526 869h0M519 861h0M542 854h0M531 845h0M520 865h0M527 846h0M524 884h0M514 866h0M537 837h0M524 844h0M522 843h0M537 836h0M533 845h0M511 860h0M498 882h0M537 824h0M514 878h0M531 831h0M513 875h0M528 845h0M513 866h0M535 843h0M534 816h0M504 876h0M535 824h0M517 864h0M537 818h0M533 835h0M538 831h0M515 867h0M549 841h0M523 866h0M537 828h0M529 844h0M528 852h0M516 850h0M521 849h0M527 848h0M534 833h0M531 828h0M510 884h0M521 872h0M515 868h0M536 825h0M531 852h0M518 879h0M524 870h0M527 843h0M546 818h0M538 835h0M514 867h0M509 888h0M527 864h0M543 820h0M526 843h0M516 884h0" stroke="#000" stroke-opacity="0.42" stroke-width="2.0" stroke-linecap="round" fill="none" filter="url(#bp)"/>
<path transform="scale(.5)" d="M498 833h0M605 859h0M474 877h0M556 896h0M528 898h0M507 880h0M538 816h0M562 855h0M580 805h0M579 903h0M604 893h0M485 877h0M566 858h0M561 785h0M589 825h0M533 849h0M541 824h0M544 877h0M574 812h0M484 856h0M570 798h0M538 785h0M583 857h0M524 817h0M558 793h0M504 826h0M526 810h0M549 791h0M512 844h0M484 804h0" stroke="#000" stroke-opacity="0.2" stroke-width="2.0" stroke-linecap="round" fill="none" filter="url(#bp)"/>
<path d="M272.8 403 275 400.9 286.5 400.6 289.2 402.4 288.6 407.5 286.5 410.5 284.5 413.5 280.5 414 278.5 411 275.5 409 273.2 407Z" fill="#000" fill-opacity="1.0" filter="url(#b1)"/>
<path d="M270 383.4V455.4M235.1 421.2H307.4" stroke="#7a7a7a" stroke-width="1.1" fill="none"/>
<text x="306.2" y="390.4" font-size="6.3" text-anchor="end" fill="#222" stroke="#222" stroke-width="0.22">81.5</text>
<text x="236.9" y="454.4" font-size="6.3" fill="#222" stroke="#222" stroke-width="0.22">5.81</text>
<text x="306.4" y="454.4" font-size="6.3" text-anchor="end" fill="#222" stroke="#222" stroke-width="0.22">9.93</text>
<text x="228.9" y="456.8" font-size="4.3" text-anchor="middle" fill="#333" stroke="#333" stroke-width="0.15">10<tspan font-size="2.9" dy="-1.7">0</tspan></text>
<text x="228.9" y="438.8" font-size="4.3" text-anchor="middle" fill="#333" stroke="#333" stroke-width="0.15">10<tspan font-size="2.9" dy="-1.7">1</tspan></text>
<text x="228.9" y="420.8" font-size="4.3" text-anchor="middle" fill="#333" stroke="#333" stroke-width="0.15">10<tspan font-size="2.9" dy="-1.7">2</tspan></text>
<text x="228.9" y="402.8" font-size="4.3" text-anchor="middle" fill="#333" stroke="#333" stroke-width="0.15">10<tspan font-size="2.9" dy="-1.7">3</tspan></text>
<text x="228.9" y="384.8" font-size="4.3" text-anchor="middle" fill="#333" stroke="#333" stroke-width="0.15">10<tspan font-size="2.9" dy="-1.7">4</tspan></text>
<rect x="330.1" y="383.4" width="72.3" height="72" fill="none" stroke="#a0a0a0" stroke-width="0.9"/>
<path d="M330.1 383.4V455.4H402.4" stroke="#666" stroke-width="1.1" fill="none"/>
<path d="M330.1 450h-1M335.5 455.4v1M330.1 446.8h-1M338.7 455.4v1M330.1 444.6h-1M341 455.4v1M330.1 442.8h-1M342.7 455.4v1M330.1 441.4h-1M344.2 455.4v1M330.1 440.2h-1M345.4 455.4v1M330.1 439.1h-1M346.4 455.4v1M330.1 438.2h-1M347.3 455.4v1M330.1 432h-1M353.6 455.4v1M330.1 428.8h-1M356.8 455.4v1M330.1 426.6h-1M359.1 455.4v1M330.1 424.8h-1M360.8 455.4v1M330.1 423.4h-1M362.2 455.4v1M330.1 422.2h-1M363.5 455.4v1M330.1 421.1h-1M364.5 455.4v1M330.1 420.2h-1M365.4 455.4v1M330.1 414h-1M371.7 455.4v1M330.1 410.8h-1M374.9 455.4v1M330.1 408.6h-1M377.1 455.4v1M330.1 406.8h-1M378.9 455.4v1M330.1 405.4h-1M380.3 455.4v1M330.1 404.2h-1M381.5 455.4v1M330.1 403.1h-1M382.6 455.4v1M330.1 402.2h-1M383.5 455.4v1M330.1 396h-1M389.8 455.4v1M330.1 392.8h-1M392.9 455.4v1M330.1 390.6h-1M395.2 455.4v1M330.1 388.8h-1M397 455.4v1M330.1 387.4h-1M398.4 455.4v1M330.1 386.2h-1M399.6 455.4v1M330.1 385.1h-1M400.6 455.4v1M330.1 384.2h-1M401.6 455.4v1M330.1 455.4h-1.8M330.1 455.4v1.8M330.1 437.4h-1.8M348.2 455.4v1.8M330.1 419.4h-1.8M366.2 455.4v1.8M330.1 401.4h-1.8M384.3 455.4v1.8M330.1 383.4h-1.8M402.4 455.4v1.8" stroke="#777" stroke-width="0.5" fill="none"/>
<path transform="scale(.5)" d="M717 887h0M707 860h0M697 874h0M713 879h0M689 894h0M711 892h0M692 854h0M719 863h0M694 898h0M671 880h0M714 868h0M728 870h0M702 893h0M743 895h0M697 881h0M703 874h0M701 877h0M694 865h0M710 873h0M700 878h0M718 872h0M706 887h0M735 891h0M711 862h0M695 865h0M699 871h0M704 869h0M707 886h0M695 857h0M686 872h0M714 860h0M702 895h0M712 890h0M711 867h0M697 868h0M674 841h0M691 874h0M683 884h0M684 880h0M706 849h0M707 863h0M672 899h0M715 874h0M666 855h0M702 856h0M731 841h0M686 881h0M714 869h0M710 873h0M710 882h0M697 868h0M693 874h0M700 856h0M679 876h0M719 862h0M715 878h0M672 906h0M686 867h0M700 864h0M691 869h0M714 867h0M676 868h0M700 865h0M681 878h0M680 895h0M724 890h0M708 882h0M700 845h0M681 900h0M702 881h0M731 853h0M679 855h0M700 868h0M709 875h0M690 851h0M712 877h0M705 889h0M717 895h0M717 907h0M692 872h0M690 896h0M687 892h0M719 873h0M708 866h0M705 876h0M705 874h0M701 881h0M688 867h0M705 868h0M682 877h0M717 878h0M704 878h0M684 898h0M677 849h0M720 866h0M691 851h0M709 877h0M671 889h0M721 852h0M711 870h0M718 879h0M707 890h0M693 893h0M690 862h0M735 894h0M697 898h0M663 866h0M670 884h0M690 873h0M708 852h0M730 892h0M689 885h0M720 863h0M716 893h0M691 893h0M691 856h0M711 896h0M695 908h0M730 876h0M685 860h0M707 845h0M719 863h0M672 852h0M716 886h0M686 879h0M699 856h0M705 857h0M682 890h0M692 872h0M716 889h0M686 891h0M691 887h0M704 855h0M707 891h0M692 888h0M706 843h0M685 885h0M703 886h0M686 904h0M698 884h0M707 866h0M715 896h0M706 868h0M682 871h0M690 862h0M696 888h0M684 894h0M729 871h0M710 877h0M717 884h0M710 905h0M722 888h0M665 863h0M704 878h0M685 889h0M684 879h0M701 879h0M732 869h0M698 875h0M698 891h0M704 858h0M699 852h0M690 851h0M685 879h0M718 879h0M706 902h0M718 864h0M699 878h0M690 885h0M671 864h0M681 899h0M707 848h0M691 859h0M727 856h0M721 895h0M712 867h0M735 855h0M696 891h0M691 877h0M703 888h0M683 869h0M713 853h0M709 867h0M697 876h0M699 846h0M715 873h0M728 870h0M738 904h0M680 895h0M681 887h0M696 857h0M697 866h0M708 869h0M695 882h0M710 828h0M702 859h0M668 889h0M687 854h0M702 871h0M711 853h0M682 891h0M667 896h0M713 884h0M706 887h0M694 859h0M685 883h0M714 867h0M681 891h0M687 864h0M728 891h0M722 890h0M690 868h0M695 893h0M692 867h0M704 884h0M715 871h0M742 851h0M697 878h0M727 900h0M679 868h0M677 871h0M695 880h0M704 873h0M707 881h0M713 866h0M737 870h0M710 872h0M669 879h0M713 891h0M695 878h0M705 856h0M706 881h0M700 863h0M702 866h0M666 869h0M672 895h0M675 897h0M682 861h0M689 875h0M714 878h0M685 892h0M666 873h0M710 883h0M677 874h0M705 863h0M719 891h0M683 864h0M723 869h0M691 884h0M662 887h0M706 888h0M734 893h0M700 863h0M675 839h0M701 904h0M688 871h0M716 880h0M718 855h0M719 881h0M684 901h0M697 894h0M722 867h0M677 833h0M696 855h0M676 874h0M713 853h0M706 867h0M714 866h0M695 882h0M703 887h0" stroke="#000" stroke-opacity="0.32" stroke-width="2.0" stroke-linecap="round" fill="none" filter="url(#bp)"/>
<path transform="scale(.5)" d="M762 817h0M765 805h0M754 821h0M753 803h0M752 814h0M749 811h0M756 807h0M746 808h0M765 805h0M743 821h0M752 797h0M762 811h0M753 804h0M746 802h0M761 815h0M741 805h0M749 808h0M754 816h0M761 818h0M747 811h0M763 811h0M750 817h0M748 810h0M756 814h0M751 807h0M756 814h0M750 807h0M756 809h0M756 811h0M758 813h0M749 816h0M756 812h0M746 810h0M768 808h0M766 817h0M756 805h0M760 816h0M765 810h0M758 804h0M750 816h0M752 807h0M763 825h0M754 801h0M762 810h0M754 819h0M753 812h0M764 819h0M755 818h0M771 810h0M742 814h0M767 817h0M738 813h0M749 807h0M746 816h0M763 813h0M776 815h0M753 803h0M738 810h0M755 809h0M742 808h0M755 808h0M752 806h0M743 818h0M746 810h0M758 805h0M753 813h0M753 808h0M757 806h0M756 816h0M764 809h0M756 814h0M746 821h0M749 815h0M766 807h0M759 810h0M755 817h0M763 808h0M752 813h0M752 814h0M757 808h0M753 812h0M764 802h0M750 808h0M760 812h0M767 809h0M753 811h0M755 815h0M757 807h0M744 811h0M755 827h0M754 806h0M756 808h0M744 810h0M759 803h0M758 804h0M760 810h0M748 809h0M761 817h0M752 814h0M749 808h0M756 802h0M773 808h0M753 812h0M768 802h0M744 806h0M759 816h0M756 811h0M774 809h0M748 815h0M758 811h0M753 815h0M746 810h0M756 809h0M755 804h0M755 809h0M756 814h0M763 808h0M743 808h0M756 794h0M766 812h0M757 809h0M747 807h0M761 812h0M745 815h0M769 811h0M758 807h0M749 809h0M760 799h0M746 809h0M760 813h0M754 809h0M750 813h0M763 815h0M754 810h0M760 812h0M759 805h0M749 818h0M765 809h0M757 816h0M748 817h0M748 807h0M746 808h0M753 813h0M749 805h0M751 816h0M761 806h0M730 819h0M742 808h0M756 810h0M760 814h0M757 800h0M757 805h0M752 804h0M750 800h0M757 807h0M749 805h0M767 811h0M751 807h0M738 814h0M753 823h0M760 814h0M754 813h0M753 816h0M760 803h0M757 813h0M755 800h0M742 816h0M757 821h0M756 815h0M753 812h0M761 800h0M744 811h0M754 822h0M770 804h0M758 803h0M755 804h0M750 815h0M747 817h0M750 805h0M754 805h0M760 817h0M764 813h0M767 813h0M749 810h0M753 807h0M753 806h0M742 808h0M744 820h0M743 817h0M751 809h0M755 811h0M739 820h0M748 806h0M755 811h0M751 807h0M754 805h0M769 811h0M746 809h0M754 821h0M742 816h0M758 816h0M771 813h0M753 814h0M748 810h0M755 806h0M765 813h0M746 795h0M753 811h0M755 818h0M770 813h0M762 804h0M762 813h0M734 817h0M754 813h0M744 812h0M749 807h0M760 805h0M765 813h0M764 808h0M739 812h0M754 810h0M735 813h0M760 805h0M747 801h0M746 814h0M759 811h0M755 810h0M758 811h0M759 805h0M767 809h0M739 806h0M732 812h0M767 807h0M748 810h0M755 813h0M755 812h0M764 803h0M759 817h0M766 811h0M751 806h0M758 820h0M739 806h0M759 818h0M750 800h0M757 805h0M754 821h0M748 813h0M767 804h0M758 816h0M753 812h0M745 806h0M754 813h0M770 814h0M764 804h0M745 816h0M761 813h0M751 818h0M755 809h0M743 807h0M763 809h0M762 815h0M753 804h0M745 796h0M757 801h0M762 807h0M748 815h0M747 806h0M744 813h0M758 802h0M744 814h0M760 811h0M753 815h0M767 808h0M750 810h0M752 806h0M753 802h0M749 812h0M754 812h0M754 805h0M743 807h0M755 813h0M761 810h0M756 818h0M753 808h0M740 821h0M768 800h0M762 814h0M768 810h0M752 811h0M755 813h0M759 818h0M760 826h0M753 816h0M762 807h0M749 804h0M754 807h0M752 806h0M750 811h0M758 809h0M768 825h0M756 814h0M761 811h0M749 811h0M767 812h0M759 802h0M763 811h0M758 797h0M763 813h0M747 808h0M762 806h0M743 806h0M736 815h0M753 806h0M763 809h0M750 811h0M750 818h0M748 808h0M748 811h0M761 811h0M737 813h0M749 801h0M753 815h0M758 813h0M770 812h0M753 811h0M749 811h0M749 807h0M752 816h0M757 808h0M755 817h0M760 803h0M762 811h0M755 812h0M757 798h0M758 810h0M754 799h0M759 807h0M758 802h0M763 809h0M756 811h0M764 805h0M757 814h0M759 806h0M739 808h0M745 815h0M741 811h0M755 804h0M757 812h0M750 815h0M754 803h0M754 801h0M752 803h0M761 813h0M757 805h0M763 807h0M758 815h0M772 807h0M754 813h0M766 814h0M748 808h0M760 811h0M748 810h0M755 813h0M764 812h0M749 810h0M745 808h0M770 807h0M745 805h0M761 808h0M750 814h0M768 812h0M754 815h0M752 810h0M756 812h0M762 814h0M739 808h0M764 812h0M761 814h0M749 814h0M748 804h0M748 804h0M773 819h0M753 815h0M764 802h0M758 800h0M759 810h0M763 807h0M749 814h0M751 806h0M756 811h0M750 819h0M756 808h0M757 810h0M748 813h0M743 811h0M756 805h0M751 805h0M752 809h0M744 814h0M738 809h0M761 800h0M760 812h0M763 810h0M759 814h0M764 807h0M758 796h0M746 817h0M746 813h0M747 806h0M754 810h0M743 815h0M758 809h0M746 812h0M760 814h0M752 807h0M755 815h0M751 805h0M756 822h0M751 799h0M753 808h0M763 812h0M750 810h0M755 808h0M746 817h0M752 802h0M771 815h0M747 804h0M754 816h0M762 804h0M753 815h0M745 811h0M756 798h0M754 805h0M754 811h0M752 803h0M762 819h0M742 805h0M760 815h0M748 806h0M756 804h0M753 800h0M748 805h0M763 805h0M755 810h0M749 807h0M754 808h0M749 806h0M750 811h0M746 805h0M759 807h0M754 822h0M750 800h0M766 798h0M754 800h0M755 809h0M747 814h0M750 813h0M760 815h0M747 799h0M760 806h0M757 814h0M753 804h0M761 812h0M763 808h0M749 810h0M753 813h0M746 818h0M751 813h0M758 807h0M759 808h0M756 814h0M763 804h0M757 819h0M759 812h0M749 807h0M768 808h0M776 808h0M756 822h0M762 805h0M757 815h0M757 812h0M775 805h0M763 817h0M757 808h0M757 812h0M758 805h0M749 812h0M747 821h0M766 806h0M744 795h0M751 799h0M759 811h0M757 815h0M759 815h0M751 810h0M762 809h0M760 812h0M745 804h0M757 806h0M764 814h0M754 811h0M766 809h0M755 804h0M762 809h0M756 819h0M756 819h0M758 805h0M764 807h0M744 808h0M763 807h0M753 811h0M755 805h0M757 819h0M751 800h0M752 808h0M757 806h0M760 801h0M768 808h0M763 814h0M763 819h0M771 813h0M766 808h0M770 818h0M767 810h0M758 815h0M758 813h0M754 815h0M752 817h0M761 802h0M760 802h0M749 806h0M748 816h0M751 811h0M762 812h0M762 819h0M752 805h0M761 808h0M744 821h0M754 804h0M762 807h0M760 808h0M757 806h0M753 815h0M740 802h0M758 821h0M754 811h0M749 806h0M753 803h0M766 804h0M751 804h0M759 811h0M756 854h0M753 865h0M761 863h0M761 820h0M761 831h0M756 828h0M756 832h0M759 844h0M759 844h0M760 841h0M764 828h0M753 833h0M757 811h0M762 849h0M759 828h0M756 856h0M761 857h0M762 831h0M764 860h0M757 843h0M756 827h0M757 836h0M761 837h0M754 838h0M761 849h0M762 833h0M750 847h0M758 850h0M756 851h0M761 807h0M757 824h0M761 873h0M756 844h0M760 820h0M751 833h0M769 826h0M758 852h0M760 835h0M764 849h0M754 852h0M759 841h0M756 848h0M757 844h0M753 839h0M754 830h0M759 844h0M760 810h0M759 820h0M758 822h0M764 829h0M757 829h0M760 848h0M760 823h0M761 814h0M753 853h0M759 812h0M755 818h0M759 835h0M754 831h0M765 853h0M754 831h0M759 834h0M759 834h0M759 840h0M761 845h0M756 818h0M758 849h0M746 849h0M763 837h0M753 834h0M766 850h0M750 866h0M753 835h0M762 814h0M749 855h0M760 844h0M763 837h0M762 861h0M758 840h0M757 822h0M759 849h0M763 845h0M764 855h0M760 855h0M762 825h0M765 851h0M753 860h0M766 843h0M763 791h0M768 840h0M767 833h0M759 850h0M762 843h0M754 863h0M758 819h0M743 850h0M751 843h0M751 811h0M755 830h0M752 845h0M752 831h0M761 841h0M759 850h0M757 827h0M754 822h0M751 834h0M761 856h0M770 852h0M761 839h0M756 826h0M752 848h0M752 859h0M747 830h0M759 846h0M753 816h0M755 805h0M750 828h0M754 845h0M758 832h0M772 832h0M750 834h0M756 844h0M759 836h0M761 857h0M760 859h0M754 829h0M761 843h0M757 827h0M757 838h0M754 840h0M755 843h0M761 844h0M761 821h0M769 848h0M762 821h0M758 832h0M767 820h0M754 823h0M764 821h0M753 846h0M757 819h0M756 857h0M755 830h0M759 842h0M764 855h0M756 829h0M760 837h0M750 830h0M758 818h0M753 824h0M755 834h0M756 813h0M764 858h0M763 820h0M770 845h0M753 847h0M758 842h0M753 846h0M761 832h0M760 826h0M756 847h0M769 855h0M760 836h0M761 811h0M760 810h0M757 832h0M759 857h0M758 828h0M757 827h0M755 853h0M760 827h0M770 853h0M758 831h0M750 836h0M748 805h0M751 831h0M753 842h0M756 831h0M756 830h0M752 828h0M760 875h0M767 838h0M761 850h0M747 823h0M751 855h0M751 831h0M767 835h0M764 831h0M760 843h0M746 834h0M766 834h0M750 860h0M769 836h0M762 862h0M755 817h0M769 841h0M753 811h0M753 825h0M767 835h0M761 860h0M756 867h0M759 851h0M758 840h0M752 842h0M760 840h0M754 830h0M774 824h0M757 846h0M758 835h0M758 838h0M768 832h0M759 857h0M753 856h0M756 837h0M744 851h0M760 842h0M755 845h0M767 825h0M754 873h0M762 847h0M757 839h0M757 823h0M756 845h0M762 835h0M753 824h0M765 817h0M755 830h0M753 844h0M767 850h0M760 840h0M756 849h0M750 840h0M756 839h0M767 849h0M761 853h0M763 848h0M761 818h0M761 839h0M764 837h0M755 829h0M750 850h0M763 827h0M756 829h0M760 819h0M758 844h0M757 859h0M760 842h0M766 844h0M768 840h0M754 835h0M764 812h0M766 825h0M755 837h0M753 839h0M751 834h0M760 867h0M760 848h0M758 848h0M755 848h0M749 851h0M756 851h0M762 844h0M751 842h0M752 826h0M759 844h0M763 848h0M751 848h0M756 821h0M764 846h0M757 853h0M756 851h0M762 823h0M770 821h0M760 841h0M750 818h0M763 832h0M756 859h0M751 821h0M752 829h0M757 838h0M761 846h0M755 849h0M755 833h0M746 831h0M760 847h0M759 854h0M760 850h0M756 843h0M762 855h0M760 858h0M763 840h0M763 848h0M761 844h0M763 833h0M752 831h0M758 822h0M760 846h0M760 843h0M758 845h0M755 820h0M759 827h0M751 850h0M758 834h0M751 859h0M759 851h0M752 848h0M755 846h0M765 826h0M760 843h0M750 807h0M753 827h0M762 851h0M752 850h0M762 839h0M755 832h0M764 839h0M759 859h0M752 832h0M757 858h0M759 832h0M756 866h0M758 848h0M768 847h0M751 860h0M745 835h0M750 842h0M751 832h0M762 827h0M761 868h0M768 801h0M752 834h0M751 850h0M755 835h0M756 833h0M767 855h0M756 828h0M758 844h0M761 848h0M758 838h0M758 846h0M765 794h0M754 856h0M762 843h0M755 833h0M760 850h0M753 849h0M753 861h0M759 832h0M748 830h0M762 838h0M746 858h0M767 861h0M761 862h0M758 841h0M762 835h0M754 829h0M761 822h0M761 841h0M757 833h0M757 854h0M763 826h0M759 837h0M758 856h0M763 838h0M757 829h0M756 817h0M759 807h0M760 831h0M754 843h0M766 859h0M754 829h0M757 821h0M751 832h0M763 837h0M761 823h0M763 811h0M753 838h0M755 847h0M761 858h0M760 804h0M759 843h0M752 834h0M766 846h0M751 847h0M755 841h0M757 845h0M761 839h0M761 845h0M754 840h0M762 839h0M756 841h0M756 825h0M762 848h0M758 848h0M775 832h0M763 818h0M754 852h0M761 840h0M755 831h0M759 868h0M762 860h0M759 868h0M760 878h0M765 863h0M751 868h0M766 873h0M755 870h0M757 863h0M756 869h0M762 867h0M762 870h0M750 874h0M749 858h0M750 891h0M747 877h0M760 860h0M760 873h0M751 875h0M754 877h0M754 869h0M748 867h0M758 865h0M762 873h0M754 893h0M754 849h0M761 863h0M748 869h0M756 867h0M768 872h0M761 878h0M747 866h0M753 862h0M761 882h0M755 859h0M763 852h0M753 880h0M754 879h0M754 868h0M759 886h0M754 877h0M756 877h0M737 879h0M753 886h0M743 868h0M760 854h0M756 861h0M750 889h0M752 878h0M761 850h0M752 867h0M749 866h0M752 863h0M760 882h0M754 882h0M755 867h0M741 859h0M754 872h0M756 870h0M762 887h0M723 820h0M717 863h0M701 873h0M714 863h0M708 852h0M712 884h0M709 844h0M738 832h0M710 857h0M707 874h0M710 850h0M732 830h0M717 849h0M719 843h0M722 838h0M717 858h0M718 855h0M715 851h0M725 828h0M712 854h0M719 837h0M732 828h0M731 818h0M720 850h0M717 841h0M710 858h0M716 834h0M699 861h0M722 826h0M731 844h0M713 860h0M707 865h0M720 841h0M698 856h0M713 864h0M718 851h0M741 831h0M703 864h0M721 829h0M722 841h0M726 837h0M716 823h0M717 863h0M718 829h0M711 848h0M707 876h0M701 861h0M713 857h0M716 832h0M720 830h0M706 876h0M705 846h0M715 839h0M710 873h0M709 852h0M722 836h0M724 823h0M721 854h0M717 843h0M722 838h0M723 848h0M735 827h0M711 857h0M733 829h0M710 852h0M730 839h0M725 839h0M723 836h0M702 867h0M711 865h0" stroke="#000" stroke-opacity="0.42" stroke-width="2.0" stroke-linecap="round" fill="none" filter="url(#bp)"/>
<path transform="scale(.5)" d="M802 882h0M773 857h0M786 848h0M695 813h0M678 873h0M751 856h0M685 907h0M690 800h0M662 865h0M759 895h0M790 803h0M768 785h0M751 797h0M710 833h0M680 782h0M780 817h0M665 804h0M762 865h0M697 826h0M745 861h0M786 870h0M736 843h0M764 816h0M708 902h0M791 786h0M717 847h0M774 909h0M781 830h0M718 861h0M724 803h0" stroke="#000" stroke-opacity="0.2" stroke-width="2.0" stroke-linecap="round" fill="none" filter="url(#bp)"/>
<path d="M370.8 403.5 373.5 400.4 383 400.2 386.3 402.5 386 407 383.5 409.8 381.5 412.5 378 412.8 376.5 410.5 372 408.5 370.8 406.5Z" fill="#000" fill-opacity="1.0" filter="url(#b1)"/>
<path d="M364.6 383.4V455.4M330.1 421.2H402.4" stroke="#7a7a7a" stroke-width="1.1" fill="none"/>
<text x="401.2" y="390.4" font-size="6.3" text-anchor="end" fill="#222" stroke="#222" stroke-width="0.22">68.6</text>
<text x="331.9" y="454.4" font-size="6.3" fill="#222" stroke="#222" stroke-width="0.22">17.4</text>
<text x="401.4" y="454.4" font-size="6.3" text-anchor="end" fill="#222" stroke="#222" stroke-width="0.22">10.5</text>
<text x="323.9" y="456.8" font-size="4.3" text-anchor="middle" fill="#333" stroke="#333" stroke-width="0.15">10<tspan font-size="2.9" dy="-1.7">0</tspan></text>
<text x="323.9" y="438.8" font-size="4.3" text-anchor="middle" fill="#333" stroke="#333" stroke-width="0.15">10<tspan font-size="2.9" dy="-1.7">1</tspan></text>
<text x="323.9" y="420.8" font-size="4.3" text-anchor="middle" fill="#333" stroke="#333" stroke-width="0.15">10<tspan font-size="2.9" dy="-1.7">2</tspan></text>
<text x="323.9" y="402.8" font-size="4.3" text-anchor="middle" fill="#333" stroke="#333" stroke-width="0.15">10<tspan font-size="2.9" dy="-1.7">3</tspan></text>
<text x="323.9" y="384.8" font-size="4.3" text-anchor="middle" fill="#333" stroke="#333" stroke-width="0.15">10<tspan font-size="2.9" dy="-1.7">4</tspan></text>
<rect x="424.8" y="383.4" width="72.3" height="72" fill="none" stroke="#a0a0a0" stroke-width="0.9"/>
<path d="M424.8 383.4V455.4H497.1" stroke="#666" stroke-width="1.1" fill="none"/>
<path d="M424.8 450h-1M430.2 455.4v1M424.8 446.8h-1M433.4 455.4v1M424.8 444.6h-1M435.7 455.4v1M424.8 442.8h-1M437.4 455.4v1M424.8 441.4h-1M438.9 455.4v1M424.8 440.2h-1M440.1 455.4v1M424.8 439.1h-1M441.1 455.4v1M424.8 438.2h-1M442 455.4v1M424.8 432h-1M448.3 455.4v1M424.8 428.8h-1M451.5 455.4v1M424.8 426.6h-1M453.8 455.4v1M424.8 424.8h-1M455.5 455.4v1M424.8 423.4h-1M456.9 455.4v1M424.8 422.2h-1M458.2 455.4v1M424.8 421.1h-1M459.2 455.4v1M424.8 420.2h-1M460.1 455.4v1M424.8 414h-1M466.4 455.4v1M424.8 410.8h-1M469.6 455.4v1M424.8 408.6h-1M471.8 455.4v1M424.8 406.8h-1M473.6 455.4v1M424.8 405.4h-1M475 455.4v1M424.8 404.2h-1M476.2 455.4v1M424.8 403.1h-1M477.3 455.4v1M424.8 402.2h-1M478.2 455.4v1M424.8 396h-1M484.5 455.4v1M424.8 392.8h-1M487.6 455.4v1M424.8 390.6h-1M489.9 455.4v1M424.8 388.8h-1M491.7 455.4v1M424.8 387.4h-1M493.1 455.4v1M424.8 386.2h-1M494.3 455.4v1M424.8 385.1h-1M495.3 455.4v1M424.8 384.2h-1M496.3 455.4v1M424.8 455.4h-1.8M424.8 455.4v1.8M424.8 437.4h-1.8M442.9 455.4v1.8M424.8 419.4h-1.8M460.9 455.4v1.8M424.8 401.4h-1.8M479 455.4v1.8M424.8 383.4h-1.8M497.1 455.4v1.8" stroke="#777" stroke-width="0.5" fill="none"/>
<path transform="scale(.5)" d="M879 878h0M933 888h0M884 908h0M913 896h0M880 872h0M885 881h0M873 864h0M886 849h0M886 876h0M872 900h0M878 885h0M886 886h0M880 881h0M924 886h0M882 871h0M907 900h0M905 901h0M902 861h0M894 880h0M915 871h0M874 884h0M894 869h0M863 870h0M946 870h0M883 865h0M922 898h0M897 903h0M890 886h0M903 848h0M908 859h0M876 869h0M869 871h0M889 876h0M880 871h0M870 878h0M880 893h0M897 877h0M908 901h0M879 866h0M887 893h0M913 876h0M873 860h0M887 874h0M866 894h0M892 863h0M902 861h0M863 877h0M915 899h0M903 875h0M873 888h0M885 892h0M854 879h0M907 877h0M932 888h0" stroke="#000" stroke-opacity="0.32" stroke-width="2.0" stroke-linecap="round" fill="none" filter="url(#bp)"/>
<path transform="scale(.5)" d="M930 812h0M945 820h0M938 816h0M945 821h0M949 811h0M949 821h0M947 820h0M948 811h0M948 821h0M943 815h0M940 813h0M956 795h0M940 810h0M937 809h0M954 810h0M939 807h0M926 815h0M944 807h0M959 805h0M943 811h0M940 812h0M945 823h0M941 819h0M928 809h0M945 822h0M946 804h0M939 809h0M938 817h0M940 807h0M960 814h0M950 814h0M947 803h0M940 815h0M955 825h0M948 826h0M946 804h0M952 825h0M944 811h0M942 808h0M946 819h0M939 815h0M938 812h0M948 816h0M946 811h0M944 807h0M959 812h0M962 812h0M948 807h0M947 818h0M949 814h0M927 803h0M940 813h0M949 813h0M939 811h0M931 809h0M950 805h0M947 809h0M943 811h0M942 809h0M954 819h0M956 801h0M953 823h0M948 803h0M941 817h0M943 802h0M945 815h0M934 806h0M936 819h0M940 806h0M939 818h0M949 822h0M949 813h0M940 812h0M948 819h0M942 804h0M942 814h0M940 816h0M943 812h0M941 805h0M940 814h0M958 814h0M940 827h0M950 810h0M940 817h0M934 805h0M945 811h0M951 810h0M942 814h0M949 812h0M945 807h0M947 818h0M930 815h0M947 814h0M951 807h0M950 820h0M946 818h0M947 804h0M950 814h0M951 808h0M937 814h0M953 813h0M947 816h0M938 809h0M934 808h0M934 806h0M940 801h0M948 806h0M949 813h0M936 812h0M942 795h0M947 795h0M944 820h0M959 814h0M949 813h0M947 814h0M954 807h0M946 815h0M940 810h0M950 806h0M953 817h0M945 820h0M945 822h0M932 817h0M951 824h0M941 802h0M952 815h0M954 817h0M956 819h0M944 812h0M947 824h0M952 807h0M951 819h0M937 825h0M946 820h0M949 822h0M954 808h0M946 811h0M939 813h0M946 809h0M940 813h0M940 805h0M931 825h0M958 816h0M946 822h0M943 816h0M945 811h0M954 809h0M942 824h0M929 807h0M945 806h0M944 807h0M940 804h0M945 804h0M936 815h0M940 819h0M953 811h0M951 811h0M951 810h0M945 822h0M945 823h0M952 804h0M944 817h0M953 801h0M940 812h0M932 815h0M931 820h0M934 824h0M944 809h0M948 804h0M944 823h0M930 810h0M946 816h0M957 810h0M937 815h0M946 812h0M947 811h0M954 811h0M964 820h0M962 815h0M943 807h0M943 805h0M952 810h0M947 808h0M943 821h0M945 817h0M950 829h0M935 822h0M953 815h0M955 802h0M944 808h0M935 808h0M930 808h0M935 815h0M952 817h0M939 815h0M938 810h0M957 814h0M941 826h0M956 813h0M936 812h0M943 806h0M934 807h0M949 820h0M946 820h0M938 812h0M951 817h0M934 810h0M950 813h0M941 817h0M952 801h0M949 827h0M956 820h0M944 808h0M941 812h0M945 816h0M953 807h0M931 809h0M937 819h0M948 813h0M943 822h0M945 812h0M932 806h0M933 809h0M943 808h0M943 821h0M950 810h0M939 817h0M940 814h0M951 814h0M947 815h0M940 800h0M940 817h0M936 806h0M958 815h0M937 811h0M943 814h0M942 815h0M938 818h0M941 807h0M957 806h0M939 805h0M924 806h0M950 809h0M943 800h0M947 816h0M935 815h0M937 814h0M946 807h0M936 816h0M948 805h0M929 818h0M937 817h0M935 810h0M951 814h0M931 816h0M938 811h0M943 816h0M954 808h0M949 804h0M939 810h0M941 823h0M946 814h0M945 809h0M948 815h0M945 814h0M952 815h0M934 812h0M948 821h0M941 806h0M946 808h0M934 811h0M938 809h0M960 807h0M944 824h0M934 820h0M939 814h0M935 818h0M941 822h0M948 820h0M946 809h0M951 805h0M943 810h0M951 816h0M936 820h0M942 811h0M944 809h0M943 819h0M950 813h0M940 813h0M945 810h0M948 817h0M948 820h0M951 809h0M945 822h0M946 819h0M945 810h0M945 822h0M956 820h0M945 819h0M944 812h0M953 811h0M943 809h0M935 799h0M932 812h0M942 811h0M942 824h0M945 806h0M937 817h0M945 814h0M955 814h0M937 804h0M943 814h0M934 810h0M934 805h0M948 808h0M948 805h0M944 815h0M941 825h0M949 799h0M948 810h0M942 810h0M956 807h0M963 799h0M936 812h0M942 811h0M943 813h0M950 804h0M945 808h0M938 808h0M942 809h0M957 818h0M937 813h0M952 805h0M947 809h0M945 823h0M940 809h0M938 810h0M950 818h0M934 809h0M943 818h0M944 808h0M938 821h0M938 808h0M941 812h0M936 813h0M933 826h0M942 802h0M948 797h0M952 818h0M953 801h0M938 805h0M951 802h0M936 816h0M936 809h0M947 814h0M952 813h0M949 804h0M945 807h0M932 817h0M947 808h0M942 807h0M940 820h0M949 810h0M948 824h0M947 813h0M943 804h0M945 810h0M950 810h0M943 813h0M929 820h0M948 811h0M946 822h0M949 810h0M955 813h0M953 809h0M942 815h0M945 807h0M937 820h0M948 796h0M946 819h0M949 814h0M946 812h0M948 816h0M940 813h0M944 811h0M943 806h0M934 813h0M940 809h0M940 811h0M937 818h0M943 806h0M947 808h0M941 812h0M947 821h0M940 813h0M945 820h0M946 812h0M943 820h0M941 805h0M935 809h0M934 814h0M941 809h0M943 805h0M946 791h0M944 821h0M953 806h0M940 809h0M956 810h0M939 814h0M943 801h0M951 819h0M942 812h0M957 811h0M945 814h0M938 809h0M947 818h0M928 815h0M939 806h0M944 805h0M951 816h0M937 805h0M942 804h0M949 821h0M935 798h0M948 821h0M935 823h0M946 801h0M947 814h0M940 822h0M960 809h0M946 812h0M946 812h0M930 807h0M938 807h0M937 798h0M952 806h0M943 809h0M953 813h0M943 801h0M928 818h0M944 808h0M940 820h0M941 814h0M939 813h0M946 819h0M938 820h0M942 814h0M953 800h0M943 813h0M943 811h0M936 815h0M954 814h0M944 809h0M926 813h0M940 804h0M930 815h0M937 813h0M938 804h0M938 820h0M935 807h0M946 813h0M934 804h0M942 816h0M950 809h0M946 812h0M946 808h0M937 821h0M957 807h0M950 797h0M939 809h0M936 814h0M951 819h0M955 803h0M945 800h0M944 801h0M938 815h0M933 811h0M941 810h0M952 806h0M950 812h0M963 814h0M937 815h0M964 815h0M939 797h0M943 812h0M951 796h0M938 820h0M949 811h0M937 816h0M971 803h0M962 812h0M947 799h0M944 811h0M940 810h0M952 813h0M949 810h0M944 809h0M929 814h0M952 818h0M961 796h0M934 815h0M950 812h0M930 810h0M926 809h0M941 818h0M944 808h0M928 817h0M939 820h0M938 811h0M939 817h0M946 809h0M941 815h0M957 804h0M946 813h0M951 807h0M951 805h0M950 806h0M943 809h0M941 816h0M949 804h0M939 817h0M943 815h0M947 812h0M947 820h0M945 824h0M941 818h0M931 813h0M945 816h0M944 818h0M948 823h0M923 822h0M946 815h0M941 806h0M950 813h0M938 820h0M944 803h0M924 815h0M953 814h0M948 810h0M949 814h0M954 803h0M949 813h0M951 803h0M940 813h0M945 818h0M941 819h0M951 807h0M946 812h0M937 824h0M952 806h0M939 815h0M942 801h0M939 822h0M942 817h0M935 810h0M932 812h0M939 801h0M951 802h0M944 814h0M959 802h0M944 811h0M951 816h0M944 819h0M941 812h0M949 820h0M943 808h0M950 811h0M957 808h0M949 813h0M945 808h0M941 811h0M944 800h0M934 805h0M938 803h0M939 809h0M935 819h0M947 818h0M946 813h0M933 812h0M950 809h0M950 819h0M959 810h0M947 813h0M957 805h0M926 815h0M942 816h0M943 818h0M948 816h0M940 820h0M944 816h0M955 814h0M945 820h0M958 809h0M921 814h0M946 805h0M942 819h0M936 819h0M932 809h0M940 805h0M936 819h0M948 819h0M941 816h0M946 803h0M939 813h0M944 813h0M941 820h0M938 801h0M950 820h0M934 820h0M943 814h0M935 806h0M959 811h0M941 822h0M944 811h0M950 813h0M935 817h0M951 820h0M939 811h0M952 814h0M945 808h0M939 803h0M946 812h0M931 815h0M950 810h0M934 815h0M943 806h0M939 810h0M939 809h0M935 817h0M950 805h0M948 802h0M944 819h0M934 817h0M938 818h0M952 829h0M944 818h0M946 806h0M959 808h0M946 815h0M935 815h0M944 812h0M948 819h0M942 816h0M942 817h0M936 804h0M934 821h0M932 811h0M944 810h0M941 811h0M954 809h0M942 847h0M937 857h0M950 842h0M946 834h0M937 812h0M937 840h0M943 828h0M957 857h0M942 857h0M942 850h0M949 834h0M954 834h0M956 845h0M948 819h0M940 849h0M946 843h0M949 837h0M946 851h0M939 864h0M940 839h0M950 852h0M944 835h0M955 805h0M951 871h0M954 836h0M949 839h0M944 836h0M948 861h0M944 833h0M947 837h0M946 842h0M955 864h0M951 823h0M947 825h0M950 836h0M947 842h0M944 844h0M940 849h0M948 857h0M947 867h0M947 852h0M940 855h0M936 831h0M941 853h0M949 835h0M934 863h0M941 853h0M948 840h0M941 865h0M944 845h0M933 861h0M937 833h0M948 828h0M941 829h0M946 844h0M948 870h0M941 839h0M942 850h0M948 845h0M947 854h0M941 811h0M931 842h0M947 846h0M942 836h0M939 855h0M948 825h0M950 844h0M944 848h0M941 848h0M943 831h0M941 833h0M939 827h0M939 858h0M943 844h0M936 823h0M932 864h0M933 858h0M935 841h0M935 849h0M947 825h0M945 811h0M944 836h0M939 835h0M951 834h0M948 844h0M945 840h0M938 821h0M946 863h0M943 858h0M956 832h0M949 845h0M942 833h0M937 858h0M954 848h0M940 841h0M943 813h0M945 828h0M945 850h0M935 820h0M942 815h0M945 860h0M939 842h0M943 859h0M941 818h0M943 819h0M949 830h0M953 837h0M956 846h0M947 804h0M943 858h0M960 819h0M943 852h0M950 855h0M945 851h0M939 863h0M942 842h0M938 854h0M955 851h0M956 851h0M945 835h0M949 824h0M947 849h0M946 858h0M945 823h0M931 842h0M946 863h0M945 842h0M954 833h0M946 832h0M950 836h0M939 856h0M938 855h0M950 821h0M957 834h0M951 833h0M951 850h0M944 839h0M953 879h0M939 830h0M949 829h0M943 842h0M944 850h0M941 844h0M944 840h0M950 848h0M944 846h0M935 868h0M938 842h0M946 839h0M934 839h0M947 831h0M946 860h0M937 851h0M943 856h0M938 833h0M947 824h0M933 853h0M939 847h0M948 845h0M936 810h0M958 837h0M946 838h0M943 825h0M946 825h0M942 824h0M947 841h0M951 842h0M938 826h0M947 843h0M950 837h0M942 861h0M934 827h0M941 846h0M941 834h0M942 835h0M949 838h0M948 854h0M934 828h0M946 846h0M937 864h0M945 862h0M947 848h0M940 840h0M943 837h0M958 818h0M942 834h0M943 846h0M941 822h0M950 868h0M943 858h0M944 822h0M943 836h0M937 832h0M946 861h0M947 830h0M939 836h0M943 841h0M947 828h0M943 828h0M940 846h0M939 839h0M945 839h0M936 806h0M947 846h0M939 865h0M947 829h0M944 863h0M946 842h0M950 842h0M943 842h0M942 853h0M936 836h0M939 870h0M952 856h0M951 861h0M953 849h0M946 842h0M947 835h0M934 847h0M945 854h0M942 839h0M954 810h0M945 829h0M946 845h0M947 844h0M943 835h0M948 830h0M939 836h0M942 853h0M946 833h0M942 830h0M935 862h0M946 855h0M940 820h0M940 863h0M944 824h0M941 820h0M932 825h0M944 843h0M935 842h0M944 844h0M942 865h0M941 829h0M944 835h0M943 852h0M937 850h0M944 843h0M946 842h0M940 852h0M942 850h0M946 857h0M941 853h0M955 839h0M956 872h0M946 862h0M951 843h0M945 845h0M949 840h0M945 820h0M943 848h0M945 830h0M948 845h0M939 853h0M947 855h0M949 832h0M942 836h0M939 849h0M937 865h0M950 844h0M938 843h0M945 845h0M942 826h0M939 835h0M947 843h0M945 854h0M941 841h0M948 836h0M934 859h0M943 851h0M950 855h0M943 859h0M947 830h0M941 838h0M944 845h0M942 843h0M946 851h0M942 832h0M948 830h0M941 815h0M943 858h0M935 845h0M939 842h0M948 841h0M946 860h0M953 863h0M948 864h0M942 842h0M927 825h0M929 846h0M944 852h0M939 843h0M947 846h0M949 853h0M945 853h0M946 822h0M945 844h0M952 839h0M941 853h0M948 815h0M945 833h0M944 843h0M950 843h0M951 842h0M943 838h0M954 869h0M938 853h0M948 850h0M930 826h0M941 860h0M938 862h0M947 836h0M945 833h0M951 860h0M943 851h0M943 850h0M948 853h0M944 851h0M946 858h0M945 839h0M953 856h0M959 838h0M949 815h0M944 815h0M940 820h0M943 829h0M946 798h0M935 858h0M949 837h0M948 828h0M944 839h0M944 840h0M952 836h0M946 867h0M949 851h0M947 866h0M943 863h0M941 845h0M940 864h0M936 837h0M942 848h0M947 824h0M959 817h0M942 856h0M952 826h0M945 825h0M954 822h0M935 839h0M934 833h0M944 841h0M945 830h0M943 863h0M940 802h0M938 829h0M947 854h0M952 848h0M948 850h0M950 838h0M944 839h0M944 844h0M947 832h0M958 841h0M936 847h0M955 856h0M944 832h0M946 854h0M943 848h0M945 828h0M942 849h0M941 843h0M948 834h0M948 858h0M930 849h0M950 865h0M934 868h0M941 836h0M941 848h0M943 821h0M934 835h0M948 861h0M943 848h0M945 818h0M945 840h0M944 846h0M941 852h0M937 865h0M944 811h0M952 844h0M949 846h0M936 853h0M943 813h0M945 881h0M949 865h0M940 879h0M943 859h0M944 867h0M931 885h0M949 884h0M947 891h0M940 872h0M947 868h0M951 857h0M947 882h0M933 859h0M933 886h0M940 874h0M939 861h0M945 868h0M941 873h0M940 864h0M939 861h0M930 860h0M951 874h0M942 851h0M940 869h0M935 865h0M943 855h0M938 863h0M941 870h0M947 872h0M933 873h0M947 886h0M940 871h0M929 876h0M945 857h0M935 878h0M946 886h0M947 853h0M944 867h0M948 873h0M946 876h0M944 884h0M948 869h0M946 865h0M941 874h0M947 864h0M939 872h0M951 863h0M931 859h0M945 860h0M946 876h0M938 858h0M938 870h0M942 867h0M947 878h0M945 867h0M944 865h0M947 863h0M948 881h0M934 870h0M955 883h0M900 865h0M914 830h0M924 824h0M907 861h0M907 854h0M903 856h0M897 860h0M915 852h0M912 847h0M909 860h0M915 853h0M906 846h0M906 860h0M916 845h0M917 819h0M909 834h0M903 857h0M902 858h0M904 862h0M898 875h0M904 859h0M899 858h0M920 829h0M913 848h0M894 873h0M919 837h0M905 840h0M897 858h0M898 843h0M894 862h0M905 870h0M893 872h0M898 859h0M915 849h0M919 842h0M916 831h0M910 852h0M915 850h0M917 839h0M912 841h0M918 831h0M900 881h0M909 829h0M894 873h0M914 833h0M894 876h0M914 836h0M906 829h0M896 869h0M915 834h0" stroke="#000" stroke-opacity="0.42" stroke-width="2.0" stroke-linecap="round" fill="none" filter="url(#bp)"/>
<path transform="scale(.5)" d="M958 796h0M928 789h0M870 843h0M947 879h0M913 849h0M976 873h0M992 865h0M914 772h0M866 804h0M974 900h0M872 820h0M885 776h0M992 882h0M973 907h0M927 893h0M867 867h0M886 878h0M923 813h0M974 820h0M933 802h0M941 854h0M891 843h0M968 790h0M974 874h0M946 808h0M872 845h0M898 888h0M931 784h0M930 873h0M916 834h0" stroke="#000" stroke-opacity="0.2" stroke-width="2.0" stroke-linecap="round" fill="none" filter="url(#bp)"/>
<path d="M465.8 403 468 400.3 478 400.1 480.4 402.5 480.2 408 478 411.2 476 413.5 472.5 414 470.5 411.5 467 409.5 465.8 407Z" fill="#000" fill-opacity="1.0" filter="url(#b1)"/>
<path d="M460.5 383.4V455.4M424.8 421.2H497.1" stroke="#7a7a7a" stroke-width="1.1" fill="none"/>
<text x="495.9" y="390.4" font-size="6.3" text-anchor="end" fill="#222" stroke="#222" stroke-width="0.22">83.8</text>
<text x="426.6" y="454.4" font-size="6.3" fill="#222" stroke="#222" stroke-width="0.22">1.71</text>
<text x="496.1" y="454.4" font-size="6.3" text-anchor="end" fill="#222" stroke="#222" stroke-width="0.22">11.3</text>
<text x="418.6" y="456.8" font-size="4.3" text-anchor="middle" fill="#333" stroke="#333" stroke-width="0.15">10<tspan font-size="2.9" dy="-1.7">0</tspan></text>
<text x="418.6" y="438.8" font-size="4.3" text-anchor="middle" fill="#333" stroke="#333" stroke-width="0.15">10<tspan font-size="2.9" dy="-1.7">1</tspan></text>
<text x="418.6" y="420.8" font-size="4.3" text-anchor="middle" fill="#333" stroke="#333" stroke-width="0.15">10<tspan font-size="2.9" dy="-1.7">2</tspan></text>
<text x="418.6" y="402.8" font-size="4.3" text-anchor="middle" fill="#333" stroke="#333" stroke-width="0.15">10<tspan font-size="2.9" dy="-1.7">3</tspan></text>
<text x="418.6" y="384.8" font-size="4.3" text-anchor="middle" fill="#333" stroke="#333" stroke-width="0.15">10<tspan font-size="2.9" dy="-1.7">4</tspan></text>
<rect x="45.4" y="466.4" width="72.3" height="72" fill="none" stroke="#a0a0a0" stroke-width="0.9"/>
<path d="M45.4 466.4V538.4H117.7" stroke="#666" stroke-width="1.1" fill="none"/>
<path d="M45.4 533h-1M50.8 538.4v1M45.4 529.8h-1M54 538.4v1M45.4 527.6h-1M56.3 538.4v1M45.4 525.8h-1M58 538.4v1M45.4 524.4h-1M59.5 538.4v1M45.4 523.2h-1M60.7 538.4v1M45.4 522.1h-1M61.7 538.4v1M45.4 521.2h-1M62.6 538.4v1M45.4 515h-1M68.9 538.4v1M45.4 511.8h-1M72.1 538.4v1M45.4 509.6h-1M74.4 538.4v1M45.4 507.8h-1M76.1 538.4v1M45.4 506.4h-1M77.5 538.4v1M45.4 505.2h-1M78.8 538.4v1M45.4 504.1h-1M79.8 538.4v1M45.4 503.2h-1M80.7 538.4v1M45.4 497h-1M87 538.4v1M45.4 493.8h-1M90.2 538.4v1M45.4 491.6h-1M92.4 538.4v1M45.4 489.8h-1M94.2 538.4v1M45.4 488.4h-1M95.6 538.4v1M45.4 487.2h-1M96.8 538.4v1M45.4 486.1h-1M97.9 538.4v1M45.4 485.2h-1M98.8 538.4v1M45.4 479h-1M105.1 538.4v1M45.4 475.8h-1M108.2 538.4v1M45.4 473.6h-1M110.5 538.4v1M45.4 471.8h-1M112.3 538.4v1M45.4 470.4h-1M113.7 538.4v1M45.4 469.2h-1M114.9 538.4v1M45.4 468.1h-1M115.9 538.4v1M45.4 467.2h-1M116.9 538.4v1M45.4 538.4h-1.8M45.4 538.4v1.8M45.4 520.4h-1.8M63.5 538.4v1.8M45.4 502.4h-1.8M81.5 538.4v1.8M45.4 484.4h-1.8M99.6 538.4v1.8M45.4 466.4h-1.8M117.7 538.4v1.8" stroke="#777" stroke-width="0.5" fill="none"/>
<path transform="scale(.5)" d="M148 1014h0M155 1051h0M128 1035h0M144 1051h0M136 1038h0M118 1025h0M136 1039h0M114 1031h0M113 1046h0M150 1034h0M139 999h0M154 1046h0M141 1045h0M121 1034h0M146 1030h0M137 1053h0M129 1027h0M117 1029h0M136 1041h0M113 1037h0M135 1020h0M142 1029h0M122 1039h0M127 1020h0M110 1019h0M145 1031h0M110 1041h0M123 1026h0M142 1046h0M124 1051h0M151 1043h0M97 1045h0M95 1033h0M98 1050h0M133 1009h0M110 1002h0M126 1041h0M133 1021h0M127 1030h0M135 1030h0M134 1034h0M139 1034h0M119 1056h0M147 1036h0M107 1043h0M113 1027h0M127 1034h0M137 1024h0M109 1026h0M147 1031h0M135 1015h0M131 1046h0M126 1057h0M132 1037h0M139 1039h0M128 1039h0M111 1047h0M128 1052h0M127 1030h0M115 1046h0M133 1059h0M107 1046h0M140 1015h0M135 1063h0M125 1055h0M123 1035h0M165 1023h0M113 1006h0M103 1025h0M148 1058h0M122 1039h0M106 1031h0M140 1034h0M143 1030h0M148 1016h0M127 1030h0M146 1051h0M136 1051h0M143 1042h0M133 1029h0M128 1018h0M160 1039h0M141 1044h0M114 1037h0M133 1002h0M115 1051h0M141 1046h0M129 1049h0M132 1027h0M141 1037h0M151 1038h0M116 1042h0M151 1054h0M164 1033h0M137 1034h0M124 999h0M113 1047h0M142 1066h0M139 1006h0M153 1041h0M130 1038h0M114 1032h0M138 1052h0M126 1034h0M161 1010h0M120 1055h0M120 1067h0M119 1028h0M146 1046h0M138 1059h0M149 1032h0M124 1035h0M121 1022h0M144 1051h0M145 1024h0M146 1042h0M133 1034h0M115 1024h0M137 1043h0M125 1039h0M143 1018h0M153 1033h0M148 1040h0M142 1022h0M138 1054h0M139 1026h0M130 1032h0M124 1041h0M122 1011h0M109 1057h0M183 1045h0M151 1022h0M96 1034h0M154 1041h0M146 1055h0M128 1013h0M120 1050h0M132 1029h0M150 1043h0M138 1031h0M142 1043h0M126 1050h0M134 1051h0M109 1041h0M127 1032h0M146 1025h0M123 1023h0M148 1031h0M124 1019h0M148 1044h0M146 1028h0M121 1040h0M130 1030h0M127 1035h0M114 1034h0M144 1031h0M94 1033h0M115 1052h0M120 1039h0M141 1057h0M139 1058h0M146 1023h0M120 1071h0M146 1027h0M117 1045h0M108 1037h0M113 1032h0M128 1016h0M126 1041h0M135 1041h0M136 1024h0M138 1045h0M128 1039h0M125 1024h0M110 1050h0M124 1020h0M133 1023h0M114 1020h0M151 1018h0M119 1016h0M145 1042h0M116 1037h0M142 1014h0M122 1018h0M96 1034h0M137 1035h0M136 1044h0M160 1036h0M148 1029h0M103 1042h0M125 1030h0M111 1031h0M145 1026h0M129 1023h0M136 1037h0M158 1013h0M145 1024h0M139 1041h0M130 1040h0M118 1044h0M109 1028h0M119 1027h0M155 1036h0M168 1047h0M138 1033h0M128 1032h0M125 1028h0M124 1059h0M128 1012h0M133 1018h0M123 1047h0M139 1029h0M134 1017h0M107 1040h0M124 1045h0M155 1027h0M146 1010h0M116 1016h0M117 1031h0M123 1040h0M104 1039h0M120 1036h0M129 1041h0M157 1028h0M145 1025h0M147 1063h0M124 1024h0M120 1019h0M112 1024h0M124 1015h0M105 1034h0M140 1040h0M129 1036h0M115 1024h0M110 1033h0M113 1025h0M142 1019h0M127 1022h0M130 1037h0M120 1039h0M114 1024h0M143 1031h0M148 1038h0M146 1018h0M144 1039h0M138 1031h0M137 1033h0M112 1032h0M115 1060h0M126 1030h0M125 1024h0M151 1031h0M130 1031h0M132 1012h0M140 1037h0M123 1027h0M116 1015h0M134 1041h0M140 1029h0M137 1024h0M131 1052h0M135 1032h0M135 1019h0M119 1054h0M139 1035h0M116 1044h0M131 1014h0M135 1004h0M135 1045h0M132 1050h0M136 1041h0M127 1027h0M103 1039h0M117 1050h0M121 1023h0M123 1022h0M146 1072h0M148 1033h0M122 1014h0M121 1026h0M126 1037h0M143 1029h0M112 1044h0M108 1030h0M125 1045h0M141 1021h0M120 1024h0M136 1038h0M140 1021h0M94 1032h0M140 1024h0M163 1043h0M128 1027h0M105 1015h0M151 1034h0M133 1009h0M101 1027h0M101 1060h0M138 1009h0M114 1041h0M144 1046h0M126 1024h0M136 1024h0M134 1023h0M109 1041h0M136 1019h0M108 1023h0M143 1021h0M143 1032h0M130 1040h0M109 1029h0M146 1031h0M137 1048h0M121 1038h0M138 1051h0M134 1037h0M143 1030h0M144 1050h0M128 1025h0M138 1055h0M136 1027h0M129 1038h0M118 1016h0M115 1039h0M120 1037h0M112 1034h0M138 1030h0M129 1040h0M139 1054h0M108 1034h0M128 1039h0M118 1023h0M148 1035h0M104 1054h0M136 1019h0M97 1032h0M127 1018h0M127 1034h0M105 1023h0M107 1001h0M116 1035h0M113 1011h0M134 1032h0M159 1027h0M139 1040h0M142 1025h0M118 1024h0M115 1053h0M141 1045h0M134 1052h0M143 1033h0M123 1030h0M126 1028h0M135 1023h0M139 1025h0M117 1034h0M130 1054h0M139 1033h0M156 1026h0M117 1045h0M149 1038h0M116 1038h0M108 1052h0M96 1041h0M129 1028h0M135 1003h0M139 1052h0M129 1005h0M136 1029h0M116 1022h0M134 1021h0M129 1034h0M129 1041h0M153 1053h0M113 1063h0M123 1042h0M107 1029h0M133 1030h0M114 1039h0M110 1038h0M117 1035h0M161 1008h0M123 1028h0M120 1050h0M142 1043h0M137 1031h0M129 1032h0M127 1048h0M138 1030h0M155 1023h0M128 1035h0M131 1055h0M152 1049h0M96 1042h0M140 1052h0M104 1041h0M131 1027h0M141 1014h0M112 1043h0M134 1037h0M92 1049h0M149 1035h0M159 1053h0M146 1043h0M133 1046h0M117 1032h0M139 1023h0M109 1024h0M167 1053h0M157 1033h0M154 1015h0M108 1048h0M122 1043h0M126 1064h0M126 1036h0M127 1031h0M149 1030h0M128 1054h0M135 1018h0M158 1015h0M158 1051h0M138 1053h0M126 1051h0M124 1040h0M100 1051h0M114 1062h0M123 1064h0M144 1046h0M125 1036h0M144 1025h0M108 1031h0M144 1061h0M141 1031h0M105 1032h0M109 1008h0M122 1040h0M137 1026h0M155 1029h0M137 1026h0M129 1048h0M125 1028h0M116 1033h0M134 1039h0M105 1046h0M141 1054h0M142 1033h0M125 1048h0M124 1028h0M132 1003h0M123 1017h0M147 1029h0M145 1036h0M123 1040h0M126 1046h0M123 1038h0M116 1029h0M144 1037h0M150 1051h0M145 1023h0M122 1016h0M138 1024h0M131 1022h0M142 1029h0M125 1001h0M119 1059h0M133 1012h0M127 1034h0M117 1034h0M140 1064h0M152 1044h0M115 1053h0M139 1032h0M107 1046h0M120 1048h0M154 1045h0M133 1025h0M120 1046h0M116 1034h0M126 1012h0M145 1035h0M128 1035h0M120 1061h0M106 1061h0M134 1050h0M125 1030h0M138 1030h0M118 1056h0M138 1020h0M137 1035h0M112 1019h0M126 1055h0M127 1035h0M135 1020h0M147 1046h0M182 1051h0M126 1046h0M126 1026h0M95 1027h0M99 1007h0M120 1026h0M158 1033h0M102 1043h0M133 1055h0M141 1030h0M118 1049h0M130 1055h0M122 1034h0M135 1027h0M136 1041h0M144 1033h0M132 1056h0M133 1019h0M126 1046h0M148 1066h0M148 1031h0M153 1039h0M145 1035h0M122 1036h0M146 1036h0M121 1029h0M97 1032h0M136 1035h0M140 1036h0M115 1037h0M119 1036h0M140 1004h0M122 1043h0M129 1004h0M143 1032h0M105 1043h0M115 1034h0M127 1027h0M135 1049h0M134 1031h0M117 1017h0M127 1040h0M138 1033h0M138 1037h0M117 1013h0M145 1028h0M118 1019h0M111 1039h0M151 1043h0M137 1056h0M159 1062h0M132 1037h0M137 1025h0M150 1033h0M140 1029h0M137 1012h0M146 1023h0M101 1043h0M131 1029h0M141 1059h0M119 1034h0M129 1033h0M130 1026h0M154 1047h0M113 1052h0M170 1035h0M132 1032h0M142 1046h0M105 1047h0M108 1029h0M148 1059h0M132 1023h0M127 1021h0M124 1028h0M115 1051h0M127 1028h0M103 1045h0M116 1039h0M112 1038h0M135 1024h0M124 1059h0M124 1008h0M106 1035h0M104 1022h0M98 1039h0M152 1006h0M138 1052h0M105 1071h0M108 1056h0M118 1052h0M132 1033h0M116 1026h0M116 1051h0M123 1050h0M118 1023h0M129 1031h0M149 1036h0M141 1056h0M122 1029h0M120 1021h0M150 1032h0M109 1038h0M131 1034h0M123 1042h0M118 1017h0M125 1022h0M110 1047h0M171 1067h0M122 1049h0M110 1019h0M139 1050h0M145 1046h0M117 1054h0M124 1051h0M124 1021h0M174 1043h0M141 1039h0M139 1028h0M132 1032h0M125 1057h0M125 1024h0M124 1053h0M121 1028h0M114 1047h0M111 1031h0M111 1047h0M123 1033h0M147 1022h0M141 1054h0M148 1022h0M128 1040h0M160 1044h0M152 1016h0M143 1048h0M131 1042h0M151 1064h0M128 1037h0M130 1029h0M161 1031h0M162 1039h0M129 1035h0M122 1009h0M133 1043h0M156 1021h0M154 1041h0M132 1051h0M145 1030h0M116 1033h0M131 1034h0M144 1034h0M134 1035h0M138 1051h0M138 1030h0M141 1028h0M147 1030h0M110 1019h0M154 1031h0M126 1028h0M109 1024h0M133 1049h0M129 1045h0M115 1045h0M111 1040h0M120 1036h0M122 1030h0M119 1030h0M125 1014h0M148 1024h0M141 1031h0M114 1024h0M122 1055h0M120 1046h0M117 1023h0M150 1046h0M114 1053h0M120 1044h0M117 1042h0M143 1056h0M129 1030h0M112 1028h0M140 1020h0M130 1028h0M107 1024h0M126 1035h0M162 1016h0M124 1031h0M129 1019h0M133 1023h0M138 1024h0M141 1010h0M127 1031h0M142 1045h0M103 1029h0M110 1038h0M105 1037h0M105 1043h0M138 1022h0M127 1028h0M122 1036h0M109 1047h0M155 1020h0M117 1026h0M147 1041h0M115 1030h0M106 1041h0M111 1056h0M124 1031h0M107 1032h0M132 1039h0M114 1044h0M111 1022h0M126 1059h0M107 1033h0M113 1041h0M145 1038h0M153 1040h0M112 1028h0M143 1031h0M124 1028h0M167 1048h0M107 1014h0M137 1004h0M138 1031h0M139 1050h0M117 1040h0M130 1039h0M96 1013h0M138 1024h0M144 1031h0M159 1022h0M132 1059h0M123 1048h0M115 1028h0M111 1034h0M126 1049h0M156 1049h0M150 1039h0M113 1032h0M144 1039h0M144 1057h0M134 1019h0M131 1032h0M100 1035h0M114 1044h0M137 1047h0M138 1021h0M149 1057h0M115 1051h0M154 1003h0M128 1041h0M128 1055h0M144 1034h0M134 1041h0M118 1032h0M143 1045h0M117 1042h0M147 1038h0M127 1040h0M144 1045h0M115 1033h0M136 1038h0M135 1038h0M133 1043h0M143 1022h0M123 1018h0M137 1049h0M137 1039h0M126 1039h0M132 1039h0M131 1032h0M145 1057h0M139 1029h0M95 1027h0M144 1017h0M130 1053h0M138 1037h0M133 1039h0M149 1032h0M108 1041h0M138 1032h0M154 1043h0M150 1008h0M132 1046h0M161 1007h0M124 1030h0M129 1030h0M141 1036h0M145 1051h0M112 1025h0M148 1045h0M129 1039h0M129 1051h0M99 1047h0M124 1047h0M123 1023h0M156 1042h0M130 1031h0M143 1036h0M131 1043h0M125 1049h0M102 1043h0M122 1031h0M143 1030h0M142 1048h0M142 1034h0M136 1038h0M129 1020h0M106 1031h0M159 1036h0M124 1035h0M145 1046h0M102 1035h0M106 1026h0M106 1011h0M104 1050h0M129 1044h0M124 1032h0M112 1057h0M136 1015h0M133 1047h0M104 1024h0M99 1031h0M121 1031h0M110 1026h0M122 1032h0M100 1049h0M172 1033h0M134 1049h0M116 1043h0M134 1028h0M143 1031h0M137 1026h0M149 1052h0M133 1049h0M130 1057h0M124 1036h0M132 1027h0M142 1026h0M110 1026h0M171 1049h0M128 1011h0M122 1044h0M136 1053h0M129 1035h0M122 1014h0M144 1053h0M166 1043h0M95 1056h0M119 1043h0M159 1036h0M151 1039h0M127 1037h0M125 1023h0M104 1038h0M135 1025h0M133 1034h0M139 1039h0M124 1041h0M127 1043h0M155 1034h0M118 1022h0M143 1027h0M157 1031h0M150 1040h0M121 1035h0M119 1008h0M100 1026h0M147 1030h0M147 1041h0M133 1052h0M120 1026h0M122 1033h0M121 1021h0M135 1025h0M123 1042h0M126 1044h0M116 1026h0M151 1047h0M123 1028h0M131 1026h0M145 1045h0M116 1024h0M121 1031h0M119 1032h0M120 1036h0M122 1033h0M153 1045h0M151 1044h0M117 1035h0M112 1032h0M148 1027h0M127 1033h0M133 1052h0M139 1038h0M164 1053h0M114 1051h0M102 1066h0M156 1044h0M116 1029h0M147 1041h0M113 1037h0M135 1060h0M132 1027h0M132 1010h0M148 1029h0M168 1036h0M137 1028h0M116 1033h0M141 1055h0M140 1034h0M109 1022h0M120 1064h0M118 1018h0M123 1023h0M107 1025h0M144 1049h0M157 1023h0M112 1045h0M121 1036h0M140 1053h0M129 1036h0M138 1051h0M120 1032h0M115 1025h0" stroke="#000" stroke-opacity="0.32" stroke-width="2.0" stroke-linecap="round" fill="none" filter="url(#bp)"/>
<path transform="scale(.5)" d="M195 967h0M199 969h0M193 972h0M190 971h0M200 972h0M197 972h0M191 970h0M196 974h0M198 968h0M189 964h0M192 975h0M194 965h0M194 976h0M197 967h0M196 970h0M193 969h0M186 977h0M193 969h0M193 963h0M192 967h0M190 971h0M196 963h0M192 968h0M196 964h0M197 969h0M192 967h0M188 969h0M194 970h0M190 967h0M197 964h0M189 967h0M193 969h0M190 969h0M193 970h0M200 970h0M191 971h0M195 968h0M191 965h0M191 968h0M189 969h0M197 969h0M191 970h0M194 970h0M198 963h0M194 970h0M189 974h0M195 970h0M191 972h0M189 964h0M192 969h0M189 969h0M197 969h0M200 965h0M194 969h0M192 966h0M198 965h0M193 973h0M189 968h0M192 971h0M191 972h0M194 961h0M198 968h0M195 972h0M197 968h0M190 967h0M186 961h0M197 970h0M198 964h0M194 966h0M192 974h0M197 962h0M194 969h0M189 971h0M183 966h0M184 973h0M187 967h0M196 970h0M201 964h0M194 970h0M192 969h0M192 969h0M188 967h0M206 971h0M194 968h0M202 969h0M191 966h0M187 976h0M191 969h0M200 968h0M185 966h0M191 968h0M196 975h0M196 967h0M193 968h0M190 968h0M189 974h0M198 974h0M191 971h0M191 968h0M188 971h0M186 973h0M194 968h0M201 967h0M197 970h0M181 973h0M191 969h0M188 963h0M199 963h0M185 965h0M196 966h0M194 975h0M188 969h0M186 967h0M192 974h0M195 965h0M199 972h0M193 966h0M189 973h0M189 971h0M183 964h0M195 969h0M200 970h0M190 969h0M187 971h0M196 968h0M191 968h0M196 962h0M193 966h0M188 968h0M191 972h0M198 970h0M187 974h0M195 972h0M192 970h0M200 967h0M198 975h0M190 969h0M192 974h0M189 964h0M191 972h0M185 972h0M198 964h0M198 965h0M183 968h0M194 966h0M191 972h0M194 962h0M193 972h0M189 970h0M192 969h0M189 966h0M193 975h0M201 972h0M189 972h0M191 962h0M188 973h0M193 966h0M191 967h0M197 973h0M207 971h0M199 962h0M200 969h0M193 970h0M197 961h0M195 969h0M191 971h0M192 971h0M186 971h0M188 974h0M195 973h0M192 964h0M191 963h0M189 963h0M184 965h0M195 968h0M196 971h0M193 971h0M196 968h0M194 971h0M199 967h0M196 985h0M190 985h0M184 1000h0M186 994h0M192 1007h0M200 999h0M198 985h0M187 983h0M192 993h0M179 1001h0M192 985h0M191 999h0M189 973h0M193 968h0M193 975h0M205 1014h0M189 991h0M194 978h0M195 1006h0M200 989h0M197 989h0M196 985h0M194 991h0M185 988h0M194 980h0M209 984h0M195 968h0M198 1000h0M201 982h0M190 1015h0M197 989h0M196 981h0M200 982h0M198 995h0M194 987h0M197 973h0M193 1005h0M188 983h0M188 1003h0M191 980h0M191 1005h0M197 974h0M187 991h0M193 1013h0M192 993h0M189 1004h0M194 1008h0M197 979h0M194 984h0M200 993h0M206 988h0M186 983h0M191 989h0M196 995h0M190 984h0M185 997h0M197 972h0M186 992h0M191 1005h0M199 977h0M198 978h0M195 982h0M196 1004h0M186 991h0M198 990h0M184 998h0M181 995h0M205 990h0M201 1024h0M193 988h0M186 991h0M193 986h0M186 998h0M187 970h0M198 987h0M192 989h0M187 1014h0M196 970h0M189 983h0M191 968h0M198 1001h0M192 983h0M197 1008h0M192 996h0M189 985h0M184 981h0M194 995h0M194 986h0M192 983h0M202 994h0M186 992h0M195 991h0M196 980h0M194 997h0M197 1002h0M188 986h0M199 996h0M186 992h0M198 988h0M185 985h0M198 1004h0M196 983h0M196 987h0M192 975h0M201 982h0M186 965h0M185 1003h0M189 984h0M188 985h0M186 995h0M194 987h0M193 995h0M195 997h0M189 975h0M196 992h0M193 983h0M199 1006h0M196 974h0M199 979h0M194 999h0M188 987h0M191 1002h0M197 999h0M197 991h0M179 1012h0M193 983h0M196 975h0M198 990h0M183 1002h0M196 1010h0M198 995h0M196 997h0M183 1014h0M193 982h0M197 990h0M193 981h0M191 975h0M175 1000h0M200 987h0M210 992h0M200 1000h0M181 981h0M175 1005h0M190 1011h0M195 959h0M192 989h0M184 991h0M191 995h0M186 1005h0M192 985h0M192 974h0M194 1002h0M190 990h0M180 993h0M189 976h0M197 980h0M201 1003h0M193 1021h0M193 979h0M198 998h0M185 1012h0M186 1010h0M189 996h0M188 993h0M193 1007h0M201 992h0M198 979h0M201 990h0M192 992h0M192 978h0M185 967h0M201 973h0M185 962h0M201 994h0M183 996h0M191 986h0M197 985h0M200 985h0M189 990h0M189 980h0M191 988h0M187 987h0M190 973h0M192 973h0M194 998h0M184 961h0M190 970h0M191 981h0M190 982h0M188 975h0M187 987h0M194 991h0M199 1006h0M194 983h0M188 979h0M194 1008h0M186 986h0M197 1003h0M188 1016h0M205 1007h0M203 1000h0M188 987h0M197 990h0M202 995h0M185 982h0M207 995h0M190 992h0M188 998h0M187 992h0M199 977h0M187 1003h0M194 1009h0M193 999h0M190 979h0M193 996h0M191 979h0M194 983h0M195 981h0M182 993h0M198 986h0M193 992h0M194 981h0M186 996h0M193 1023h0M188 979h0M200 994h0M199 1008h0M190 1004h0M191 985h0M205 1005h0M167 1018h0M187 993h0M185 1008h0M188 1029h0M174 1037h0M178 1025h0M187 1021h0M176 1022h0M184 1040h0M188 1028h0M190 1025h0M183 1009h0M177 1010h0M195 1017h0M184 1033h0M186 1025h0M177 1022h0M185 1009h0M189 1024h0M183 1043h0M184 1014h0M174 1013h0M173 1021h0M184 1023h0M173 1027h0M186 1014h0M183 1026h0M173 1015h0M190 1020h0M194 1026h0M181 1015h0M172 1007h0M190 1008h0M176 1023h0M190 1040h0M181 1022h0M182 1033h0M184 1034h0M187 1029h0M193 1022h0M169 1021h0M178 1012h0M184 1009h0M180 1022h0M178 1007h0M178 1005h0M181 1024h0M176 1029h0M174 1021h0M196 1009h0M168 1044h0M179 1037h0M176 1013h0M180 1015h0M172 1020h0M182 1034h0M175 1019h0M193 1016h0M171 1034h0M191 1020h0M188 1033h0M186 1021h0M185 1011h0M180 1031h0M192 1023h0M179 1033h0M167 1013h0M178 1024h0M170 1027h0M169 1022h0M190 1024h0M189 1026h0M171 1025h0M190 1028h0M185 1018h0M188 1036h0M183 1026h0M194 1028h0M189 1027h0M184 1011h0M176 1019h0M178 1018h0M180 1020h0M174 1026h0M182 1035h0M179 1029h0M186 1027h0M185 1010h0M177 1023h0M185 1035h0M173 1016h0M192 1020h0M184 1034h0M174 1026h0M189 1030h0M174 1013h0M186 1027h0M180 1025h0M177 994h0M177 1034h0M189 1023h0M175 1027h0M181 1016h0M180 1025h0M180 1030h0M185 1027h0M184 1015h0M183 1023h0M181 1037h0M192 1014h0M185 1029h0M182 1030h0M181 1022h0M182 1034h0M177 1013h0M192 1019h0M189 1010h0M196 1042h0M197 1015h0M180 1017h0M195 1021h0M187 1022h0M166 1023h0M188 1008h0M153 1003h0M176 1022h0M185 1022h0M191 1015h0M179 1040h0M182 1012h0M183 1004h0M174 1023h0M178 1036h0M185 1012h0M195 1013h0M172 1017h0M177 1017h0M185 1014h0M185 1016h0M185 1024h0M183 1025h0M156 1034h0M177 1022h0M170 1023h0M185 1017h0M175 1030h0M166 1028h0M188 1037h0M192 1033h0M196 1028h0M171 1027h0M173 1022h0M183 1032h0M193 1017h0M181 1027h0M196 1023h0M182 1040h0M184 1046h0M185 1019h0M180 1028h0M188 1012h0M196 1037h0M177 1026h0M182 1014h0M172 1022h0M180 1035h0M186 1017h0M191 1018h0M174 1013h0M178 1020h0M185 1034h0M188 1013h0M191 1028h0M189 1010h0M182 1021h0M178 1018h0M177 1028h0M183 1038h0M190 1025h0M188 1012h0M171 1010h0M190 1029h0M181 1017h0M182 1009h0M181 1027h0M188 1042h0M181 1015h0M170 1043h0M195 1032h0M185 1029h0M193 1029h0M183 1037h0M174 1016h0M189 1022h0M183 1037h0M193 1022h0M182 1021h0M180 1019h0M178 1015h0M194 1016h0M170 1031h0M190 1021h0M193 1022h0M188 1033h0M187 1028h0M192 1029h0M170 1027h0M195 1017h0M185 1014h0M187 1039h0M183 1017h0M184 1028h0M181 1024h0M169 1050h0M183 1039h0M186 1011h0M179 1005h0M192 1030h0M196 1038h0M183 1017h0M189 1018h0M187 1019h0M175 1034h0M183 1019h0M182 1027h0M177 1023h0M176 1048h0M190 1035h0M187 1023h0M198 998h0M184 1023h0M199 1025h0M173 1023h0M197 1012h0M174 1006h0M165 1018h0M187 1001h0M175 1036h0M178 1011h0M172 1030h0M184 1012h0M187 1027h0M173 1023h0M192 1029h0M182 1005h0M176 1017h0M193 1004h0M185 1024h0M170 1019h0M194 1027h0M184 1037h0M172 1025h0M177 1025h0M174 1008h0M184 1030h0M186 1029h0M189 1012h0M184 1032h0M174 1013h0M180 1020h0M158 1009h0M158 984h0M158 1012h0M141 1006h0M165 991h0M152 1006h0M146 994h0M148 1018h0M138 1037h0M153 1010h0M162 1019h0M142 1009h0M156 1000h0M142 1019h0M147 1026h0M131 1034h0M143 1019h0M143 1013h0M162 988h0M140 1008h0M130 1024h0M124 1035h0M131 1026h0M134 1031h0M131 1035h0M129 1031h0M164 997h0M135 1027h0M143 1004h0M161 988h0" stroke="#000" stroke-opacity="0.42" stroke-width="2.0" stroke-linecap="round" fill="none" filter="url(#bp)"/>
<path transform="scale(.5)" d="M157 935h0M230 1016h0M222 993h0M93 968h0M206 999h0M176 1025h0M206 983h0M201 1063h0M185 1065h0M106 980h0M101 977h0M95 943h0M120 957h0M217 1004h0M97 945h0M206 1030h0M150 972h0M115 959h0M201 1015h0M168 1067h0M168 966h0M226 1063h0M205 1042h0M144 1061h0M204 943h0M202 967h0M188 1045h0M182 1017h0M118 986h0M149 994h0" stroke="#000" stroke-opacity="0.2" stroke-width="2.0" stroke-linecap="round" fill="none" filter="url(#bp)"/>
<path d="M93 482.5 96 480.8 100.5 481 102 483 101.2 486.4 98.8 488 94.5 487.6 92.8 485.5Z" fill="#000" fill-opacity="1.0" filter="url(#b1)"/>
<path d="M80.8 466.4V538.4M45.4 504.2H117.7" stroke="#7a7a7a" stroke-width="1.1" fill="none"/>
<text x="116.5" y="473.4" font-size="6.3" text-anchor="end" fill="#222" stroke="#222" stroke-width="0.22">22.3</text>
<text x="47.2" y="537.4" font-size="6.3" fill="#222" stroke="#222" stroke-width="0.22">65</text>
<text x="116.7" y="537.4" font-size="6.3" text-anchor="end" fill="#222" stroke="#222" stroke-width="0.22">11.5</text>
<text x="39.2" y="539.8" font-size="4.3" text-anchor="middle" fill="#333" stroke="#333" stroke-width="0.15">10<tspan font-size="2.9" dy="-1.7">0</tspan></text>
<text x="39.2" y="521.8" font-size="4.3" text-anchor="middle" fill="#333" stroke="#333" stroke-width="0.15">10<tspan font-size="2.9" dy="-1.7">1</tspan></text>
<text x="39.2" y="503.8" font-size="4.3" text-anchor="middle" fill="#333" stroke="#333" stroke-width="0.15">10<tspan font-size="2.9" dy="-1.7">2</tspan></text>
<text x="39.2" y="485.8" font-size="4.3" text-anchor="middle" fill="#333" stroke="#333" stroke-width="0.15">10<tspan font-size="2.9" dy="-1.7">3</tspan></text>
<text x="39.2" y="467.8" font-size="4.3" text-anchor="middle" fill="#333" stroke="#333" stroke-width="0.15">10<tspan font-size="2.9" dy="-1.7">4</tspan></text>
<text x="46.2" y="546.6" font-size="4.3" text-anchor="middle" fill="#333" stroke="#333" stroke-width="0.15">10<tspan font-size="2.9" dy="-1.7">0</tspan></text>
<text x="64.3" y="546.6" font-size="4.3" text-anchor="middle" fill="#333" stroke="#333" stroke-width="0.15">10<tspan font-size="2.9" dy="-1.7">1</tspan></text>
<text x="82.3" y="546.6" font-size="4.3" text-anchor="middle" fill="#333" stroke="#333" stroke-width="0.15">10<tspan font-size="2.9" dy="-1.7">2</tspan></text>
<text x="100.4" y="546.6" font-size="4.3" text-anchor="middle" fill="#333" stroke="#333" stroke-width="0.15">10<tspan font-size="2.9" dy="-1.7">3</tspan></text>
<text x="118.5" y="546.6" font-size="4.3" text-anchor="middle" fill="#333" stroke="#333" stroke-width="0.15">10<tspan font-size="2.9" dy="-1.7">4</tspan></text>
<rect x="141.1" y="466.4" width="72.3" height="72" fill="none" stroke="#a0a0a0" stroke-width="0.9"/>
<path d="M141.1 466.4V538.4H213.4" stroke="#666" stroke-width="1.1" fill="none"/>
<path d="M141.1 533h-1M146.5 538.4v1M141.1 529.8h-1M149.7 538.4v1M141.1 527.6h-1M152 538.4v1M141.1 525.8h-1M153.7 538.4v1M141.1 524.4h-1M155.2 538.4v1M141.1 523.2h-1M156.4 538.4v1M141.1 522.1h-1M157.4 538.4v1M141.1 521.2h-1M158.3 538.4v1M141.1 515h-1M164.6 538.4v1M141.1 511.8h-1M167.8 538.4v1M141.1 509.6h-1M170.1 538.4v1M141.1 507.8h-1M171.8 538.4v1M141.1 506.4h-1M173.2 538.4v1M141.1 505.2h-1M174.5 538.4v1M141.1 504.1h-1M175.5 538.4v1M141.1 503.2h-1M176.4 538.4v1M141.1 497h-1M182.7 538.4v1M141.1 493.8h-1M185.9 538.4v1M141.1 491.6h-1M188.1 538.4v1M141.1 489.8h-1M189.9 538.4v1M141.1 488.4h-1M191.3 538.4v1M141.1 487.2h-1M192.5 538.4v1M141.1 486.1h-1M193.6 538.4v1M141.1 485.2h-1M194.5 538.4v1M141.1 479h-1M200.8 538.4v1M141.1 475.8h-1M203.9 538.4v1M141.1 473.6h-1M206.2 538.4v1M141.1 471.8h-1M208 538.4v1M141.1 470.4h-1M209.4 538.4v1M141.1 469.2h-1M210.6 538.4v1M141.1 468.1h-1M211.6 538.4v1M141.1 467.2h-1M212.6 538.4v1M141.1 538.4h-1.8M141.1 538.4v1.8M141.1 520.4h-1.8M159.2 538.4v1.8M141.1 502.4h-1.8M177.2 538.4v1.8M141.1 484.4h-1.8M195.3 538.4v1.8M141.1 466.4h-1.8M213.4 538.4v1.8" stroke="#777" stroke-width="0.5" fill="none"/>
<path transform="scale(.5)" d="M316 1053h0M365 1055h0M323 1033h0M296 1017h0M333 1058h0M293 1050h0M295 1017h0M313 1040h0M319 1034h0M325 1051h0M346 1069h0M343 1008h0M295 1040h0M349 1055h0M338 1059h0M309 1043h0M294 1045h0M298 1057h0M314 1024h0M325 1043h0M351 1055h0M316 1008h0M312 1034h0M344 1059h0M306 1018h0M309 1052h0M333 1040h0M300 1051h0M294 1041h0M334 1058h0M326 1035h0M315 1034h0M330 1037h0M328 1024h0M344 1025h0M345 1018h0M302 1071h0M326 1059h0M315 1055h0M325 1066h0M339 1049h0M314 1055h0M332 1049h0M295 1015h0M329 1041h0M300 1009h0M290 1035h0M307 1061h0M317 1024h0M310 1041h0M293 1062h0M316 1019h0M308 1063h0M311 1016h0M340 1034h0M321 1072h0M324 1018h0M314 1029h0M292 1056h0M307 1021h0M323 1040h0M318 1071h0M364 1070h0M323 1035h0M289 1017h0M338 1023h0M334 1032h0M321 1057h0M294 1036h0M314 1053h0M310 1066h0M333 1042h0M326 1034h0M334 1049h0M321 1024h0M311 1062h0M315 1048h0M326 1034h0M326 1039h0M315 1061h0M318 1027h0M355 1047h0M284 1015h0M338 1027h0M350 1023h0M318 1036h0M296 1036h0M335 1040h0M324 1035h0M298 1070h0M300 1057h0M284 1065h0M308 1054h0M351 1019h0M336 1052h0M325 1042h0M319 1032h0M340 1015h0M309 1033h0M312 1040h0M354 1040h0M292 1047h0M315 1051h0M333 1035h0M293 1064h0M310 1015h0M306 1047h0M333 1045h0M320 1048h0M322 1044h0M332 1027h0M315 1041h0M298 1022h0M309 1044h0M293 1075h0M312 1017h0M342 1048h0M335 1036h0M296 1039h0M327 1054h0M328 1032h0M317 1041h0M330 1047h0M338 1016h0M319 1071h0M298 1022h0M295 1035h0M323 1031h0M336 1044h0M296 1045h0M329 1023h0M306 1049h0M326 1037h0M330 1048h0M345 1040h0M297 1053h0M292 1037h0M352 1027h0M313 1075h0M299 1050h0M318 1058h0M324 1053h0M335 1047h0M324 1016h0M304 1049h0M323 1043h0M344 1034h0M337 1056h0M354 1019h0M291 1022h0M299 1038h0M335 1049h0M301 1048h0M315 1030h0M303 1037h0M333 1042h0M315 1072h0M344 1041h0M308 1013h0M309 1050h0M297 1005h0M312 1039h0M307 1025h0M310 1036h0M322 1041h0M329 1031h0M299 1016h0M321 1064h0M322 1053h0M303 1012h0M327 1035h0M331 1028h0M335 1061h0M298 1042h0M339 1005h0" stroke="#000" stroke-opacity="0.32" stroke-width="2.0" stroke-linecap="round" fill="none" filter="url(#bp)"/>
<path transform="scale(.5)" d="M361 970h0M363 972h0M354 978h0M368 969h0M364 977h0M374 965h0M350 985h0M359 986h0M367 971h0M362 977h0M373 968h0M358 981h0M369 969h0M365 971h0M368 982h0M383 982h0M363 973h0M371 968h0M368 984h0M378 978h0M363 976h0M348 978h0M369 974h0M356 974h0M375 974h0M357 988h0M373 979h0M378 981h0M369 981h0M377 972h0M359 984h0M362 976h0M373 972h0M366 979h0M372 975h0M371 976h0M375 993h0M364 971h0M377 959h0M366 969h0M351 987h0M381 967h0M364 978h0M367 968h0M372 967h0M356 982h0M373 967h0M378 978h0M356 980h0M360 977h0M367 972h0M368 974h0M368 981h0M361 974h0M347 984h0M373 974h0M377 975h0M364 973h0M366 972h0M358 978h0M363 975h0M365 975h0M373 967h0M370 982h0M352 969h0M371 976h0M359 974h0M360 982h0M360 977h0M372 971h0M365 972h0M355 977h0M369 979h0M364 964h0M365 966h0M362 980h0M352 983h0M356 975h0M382 978h0M364 988h0M352 982h0M368 974h0M362 973h0M366 981h0M377 968h0M369 969h0M364 973h0M358 989h0M358 974h0M367 980h0M364 981h0M351 985h0M363 987h0M364 977h0M364 986h0M372 978h0M366 976h0M377 976h0M372 973h0M379 970h0M371 973h0M370 968h0M382 968h0M351 970h0M365 990h0M364 974h0M375 976h0M356 982h0M368 980h0M362 968h0M359 983h0M363 979h0M362 983h0M354 972h0M362 973h0M361 977h0M367 964h0M353 974h0M354 972h0M365 985h0M356 974h0M373 977h0M368 985h0M382 982h0M364 985h0M375 972h0M365 982h0M358 989h0M369 983h0M364 977h0M361 987h0M356 987h0M376 970h0M358 970h0M371 959h0M358 977h0M368 964h0M353 974h0M363 977h0M366 974h0M364 972h0M373 974h0M360 971h0M377 978h0M378 984h0M377 982h0M358 979h0M357 978h0M368 981h0M365 974h0M360 976h0M371 981h0M380 971h0M374 984h0M357 965h0M371 982h0M366 971h0M372 967h0M359 988h0M368 978h0M367 990h0M364 968h0M367 980h0M364 979h0M359 968h0M365 973h0M362 984h0M379 966h0M368 966h0M360 977h0M364 970h0M371 974h0M367 975h0M374 972h0M355 968h0M357 977h0M380 969h0M372 978h0M365 984h0M368 983h0M364 982h0M357 985h0M370 986h0M356 969h0M372 970h0M360 969h0M356 983h0M359 978h0M358 966h0M364 967h0M370 977h0M361 973h0M368 971h0M369 978h0M360 978h0M363 972h0M372 977h0M363 980h0M367 976h0M368 978h0M375 977h0M360 975h0M370 975h0M369 982h0M368 978h0M356 981h0M381 981h0M373 981h0M369 985h0M371 969h0M356 980h0M383 967h0M373 968h0M365 973h0M364 977h0M372 975h0M355 972h0M363 983h0M369 982h0M360 969h0M379 963h0M369 975h0M366 976h0M368 974h0M374 974h0M373 980h0M360 984h0M370 969h0M372 975h0M367 986h0M371 981h0M377 977h0M366 983h0M368 968h0M359 976h0M362 991h0M371 964h0M367 973h0M362 982h0M359 971h0M374 971h0M361 979h0M364 965h0M368 989h0M368 974h0M356 977h0M352 971h0M380 972h0M364 974h0M351 969h0M369 976h0M365 984h0M358 979h0M373 974h0M371 972h0M373 980h0M378 964h0M354 979h0M364 977h0M369 981h0M373 984h0M360 974h0M359 983h0M368 973h0M369 969h0M364 979h0M378 978h0M361 977h0M359 971h0M378 967h0M349 976h0M373 977h0M362 973h0M370 985h0M357 976h0M354 985h0M353 973h0M362 983h0M374 968h0M357 974h0M369 987h0M373 982h0M365 977h0M366 968h0M371 972h0M367 974h0M357 978h0M362 989h0M366 972h0M362 972h0M363 965h0M352 969h0M370 977h0M358 980h0M370 979h0M371 974h0M372 978h0M375 976h0M368 976h0M365 975h0M355 970h0M371 983h0M353 975h0M361 982h0M362 984h0M367 985h0M368 985h0M363 981h0M357 975h0M379 969h0M364 981h0M369 981h0M354 988h0M370 971h0M375 968h0M366 980h0M358 966h0M350 980h0M372 968h0M342 982h0M371 974h0M368 969h0M367 986h0M358 980h0M367 978h0M385 980h0M360 979h0M369 973h0M359 991h0M358 984h0M362 978h0M359 980h0M361 982h0M375 969h0M361 972h0M367 980h0M366 983h0M376 980h0M363 978h0M355 981h0M377 983h0M363 988h0M362 975h0M372 970h0M373 980h0M366 976h0M368 970h0M373 968h0M369 986h0M375 972h0M371 978h0M360 976h0M373 986h0M367 978h0M362 966h0M357 982h0M364 977h0M370 979h0M358 975h0M356 978h0M364 971h0M364 967h0M359 972h0M352 971h0M359 979h0M367 984h0M369 977h0M359 980h0M348 971h0M369 985h0M376 974h0M364 980h0M361 984h0M377 977h0M372 982h0M376 969h0M374 975h0M377 975h0M364 977h0M359 967h0M344 968h0M372 976h0M367 976h0M370 976h0M354 971h0M355 969h0M363 975h0M371 979h0M360 982h0M367 980h0M358 971h0M374 987h0M361 968h0M359 971h0M372 989h0M370 975h0M358 968h0M367 972h0M372 964h0M371 983h0M368 985h0M376 974h0M364 977h0M368 975h0M367 972h0M368 969h0M366 989h0M355 974h0M378 976h0M352 970h0M360 980h0M358 976h0M371 979h0M382 981h0M379 974h0M363 981h0M367 973h0M372 985h0M380 969h0M367 971h0M369 976h0M364 972h0M359 988h0M376 971h0M368 970h0M378 986h0M364 977h0M373 977h0M362 985h0M381 979h0M366 972h0M354 984h0M372 976h0M365 975h0M372 969h0M367 974h0M371 990h0M367 969h0M376 985h0M356 978h0M380 975h0M356 983h0M359 979h0M360 963h0M366 984h0M374 980h0M358 982h0M364 977h0M364 978h0M382 982h0M373 965h0M357 967h0M383 973h0M337 981h0M372 973h0M371 978h0M363 973h0M369 974h0M373 975h0M360 965h0M370 977h0M355 982h0M374 971h0M376 968h0M373 977h0M377 981h0M364 976h0M380 974h0M364 977h0M365 965h0M379 975h0M373 971h0M361 978h0M357 971h0M367 971h0M351 979h0M365 986h0M369 981h0M366 987h0M376 961h0M364 974h0M360 968h0M359 969h0M366 988h0M369 977h0M360 978h0M358 974h0M357 967h0M364 976h0M368 982h0M367 976h0M365 984h0M361 968h0M374 972h0M344 969h0M356 971h0M364 979h0M360 974h0M364 995h0M367 966h0M369 967h0M360 971h0M368 982h0M377 984h0M359 976h0M370 977h0M362 966h0M373 968h0M364 981h0M363 973h0M365 977h0M355 979h0M376 959h0M356 970h0M372 981h0M375 970h0M365 976h0M366 984h0M372 975h0M366 977h0M359 983h0M359 979h0M361 981h0M366 978h0M378 969h0M374 970h0M381 975h0M360 984h0M369 965h0M373 965h0M356 969h0M391 985h0M375 985h0M366 973h0M370 975h0M372 966h0M365 974h0M365 977h0M348 977h0M363 973h0M360 984h0M363 967h0M375 973h0M368 970h0M357 971h0M366 990h0M361 978h0M366 983h0M361 962h0M356 967h0M374 976h0M361 975h0M375 975h0M364 981h0M368 977h0M360 983h0M367 970h0M376 980h0M363 969h0M366 970h0M364 978h0M373 982h0M371 988h0M359 978h0M382 977h0M352 978h0M366 966h0M376 985h0M365 976h0M362 978h0M374 976h0M374 972h0M360 988h0M356 973h0M369 974h0M373 968h0M365 978h0M375 980h0M353 979h0M368 976h0M358 986h0M365 974h0M355 986h0M366 975h0M360 974h0M355 985h0M363 979h0M356 970h0M371 985h0M365 978h0M363 980h0M363 969h0M371 970h0M379 961h0M370 975h0M364 988h0M365 976h0M368 968h0M363 978h0M368 977h0M376 983h0M366 964h0M365 975h0M361 981h0M360 975h0M364 983h0M368 979h0M367 979h0M376 981h0M372 978h0M363 978h0M378 982h0M362 977h0M373 970h0M372 977h0M363 967h0M366 982h0M360 974h0M364 969h0M369 985h0M365 972h0M362 976h0M374 968h0M376 964h0M362 969h0M363 973h0M365 980h0M374 970h0M373 971h0M363 968h0M375 980h0M362 982h0M373 981h0M361 971h0M366 969h0M363 973h0M365 973h0M368 976h0M362 974h0M360 973h0M356 982h0M362 972h0M367 967h0M368 969h0M385 984h0M377 985h0M365 985h0M365 973h0M353 977h0M382 978h0M361 990h0M367 1008h0M367 988h0M385 996h0M358 992h0M362 983h0M372 995h0M371 996h0M368 980h0M368 1009h0M374 1000h0M372 998h0M366 1019h0M359 1013h0M367 1004h0M351 1001h0M367 1004h0M365 984h0M360 1018h0M366 1016h0M364 987h0M358 1001h0M371 998h0M370 989h0M368 989h0M373 987h0M355 1013h0M362 988h0M363 1003h0M380 998h0M370 984h0M362 997h0M368 987h0M361 1016h0M370 993h0M359 990h0M363 1000h0M364 990h0M358 994h0M365 994h0M363 989h0M369 996h0M366 1000h0M357 998h0M366 996h0M367 1012h0M376 985h0M365 1004h0M360 984h0M353 1008h0M359 1003h0M364 1000h0M363 1012h0M363 985h0M363 1009h0M362 1001h0M371 1007h0M369 1009h0M362 994h0M360 1003h0M360 984h0M367 1018h0M370 983h0M362 1004h0M363 1016h0M364 991h0M374 1010h0M371 992h0M369 1007h0M367 1008h0M363 997h0M366 1005h0M361 1012h0M361 994h0M369 1010h0M380 1007h0M365 998h0M359 999h0M372 1007h0M375 991h0M370 999h0M371 999h0M363 999h0M369 1007h0M364 999h0M370 993h0M365 1008h0M369 1003h0M365 1023h0M355 999h0M361 1009h0M360 998h0M375 1004h0M371 984h0M356 1001h0M372 994h0M365 998h0M363 996h0M367 985h0M365 998h0M366 1010h0M362 1013h0M364 987h0M374 1009h0M377 1014h0M371 998h0M374 1008h0M366 1002h0M367 988h0M373 1007h0M359 996h0M362 993h0M365 1008h0M358 1004h0M357 999h0M370 1014h0M363 992h0M363 993h0M378 1011h0M359 1015h0M376 979h0M375 998h0M363 985h0M365 985h0M367 988h0M369 984h0M369 1005h0M356 1002h0M351 1012h0M373 989h0M362 1000h0M348 1001h0M368 991h0M372 1007h0M368 1004h0M378 980h0M379 1005h0M370 992h0M349 989h0M365 996h0M365 1006h0M367 1000h0M360 992h0M354 986h0M362 994h0M361 999h0M363 980h0M358 992h0M355 1024h0M359 997h0M373 990h0M359 1002h0M375 992h0M367 1011h0M351 1023h0M367 986h0M359 1001h0M361 994h0M364 1014h0M365 990h0M372 999h0M366 991h0M372 997h0M365 990h0M378 986h0M377 995h0M362 1020h0M376 992h0M365 1008h0M358 996h0M369 1008h0M353 1007h0M371 983h0M366 1007h0M362 979h0M357 996h0M371 1009h0M371 998h0M376 1004h0M365 1007h0M367 1008h0M371 978h0M360 1010h0M361 1000h0M357 991h0M362 986h0M368 971h0M374 1003h0M373 1012h0M367 1026h0M365 993h0M359 995h0M354 1028h0M379 972h0M367 998h0M365 996h0M375 1028h0M373 1007h0M360 1016h0M367 990h0M368 1039h0M376 1026h0M378 1009h0M373 1030h0M359 1022h0M357 1017h0M361 1037h0M375 1026h0M369 1023h0M366 1045h0M383 1012h0M364 1012h0M369 1028h0M365 1027h0M356 1029h0M367 1023h0M379 1020h0M370 1023h0M370 1016h0M353 1019h0M378 1040h0M364 1044h0M382 1016h0M366 1047h0M362 1033h0M356 1028h0M369 1019h0M360 1019h0M373 1036h0M345 1034h0M355 1009h0M354 1010h0M379 1012h0M365 1027h0M355 1027h0M365 1019h0M362 1014h0M370 1022h0M362 1032h0M377 1008h0M362 1020h0M365 1045h0M359 1036h0M368 1034h0M367 1031h0M363 1035h0M360 1025h0M358 1025h0M366 1024h0M364 1019h0M364 1018h0M370 1032h0M376 1035h0M367 1024h0M373 1024h0M367 1018h0M358 1018h0M364 1015h0M367 1021h0M363 1026h0M340 1009h0M326 1024h0M336 1010h0M332 990h0M352 992h0M318 1038h0M332 1027h0M344 992h0M345 1003h0M316 1038h0M327 1032h0M334 1026h0M340 986h0M347 1011h0M349 1003h0M328 1030h0M338 1014h0M328 1012h0M338 1008h0M338 1010h0M320 1028h0M342 993h0M335 1019h0M352 1003h0M327 1026h0M330 1032h0M332 1005h0M323 1040h0M316 1046h0M352 995h0M329 1026h0M350 980h0M330 1020h0M324 1045h0M326 1023h0M331 1027h0M351 998h0M330 1024h0M344 986h0M340 1014h0M336 1010h0M311 1027h0M329 1015h0M342 1008h0M338 1020h0M327 1020h0M340 1018h0M344 985h0M320 1017h0M340 1000h0M350 1001h0M325 1023h0M341 1004h0M318 1035h0M334 1005h0M345 997h0M321 1031h0M322 1034h0M314 1033h0M335 1018h0" stroke="#000" stroke-opacity="0.42" stroke-width="2.0" stroke-linecap="round" fill="none" filter="url(#bp)"/>
<path transform="scale(.5)" d="M346 1046h0M395 961h0M422 1006h0M339 1076h0M318 990h0M364 1058h0M378 969h0M394 959h0M298 1059h0M418 1066h0M424 943h0M314 1069h0M392 965h0M404 958h0M372 1054h0M302 1049h0M388 1001h0M396 1072h0M351 1026h0M333 1046h0M326 1064h0M354 1000h0M355 1000h0M411 945h0M410 942h0M343 943h0M297 943h0M361 1029h0M357 1009h0M414 1005h0" stroke="#000" stroke-opacity="0.2" stroke-width="2.0" stroke-linecap="round" fill="none" filter="url(#bp)"/>
<path d="M176.8 485.8 179 483.4 186 482.8 191.6 484.4 192 488 190.5 491.8 186.5 493.2 180.5 492.8 177.4 490.2Z" fill="#000" fill-opacity="1.0" filter="url(#b1)"/>
<path d="M175.5 466.4V538.4M141.1 504.2H213.4" stroke="#7a7a7a" stroke-width="1.1" fill="none"/>
<text x="212.2" y="473.4" font-size="6.3" text-anchor="end" fill="#222" stroke="#222" stroke-width="0.22">83.7</text>
<text x="142.9" y="537.4" font-size="6.3" fill="#222" stroke="#222" stroke-width="0.22">7.89</text>
<text x="212.4" y="537.4" font-size="6.3" text-anchor="end" fill="#222" stroke="#222" stroke-width="0.22">5.29</text>
<text x="134.9" y="539.8" font-size="4.3" text-anchor="middle" fill="#333" stroke="#333" stroke-width="0.15">10<tspan font-size="2.9" dy="-1.7">0</tspan></text>
<text x="134.9" y="521.8" font-size="4.3" text-anchor="middle" fill="#333" stroke="#333" stroke-width="0.15">10<tspan font-size="2.9" dy="-1.7">1</tspan></text>
<text x="134.9" y="503.8" font-size="4.3" text-anchor="middle" fill="#333" stroke="#333" stroke-width="0.15">10<tspan font-size="2.9" dy="-1.7">2</tspan></text>
<text x="134.9" y="485.8" font-size="4.3" text-anchor="middle" fill="#333" stroke="#333" stroke-width="0.15">10<tspan font-size="2.9" dy="-1.7">3</tspan></text>
<text x="134.9" y="467.8" font-size="4.3" text-anchor="middle" fill="#333" stroke="#333" stroke-width="0.15">10<tspan font-size="2.9" dy="-1.7">4</tspan></text>
<text x="141.9" y="546.6" font-size="4.3" text-anchor="middle" fill="#333" stroke="#333" stroke-width="0.15">10<tspan font-size="2.9" dy="-1.7">0</tspan></text>
<text x="160" y="546.6" font-size="4.3" text-anchor="middle" fill="#333" stroke="#333" stroke-width="0.15">10<tspan font-size="2.9" dy="-1.7">1</tspan></text>
<text x="178.1" y="546.6" font-size="4.3" text-anchor="middle" fill="#333" stroke="#333" stroke-width="0.15">10<tspan font-size="2.9" dy="-1.7">2</tspan></text>
<text x="196.1" y="546.6" font-size="4.3" text-anchor="middle" fill="#333" stroke="#333" stroke-width="0.15">10<tspan font-size="2.9" dy="-1.7">3</tspan></text>
<text x="214.2" y="546.6" font-size="4.3" text-anchor="middle" fill="#333" stroke="#333" stroke-width="0.15">10<tspan font-size="2.9" dy="-1.7">4</tspan></text>
<rect x="235.1" y="466.4" width="72.3" height="72" fill="none" stroke="#a0a0a0" stroke-width="0.9"/>
<path d="M235.1 466.4V538.4H307.4" stroke="#666" stroke-width="1.1" fill="none"/>
<path d="M235.1 533h-1M240.5 538.4v1M235.1 529.8h-1M243.7 538.4v1M235.1 527.6h-1M246 538.4v1M235.1 525.8h-1M247.7 538.4v1M235.1 524.4h-1M249.2 538.4v1M235.1 523.2h-1M250.4 538.4v1M235.1 522.1h-1M251.4 538.4v1M235.1 521.2h-1M252.3 538.4v1M235.1 515h-1M258.6 538.4v1M235.1 511.8h-1M261.8 538.4v1M235.1 509.6h-1M264.1 538.4v1M235.1 507.8h-1M265.8 538.4v1M235.1 506.4h-1M267.2 538.4v1M235.1 505.2h-1M268.5 538.4v1M235.1 504.1h-1M269.5 538.4v1M235.1 503.2h-1M270.4 538.4v1M235.1 497h-1M276.7 538.4v1M235.1 493.8h-1M279.9 538.4v1M235.1 491.6h-1M282.1 538.4v1M235.1 489.8h-1M283.9 538.4v1M235.1 488.4h-1M285.3 538.4v1M235.1 487.2h-1M286.5 538.4v1M235.1 486.1h-1M287.6 538.4v1M235.1 485.2h-1M288.5 538.4v1M235.1 479h-1M294.8 538.4v1M235.1 475.8h-1M297.9 538.4v1M235.1 473.6h-1M300.2 538.4v1M235.1 471.8h-1M302 538.4v1M235.1 470.4h-1M303.4 538.4v1M235.1 469.2h-1M304.6 538.4v1M235.1 468.1h-1M305.6 538.4v1M235.1 467.2h-1M306.6 538.4v1M235.1 538.4h-1.8M235.1 538.4v1.8M235.1 520.4h-1.8M253.2 538.4v1.8M235.1 502.4h-1.8M271.2 538.4v1.8M235.1 484.4h-1.8M289.3 538.4v1.8M235.1 466.4h-1.8M307.4 538.4v1.8" stroke="#777" stroke-width="0.5" fill="none"/>
<path transform="scale(.5)" d="M521 1061h0M539 1030h0M515 1057h0M549 1057h0M520 1011h0M535 1039h0M530 1015h0M487 1015h0M561 1031h0M490 1056h0M486 1029h0M527 1045h0M553 1068h0M522 1013h0M543 1036h0M500 1036h0M483 1037h0M503 1070h0M532 1026h0M497 1025h0M534 999h0M494 1018h0M512 998h0M503 1014h0M521 1030h0M498 1045h0M487 1053h0M511 1032h0M516 1030h0M507 1037h0M510 1023h0M504 1070h0M528 1073h0M497 1043h0M504 1040h0M513 1012h0M508 1038h0M546 1041h0M514 1038h0M507 1031h0" stroke="#000" stroke-opacity="0.32" stroke-width="2.0" stroke-linecap="round" fill="none" filter="url(#bp)"/>
<path transform="scale(.5)" d="M556 967h0M573 988h0M566 975h0M573 968h0M551 984h0M557 981h0M546 981h0M553 980h0M561 987h0M561 976h0M559 973h0M561 988h0M561 991h0M554 998h0M562 972h0M558 977h0M557 970h0M562 968h0M554 961h0M551 983h0M546 973h0M557 978h0M577 990h0M577 980h0M561 984h0M559 976h0M560 963h0M555 973h0M557 968h0M546 980h0M535 972h0M552 986h0M547 980h0M569 975h0M548 983h0M555 965h0M551 983h0M541 989h0M558 978h0M551 981h0M554 972h0M581 999h0M571 989h0M558 989h0M556 979h0M564 973h0M543 980h0M566 976h0M557 976h0M555 972h0M557 977h0M558 988h0M574 981h0M552 980h0M560 959h0M545 988h0M562 972h0M540 970h0M549 983h0M567 985h0M546 978h0M556 978h0M567 974h0M553 977h0M560 989h0M563 974h0M561 978h0M576 975h0M558 975h0M561 972h0M537 977h0M573 967h0M559 973h0M563 981h0M555 980h0M556 980h0M573 985h0M544 978h0M571 973h0M573 968h0M557 971h0M558 971h0M556 968h0M558 970h0M557 984h0M565 991h0M550 963h0M560 983h0M570 987h0M550 972h0M564 979h0M567 982h0M544 968h0M556 971h0M554 989h0M568 972h0M545 980h0M556 971h0M568 967h0M551 979h0M564 987h0M573 983h0M547 979h0M551 969h0M544 980h0M565 984h0M551 985h0M563 983h0M547 966h0M557 974h0M577 971h0M562 990h0M566 972h0M570 971h0M563 979h0M573 976h0M557 981h0M552 966h0M565 969h0M555 974h0M568 976h0M557 987h0M564 987h0M576 976h0M567 980h0M564 967h0M566 976h0M554 985h0M559 991h0M541 973h0M555 981h0M576 975h0M550 987h0M566 976h0M562 967h0M559 981h0M566 980h0M562 982h0M560 975h0M554 976h0M551 972h0M566 966h0M564 987h0M571 985h0M547 974h0M546 979h0M565 979h0M545 991h0M562 979h0M553 978h0M565 977h0M552 991h0M556 966h0M563 971h0M555 980h0M559 990h0M568 976h0M555 990h0M562 990h0M561 979h0M554 971h0M552 977h0M567 973h0M565 971h0M553 984h0M573 992h0M549 977h0M555 977h0M560 970h0M549 990h0M552 981h0M558 979h0M554 965h0M551 972h0M575 986h0M567 977h0M566 977h0M556 967h0M556 974h0M573 981h0M560 969h0M556 975h0M553 988h0M577 981h0M575 987h0M569 960h0M554 977h0M564 971h0M566 971h0M556 980h0M557 973h0M557 963h0M562 963h0M556 986h0M557 973h0M573 986h0M564 972h0M554 994h0M577 964h0M548 965h0M558 975h0M564 981h0M567 984h0M556 973h0M559 980h0M547 977h0M569 969h0M541 976h0M548 976h0M556 972h0M555 985h0M568 961h0M559 974h0M563 974h0M567 979h0M575 972h0M557 970h0M557 984h0M553 982h0M548 962h0M543 970h0M564 954h0M556 978h0M563 980h0M557 981h0M559 968h0M559 973h0M560 986h0M570 964h0M558 972h0M556 981h0M550 977h0M559 983h0M551 979h0M551 973h0M556 986h0M557 976h0M569 974h0M555 977h0M560 983h0M558 975h0M559 981h0M569 984h0M563 971h0M548 963h0M556 970h0M556 979h0M562 967h0M565 971h0M574 993h0M550 962h0M564 969h0M561 991h0M553 971h0M557 973h0M557 980h0M543 988h0M562 978h0M545 968h0M575 978h0M555 971h0M555 968h0M546 975h0M559 983h0M577 986h0M554 980h0M555 971h0M551 987h0M561 988h0M558 970h0M559 983h0M547 982h0M545 980h0M562 986h0M562 990h0M569 976h0M555 976h0M549 974h0M557 981h0M567 981h0M564 968h0M561 978h0M561 976h0M558 982h0M562 966h0M561 970h0M548 980h0M570 970h0M555 983h0M557 967h0M558 954h0M547 979h0M569 975h0M558 978h0M552 998h0M555 979h0M571 982h0M555 982h0M569 974h0M559 980h0M565 971h0M571 974h0M565 980h0M552 976h0M561 970h0M577 983h0M546 989h0M543 985h0M552 980h0M544 983h0M548 959h0M555 976h0M566 974h0M547 969h0M567 984h0M559 982h0M580 974h0M563 974h0M561 987h0M568 980h0M575 979h0M556 987h0M565 975h0M547 991h0M562 976h0M572 987h0M565 972h0M569 982h0M552 983h0M558 978h0M557 981h0M561 972h0M556 981h0M558 978h0M562 977h0M563 987h0M560 979h0M544 985h0M560 977h0M561 985h0M547 977h0M557 988h0M568 982h0M548 982h0M555 981h0M566 981h0M556 986h0M548 992h0M559 980h0M557 983h0M551 985h0M561 987h0M543 976h0M564 981h0M555 986h0M561 969h0M544 975h0M549 970h0M541 982h0M564 982h0M556 966h0M549 975h0M567 972h0M558 979h0M560 981h0M553 975h0M543 988h0M564 981h0M560 984h0M554 968h0M555 989h0M555 981h0M558 982h0M558 972h0M563 985h0M555 982h0M550 977h0M565 973h0M554 977h0M565 977h0M564 982h0M551 984h0M562 987h0M551 978h0M546 974h0M566 975h0M552 970h0M554 975h0M566 975h0M581 972h0M563 974h0M557 980h0M573 979h0M561 981h0M566 977h0M558 985h0M551 1001h0M554 977h0M545 965h0M566 986h0M558 980h0M562 983h0M571 981h0M564 965h0M553 972h0M564 970h0M545 977h0M552 972h0M561 975h0M558 971h0M566 983h0M563 972h0M553 980h0M558 979h0M566 977h0M555 969h0M560 964h0M566 969h0M561 967h0M550 983h0M561 977h0M561 974h0M552 982h0M571 975h0M559 981h0M543 988h0M561 973h0M546 971h0M566 964h0M555 984h0M565 975h0M564 975h0M546 990h0M560 972h0M554 981h0M562 977h0M552 988h0M554 976h0M546 984h0M555 981h0M550 988h0M563 983h0M568 972h0M570 972h0M557 983h0M565 969h0M562 968h0M564 975h0M563 972h0M571 978h0M563 968h0M561 975h0M552 976h0M553 969h0M550 968h0M566 976h0M565 971h0M562 971h0M548 988h0M554 980h0M545 970h0M553 984h0M556 979h0M556 980h0M563 978h0M571 971h0M563 981h0M572 979h0M561 976h0M564 996h0M542 975h0M566 974h0M552 979h0M565 977h0M557 971h0M558 976h0M557 978h0M562 985h0M559 975h0M547 980h0M572 980h0M547 985h0M545 987h0M569 970h0M560 982h0M565 965h0M560 970h0M565 977h0M568 993h0M559 997h0M550 966h0M570 972h0M567 978h0M564 987h0M568 978h0M557 981h0M560 975h0M553 979h0M551 964h0M565 968h0M551 975h0M551 965h0M542 967h0M564 992h0M559 975h0M554 966h0M557 982h0M565 988h0M564 962h0M553 993h0M566 977h0M563 981h0M562 969h0M552 976h0M568 983h0M555 969h0M561 981h0M559 984h0M562 976h0M550 968h0M559 977h0M552 974h0M564 968h0M568 963h0M557 977h0M554 988h0M558 973h0M557 974h0M564 982h0M549 975h0M561 973h0M570 975h0M563 987h0M557 980h0M565 979h0M562 983h0M555 979h0M568 981h0M554 967h0M555 971h0M558 971h0M554 973h0M559 979h0M564 983h0M552 985h0M550 987h0M552 972h0M568 969h0M563 980h0M549 971h0M556 993h0M556 973h0M567 967h0M561 975h0M568 982h0M555 978h0M554 978h0M556 977h0M548 966h0M566 980h0M558 983h0M559 977h0M566 977h0M571 975h0M561 970h0M561 972h0M560 961h0M572 964h0M572 982h0M556 975h0M552 976h0M561 985h0M563 975h0M563 969h0M544 969h0M550 967h0M556 971h0M555 967h0M556 983h0M554 982h0M563 968h0M560 972h0M570 978h0M549 984h0M560 979h0M568 979h0M544 986h0M550 974h0M558 979h0M549 993h0M544 977h0M569 973h0M566 985h0M560 984h0M560 963h0M559 959h0M554 978h0M567 966h0M551 977h0M565 979h0M562 971h0M555 976h0M553 971h0M569 975h0M552 989h0M554 968h0M569 981h0M560 990h0M558 981h0M552 976h0M545 985h0M548 970h0M543 976h0M539 962h0M556 986h0M533 977h0M556 987h0M546 973h0M564 974h0M546 977h0M558 971h0M559 963h0M554 972h0M561 980h0M563 980h0M561 973h0M537 984h0M559 983h0M545 965h0M562 981h0M566 981h0M552 986h0M558 980h0M559 966h0M555 977h0M545 978h0M556 980h0M568 983h0M558 985h0M563 969h0M566 967h0M557 959h0M565 978h0M558 977h0M574 977h0M555 978h0M544 971h0M563 991h0M554 978h0M565 978h0M551 991h0M559 984h0M563 960h0M566 970h0M563 980h0M565 986h0M555 977h0M559 974h0M555 984h0M562 987h0M561 969h0M558 968h0M560 975h0M558 980h0M564 978h0M562 980h0M547 999h0M550 990h0M554 981h0M557 983h0M546 988h0M562 970h0M561 990h0M566 975h0M562 984h0M561 979h0M565 982h0M556 982h0M556 974h0M548 980h0M556 986h0M569 993h0M556 974h0M557 978h0M559 980h0M557 982h0M565 977h0M574 988h0M551 988h0M568 982h0M550 968h0M553 977h0M558 977h0M551 979h0M543 974h0M543 975h0M558 970h0M567 979h0M555 991h0M553 974h0M557 966h0M565 980h0M570 987h0M560 969h0M553 970h0M547 976h0M554 996h0M558 970h0M548 969h0M550 989h0M559 976h0M573 972h0M556 964h0M550 976h0M555 988h0M556 973h0M555 979h0M567 979h0M568 979h0M558 971h0M560 982h0M553 980h0M556 978h0M565 963h0M552 971h0M545 973h0M557 984h0M552 984h0M556 962h0M573 980h0M559 976h0M559 991h0M571 977h0M560 986h0M560 977h0M557 977h0M560 973h0M548 985h0M551 974h0M563 976h0M549 971h0M557 968h0M554 975h0M556 981h0M559 972h0M561 976h0M551 982h0M550 964h0M564 964h0M546 983h0M553 993h0M570 985h0M562 999h0M558 976h0M564 1001h0M568 1001h0M557 1024h0M570 1008h0M566 1010h0M559 1018h0M561 1014h0M561 1024h0M566 1016h0M552 980h0M568 1006h0M565 995h0M554 1002h0M548 985h0M562 997h0M569 987h0M550 999h0M566 1016h0M559 1003h0M549 1006h0M572 986h0M559 1013h0M570 1027h0M555 1022h0M559 1007h0M563 1008h0M571 1010h0M558 1007h0M557 991h0M556 1002h0M567 998h0M564 997h0M562 1003h0M554 1010h0M555 1010h0M566 1008h0M562 1005h0M565 993h0M567 1006h0M568 981h0M557 1010h0M566 1001h0M560 1011h0M568 1002h0M556 1015h0M550 985h0M563 999h0M560 1014h0M560 990h0M558 1008h0M563 1007h0M568 1001h0M560 992h0M567 989h0M572 1011h0M561 982h0M563 1035h0M546 983h0M568 1006h0M554 990h0M572 1011h0M564 1012h0M569 1007h0M566 994h0M577 1008h0M568 1011h0M547 989h0M570 1024h0M563 1028h0M565 1007h0M576 998h0M571 1006h0M560 996h0M553 1006h0M552 993h0M565 1000h0M571 998h0M558 1009h0M563 1006h0M570 1008h0M553 1010h0M563 1013h0M564 999h0M560 982h0M560 1016h0M561 983h0M565 1046h0M554 1011h0M574 1001h0M573 997h0M566 974h0M546 991h0M564 1000h0M557 1000h0M559 988h0M557 998h0M566 999h0M558 1028h0M568 1007h0M572 1003h0M557 990h0M555 1008h0M554 1001h0M563 1013h0M562 998h0M561 1019h0M561 1009h0M561 1014h0M561 1016h0M566 987h0M561 1025h0M562 1019h0M566 992h0M567 997h0M557 998h0M563 990h0M565 995h0M559 1015h0M558 998h0M574 1023h0M574 1025h0M568 1012h0M562 1013h0M563 1020h0M572 999h0M565 1010h0M559 997h0M565 979h0M569 1007h0M575 1004h0M569 994h0M555 990h0M564 1023h0M558 989h0M566 1034h0M560 1000h0M569 1003h0M562 1014h0M565 1004h0M564 990h0M568 1007h0M563 1000h0M567 1006h0M557 1000h0M562 1015h0M563 998h0M558 1015h0M561 1024h0M562 1010h0M559 1022h0M568 1020h0M559 1018h0M561 1011h0M558 1026h0M567 1037h0M562 1006h0M544 1029h0M558 1030h0M554 1030h0M563 1036h0M554 1005h0M557 1034h0M568 1019h0M569 1037h0M564 1025h0M554 1034h0M560 1030h0M563 1013h0M560 1028h0M556 1018h0M557 1019h0M554 1021h0M569 1017h0M564 1022h0M561 1039h0M550 1033h0M516 1018h0M519 1019h0M518 1006h0M515 1004h0M524 1028h0M523 1024h0M539 1010h0M514 1020h0M504 1046h0M551 985h0M510 1033h0M522 1029h0M534 1004h0M527 1009h0M538 998h0M513 1038h0M511 1035h0M513 1046h0M523 1037h0M521 1019h0M516 1036h0M530 985h0M529 1005h0M544 999h0M517 1043h0M519 1019h0M519 993h0M531 1014h0M513 1036h0M526 1009h0" stroke="#000" stroke-opacity="0.42" stroke-width="2.0" stroke-linecap="round" fill="none" filter="url(#bp)"/>
<path transform="scale(.5)" d="M507 984h0M546 1027h0M551 1026h0M566 943h0M509 1017h0M561 1071h0M596 955h0M476 1007h0M477 971h0M603 1035h0M508 985h0M584 965h0M527 1040h0M536 1004h0M521 1035h0M557 996h0M557 1040h0M565 987h0M566 951h0M549 977h0M566 1025h0M523 1060h0M596 944h0M528 1063h0M526 1024h0M555 1053h0M484 1003h0M540 1061h0M607 973h0M516 1043h0" stroke="#000" stroke-opacity="0.2" stroke-width="2.0" stroke-linecap="round" fill="none" filter="url(#bp)"/>
<path d="M272.2 485 275 482.4 284 482 287.5 484 287.4 489.5 285.5 494 281 495.6 276 494.5 273 491.5Z" fill="#000" fill-opacity="1.0" filter="url(#b1)"/>
<path d="M270 466.4V538.4M235.1 504.2H307.4" stroke="#7a7a7a" stroke-width="1.1" fill="none"/>
<text x="306.2" y="473.4" font-size="6.3" text-anchor="end" fill="#222" stroke="#222" stroke-width="0.22">93.6</text>
<text x="236.9" y="537.4" font-size="6.3" fill="#222" stroke="#222" stroke-width="0.22">1.59</text>
<text x="306.4" y="537.4" font-size="6.3" text-anchor="end" fill="#222" stroke="#222" stroke-width="0.22">2.41</text>
<text x="228.9" y="539.8" font-size="4.3" text-anchor="middle" fill="#333" stroke="#333" stroke-width="0.15">10<tspan font-size="2.9" dy="-1.7">0</tspan></text>
<text x="228.9" y="521.8" font-size="4.3" text-anchor="middle" fill="#333" stroke="#333" stroke-width="0.15">10<tspan font-size="2.9" dy="-1.7">1</tspan></text>
<text x="228.9" y="503.8" font-size="4.3" text-anchor="middle" fill="#333" stroke="#333" stroke-width="0.15">10<tspan font-size="2.9" dy="-1.7">2</tspan></text>
<text x="228.9" y="485.8" font-size="4.3" text-anchor="middle" fill="#333" stroke="#333" stroke-width="0.15">10<tspan font-size="2.9" dy="-1.7">3</tspan></text>
<text x="228.9" y="467.8" font-size="4.3" text-anchor="middle" fill="#333" stroke="#333" stroke-width="0.15">10<tspan font-size="2.9" dy="-1.7">4</tspan></text>
<text x="235.9" y="546.6" font-size="4.3" text-anchor="middle" fill="#333" stroke="#333" stroke-width="0.15">10<tspan font-size="2.9" dy="-1.7">0</tspan></text>
<text x="254" y="546.6" font-size="4.3" text-anchor="middle" fill="#333" stroke="#333" stroke-width="0.15">10<tspan font-size="2.9" dy="-1.7">1</tspan></text>
<text x="272.1" y="546.6" font-size="4.3" text-anchor="middle" fill="#333" stroke="#333" stroke-width="0.15">10<tspan font-size="2.9" dy="-1.7">2</tspan></text>
<text x="290.1" y="546.6" font-size="4.3" text-anchor="middle" fill="#333" stroke="#333" stroke-width="0.15">10<tspan font-size="2.9" dy="-1.7">3</tspan></text>
<text x="308.2" y="546.6" font-size="4.3" text-anchor="middle" fill="#333" stroke="#333" stroke-width="0.15">10<tspan font-size="2.9" dy="-1.7">4</tspan></text>
<rect x="330.1" y="466.4" width="72.3" height="72" fill="none" stroke="#a0a0a0" stroke-width="0.9"/>
<path d="M330.1 466.4V538.4H402.4" stroke="#666" stroke-width="1.1" fill="none"/>
<path d="M330.1 533h-1M335.5 538.4v1M330.1 529.8h-1M338.7 538.4v1M330.1 527.6h-1M341 538.4v1M330.1 525.8h-1M342.7 538.4v1M330.1 524.4h-1M344.2 538.4v1M330.1 523.2h-1M345.4 538.4v1M330.1 522.1h-1M346.4 538.4v1M330.1 521.2h-1M347.3 538.4v1M330.1 515h-1M353.6 538.4v1M330.1 511.8h-1M356.8 538.4v1M330.1 509.6h-1M359.1 538.4v1M330.1 507.8h-1M360.8 538.4v1M330.1 506.4h-1M362.2 538.4v1M330.1 505.2h-1M363.5 538.4v1M330.1 504.1h-1M364.5 538.4v1M330.1 503.2h-1M365.4 538.4v1M330.1 497h-1M371.7 538.4v1M330.1 493.8h-1M374.9 538.4v1M330.1 491.6h-1M377.1 538.4v1M330.1 489.8h-1M378.9 538.4v1M330.1 488.4h-1M380.3 538.4v1M330.1 487.2h-1M381.5 538.4v1M330.1 486.1h-1M382.6 538.4v1M330.1 485.2h-1M383.5 538.4v1M330.1 479h-1M389.8 538.4v1M330.1 475.8h-1M392.9 538.4v1M330.1 473.6h-1M395.2 538.4v1M330.1 471.8h-1M397 538.4v1M330.1 470.4h-1M398.4 538.4v1M330.1 469.2h-1M399.6 538.4v1M330.1 468.1h-1M400.6 538.4v1M330.1 467.2h-1M401.6 538.4v1M330.1 538.4h-1.8M330.1 538.4v1.8M330.1 520.4h-1.8M348.2 538.4v1.8M330.1 502.4h-1.8M366.2 538.4v1.8M330.1 484.4h-1.8M384.3 538.4v1.8M330.1 466.4h-1.8M402.4 538.4v1.8" stroke="#777" stroke-width="0.5" fill="none"/>
<path transform="scale(.5)" d="M704 1028h0M706 1034h0M705 1039h0M688 1023h0M696 1050h0M725 1038h0M691 1070h0M711 1046h0M725 1013h0M690 1028h0M690 1032h0M709 1056h0M696 1024h0M687 1030h0M736 1051h0M666 1047h0M692 1059h0M733 1042h0M715 1064h0M714 1036h0M674 1045h0M704 1033h0M709 1031h0M705 1071h0M728 1017h0M703 1034h0M677 1044h0M695 1053h0M704 1034h0M712 1056h0M713 1039h0M694 1031h0M697 1048h0M714 1041h0M691 1044h0M749 1045h0M669 1031h0M705 1037h0M688 1030h0M672 1053h0M702 1025h0M673 1046h0M675 1035h0M705 1064h0M739 1042h0M724 1063h0M694 1069h0M729 1024h0M694 1014h0M706 1066h0M690 1048h0M720 1036h0M697 1055h0M714 1064h0M715 1062h0M716 1024h0M714 1047h0M687 1045h0M678 1014h0M696 1048h0M692 1029h0M687 1013h0M704 1049h0M700 1024h0M706 1056h0M699 1051h0M678 1043h0M693 1024h0M720 1038h0M688 1019h0M723 1022h0M738 1036h0M696 1053h0M697 1039h0M688 1023h0M675 1056h0M705 1038h0M701 1034h0M711 1050h0M685 1048h0M727 1032h0M699 1045h0M687 1025h0M697 1044h0M688 1045h0M705 1027h0M694 1038h0M693 1046h0M685 1015h0M713 1051h0M689 1052h0M696 1063h0M675 1032h0M716 1054h0M735 1032h0M704 1067h0M708 1031h0M697 1053h0M715 1045h0M709 1039h0M683 1071h0M703 1009h0M683 1029h0M678 1049h0M689 1038h0M710 1019h0M692 1051h0M685 1041h0M704 1038h0M730 1032h0M723 1021h0M680 1050h0M708 1044h0M704 1042h0M690 1052h0M688 1043h0M680 1024h0M690 1041h0M688 1025h0M725 1047h0M701 1038h0M673 1059h0M694 1049h0M686 1030h0M701 1068h0M717 1041h0M690 1052h0M684 1025h0M698 1063h0M667 1069h0M684 1040h0M706 996h0M728 1038h0M715 1012h0M693 1063h0M707 1011h0M686 1051h0M732 1040h0M695 1018h0M724 1047h0M699 1069h0M698 1019h0M735 1031h0M709 1065h0M684 1016h0M686 1039h0M697 1057h0M701 1023h0M707 1051h0M687 1024h0M693 1032h0M691 1039h0M726 1026h0M694 1015h0M724 1053h0M710 1037h0M679 1014h0M683 1009h0M698 1038h0M715 1027h0M713 1040h0M694 1072h0M719 1033h0M682 1024h0M720 1058h0M703 1048h0M700 1022h0M700 1044h0M670 1026h0M677 1036h0M713 1074h0M688 1023h0M698 1055h0M718 1041h0M721 1036h0M681 1047h0M737 1057h0M675 1048h0M737 1016h0M711 1052h0M705 1057h0M692 1060h0M731 1046h0M686 1020h0M701 1054h0M688 1059h0M697 1046h0M717 1027h0M690 1046h0M705 1057h0M709 1051h0M671 1073h0M701 1050h0M726 1071h0M694 1033h0M689 1043h0M719 1048h0M707 1047h0M718 1029h0M701 1031h0M684 1043h0M710 1034h0M711 1026h0M709 1035h0M701 1041h0M715 1028h0M688 1033h0M735 1040h0M685 1064h0M704 1029h0M690 1026h0M715 1066h0M683 1019h0M689 1052h0M723 1041h0M677 1027h0M694 1038h0M691 1046h0M706 1041h0M726 1035h0M713 1058h0M688 1054h0M722 1033h0M697 1043h0M698 1033h0M685 1052h0M724 1060h0M716 1017h0M689 1007h0M693 1049h0M697 1010h0M709 1066h0M666 1027h0M724 1053h0M719 1027h0M708 1036h0M715 1039h0M718 1035h0M692 1018h0M704 1058h0M671 1051h0M720 1037h0M728 1025h0M706 1050h0M720 1021h0M684 1041h0M696 1039h0M681 1045h0M712 1072h0M680 1047h0M711 1047h0M708 1030h0M727 1069h0M722 1034h0M675 1026h0M694 1033h0M719 1059h0M715 1045h0M684 1027h0M706 1032h0M701 1037h0M708 1026h0M692 1072h0M694 1041h0M703 1040h0M729 1040h0M767 1042h0M719 1049h0M735 1061h0M736 1044h0" stroke="#000" stroke-opacity="0.32" stroke-width="2.0" stroke-linecap="round" fill="none" filter="url(#bp)"/>
<path transform="scale(.5)" d="M750 962h0M748 976h0M755 973h0M762 982h0M756 978h0M751 971h0M755 979h0M764 966h0M747 968h0M754 974h0M747 981h0M754 983h0M734 983h0M757 974h0M757 982h0M747 976h0M763 977h0M742 969h0M759 964h0M742 979h0M749 976h0M757 971h0M772 970h0M763 981h0M745 983h0M757 998h0M755 982h0M746 981h0M748 974h0M758 979h0M767 993h0M762 977h0M744 964h0M749 971h0M748 980h0M749 984h0M751 976h0M751 992h0M755 984h0M742 976h0M759 977h0M744 989h0M753 970h0M750 961h0M752 976h0M754 989h0M757 984h0M755 977h0M769 970h0M763 979h0M750 974h0M748 973h0M752 976h0M747 980h0M753 976h0M748 971h0M754 979h0M757 968h0M755 980h0M755 975h0M753 979h0M750 987h0M754 968h0M753 974h0M756 969h0M753 977h0M754 972h0M761 976h0M759 982h0M767 983h0M748 971h0M751 985h0M739 978h0M757 975h0M750 976h0M738 968h0M737 977h0M753 985h0M757 977h0M760 995h0M748 976h0M749 973h0M755 986h0M741 978h0M747 972h0M747 989h0M749 975h0M753 975h0M753 980h0M759 984h0M758 964h0M748 971h0M761 970h0M748 984h0M763 981h0M750 989h0M744 969h0M756 984h0M761 978h0M751 974h0M752 985h0M767 975h0M752 987h0M755 969h0M756 970h0M753 968h0M752 992h0M753 985h0M741 973h0M738 983h0M747 980h0M755 972h0M755 968h0M760 973h0M760 972h0M745 989h0M751 988h0M749 988h0M757 981h0M756 993h0M757 992h0M755 977h0M766 988h0M755 973h0M758 982h0M754 971h0M746 978h0M752 983h0M753 967h0M749 981h0M748 965h0M763 984h0M750 978h0M753 975h0M759 982h0M753 980h0M753 986h0M740 975h0M754 978h0M750 982h0M755 964h0M752 987h0M755 981h0M751 970h0M751 967h0M754 991h0M752 969h0M751 972h0M742 980h0M745 976h0M761 989h0M755 978h0M749 992h0M747 980h0M759 984h0M745 981h0M746 988h0M758 968h0M744 969h0M754 983h0M764 987h0M750 977h0M762 979h0M761 977h0M756 979h0M753 973h0M749 979h0M763 970h0M759 978h0M752 967h0M755 976h0M756 976h0M750 987h0M750 970h0M741 972h0M746 970h0M750 970h0M746 986h0M751 963h0M738 977h0M752 974h0M748 978h0M750 968h0M752 966h0M756 981h0M741 993h0M749 973h0M745 980h0M758 967h0M755 981h0M754 975h0M747 976h0M747 967h0M743 993h0M762 984h0M735 984h0M747 964h0M748 963h0M739 984h0M744 974h0M748 986h0M749 966h0M762 991h0M752 979h0M756 981h0M751 976h0M749 975h0M741 983h0M762 980h0M755 986h0M744 965h0M741 971h0M748 986h0M752 975h0M748 982h0M749 972h0M758 999h0M751 975h0M754 971h0M745 962h0M756 981h0M747 968h0M761 984h0M751 972h0M752 982h0M750 969h0M752 973h0M744 974h0M762 983h0M753 974h0M743 989h0M757 968h0M743 975h0M756 980h0M755 982h0M749 966h0M746 977h0M751 978h0M770 986h0M751 966h0M759 973h0M754 978h0M754 977h0M744 977h0M753 975h0M748 978h0M746 972h0M750 979h0M754 974h0M761 980h0M753 978h0M752 984h0M751 975h0M739 985h0M758 990h0M763 977h0M755 984h0M751 977h0M755 986h0M759 982h0M763 975h0M738 975h0M758 976h0M743 978h0M746 963h0M752 988h0M746 962h0M756 976h0M747 970h0M749 982h0M751 970h0M756 962h0M758 980h0M755 978h0M772 972h0M758 964h0M748 967h0M763 977h0M752 972h0M744 988h0M758 982h0M760 988h0M749 979h0M753 978h0M759 986h0M749 975h0M754 969h0M761 976h0M763 977h0M750 985h0M760 981h0M751 978h0M748 980h0M744 969h0M764 963h0M752 987h0M754 981h0M749 969h0M742 975h0M769 978h0M749 972h0M754 974h0M755 975h0M758 976h0M759 978h0M748 979h0M761 962h0M755 984h0M747 973h0M749 976h0M745 982h0M752 978h0M758 970h0M750 973h0M756 978h0M750 971h0M745 972h0M762 974h0M759 977h0M757 977h0M761 983h0M755 975h0M752 975h0M753 973h0M741 978h0M753 988h0M760 982h0M758 983h0M755 981h0M740 981h0M763 975h0M750 971h0M757 970h0M760 978h0M743 976h0M729 980h0M753 978h0M761 986h0M754 977h0M750 988h0M760 985h0M756 970h0M740 991h0M749 980h0M748 965h0M749 993h0M757 971h0M756 988h0M746 991h0M762 971h0M754 972h0M745 983h0M743 983h0M751 990h0M756 976h0M765 975h0M748 986h0M753 971h0M749 965h0M752 965h0M760 969h0M747 982h0M751 969h0M747 988h0M752 983h0M747 966h0M752 969h0M754 965h0M765 975h0M748 980h0M750 965h0M753 974h0M750 982h0M757 979h0M755 985h0M759 980h0M749 972h0M757 974h0M762 967h0M738 974h0M748 978h0M755 961h0M767 987h0M743 995h0M764 983h0M747 969h0M750 969h0M755 970h0M760 988h0M749 967h0M759 981h0M766 976h0M745 959h0M750 969h0M756 980h0M761 979h0M748 965h0M752 971h0M749 977h0M756 974h0M752 965h0M741 964h0M767 978h0M759 982h0M767 981h0M754 968h0M738 979h0M762 966h0M756 977h0M744 979h0M741 967h0M753 959h0M741 974h0M759 973h0M750 986h0M759 977h0M748 973h0M747 983h0M761 987h0M742 968h0M752 972h0M752 981h0M755 970h0M752 972h0M751 973h0M747 980h0M753 976h0M740 993h0M748 973h0M752 992h0M760 984h0M744 973h0M768 973h0M758 987h0M753 970h0M762 982h0M755 986h0M754 981h0M748 974h0M749 974h0M763 977h0M763 974h0M750 969h0M750 980h0M757 977h0M764 977h0M755 977h0M753 958h0M751 977h0M753 979h0M749 987h0M763 974h0M758 976h0M757 973h0M747 979h0M751 978h0M754 990h0M750 986h0M747 979h0M744 967h0M761 988h0M752 985h0M753 976h0M749 988h0M744 997h0M747 976h0M744 988h0M750 974h0M750 978h0M737 972h0M749 972h0M760 979h0M754 976h0M748 975h0M751 983h0M756 984h0M759 982h0M752 972h0M766 981h0M761 979h0M765 978h0M735 979h0M756 977h0M749 985h0M757 992h0M755 978h0M746 977h0M746 970h0M742 982h0M755 964h0M758 979h0M757 965h0M753 974h0M754 982h0M755 975h0M755 974h0M764 985h0M751 977h0M745 986h0M761 975h0M747 974h0M754 971h0M753 964h0M752 976h0M763 971h0M758 977h0M745 984h0M749 979h0M748 981h0M747 986h0M755 979h0M751 969h0M757 973h0M747 977h0M753 988h0M745 970h0M761 984h0M752 971h0M749 986h0M763 967h0M756 973h0M758 970h0M759 989h0M757 981h0M750 975h0M748 984h0M745 987h0M757 961h0M743 984h0M758 974h0M759 974h0M765 964h0M760 973h0M750 976h0M764 974h0M756 978h0M736 978h0M757 977h0M751 987h0M762 987h0M762 963h0M759 964h0M761 979h0M758 987h0M749 976h0M752 980h0M748 966h0M757 970h0M755 986h0M761 970h0M760 969h0M755 976h0M760 977h0M743 972h0M748 977h0M753 974h0M756 988h0M756 977h0M752 983h0M754 975h0M747 978h0M758 985h0M752 961h0M747 976h0M756 964h0M753 976h0M767 979h0M753 970h0M734 979h0M748 983h0M751 983h0M757 993h0M748 978h0M759 975h0M760 987h0M759 976h0M746 978h0M756 980h0M747 976h0M750 985h0M747 976h0M752 975h0M763 983h0M756 976h0M748 981h0M756 974h0M758 970h0M746 983h0M756 968h0M739 978h0M757 979h0M743 969h0M754 983h0M751 979h0M740 972h0M755 979h0M758 984h0M751 975h0M743 969h0M732 982h0M755 977h0M749 985h0M763 975h0M760 977h0M755 969h0M744 988h0M750 978h0M754 970h0M756 968h0M747 967h0M752 969h0M745 972h0M761 974h0M753 994h0M748 993h0M744 970h0M749 978h0M754 976h0M756 974h0M756 971h0M761 975h0M753 980h0M753 982h0M745 978h0M764 972h0M742 993h0M751 973h0M746 988h0M752 974h0M752 971h0M755 988h0M766 966h0M762 969h0M746 978h0M761 968h0M746 974h0M763 974h0M745 977h0M762 976h0M757 978h0M751 975h0M748 980h0M761 981h0M750 983h0M757 981h0M763 975h0M746 984h0M753 963h0M763 973h0M752 980h0M747 1028h0M750 1021h0M752 987h0M758 1031h0M747 1010h0M757 1020h0M748 1011h0M750 1010h0M755 1006h0M753 994h0M750 1025h0M756 1014h0M757 986h0M760 994h0M755 1016h0M757 1008h0M751 1021h0M765 1013h0M760 1004h0M758 1008h0M747 1011h0M757 992h0M756 997h0M759 1046h0M750 1020h0M762 997h0M763 1014h0M764 996h0M760 1003h0M763 1013h0M754 994h0M756 1032h0M747 1002h0M761 1006h0M758 1007h0M758 1025h0M754 996h0M754 1009h0M763 990h0M742 992h0M760 979h0M752 992h0M749 1002h0M753 1032h0M748 1006h0M752 1017h0M762 1007h0M762 983h0M760 1020h0M763 1035h0M762 1025h0M749 990h0M757 1014h0M752 1005h0M759 994h0M756 1026h0M752 1005h0M751 1007h0M765 993h0M752 1012h0M754 1013h0M755 1005h0M740 1013h0M756 999h0M752 1005h0M756 993h0M758 995h0M755 1010h0M749 1029h0M741 1026h0M763 1026h0M763 1004h0M750 1012h0M757 1002h0M756 990h0M765 987h0M752 1006h0M754 1005h0M754 1024h0M750 1015h0M762 1003h0M747 1007h0M774 1022h0M757 999h0M746 993h0M764 992h0M745 1024h0M750 1001h0M750 1008h0M746 1001h0M755 985h0M761 1007h0M746 997h0M756 1012h0M757 1007h0M754 995h0M757 994h0M748 1019h0M757 1027h0M750 996h0M740 1022h0M750 1012h0M752 1020h0M752 1002h0M744 1021h0M758 1006h0M745 1005h0M761 998h0M757 1025h0M747 1009h0M752 996h0M757 1016h0M754 993h0M754 1016h0M751 1011h0M747 980h0M755 997h0M753 992h0M752 1018h0M746 1018h0M752 998h0M762 1006h0M747 1006h0M765 1020h0M747 1001h0M755 1023h0M744 1013h0M745 994h0M762 1015h0M759 998h0M749 1009h0M764 1012h0M763 1018h0M747 1011h0M756 1018h0M742 1012h0M753 1025h0M763 1008h0M757 997h0M751 1002h0M746 1028h0M763 1014h0M740 992h0M747 1016h0M749 992h0M762 1008h0M760 1026h0M742 975h0M762 1005h0M758 1014h0M755 1022h0M754 995h0M771 1002h0M750 992h0M749 1005h0M756 995h0M758 995h0M753 1009h0M756 1005h0M753 984h0M756 1015h0M754 984h0M756 1010h0M752 1012h0M762 1032h0M754 1016h0M749 1006h0M759 1011h0M758 1023h0M755 1012h0M748 1013h0M759 1018h0M756 1004h0M764 992h0M756 1016h0M749 1006h0M753 995h0M756 1015h0M756 995h0M757 999h0M756 990h0M744 992h0M766 1008h0M751 1013h0M742 1020h0M754 1025h0M749 994h0M753 1012h0M755 1021h0M746 994h0M749 1018h0M761 993h0M760 1005h0M755 972h0M748 997h0M755 995h0M760 991h0M758 1025h0M754 966h0M747 1008h0M748 1002h0M751 1010h0M748 1010h0M762 1024h0M762 1003h0M748 1008h0M752 1021h0M747 1008h0M755 1008h0M758 1022h0M752 988h0M745 1007h0M753 1002h0M746 995h0M746 1001h0M758 992h0M747 1016h0M751 1013h0M755 1010h0M757 1010h0M751 1023h0M750 1014h0M758 1027h0M748 1021h0M757 1011h0M758 1026h0M760 1010h0M746 1012h0M751 1040h0M735 1017h0M747 1031h0M759 1008h0M762 1024h0M751 1021h0M747 1029h0M743 1018h0M757 1001h0M740 1024h0M754 1038h0M754 1025h0M752 1037h0M752 1025h0M747 1043h0M756 1018h0M750 1027h0M749 1024h0M759 1018h0M757 1031h0M748 1014h0M757 1019h0M752 1025h0M752 1020h0M755 1030h0M741 1015h0M753 1024h0M752 996h0M746 1014h0M736 1030h0M744 1017h0M754 1014h0M756 1042h0M740 1012h0M746 1033h0M753 1018h0M759 1018h0M744 1043h0M753 1014h0M746 1006h0M749 1026h0M761 1039h0M715 1026h0M698 1051h0M710 1018h0M727 1015h0M706 1030h0M725 1022h0M709 1030h0M709 1026h0M712 1027h0M705 1024h0M720 1018h0M705 1027h0M704 1041h0M714 1017h0M715 1002h0M717 1006h0M709 1015h0M709 1013h0M714 1010h0M718 1024h0M698 1034h0M714 1011h0M710 1024h0M711 1024h0M723 1006h0M719 1000h0M705 1037h0M720 1021h0M703 1029h0M701 1040h0M704 1030h0M699 1032h0M696 1044h0M733 1010h0M701 1030h0M730 990h0M725 992h0M707 1036h0M738 995h0M708 1035h0M731 989h0M723 991h0M722 1001h0M707 1023h0M712 1031h0M722 1000h0M733 995h0M728 1008h0M715 1026h0M707 1021h0M723 998h0M710 1036h0M715 1028h0M715 1006h0M723 1004h0M713 1007h0M728 993h0M723 996h0M728 996h0M722 1005h0" stroke="#000" stroke-opacity="0.42" stroke-width="2.0" stroke-linecap="round" fill="none" filter="url(#bp)"/>
<path transform="scale(.5)" d="M692 1020h0M771 942h0M685 957h0M760 958h0M715 949h0M679 981h0M755 963h0M695 1052h0M786 972h0M679 934h0M735 1072h0M728 962h0M794 1058h0M686 1050h0M792 1013h0M727 950h0M745 1037h0M701 951h0M784 971h0M754 991h0M702 1012h0M664 1011h0M706 968h0M722 1003h0M750 1074h0M791 940h0M715 973h0M685 1010h0M696 958h0M739 1008h0" stroke="#000" stroke-opacity="0.2" stroke-width="2.0" stroke-linecap="round" fill="none" filter="url(#bp)"/>
<path d="M370.2 485.5 373 482.4 381 482.2 384.8 484.5 384.8 490 383 494.5 378.5 495.8 374 494.2 371 491Z" fill="#000" fill-opacity="1.0" filter="url(#b1)"/>
<path d="M364.6 466.4V538.4M330.1 504.2H402.4" stroke="#7a7a7a" stroke-width="1.1" fill="none"/>
<text x="401.2" y="473.4" font-size="6.3" text-anchor="end" fill="#222" stroke="#222" stroke-width="0.22">74.8</text>
<text x="331.9" y="537.4" font-size="6.3" fill="#222" stroke="#222" stroke-width="0.22">16.2</text>
<text x="401.4" y="537.4" font-size="6.3" text-anchor="end" fill="#222" stroke="#222" stroke-width="0.22">5.55</text>
<text x="323.9" y="539.8" font-size="4.3" text-anchor="middle" fill="#333" stroke="#333" stroke-width="0.15">10<tspan font-size="2.9" dy="-1.7">0</tspan></text>
<text x="323.9" y="521.8" font-size="4.3" text-anchor="middle" fill="#333" stroke="#333" stroke-width="0.15">10<tspan font-size="2.9" dy="-1.7">1</tspan></text>
<text x="323.9" y="503.8" font-size="4.3" text-anchor="middle" fill="#333" stroke="#333" stroke-width="0.15">10<tspan font-size="2.9" dy="-1.7">2</tspan></text>
<text x="323.9" y="485.8" font-size="4.3" text-anchor="middle" fill="#333" stroke="#333" stroke-width="0.15">10<tspan font-size="2.9" dy="-1.7">3</tspan></text>
<text x="323.9" y="467.8" font-size="4.3" text-anchor="middle" fill="#333" stroke="#333" stroke-width="0.15">10<tspan font-size="2.9" dy="-1.7">4</tspan></text>
<text x="330.9" y="546.6" font-size="4.3" text-anchor="middle" fill="#333" stroke="#333" stroke-width="0.15">10<tspan font-size="2.9" dy="-1.7">0</tspan></text>
<text x="349" y="546.6" font-size="4.3" text-anchor="middle" fill="#333" stroke="#333" stroke-width="0.15">10<tspan font-size="2.9" dy="-1.7">1</tspan></text>
<text x="367.1" y="546.6" font-size="4.3" text-anchor="middle" fill="#333" stroke="#333" stroke-width="0.15">10<tspan font-size="2.9" dy="-1.7">2</tspan></text>
<text x="385.1" y="546.6" font-size="4.3" text-anchor="middle" fill="#333" stroke="#333" stroke-width="0.15">10<tspan font-size="2.9" dy="-1.7">3</tspan></text>
<text x="403.2" y="546.6" font-size="4.3" text-anchor="middle" fill="#333" stroke="#333" stroke-width="0.15">10<tspan font-size="2.9" dy="-1.7">4</tspan></text>
<rect x="424.8" y="466.4" width="72.3" height="72" fill="none" stroke="#a0a0a0" stroke-width="0.9"/>
<path d="M424.8 466.4V538.4H497.1" stroke="#666" stroke-width="1.1" fill="none"/>
<path d="M424.8 533h-1M430.2 538.4v1M424.8 529.8h-1M433.4 538.4v1M424.8 527.6h-1M435.7 538.4v1M424.8 525.8h-1M437.4 538.4v1M424.8 524.4h-1M438.9 538.4v1M424.8 523.2h-1M440.1 538.4v1M424.8 522.1h-1M441.1 538.4v1M424.8 521.2h-1M442 538.4v1M424.8 515h-1M448.3 538.4v1M424.8 511.8h-1M451.5 538.4v1M424.8 509.6h-1M453.8 538.4v1M424.8 507.8h-1M455.5 538.4v1M424.8 506.4h-1M456.9 538.4v1M424.8 505.2h-1M458.2 538.4v1M424.8 504.1h-1M459.2 538.4v1M424.8 503.2h-1M460.1 538.4v1M424.8 497h-1M466.4 538.4v1M424.8 493.8h-1M469.6 538.4v1M424.8 491.6h-1M471.8 538.4v1M424.8 489.8h-1M473.6 538.4v1M424.8 488.4h-1M475 538.4v1M424.8 487.2h-1M476.2 538.4v1M424.8 486.1h-1M477.3 538.4v1M424.8 485.2h-1M478.2 538.4v1M424.8 479h-1M484.5 538.4v1M424.8 475.8h-1M487.6 538.4v1M424.8 473.6h-1M489.9 538.4v1M424.8 471.8h-1M491.7 538.4v1M424.8 470.4h-1M493.1 538.4v1M424.8 469.2h-1M494.3 538.4v1M424.8 468.1h-1M495.3 538.4v1M424.8 467.2h-1M496.3 538.4v1M424.8 538.4h-1.8M424.8 538.4v1.8M424.8 520.4h-1.8M442.9 538.4v1.8M424.8 502.4h-1.8M460.9 538.4v1.8M424.8 484.4h-1.8M479 538.4v1.8M424.8 466.4h-1.8M497.1 538.4v1.8" stroke="#777" stroke-width="0.5" fill="none"/>
<path transform="scale(.5)" d="M906 1066h0M904 1058h0M884 1000h0M904 1034h0M896 1062h0M887 1043h0M921 1025h0M865 1026h0M885 1052h0M915 1034h0M881 1029h0M879 1051h0M920 1030h0M882 1014h0M881 1021h0M915 1045h0M890 997h0M915 1042h0M875 1028h0M902 1044h0M887 1043h0M901 1070h0M903 1044h0M878 1036h0M891 1028h0M930 1039h0M857 1037h0M915 1052h0M895 1035h0M886 1045h0M897 1059h0M910 1049h0M874 1050h0" stroke="#000" stroke-opacity="0.32" stroke-width="2.0" stroke-linecap="round" fill="none" filter="url(#bp)"/>
<path transform="scale(.5)" d="M932 972h0M949 983h0M945 974h0M944 986h0M957 990h0M948 993h0M955 968h0M938 975h0M945 981h0M952 991h0M945 960h0M944 979h0M939 971h0M939 973h0M939 975h0M943 967h0M929 986h0M936 964h0M946 965h0M945 981h0M950 981h0M947 978h0M942 972h0M945 978h0M925 987h0M930 977h0M945 959h0M946 972h0M941 970h0M941 983h0M936 983h0M932 982h0M936 992h0M936 983h0M947 979h0M940 973h0M937 988h0M952 1001h0M940 979h0M931 992h0M938 986h0M931 968h0M949 988h0M929 971h0M955 984h0M944 976h0M939 979h0M937 995h0M938 986h0M944 974h0M944 986h0M952 976h0M942 965h0M933 992h0M960 983h0M934 979h0M945 974h0M949 998h0M931 980h0M939 985h0M942 977h0M943 972h0M938 976h0M933 979h0M928 978h0M936 973h0M937 979h0M942 990h0M933 980h0M942 995h0M942 980h0M950 970h0M958 976h0M932 967h0M937 985h0M941 980h0M955 978h0M946 979h0M948 978h0M947 990h0M942 971h0M924 982h0M956 977h0M945 971h0M956 970h0M939 986h0M955 977h0M938 990h0M959 983h0M960 975h0M949 987h0M938 982h0M945 978h0M955 971h0M952 980h0M950 984h0M955 990h0M939 979h0M940 981h0M947 976h0M946 975h0M938 979h0M933 985h0M956 983h0M952 985h0M937 993h0M935 984h0M932 971h0M945 985h0M937 980h0M942 987h0M929 967h0M934 991h0M942 968h0M945 983h0M930 982h0M945 962h0M946 980h0M943 980h0M959 974h0M923 991h0M917 955h0M944 988h0M940 987h0M940 974h0M938 989h0M936 979h0M950 992h0M932 967h0M933 986h0M949 971h0M940 976h0M948 980h0M941 967h0M946 974h0M954 968h0M950 986h0M949 966h0M945 990h0M935 985h0M940 979h0M935 973h0M944 982h0M943 978h0M943 973h0M942 974h0M937 984h0M934 972h0M947 987h0M938 979h0M936 980h0M943 981h0M939 975h0M933 980h0M949 973h0M940 974h0M932 977h0M942 980h0M952 989h0M944 987h0M937 971h0M942 996h0M941 984h0M950 989h0M937 995h0M939 970h0M935 977h0M948 980h0M940 997h0M955 982h0M947 988h0M948 983h0M955 981h0M946 970h0M942 975h0M930 975h0M944 976h0M944 985h0M944 955h0M926 981h0M952 976h0M948 985h0M932 974h0M937 989h0M931 990h0M943 956h0M952 984h0M929 975h0M945 994h0M935 980h0M936 964h0M941 980h0M935 984h0M949 980h0M940 973h0M935 986h0M924 988h0M939 989h0M937 979h0M956 989h0M933 985h0M935 987h0M950 970h0M945 996h0M956 975h0M939 997h0M938 992h0M947 968h0M941 993h0M954 985h0M946 974h0M931 973h0M929 974h0M945 988h0M934 979h0M945 965h0M953 991h0M934 983h0M944 977h0M959 977h0M937 970h0M949 979h0M945 982h0M939 979h0M939 989h0M947 976h0M946 975h0M942 986h0M941 977h0M930 980h0M947 981h0M945 971h0M936 971h0M933 982h0M947 976h0M942 988h0M943 976h0M936 978h0M944 989h0M949 978h0M937 984h0M937 982h0M938 977h0M936 987h0M941 992h0M950 988h0M933 966h0M933 976h0M929 992h0M931 972h0M950 986h0M949 979h0M939 980h0M949 964h0M951 979h0M947 983h0M939 964h0M947 984h0M935 981h0M943 998h0M939 978h0M954 980h0M957 980h0M949 984h0M952 982h0M939 994h0M951 972h0M934 983h0M946 962h0M937 982h0M944 971h0M952 969h0M945 969h0M938 996h0M929 984h0M936 971h0M956 961h0M941 972h0M936 985h0M959 986h0M946 978h0M938 976h0M943 989h0M940 978h0M945 986h0M933 982h0M929 976h0M939 971h0M944 993h0M947 973h0M962 978h0M953 965h0M937 986h0M938 986h0M934 987h0M936 975h0M953 992h0M935 976h0M944 973h0M925 982h0M950 971h0M947 981h0M934 969h0M945 966h0M933 987h0M953 978h0M945 976h0M922 994h0M928 978h0M934 989h0M940 984h0M947 981h0M932 964h0M939 979h0M936 974h0M946 992h0M933 980h0M938 990h0M952 973h0M937 969h0M954 972h0M942 978h0M959 971h0M944 981h0M936 985h0M959 984h0M944 966h0M942 970h0M939 971h0M937 973h0M945 982h0M933 984h0M954 976h0M943 987h0M940 966h0M929 978h0M922 963h0M945 994h0M947 985h0M937 979h0M948 978h0M939 974h0M952 988h0M942 976h0M941 968h0M954 982h0M940 984h0M949 991h0M946 994h0M946 980h0M932 972h0M946 961h0M940 976h0M938 982h0M941 971h0M943 968h0M950 977h0M949 992h0M948 966h0M941 980h0M955 986h0M947 968h0M945 982h0M937 984h0M931 988h0M950 980h0M949 974h0M947 982h0M933 971h0M942 967h0M943 991h0M935 979h0M945 988h0M948 974h0M931 985h0M946 974h0M939 983h0M932 986h0M944 989h0M936 990h0M939 970h0M952 980h0M950 981h0M944 996h0M933 972h0M953 986h0M945 971h0M940 980h0M945 986h0M939 974h0M937 1001h0M939 989h0M935 981h0M936 978h0M945 980h0M943 965h0M926 976h0M955 987h0M944 982h0M945 962h0M948 991h0M947 977h0M958 983h0M939 971h0M933 981h0M930 982h0M925 982h0M939 985h0M933 973h0M934 980h0M950 980h0M945 986h0M927 986h0M947 985h0M926 964h0M941 965h0M933 974h0M945 978h0M951 971h0M926 985h0M946 981h0M937 981h0M938 975h0M949 987h0M934 987h0M953 968h0M957 996h0M931 983h0M934 972h0M932 978h0M921 982h0M934 973h0M949 979h0M947 984h0M942 973h0M937 968h0M949 982h0M952 976h0M946 992h0M951 987h0M953 970h0M953 978h0M956 976h0M942 986h0M947 983h0M957 968h0M946 979h0M942 974h0M947 966h0M955 993h0M942 973h0M934 980h0M928 1006h0M940 970h0M947 991h0M931 981h0M931 975h0M945 968h0M935 982h0M930 965h0M941 971h0M950 964h0M941 966h0M951 969h0M942 986h0M942 991h0M942 979h0M942 983h0M937 980h0M940 975h0M939 981h0M937 976h0M936 969h0M939 982h0M942 973h0M958 970h0M941 996h0M936 969h0M947 990h0M935 982h0M958 985h0M950 981h0M938 1002h0M930 991h0M940 973h0M938 988h0M935 974h0M935 988h0M944 981h0M945 990h0M942 989h0M953 998h0M928 976h0M943 967h0M950 992h0M948 972h0M940 974h0M935 976h0M950 977h0M960 974h0M942 979h0M938 989h0M953 993h0M942 985h0M947 996h0M955 991h0M955 991h0M944 974h0M940 975h0M929 997h0M942 978h0M924 969h0M942 983h0M933 983h0M947 978h0M940 974h0M935 975h0M951 980h0M940 968h0M954 976h0M939 982h0M937 986h0M938 971h0M937 977h0M944 984h0M947 979h0M947 972h0M938 973h0M938 965h0M943 982h0M947 969h0M938 977h0M942 974h0M943 988h0M958 976h0M929 981h0M952 975h0M943 978h0M927 977h0M943 986h0M937 980h0M945 996h0M935 974h0M950 970h0M940 968h0M940 976h0M945 1004h0M950 964h0M943 989h0M936 979h0M932 970h0M939 977h0M948 979h0M934 986h0M946 979h0M954 979h0M947 976h0M945 981h0M936 989h0M952 980h0M938 985h0M945 982h0M938 982h0M932 986h0M940 971h0M935 971h0M950 971h0M940 986h0M940 970h0M927 998h0M944 976h0M930 967h0M942 985h0M944 984h0M934 970h0M949 988h0M942 994h0M937 983h0M924 985h0M929 986h0M947 967h0M934 962h0M948 982h0M933 988h0M930 982h0M948 960h0M941 988h0M933 996h0M950 999h0M948 983h0M953 966h0M940 980h0M934 975h0M939 987h0M947 983h0M941 970h0M941 988h0M937 985h0M948 977h0M932 984h0M936 976h0M934 983h0M941 971h0M936 978h0M940 982h0M947 972h0M944 974h0M950 978h0M949 977h0M929 997h0M953 986h0M936 973h0M945 979h0M941 983h0M943 976h0M952 981h0M943 978h0M932 983h0M941 978h0M932 993h0M943 977h0M955 977h0M951 974h0M948 988h0M942 968h0M941 973h0M942 983h0M952 985h0M935 963h0M948 974h0M933 977h0M953 969h0M929 979h0M932 976h0M950 967h0M940 976h0M945 982h0M950 975h0M953 979h0M945 974h0M932 977h0M936 982h0M946 984h0M933 966h0M944 982h0M926 993h0M946 974h0M950 984h0M940 983h0M944 972h0M942 973h0M949 981h0M932 972h0M949 974h0M937 974h0M950 978h0M950 977h0M940 972h0M937 978h0M943 989h0M951 978h0M932 1008h0M935 990h0M946 983h0M929 980h0M947 971h0M941 988h0M959 1000h0M959 972h0M950 991h0M941 989h0M933 979h0M942 982h0M937 971h0M940 983h0M935 982h0M947 980h0M945 995h0M934 992h0M931 980h0M938 974h0M942 990h0M941 985h0M952 977h0M929 991h0M943 979h0M942 970h0M933 989h0M943 987h0M934 962h0M943 967h0M935 979h0M937 981h0M947 978h0M943 960h0M942 991h0M933 962h0M938 978h0M943 996h0M934 993h0M945 987h0M943 980h0M946 978h0M933 978h0M943 994h0M933 981h0M934 977h0M937 975h0M946 988h0M955 983h0M942 987h0M933 979h0M932 993h0M943 966h0M925 976h0M958 987h0M939 977h0M946 986h0M946 968h0M943 994h0M935 1017h0M933 986h0M945 1036h0M949 1027h0M949 1024h0M943 1019h0M949 1011h0M953 1019h0M950 1015h0M938 1022h0M938 1009h0M943 1017h0M946 995h0M949 1017h0M949 1026h0M946 1021h0M940 1007h0M943 1016h0M938 1009h0M943 1013h0M951 1006h0M947 1022h0M950 1002h0M944 1007h0M946 1008h0M945 1023h0M939 978h0M949 1013h0M955 1008h0M939 1006h0M946 1000h0M938 1022h0M939 997h0M943 1006h0M942 997h0M943 1009h0M939 1002h0M948 999h0M941 992h0M930 996h0M940 995h0M959 1022h0M938 1027h0M945 989h0M936 996h0M932 1007h0M938 1005h0M942 980h0M941 1004h0M934 1012h0M939 988h0M934 1005h0M947 1026h0M942 1001h0M942 999h0M943 996h0M949 1013h0M938 1013h0M944 1027h0M938 1009h0M940 1030h0M954 1030h0M939 981h0M949 1005h0M948 1013h0M945 1012h0M933 1033h0M943 1024h0M948 1023h0M946 1019h0M946 998h0M936 1010h0M941 1011h0M942 1025h0M943 1002h0M941 1024h0M938 999h0M940 1013h0M943 1020h0M940 1007h0M952 1009h0M951 987h0M948 1002h0M946 998h0M933 1011h0M949 1023h0M950 1003h0M953 1010h0M940 1006h0M951 1005h0M936 1031h0M946 1000h0M942 1016h0M940 1006h0M941 1024h0M944 996h0M950 997h0M938 1011h0M946 1009h0M942 1000h0M939 1010h0M938 1007h0M938 1013h0M952 1004h0M935 1022h0M937 1021h0M941 1013h0M942 1019h0M944 1009h0M948 1024h0M952 1006h0M941 1018h0M948 998h0M950 1000h0M943 1006h0M949 999h0M947 1010h0M937 998h0M950 1018h0M957 1013h0M945 1009h0M948 997h0M940 1029h0M937 1019h0M938 1028h0M944 1002h0M944 1010h0M949 998h0M962 1016h0M943 1020h0M948 1031h0M939 997h0M955 1015h0M942 1018h0M951 1012h0M940 1025h0M949 1002h0M942 1007h0M940 1027h0M946 1015h0M946 1009h0M944 1024h0M947 1011h0M947 1017h0M938 1028h0M943 1032h0M932 1028h0M949 1017h0M937 1012h0M953 1012h0M933 987h0M935 1028h0M944 1013h0M944 1005h0M951 1019h0M951 1014h0M947 1025h0M945 1008h0M946 994h0M944 999h0M950 1015h0M949 993h0M932 1011h0M948 1021h0M950 1017h0M937 997h0M938 1015h0M945 1001h0M946 1020h0M952 1008h0M953 1021h0M943 1025h0M951 998h0M952 1019h0M950 1016h0M942 1017h0M927 1004h0M942 1013h0M948 1010h0M939 1026h0M952 996h0M952 993h0M947 1039h0M942 995h0M946 1026h0M943 1022h0M933 1014h0M948 1008h0M943 1019h0M934 1004h0M952 1016h0M955 1015h0M946 1007h0M947 1018h0M930 1015h0M943 1004h0M946 990h0M935 1015h0M937 1003h0M934 1039h0M950 1029h0M942 1026h0M959 996h0M935 1022h0M949 994h0M945 1013h0M950 1015h0M946 1024h0M944 1028h0M955 1016h0M935 1022h0M941 999h0M938 1014h0M946 1018h0M936 1005h0M948 1035h0M931 1033h0M934 1001h0M948 1020h0M946 1013h0M935 1038h0M939 1012h0M941 1013h0M949 1004h0M953 1027h0M941 995h0M946 997h0M938 986h0M950 1005h0M940 1008h0M947 1016h0M938 1014h0M939 1019h0M939 1028h0M950 1013h0M945 1014h0M942 1019h0M947 1026h0M938 1024h0M947 1042h0M944 1022h0M951 1013h0M933 1011h0M939 1029h0M947 1031h0M947 1011h0M949 1034h0M942 1023h0M948 1012h0M942 1016h0M939 1024h0M949 1015h0M940 1014h0M940 1051h0M947 1021h0M953 1048h0M950 1034h0M949 1032h0M944 1011h0M950 1022h0M894 1033h0M895 1022h0M915 1019h0M926 999h0M918 997h0M905 1008h0M900 1015h0M898 1025h0M903 1018h0M920 998h0M893 1018h0M909 995h0M889 1043h0M894 1034h0M897 1020h0M899 1023h0M882 1015h0M893 1043h0M906 1028h0M902 1025h0M901 1012h0M902 1033h0M912 993h0M890 1025h0M920 993h0" stroke="#000" stroke-opacity="0.42" stroke-width="2.0" stroke-linecap="round" fill="none" filter="url(#bp)"/>
<path transform="scale(.5)" d="M854 1069h0M869 969h0M981 992h0M917 1013h0M908 1005h0M957 970h0M933 1041h0M965 1021h0M852 1003h0M965 1032h0M960 962h0M948 1011h0M898 1051h0M875 957h0M993 1025h0M974 1072h0M965 1048h0M918 990h0M937 1005h0M856 1068h0M920 1059h0M942 1075h0M951 956h0M933 1055h0M937 989h0M968 1021h0M943 958h0M978 974h0M927 939h0M918 1062h0" stroke="#000" stroke-opacity="0.2" stroke-width="2.0" stroke-linecap="round" fill="none" filter="url(#bp)"/>
<path d="M464.2 485.5 467 483 476 482.8 479.6 485 479.5 491 477.5 495.5 473 497 468.5 495.5 465 492Z" fill="#000" fill-opacity="1.0" filter="url(#b1)"/>
<path d="M460.5 466.4V538.4M424.8 504.2H497.1" stroke="#7a7a7a" stroke-width="1.1" fill="none"/>
<text x="495.9" y="473.4" font-size="6.3" text-anchor="end" fill="#222" stroke="#222" stroke-width="0.22">92.8</text>
<text x="426.6" y="537.4" font-size="6.3" fill="#222" stroke="#222" stroke-width="0.22">1.08</text>
<text x="496.1" y="537.4" font-size="6.3" text-anchor="end" fill="#222" stroke="#222" stroke-width="0.22">4.4</text>
<text x="418.6" y="539.8" font-size="4.3" text-anchor="middle" fill="#333" stroke="#333" stroke-width="0.15">10<tspan font-size="2.9" dy="-1.7">0</tspan></text>
<text x="418.6" y="521.8" font-size="4.3" text-anchor="middle" fill="#333" stroke="#333" stroke-width="0.15">10<tspan font-size="2.9" dy="-1.7">1</tspan></text>
<text x="418.6" y="503.8" font-size="4.3" text-anchor="middle" fill="#333" stroke="#333" stroke-width="0.15">10<tspan font-size="2.9" dy="-1.7">2</tspan></text>
<text x="418.6" y="485.8" font-size="4.3" text-anchor="middle" fill="#333" stroke="#333" stroke-width="0.15">10<tspan font-size="2.9" dy="-1.7">3</tspan></text>
<text x="418.6" y="467.8" font-size="4.3" text-anchor="middle" fill="#333" stroke="#333" stroke-width="0.15">10<tspan font-size="2.9" dy="-1.7">4</tspan></text>
<text x="425.6" y="546.6" font-size="4.3" text-anchor="middle" fill="#333" stroke="#333" stroke-width="0.15">10<tspan font-size="2.9" dy="-1.7">0</tspan></text>
<text x="443.7" y="546.6" font-size="4.3" text-anchor="middle" fill="#333" stroke="#333" stroke-width="0.15">10<tspan font-size="2.9" dy="-1.7">1</tspan></text>
<text x="461.8" y="546.6" font-size="4.3" text-anchor="middle" fill="#333" stroke="#333" stroke-width="0.15">10<tspan font-size="2.9" dy="-1.7">2</tspan></text>
<text x="479.8" y="546.6" font-size="4.3" text-anchor="middle" fill="#333" stroke="#333" stroke-width="0.15">10<tspan font-size="2.9" dy="-1.7">3</tspan></text>
<text x="497.9" y="546.6" font-size="4.3" text-anchor="middle" fill="#333" stroke="#333" stroke-width="0.15">10<tspan font-size="2.9" dy="-1.7">4</tspan></text>
<text x="234.4" y="564" font-size="9.6" fill="#111" stroke="#111" stroke-width="0.34" textLength="67.7" lengthAdjust="spacingAndGlyphs">Annexin V APC</text>
<text x="518.8" y="429.5" font-size="9.6" text-anchor="middle" fill="#111" stroke="#111" stroke-width="0.34" transform="rotate(-90 518.8 429.5)" textLength="27.6" lengthAdjust="spacingAndGlyphs">7-AAD</text>
<text x=".3" y="603.8" font-size="19" font-weight="bold" stroke="#000" stroke-width="0.28" textLength="13" lengthAdjust="spacingAndGlyphs">E</text>
<text x="90.9" y="612.6" font-size="10" fill="#111" stroke="#111" stroke-width="0.35" textLength="10.4" lengthAdjust="spacingAndGlyphs">#1</text>
<path d="M76.5 617.4H121.8" stroke="#1a1a1a" stroke-width="1.1"/>
<text x="78.9" y="628.6" font-size="9.6" font-weight="bold" fill="#111" stroke="#111" stroke-width="0.14" textLength="14.1" lengthAdjust="spacingAndGlyphs">NT</text>
<text x="103" y="628.6" font-size="9.6" font-weight="bold" fill="#111" stroke="#111" stroke-width="0.14" textLength="21.2" lengthAdjust="spacingAndGlyphs">CK2</text>
<rect x="71.9" y="633.1" width="56.1" height="14.3" fill="none" stroke="#111" stroke-width="1.1"/>
<rect x="71.9" y="651" width="56.1" height="17.6" fill="none" stroke="#111" stroke-width="1.1"/>
<text x="153.6" y="612.6" font-size="10" fill="#111" stroke="#111" stroke-width="0.35" textLength="12.1" lengthAdjust="spacingAndGlyphs">#2</text>
<path d="M137.4 617.4H181.9" stroke="#1a1a1a" stroke-width="1.1"/>
<text x="139.8" y="628.6" font-size="9.6" font-weight="bold" fill="#111" stroke="#111" stroke-width="0.14" textLength="13.9" lengthAdjust="spacingAndGlyphs">NT</text>
<text x="161.7" y="628.6" font-size="9.6" font-weight="bold" fill="#111" stroke="#111" stroke-width="0.14" textLength="20.1" lengthAdjust="spacingAndGlyphs">CK2</text>
<rect x="132.4" y="633.1" width="55.6" height="14.3" fill="none" stroke="#111" stroke-width="1.1"/>
<rect x="132.4" y="651" width="55.6" height="17.6" fill="none" stroke="#111" stroke-width="1.1"/>
<text x="215.3" y="612.6" font-size="10" fill="#111" stroke="#111" stroke-width="0.35" textLength="11.8" lengthAdjust="spacingAndGlyphs">#3</text>
<path d="M198.8 617.4H243.1" stroke="#1a1a1a" stroke-width="1.1"/>
<text x="199.8" y="628.6" font-size="9.6" font-weight="bold" fill="#111" stroke="#111" stroke-width="0.14" textLength="13.9" lengthAdjust="spacingAndGlyphs">NT</text>
<text x="223.6" y="628.6" font-size="9.6" font-weight="bold" fill="#111" stroke="#111" stroke-width="0.14" textLength="20.1" lengthAdjust="spacingAndGlyphs">CK2</text>
<rect x="193.1" y="633.1" width="56.3" height="14.3" fill="none" stroke="#111" stroke-width="1.1"/>
<rect x="193.1" y="651" width="56.3" height="17.6" fill="none" stroke="#111" stroke-width="1.1"/>
<text x="30.2" y="644.6" font-size="11" font-weight="bold" fill="#111" stroke="#111" stroke-width="0.16" textLength="31.1" lengthAdjust="spacingAndGlyphs">CK2α</text>
<text x="30.3" y="665.2" font-size="10.8" font-weight="bold" fill="#111" stroke="#111" stroke-width="0.16" textLength="28.2" lengthAdjust="spacingAndGlyphs">Actin</text>
<g filter="url(#b1)">
<ellipse cx="80.3" cy="638.9" rx="3.2" ry="1.8"/>
<ellipse cx="86.5" cy="639.1" rx="7" ry="1.3" fill-opacity="0.35"/>
<ellipse cx="112" cy="639.5" rx="10" ry="1.4" fill-opacity="0.06"/>
<ellipse cx="145.8" cy="639.9" rx="9.8" ry="1.75"/>
<ellipse cx="172" cy="640" rx="9.7" ry="1.4" fill-opacity="0.4"/>
<ellipse cx="207.3" cy="639.4" rx="8.9" ry="1.6"/>
<ellipse cx="233.5" cy="639.6" rx="9" ry="1.2" fill-opacity="0.3"/>
<ellipse cx="228" cy="639.5" rx="3.5" ry="1.1" fill-opacity="0.35"/>
<rect x="74.6" y="656.3" width="23.2" height="7.7" rx="3.9"/>
<rect x="97" y="656.3" width="26.5" height="7.7" rx="3.9"/>
<rect x="134.3" y="657" width="21.8" height="7.3" rx="3.6"/>
<rect x="160.8" y="656.8" width="22.2" height="7.5" rx="3.8"/>
<rect x="196.3" y="657.2" width="21.7" height="5.8" rx="2.9"/>
<rect x="223.8" y="657.6" width="21.8" height="5.7" rx="2.8"/>
</g>
<text x="358.9" y="603.8" font-size="18.4" font-weight="bold" stroke="#000" stroke-width="0.28" textLength="11.4" lengthAdjust="spacingAndGlyphs">F</text>
<path d="M385.1 592.5V686" stroke="#333" stroke-width="1.2" fill="none"/>
<path d="M382.7 685.2H385.1" stroke="#333" stroke-width="1"/>
<text x="382.2" y="687.6" font-size="7" text-anchor="end" fill="#444" stroke="#444" stroke-width="0.25">30</text>
<path d="M382.7 662.3H385.1" stroke="#333" stroke-width="1"/>
<text x="382.2" y="664.7" font-size="7" text-anchor="end" fill="#444" stroke="#444" stroke-width="0.25">40</text>
<path d="M382.7 639.3H385.1" stroke="#333" stroke-width="1"/>
<text x="382.2" y="641.7" font-size="7" text-anchor="end" fill="#444" stroke="#444" stroke-width="0.25">50</text>
<path d="M382.7 616.4H385.1" stroke="#333" stroke-width="1"/>
<text x="382.2" y="618.8" font-size="7" text-anchor="end" fill="#444" stroke="#444" stroke-width="0.25">60</text>
<path d="M382.7 593.5H385.1" stroke="#333" stroke-width="1"/>
<text x="382.2" y="595.9" font-size="7" text-anchor="end" fill="#444" stroke="#444" stroke-width="0.25">70</text>
<path d="M383.4 692.6H386.8M385.1 692.6V698.7H480" stroke="#333" stroke-width="1.2" fill="none"/>
<text x="382.8" y="701.2" font-size="6.5" text-anchor="end" fill="#444" stroke="#444" stroke-width="0.23">0</text>
<path d="M408.6 698.7V702" stroke="#333" stroke-width="1"/>
<path d="M456.1 698.7V702" stroke="#333" stroke-width="1"/>
<text x="409" y="710.5" font-size="10" text-anchor="middle" fill="#111" stroke="#111" stroke-width="0.35">NT</text>
<text x="456" y="710.5" font-size="10" text-anchor="middle" fill="#111" stroke="#111" stroke-width="0.35">CK2</text>
<text x="367.6" y="648.6" font-size="8.6" text-anchor="middle" fill="#222" stroke="#222" stroke-width="0.30" transform="rotate(-90 367.6 648.6)" textLength="65.5" lengthAdjust="spacingAndGlyphs">Percent live cells</text>
<text x="416.4" y="608.8" font-size="8.2" fill="#111" stroke="#111" stroke-width="0.29" textLength="36" lengthAdjust="spacingAndGlyphs"><tspan font-style="italic">P</tspan> = .0033</text>
<line x1="408.7" y1="622.2" x2="456.1" y2="649.2" stroke="#111" stroke-width="1.25"/>
<circle cx="408.7" cy="622.2" r="1.9"/><circle cx="456.1" cy="649.2" r="1.9"/>
<line x1="408.7" y1="632.2" x2="456.1" y2="656.5" stroke="#111" stroke-width="1.25"/>
<circle cx="408.7" cy="632.2" r="1.9"/><circle cx="456.1" cy="656.5" r="1.9"/>
<line x1="408.7" y1="655.1" x2="456.1" y2="677.9" stroke="#111" stroke-width="1.25"/>
<circle cx="408.7" cy="655.1" r="1.9"/><circle cx="456.1" cy="677.9" r="1.9"/>
<text x="-.2" y="728.2" font-size="19" font-weight="bold" stroke="#000" stroke-width="0.28" textLength="15.2" lengthAdjust="spacingAndGlyphs">G</text>
<text x="93.9" y="722.9" font-size="10.2" fill="#111" stroke="#111" stroke-width="0.36" textLength="18.4" lengthAdjust="spacingAndGlyphs">24h</text>
<text x="163.1" y="722.9" font-size="10.2" fill="#111" stroke="#111" stroke-width="0.36" textLength="18.7" lengthAdjust="spacingAndGlyphs">48h</text>
<path d="M62.2 727.5H145.6M148.3 727.5H197.3" stroke="#222" stroke-width="1"/>
<text x="74.2" y="741" font-size="9.3" fill="#111" stroke="#111" stroke-width="0.33" textLength="5.7" lengthAdjust="spacingAndGlyphs">0</text>
<text x="98.4" y="741" font-size="9.3" fill="#111" stroke="#111" stroke-width="0.33" textLength="19.2" lengthAdjust="spacingAndGlyphs">12.5</text>
<text x="126.7" y="741" font-size="9.3" fill="#111" stroke="#111" stroke-width="0.33" textLength="12.4" lengthAdjust="spacingAndGlyphs">25</text>
<text x="155.8" y="741" font-size="9.3" fill="#111" stroke="#111" stroke-width="0.33" textLength="6.2" lengthAdjust="spacingAndGlyphs">0</text>
<text x="175.7" y="741" font-size="9.3" fill="#111" stroke="#111" stroke-width="0.33" textLength="19.4" lengthAdjust="spacingAndGlyphs">12.5</text>
<text x="207.5" y="741.3" font-size="10" font-weight="bold" fill="#111" stroke="#111" stroke-width="0.15" textLength="47.9" lengthAdjust="spacingAndGlyphs">TBB (μM)</text>
<rect x="56.4" y="745.2" width="143.9" height="58.2" fill="none" stroke="#000" stroke-width="1.7"/>
<rect x="56.4" y="809" width="143.9" height="24.5" fill="none" stroke="#000" stroke-width="1.7"/>
<rect x="56.4" y="837" width="143.9" height="22.2" fill="none" stroke="#000" stroke-width="1.7"/>
<text x="208.3" y="763.6" font-size="10.4" fill="#111" stroke="#111" stroke-width="0.36" textLength="67.7" lengthAdjust="spacingAndGlyphs">Pro-caspase 3</text>
<text x="208.3" y="797.7" font-size="10.4" fill="#111" stroke="#111" stroke-width="0.36" textLength="88.8" lengthAdjust="spacingAndGlyphs">Cleaved caspase 3</text>
<text x="207.3" y="818.8" font-size="10.2" fill="#111" stroke="#111" stroke-width="0.36" textLength="29.5" lengthAdjust="spacingAndGlyphs">PARP</text>
<text x="207.3" y="832.3" font-size="10.2" fill="#111" stroke="#111" stroke-width="0.36" textLength="70.2" lengthAdjust="spacingAndGlyphs">Cleaved PARP</text>
<text x="208.6" y="852.1" font-size="10.3" fill="#111" stroke="#111" stroke-width="0.36" textLength="24.7" lengthAdjust="spacingAndGlyphs">Actin</text>
<g filter="url(#b1)">
<path d="M63 764.6L92.5 756.8Q96.5 760.9 92.5 765L63 769.6Q59 767.1 63 764.6Z"/>
<path d="M97.8 757.8L115.8 754.6Q121.9 758.5 115.8 762.4L97.8 765.4Q91.7 761.6 97.8 757.8Z"/>
<path d="M124.9 754.6L141.1 752.6Q147.3 756.9 141.1 761.2L124.9 762.4Q118.7 758.5 124.9 754.6Z"/>
<path d="M152.4 751.2L164.7 751.2Q172.5 756.1 164.7 761L152.4 761Q144.6 756.1 152.4 751.2Z"/>
<path d="M177.3 751.8L191.8 751.8Q199 756.3 191.8 760.8L177.3 760.8Q170.1 756.3 177.3 751.8Z"/>
<path d="M126.7 789.6L141 789.6Q143.1 790.9 141 792.2L126.7 792.2Q124.6 790.9 126.7 789.6Z" fill-opacity="0.55"/>
<path d="M126.7 795.8L141.1 795.8Q143.1 797 141.1 798.3L126.7 798.3Q124.7 797 126.7 795.8Z" fill-opacity="0.5"/>
<path d="M178.4 787.4L192.2 787.4Q196.7 790.2 192.2 793L178.4 793Q173.9 790.2 178.4 787.4Z"/>
<path d="M178.6 793.4L192 793.4Q196.8 796.4 192 799.4L178.6 799.4Q173.8 796.4 178.6 793.4Z"/>
<path d="M72.3 817.2L87.7 817.2Q92.2 820 87.7 822.8L72.3 822.8Q67.8 820 72.3 817.2Z"/>
<path d="M98 816.6L112.6 816.6Q115.8 818.6 112.6 820.6L98 820.6Q94.8 818.6 98 816.6Z"/>
<path d="M100.4 826.4L107.1 826.4Q109.3 827.8 107.1 829.2L100.4 829.2Q98.2 827.8 100.4 826.4Z" fill-opacity="0.85"/>
<path d="M124.1 815L138.1 815Q143.1 818.1 138.1 821.2L124.1 821.2Q119.1 818.1 124.1 815Z"/>
<path d="M124.4 825.2L137.1 825.2Q140.9 827.6 137.1 830L124.4 830Q120.6 827.6 124.4 825.2Z"/>
<path d="M150.6 813.6L163.4 813.6Q169.8 817.6 163.4 821.6L150.6 821.6Q144.2 817.6 150.6 813.6Z"/>
<path d="M176.2 816.5L191.4 816.5Q194 818.1 191.4 819.8L176.2 819.8Q173.6 818.1 176.2 816.5Z"/>
<path d="M177.3 825.8L190.7 825.8Q192.8 827.1 190.7 828.4L177.3 828.4Q175.2 827.1 177.3 825.8Z" fill-opacity="0.45"/>
<path d="M61.2 851.8L91.4 844.6Q95.6 847.8 91.4 851L61.2 857Q57 854.4 61.2 851.8Z"/>
<path d="M97.9 844.4L115.9 843.6Q121.8 847.3 115.9 851L97.9 851.8Q92 848.1 97.9 844.4Z"/>
<path d="M124.6 842.8L140.1 842.2Q146.7 846.4 140.1 850.6L124.6 851Q118 846.9 124.6 842.8Z"/>
<path d="M151.7 842L165.6 842Q172.3 846.2 165.6 850.4L151.7 850.4Q145 846.2 151.7 842Z"/>
<path d="M176.9 842L192.2 842Q198.9 846.2 192.2 850.4L176.9 850.4Q170.2 846.2 176.9 842Z"/>
</g>
<text x="339.1" y="750.3" font-size="18.4" font-weight="bold" stroke="#000" stroke-width="0.28" textLength="13.2" lengthAdjust="spacingAndGlyphs">H</text>
<path d="M368.7 739.5V836.5H503.7" stroke="#222" stroke-width="1.1" fill="none"/>
<path d="M366.4 836.5H368.7" stroke="#222" stroke-width="0.9"/>
<text x="366.1" y="838.8" font-size="6.3" text-anchor="end" fill="#222" stroke="#222" stroke-width="0.22">0</text>
<path d="M366.4 824.4H368.7" stroke="#222" stroke-width="0.9"/>
<text x="366.1" y="826.6" font-size="6.3" text-anchor="end" fill="#222" stroke="#222" stroke-width="0.22">10</text>
<path d="M366.4 812.3H368.7" stroke="#222" stroke-width="0.9"/>
<text x="366.1" y="814.5" font-size="6.3" text-anchor="end" fill="#222" stroke="#222" stroke-width="0.22">20</text>
<path d="M366.4 800.2H368.7" stroke="#222" stroke-width="0.9"/>
<text x="366.1" y="802.4" font-size="6.3" text-anchor="end" fill="#222" stroke="#222" stroke-width="0.22">30</text>
<path d="M366.4 788.1H368.7" stroke="#222" stroke-width="0.9"/>
<text x="366.1" y="790.3" font-size="6.3" text-anchor="end" fill="#222" stroke="#222" stroke-width="0.22">40</text>
<path d="M366.4 776H368.7" stroke="#222" stroke-width="0.9"/>
<text x="366.1" y="778.2" font-size="6.3" text-anchor="end" fill="#222" stroke="#222" stroke-width="0.22">50</text>
<path d="M366.4 763.8H368.7" stroke="#222" stroke-width="0.9"/>
<text x="366.1" y="766.1" font-size="6.3" text-anchor="end" fill="#222" stroke="#222" stroke-width="0.22">60</text>
<path d="M366.4 751.7H368.7" stroke="#222" stroke-width="0.9"/>
<text x="366.1" y="754" font-size="6.3" text-anchor="end" fill="#222" stroke="#222" stroke-width="0.22">70</text>
<path d="M366.4 739.6H368.7" stroke="#222" stroke-width="0.9"/>
<text x="366.1" y="741.9" font-size="6.3" text-anchor="end" fill="#222" stroke="#222" stroke-width="0.22">80</text>
<path d="M402.7 836.5V838.8" stroke="#222" stroke-width="0.8"/>
<path d="M437.7 836.5V838.8" stroke="#222" stroke-width="0.8"/>
<path d="M470 836.5V838.8" stroke="#222" stroke-width="0.8"/>
<text x="351.3" y="791.4" font-size="8.8" text-anchor="middle" fill="#222" stroke="#222" stroke-width="0.31" transform="rotate(-90 351.3 791.4)" textLength="65" lengthAdjust="spacingAndGlyphs">Percent live cells</text>
<path d="M386.1 757.5V756.2M383.9 756.2H388.3" stroke="#111" stroke-width="1"/>
<rect x="379" y="757.5" width="14.3" height="79"/>
<path d="M419.5 750.2V745.9M417.3 745.9H421.7" stroke="#111" stroke-width="1"/>
<rect x="412.7" y="750.2" width="13.7" height="86.3"/>
<path d="M453.6 804.6V800.6M451.4 800.6H455.8" stroke="#111" stroke-width="1"/>
<rect x="447.1" y="804.6" width="12.9" height="31.9"/>
<path d="M486.8 773.7V771M484.6 771H489" stroke="#111" stroke-width="1"/>
<rect x="479.4" y="773.7" width="14.8" height="62.8"/>
<text x="368.4" y="851.7" font-size="10" fill="#111" stroke="#111" stroke-width="0.35" textLength="38.9" lengthAdjust="spacingAndGlyphs">Medium</text>
<text x="409.6" y="851.7" font-size="10" fill="#111" stroke="#111" stroke-width="0.35" textLength="23.3" lengthAdjust="spacingAndGlyphs">QVD</text>
<text x="444.4" y="851.7" font-size="10" fill="#111" stroke="#111" stroke-width="0.35" textLength="20.8" lengthAdjust="spacingAndGlyphs">TBB</text>
<text x="474" y="851.7" font-size="10" fill="#111" stroke="#111" stroke-width="0.35" textLength="29.7" lengthAdjust="spacingAndGlyphs">QVD+</text>
<text x="474.5" y="861.2" font-size="10" fill="#111" stroke="#111" stroke-width="0.35" textLength="20.7" lengthAdjust="spacingAndGlyphs">TBB</text>
</g>
</svg>
</body></html>
